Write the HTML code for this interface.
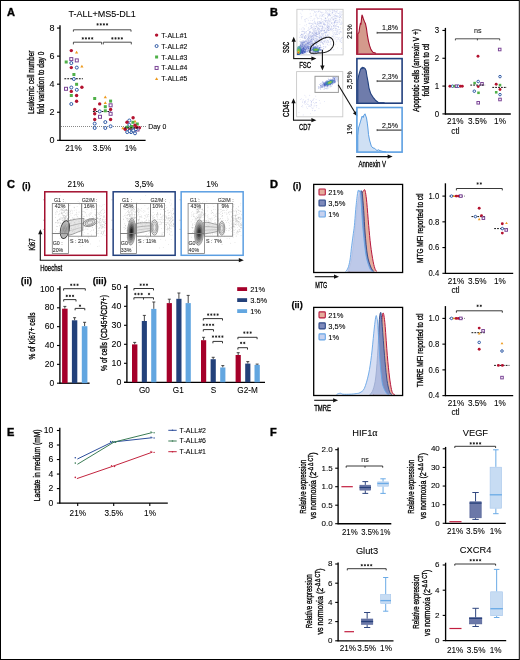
<!DOCTYPE html>
<html><head><meta charset="utf-8"><style>
html,body{margin:0;padding:0;background:#fff;}
svg{display:block;will-change:transform;}
text{font-family:"Liberation Sans", sans-serif;stroke:#000;stroke-width:0.1px;stroke-opacity:0.8;}
.cd{font-weight:normal;stroke-width:0.35px;stroke-opacity:0.9;}
</style></head><body>
<svg width="520" height="660" viewBox="0 0 520 660">
<rect x="0" y="0" width="520" height="660" fill="#fff"/>
<text x="7" y="16" font-size="11" font-weight="bold" fill="#000" style="stroke-width:0.5px">A</text>
<text x="102.1" y="16.6" font-size="9.3" text-anchor="middle" textLength="67.3" lengthAdjust="spacingAndGlyphs" fill="#000" >T-ALL+MS5-DL1</text>
<line x1="60" y1="25.2" x2="60" y2="140.8" stroke="#000" stroke-width="1.35" />
<line x1="59.5" y1="140.3" x2="145.6" y2="140.3" stroke="#000" stroke-width="1.35" />
<line x1="57" y1="140.3" x2="60" y2="140.3" stroke="#000" stroke-width="1.1" />
<text x="54.4" y="142.91" font-size="9" text-anchor="end" fill="#000" >0</text>
<line x1="57" y1="112.24" x2="60" y2="112.24" stroke="#000" stroke-width="1.1" />
<text x="54.4" y="114.85" font-size="9" text-anchor="end" fill="#000" >2</text>
<line x1="57" y1="84.18" x2="60" y2="84.18" stroke="#000" stroke-width="1.1" />
<text x="54.4" y="86.79" font-size="9" text-anchor="end" fill="#000" >4</text>
<line x1="57" y1="56.12" x2="60" y2="56.12" stroke="#000" stroke-width="1.1" />
<text x="54.4" y="58.73" font-size="9" text-anchor="end" fill="#000" >6</text>
<line x1="57" y1="28.06" x2="60" y2="28.06" stroke="#000" stroke-width="1.1" />
<text x="54.4" y="30.67" font-size="9" text-anchor="end" fill="#000" >8</text>
<line x1="61" y1="126.5" x2="146" y2="126.5" stroke="#555" stroke-width="0.7" stroke-dasharray="1 1"/>
<text x="148.3" y="129.2" font-size="7.5" textLength="18" lengthAdjust="spacingAndGlyphs" fill="#000" >Day 0</text>
<text x="73.5" y="150.8" font-size="8.2" text-anchor="middle" fill="#000" >21%</text>
<text x="102" y="150.8" font-size="8.2" text-anchor="middle" fill="#000" >3.5%</text>
<text x="130.7" y="150.8" font-size="8.2" text-anchor="middle" fill="#000" >1%</text>
<text transform="translate(34,82.3) rotate(-90)" x="0" y="0" font-size="9" text-anchor="middle" class="cd" textLength="63.6" lengthAdjust="spacingAndGlyphs" fill="#000">Leukemic cell number</text>
<text transform="translate(43.6,82.9) rotate(-90)" x="0" y="0" font-size="9" text-anchor="middle" class="cd" textLength="62.4" lengthAdjust="spacingAndGlyphs" fill="#000">fold variation to day 0</text>
<path d="M73.4,31.7 V29.8 H131 V31.7" stroke="#222" stroke-width="0.8" fill="none" />
<path d="M73.4,44.4 V42.2 H101.6 V44.4" stroke="#222" stroke-width="0.8" fill="none" />
<path d="M103.3,44.4 V42.2 H131.3 V44.4" stroke="#222" stroke-width="0.8" fill="none" />
<circle cx="97.58" cy="24.4" r="0.8" fill="#222"/>
<path d="M97.58,25.65 L97.58,23.15 M96.49,25.02 L98.66,23.77 M96.49,23.77 L98.66,25.02 " stroke="#222" stroke-width="0.55" fill="none" />
<circle cx="100.73" cy="24.4" r="0.8" fill="#222"/>
<path d="M100.73,25.65 L100.73,23.15 M99.64,25.02 L101.81,23.77 M99.64,23.77 L101.81,25.02 " stroke="#222" stroke-width="0.55" fill="none" />
<circle cx="103.88" cy="24.4" r="0.8" fill="#222"/>
<path d="M103.88,25.65 L103.88,23.15 M102.79,25.02 L104.96,23.77 M102.79,23.77 L104.96,25.02 " stroke="#222" stroke-width="0.55" fill="none" />
<circle cx="107.03" cy="24.4" r="0.8" fill="#222"/>
<path d="M107.03,25.65 L107.03,23.15 M105.94,25.02 L108.11,23.77 M105.94,23.77 L108.11,25.02 " stroke="#222" stroke-width="0.55" fill="none" />
<circle cx="82.78" cy="38.4" r="0.8" fill="#222"/>
<path d="M82.78,39.65 L82.78,37.15 M81.69,39.02 L83.86,37.77 M81.69,37.77 L83.86,39.02 " stroke="#222" stroke-width="0.55" fill="none" />
<circle cx="85.93" cy="38.4" r="0.8" fill="#222"/>
<path d="M85.93,39.65 L85.93,37.15 M84.84,39.02 L87.01,37.77 M84.84,37.77 L87.01,39.02 " stroke="#222" stroke-width="0.55" fill="none" />
<circle cx="89.08" cy="38.4" r="0.8" fill="#222"/>
<path d="M89.08,39.65 L89.08,37.15 M87.99,39.02 L90.16,37.77 M87.99,37.77 L90.16,39.02 " stroke="#222" stroke-width="0.55" fill="none" />
<circle cx="92.23" cy="38.4" r="0.8" fill="#222"/>
<path d="M92.23,39.65 L92.23,37.15 M91.14,39.02 L93.31,37.77 M91.14,37.77 L93.31,39.02 " stroke="#222" stroke-width="0.55" fill="none" />
<circle cx="112.38" cy="38.4" r="0.8" fill="#222"/>
<path d="M112.38,39.65 L112.38,37.15 M111.29,39.02 L113.46,37.77 M111.29,37.77 L113.46,39.02 " stroke="#222" stroke-width="0.55" fill="none" />
<circle cx="115.53" cy="38.4" r="0.8" fill="#222"/>
<path d="M115.53,39.65 L115.53,37.15 M114.44,39.02 L116.61,37.77 M114.44,37.77 L116.61,39.02 " stroke="#222" stroke-width="0.55" fill="none" />
<circle cx="118.67" cy="38.4" r="0.8" fill="#222"/>
<path d="M118.67,39.65 L118.67,37.15 M117.59,39.02 L119.76,37.77 M117.59,37.77 L119.76,39.02 " stroke="#222" stroke-width="0.55" fill="none" />
<circle cx="121.83" cy="38.4" r="0.8" fill="#222"/>
<path d="M121.83,39.65 L121.83,37.15 M120.74,39.02 L122.91,37.77 M120.74,37.77 L122.91,39.02 " stroke="#222" stroke-width="0.55" fill="none" />
<line x1="64.4" y1="78.7" x2="82.9" y2="78.7" stroke="#111" stroke-width="1.1" stroke-dasharray="1.8 1.1"/>
<line x1="92.9" y1="111.5" x2="110.7" y2="111.5" stroke="#111" stroke-width="1.1" stroke-dasharray="1.8 1.1"/>
<circle cx="71.3" cy="50.6" r="1.7" fill="#b3122f"/>
<path d="M76.6,50.83 L78.2,53.61 L75,53.61 Z" fill="#ee9a1c"/>
<rect x="69.8" y="57.6" width="3" height="3" fill="#fff" stroke="#7b4596" stroke-width="1" />
<rect x="75.3" y="58.9" width="3" height="3" fill="#fff" stroke="#7b4596" stroke-width="1" />
<rect x="64.7" y="60.5" width="3" height="3" fill="#4fb048" stroke="none" stroke-width="1" />
<circle cx="71.3" cy="63.1" r="1.5" fill="#fff" stroke="#2f5aa6" stroke-width="1.0"/>
<circle cx="71.3" cy="67.6" r="1.7" fill="#b3122f"/>
<circle cx="76.8" cy="67.6" r="1.5" fill="#fff" stroke="#2f5aa6" stroke-width="1.0"/>
<path d="M81.9,64.83 L83.5,67.61 L80.3,67.61 Z" fill="#ee9a1c"/>
<rect x="72.4" y="73" width="3" height="3" fill="#4fb048" stroke="none" stroke-width="1" />
<circle cx="73.9" cy="79" r="1.5" fill="#fff" stroke="#2f5aa6" stroke-width="1.0"/>
<rect x="75.1" y="82.8" width="3" height="3" fill="#4fb048" stroke="none" stroke-width="1" />
<circle cx="81.9" cy="87.2" r="1.7" fill="#b3122f"/>
<rect x="64.5" y="87.3" width="3" height="3" fill="#fff" stroke="#7b4596" stroke-width="1" />
<circle cx="71.3" cy="87.5" r="1.5" fill="#fff" stroke="#2f5aa6" stroke-width="1.0"/>
<circle cx="76.8" cy="89.8" r="1.5" fill="#fff" stroke="#2f5aa6" stroke-width="1.0"/>
<circle cx="71.3" cy="91.4" r="1.7" fill="#b3122f"/>
<rect x="69.8" y="94" width="3" height="3" fill="#4fb048" stroke="none" stroke-width="1" />
<circle cx="76.6" cy="95.5" r="1.7" fill="#b3122f"/>
<circle cx="76.6" cy="101.3" r="1.7" fill="#b3122f"/>
<circle cx="71.3" cy="104" r="1.5" fill="#fff" stroke="#2f5aa6" stroke-width="1.0"/>
<rect x="93.2" y="97" width="3" height="3" fill="#4fb048" stroke="none" stroke-width="1" />
<path d="M105.3,95.43 L106.9,98.21 L103.7,98.21 Z" fill="#ee9a1c"/>
<path d="M105.3,101.13 L106.9,103.91 L103.7,103.91 Z" fill="#ee9a1c"/>
<rect x="109.1" y="99.6" width="3" height="3" fill="#4fb048" stroke="none" stroke-width="1" />
<circle cx="99.7" cy="103.9" r="1.7" fill="#b3122f"/>
<rect x="109.1" y="103.8" width="3" height="3" fill="#fff" stroke="#7b4596" stroke-width="1" />
<rect x="103.8" y="105.2" width="3" height="3" fill="#4fb048" stroke="none" stroke-width="1" />
<circle cx="94.7" cy="109.4" r="1.7" fill="#b3122f"/>
<circle cx="110.6" cy="109.4" r="1.7" fill="#b3122f"/>
<rect x="103.8" y="109.3" width="3" height="3" fill="#4fb048" stroke="none" stroke-width="1" />
<circle cx="99.7" cy="111.4" r="1.5" fill="#fff" stroke="#2f5aa6" stroke-width="1.0"/>
<circle cx="94.7" cy="113.8" r="1.7" fill="#b3122f"/>
<rect x="109.1" y="112.3" width="3" height="3" fill="#fff" stroke="#7b4596" stroke-width="1" />
<rect x="98.5" y="115.3" width="3" height="3" fill="#fff" stroke="#7b4596" stroke-width="1" />
<circle cx="94.7" cy="119.5" r="1.7" fill="#b3122f"/>
<circle cx="110.6" cy="119.5" r="1.7" fill="#b3122f"/>
<circle cx="105.3" cy="122.1" r="1.5" fill="#fff" stroke="#2f5aa6" stroke-width="1.0"/>
<circle cx="94.7" cy="123.6" r="1.5" fill="#fff" stroke="#2f5aa6" stroke-width="1.0"/>
<circle cx="94.7" cy="128" r="1.5" fill="#fff" stroke="#2f5aa6" stroke-width="1.0"/>
<circle cx="105.3" cy="128" r="1.5" fill="#fff" stroke="#2f5aa6" stroke-width="1.0"/>
<circle cx="110.6" cy="126.3" r="1.5" fill="#fff" stroke="#2f5aa6" stroke-width="1.0"/>
<circle cx="133.1" cy="117.8" r="1.7" fill="#b3122f"/>
<circle cx="129.3" cy="120.5" r="1.5" fill="#fff" stroke="#2f5aa6" stroke-width="1.0"/>
<path d="M135,119.63 L136.6,122.41 L133.4,122.41 Z" fill="#ee9a1c"/>
<circle cx="127" cy="122.3" r="1.7" fill="#b3122f"/>
<rect x="131.4" y="120.8" width="3" height="3" fill="#4fb048" stroke="none" stroke-width="1" />
<rect x="135.8" y="122.5" width="3" height="3" fill="#4fb048" stroke="none" stroke-width="1" />
<circle cx="129.3" cy="124.9" r="1.5" fill="#fff" stroke="#2f5aa6" stroke-width="1.0"/>
<rect x="130" y="125" width="3" height="3" fill="#4fb048" stroke="none" stroke-width="1" />
<circle cx="135" cy="125.2" r="1.7" fill="#b3122f"/>
<path d="M122.9,126.43 L124.5,129.21 L121.3,129.21 Z" fill="#ee9a1c"/>
<rect x="125.7" y="125.7" width="3" height="3" fill="#4fb048" stroke="none" stroke-width="1" />
<circle cx="125.2" cy="129.2" r="1.7" fill="#b3122f"/>
<circle cx="139.4" cy="127.8" r="1.7" fill="#b3122f"/>
<rect x="136" y="128" width="3" height="3" fill="#fff" stroke="#7b4596" stroke-width="1" />
<rect x="129.5" y="127" width="3" height="3" fill="#4fb048" stroke="none" stroke-width="1" />
<circle cx="129.5" cy="129.8" r="1.7" fill="#b3122f"/>
<rect x="132" y="129" width="3" height="3" fill="#fff" stroke="#7b4596" stroke-width="1" />
<circle cx="127.2" cy="132.1" r="1.5" fill="#fff" stroke="#2f5aa6" stroke-width="1.0"/>
<circle cx="131" cy="132.1" r="1.5" fill="#fff" stroke="#2f5aa6" stroke-width="1.0"/>
<circle cx="135" cy="133.3" r="1.5" fill="#fff" stroke="#2f5aa6" stroke-width="1.0"/>
<circle cx="133.3" cy="130.4" r="1.5" fill="#fff" stroke="#2f5aa6" stroke-width="1.0"/>
<circle cx="135.9" cy="129.2" r="1.5" fill="#fff" stroke="#2f5aa6" stroke-width="1.0"/>
<circle cx="136.5" cy="127.3" r="1.7" fill="#b3122f"/>
<circle cx="129.5" cy="131" r="1.5" fill="#fff" stroke="#2f5aa6" stroke-width="1.0"/>
<line x1="124.5" y1="127.8" x2="138.5" y2="127.8" stroke="#111" stroke-width="1.1" stroke-dasharray="1.8 1.1"/>
<circle cx="156.6" cy="35.1" r="1.7" fill="#b3122f"/>
<text x="161.3" y="37.6" font-size="7" textLength="26" lengthAdjust="spacingAndGlyphs" fill="#000" >T-ALL#1</text>
<circle cx="156.6" cy="46.05" r="1.5" fill="#fff" stroke="#2f5aa6" stroke-width="1.0"/>
<text x="161.3" y="48.55" font-size="7" textLength="26" lengthAdjust="spacingAndGlyphs" fill="#000" >T-ALL#2</text>
<rect x="155.1" y="55.5" width="3" height="3" fill="#4fb048" stroke="none" stroke-width="1" />
<text x="161.3" y="59.5" font-size="7" textLength="26" lengthAdjust="spacingAndGlyphs" fill="#000" >T-ALL#3</text>
<rect x="155.1" y="66.45" width="3" height="3" fill="#fff" stroke="#7b4596" stroke-width="1" />
<text x="161.3" y="70.45" font-size="7" textLength="26" lengthAdjust="spacingAndGlyphs" fill="#000" >T-ALL#4</text>
<path d="M156.6,77.23 L158.2,80.01 L155,80.01 Z" fill="#ee9a1c"/>
<text x="161.3" y="81.4" font-size="7" textLength="26" lengthAdjust="spacingAndGlyphs" fill="#000" >T-ALL#5</text>
<text x="270" y="16.2" font-size="11" font-weight="bold" fill="#000" style="stroke-width:0.5px">B</text>
<rect x="296.9" y="9.3" width="46.2" height="45.6" fill="none" stroke="#c9c9c9" stroke-width="0.9" />
<g fill="#6a7ad0" fill-opacity="0.4"><circle cx="300.34" cy="52.69" r="0.4"/><circle cx="321.44" cy="30.04" r="0.4"/><circle cx="306.16" cy="47.38" r="0.4"/><circle cx="334.81" cy="22.04" r="0.4"/><circle cx="321.02" cy="18.33" r="0.4"/><circle cx="339.65" cy="13.81" r="0.4"/><circle cx="325.63" cy="20.71" r="0.4"/><circle cx="298.38" cy="52.25" r="0.4"/><circle cx="331.43" cy="29.37" r="0.4"/><circle cx="312.61" cy="40.52" r="0.4"/><circle cx="306.31" cy="42" r="0.4"/><circle cx="310.19" cy="32.97" r="0.4"/><circle cx="323.83" cy="36.17" r="0.4"/><circle cx="302.44" cy="47.1" r="0.4"/><circle cx="309.65" cy="41.45" r="0.4"/><circle cx="308.98" cy="37.12" r="0.4"/><circle cx="312.01" cy="27.79" r="0.4"/><circle cx="314.46" cy="34.81" r="0.4"/><circle cx="318.35" cy="25.65" r="0.4"/><circle cx="315.3" cy="49.9" r="0.4"/><circle cx="309.51" cy="31.74" r="0.4"/><circle cx="303.64" cy="53.62" r="0.4"/><circle cx="297.5" cy="53.16" r="0.4"/><circle cx="300.22" cy="51.32" r="0.4"/><circle cx="302.77" cy="48.2" r="0.4"/><circle cx="316.23" cy="34.77" r="0.4"/><circle cx="306.14" cy="31.86" r="0.4"/><circle cx="306.87" cy="41.1" r="0.4"/><circle cx="317.11" cy="36.5" r="0.4"/><circle cx="301.83" cy="34.26" r="0.4"/><circle cx="308.92" cy="33.77" r="0.4"/><circle cx="300.49" cy="51.51" r="0.4"/><circle cx="322.06" cy="39.29" r="0.4"/><circle cx="306.08" cy="44.34" r="0.4"/><circle cx="305.02" cy="46.62" r="0.4"/><circle cx="325.96" cy="28.25" r="0.4"/><circle cx="298.2" cy="53.53" r="0.4"/><circle cx="299.02" cy="49.87" r="0.4"/><circle cx="319.06" cy="18.27" r="0.4"/><circle cx="323.19" cy="24.68" r="0.4"/><circle cx="306.21" cy="40.77" r="0.4"/><circle cx="325.74" cy="34.58" r="0.4"/><circle cx="326.37" cy="32.09" r="0.4"/><circle cx="306.42" cy="47.37" r="0.4"/><circle cx="298.78" cy="52.65" r="0.4"/><circle cx="316.49" cy="26.28" r="0.4"/><circle cx="302.81" cy="42.09" r="0.4"/><circle cx="298.41" cy="50.28" r="0.4"/><circle cx="316.65" cy="32.87" r="0.4"/><circle cx="324.23" cy="41.01" r="0.4"/><circle cx="298.46" cy="52.51" r="0.4"/><circle cx="321.37" cy="37.35" r="0.4"/><circle cx="327.9" cy="23.59" r="0.4"/><circle cx="339.51" cy="33.95" r="0.4"/><circle cx="311.49" cy="49.85" r="0.4"/><circle cx="300.53" cy="52.18" r="0.4"/><circle cx="325.96" cy="42.97" r="0.4"/><circle cx="300.69" cy="45.75" r="0.4"/><circle cx="337.07" cy="16.31" r="0.4"/><circle cx="304.7" cy="42.92" r="0.4"/><circle cx="300.13" cy="52.55" r="0.4"/><circle cx="318.61" cy="30.44" r="0.4"/><circle cx="303.36" cy="48.76" r="0.4"/><circle cx="315.53" cy="38.17" r="0.4"/><circle cx="325.22" cy="24.64" r="0.4"/><circle cx="306.98" cy="46.55" r="0.4"/><circle cx="305.16" cy="51.35" r="0.4"/><circle cx="303.67" cy="41.41" r="0.4"/><circle cx="334.04" cy="34.98" r="0.4"/><circle cx="298.71" cy="54.36" r="0.4"/><circle cx="299.13" cy="54.14" r="0.4"/><circle cx="324.14" cy="31.84" r="0.4"/><circle cx="311.84" cy="41.27" r="0.4"/><circle cx="336.75" cy="34.36" r="0.4"/><circle cx="338.14" cy="26.78" r="0.4"/><circle cx="299.18" cy="52.2" r="0.4"/><circle cx="325.36" cy="18.65" r="0.4"/><circle cx="334.02" cy="49.17" r="0.4"/><circle cx="327.29" cy="13.09" r="0.4"/><circle cx="305.04" cy="47.43" r="0.4"/><circle cx="306.84" cy="51.44" r="0.4"/><circle cx="313.58" cy="46.52" r="0.4"/><circle cx="304.39" cy="48.77" r="0.4"/><circle cx="312.51" cy="32.55" r="0.4"/><circle cx="321.93" cy="41.84" r="0.4"/><circle cx="333.18" cy="28.52" r="0.4"/><circle cx="317.97" cy="34.33" r="0.4"/><circle cx="299.83" cy="51.88" r="0.4"/><circle cx="310.55" cy="45.09" r="0.4"/><circle cx="316.22" cy="33.55" r="0.4"/><circle cx="299.04" cy="53.8" r="0.4"/><circle cx="306.51" cy="49.02" r="0.4"/><circle cx="317.44" cy="45.75" r="0.4"/><circle cx="304.83" cy="45.68" r="0.4"/><circle cx="307.66" cy="51.25" r="0.4"/><circle cx="321.89" cy="47.54" r="0.4"/><circle cx="297.74" cy="52.55" r="0.4"/><circle cx="303.59" cy="51.52" r="0.4"/><circle cx="312.9" cy="29.2" r="0.4"/><circle cx="305.71" cy="41.67" r="0.4"/><circle cx="326.16" cy="38.54" r="0.4"/><circle cx="304.86" cy="45.74" r="0.4"/><circle cx="298.81" cy="54.47" r="0.4"/><circle cx="302.48" cy="51.1" r="0.4"/><circle cx="320.58" cy="44.74" r="0.4"/><circle cx="305.83" cy="40.75" r="0.4"/><circle cx="317.51" cy="21.14" r="0.4"/><circle cx="298.72" cy="52.91" r="0.4"/><circle cx="330.11" cy="28.55" r="0.4"/><circle cx="297.78" cy="53.25" r="0.4"/><circle cx="321.96" cy="25.53" r="0.4"/><circle cx="305.28" cy="36.55" r="0.4"/><circle cx="307.28" cy="52.1" r="0.4"/><circle cx="308.18" cy="37.68" r="0.4"/><circle cx="300.01" cy="49.58" r="0.4"/><circle cx="324.55" cy="27.87" r="0.4"/><circle cx="297.59" cy="53.18" r="0.4"/><circle cx="301.33" cy="43.04" r="0.4"/><circle cx="327.71" cy="37.85" r="0.4"/><circle cx="302.58" cy="42.49" r="0.4"/><circle cx="298.97" cy="49.69" r="0.4"/><circle cx="302.65" cy="45.13" r="0.4"/><circle cx="337.21" cy="24.14" r="0.4"/><circle cx="301.39" cy="45.58" r="0.4"/><circle cx="299.06" cy="51.85" r="0.4"/><circle cx="327.96" cy="20.65" r="0.4"/><circle cx="331.1" cy="17.89" r="0.4"/><circle cx="311.18" cy="37.57" r="0.4"/><circle cx="318.55" cy="40.57" r="0.4"/><circle cx="311.78" cy="42.93" r="0.4"/><circle cx="301.23" cy="51.92" r="0.4"/><circle cx="307.06" cy="47.3" r="0.4"/><circle cx="305.2" cy="46.24" r="0.4"/><circle cx="300.86" cy="50.34" r="0.4"/><circle cx="327.81" cy="26.06" r="0.4"/><circle cx="306.25" cy="48.3" r="0.4"/><circle cx="321.62" cy="37.8" r="0.4"/><circle cx="302.77" cy="52.25" r="0.4"/><circle cx="306.28" cy="43.32" r="0.4"/><circle cx="304.84" cy="33.74" r="0.4"/><circle cx="324.37" cy="23.14" r="0.4"/><circle cx="325.38" cy="36.92" r="0.4"/><circle cx="341.83" cy="12.28" r="0.4"/><circle cx="340.1" cy="41.72" r="0.4"/><circle cx="315.34" cy="23.32" r="0.4"/><circle cx="334.87" cy="14.42" r="0.4"/><circle cx="309.35" cy="40.83" r="0.4"/><circle cx="305.44" cy="50.4" r="0.4"/><circle cx="335.78" cy="18.38" r="0.4"/><circle cx="311.05" cy="47.37" r="0.4"/><circle cx="322.07" cy="33.73" r="0.4"/><circle cx="308.58" cy="39.06" r="0.4"/><circle cx="304.97" cy="44.88" r="0.4"/><circle cx="323.27" cy="33.25" r="0.4"/><circle cx="306.32" cy="48.43" r="0.4"/><circle cx="308.59" cy="27.72" r="0.4"/><circle cx="314.16" cy="20.03" r="0.4"/><circle cx="319.49" cy="44.46" r="0.4"/><circle cx="300.21" cy="51.18" r="0.4"/><circle cx="340.06" cy="31.53" r="0.4"/><circle cx="304.55" cy="32.94" r="0.4"/><circle cx="310.67" cy="45.03" r="0.4"/><circle cx="334.69" cy="26.54" r="0.4"/><circle cx="321.91" cy="28.16" r="0.4"/><circle cx="300.95" cy="51.12" r="0.4"/><circle cx="312.74" cy="44.07" r="0.4"/><circle cx="313.59" cy="45.37" r="0.4"/><circle cx="321.74" cy="38.11" r="0.4"/><circle cx="313.02" cy="35.88" r="0.4"/><circle cx="338.66" cy="13.58" r="0.4"/><circle cx="319.61" cy="16.75" r="0.4"/><circle cx="304.8" cy="45.88" r="0.4"/><circle cx="311.92" cy="46.38" r="0.4"/><circle cx="335.23" cy="34.54" r="0.4"/><circle cx="322.57" cy="26.89" r="0.4"/><circle cx="303.95" cy="42.17" r="0.4"/><circle cx="299.81" cy="51.38" r="0.4"/><circle cx="314.97" cy="47.78" r="0.4"/><circle cx="306.34" cy="47.08" r="0.4"/><circle cx="334.7" cy="24.78" r="0.4"/><circle cx="330.42" cy="50.42" r="0.4"/><circle cx="305.74" cy="48.31" r="0.4"/><circle cx="306.23" cy="45.62" r="0.4"/><circle cx="306.57" cy="47.73" r="0.4"/><circle cx="321.56" cy="42.09" r="0.4"/><circle cx="298.87" cy="52.4" r="0.4"/><circle cx="315.42" cy="30.23" r="0.4"/><circle cx="319.14" cy="33.39" r="0.4"/><circle cx="322.6" cy="34.17" r="0.4"/><circle cx="323.27" cy="44.45" r="0.4"/><circle cx="312.78" cy="42.15" r="0.4"/><circle cx="315.03" cy="40.61" r="0.4"/><circle cx="302.7" cy="50.56" r="0.4"/><circle cx="328.88" cy="36.69" r="0.4"/><circle cx="318.63" cy="21.77" r="0.4"/><circle cx="329.79" cy="21.38" r="0.4"/><circle cx="306.26" cy="37.35" r="0.4"/><circle cx="299.49" cy="49.72" r="0.4"/><circle cx="301.69" cy="41.72" r="0.4"/><circle cx="314.73" cy="21.58" r="0.4"/><circle cx="300.74" cy="53.52" r="0.4"/><circle cx="303.46" cy="49.27" r="0.4"/><circle cx="315.43" cy="33.19" r="0.4"/><circle cx="326.81" cy="20.27" r="0.4"/><circle cx="310.4" cy="46.6" r="0.4"/><circle cx="330.74" cy="49.08" r="0.4"/><circle cx="336.7" cy="12.06" r="0.4"/><circle cx="303.82" cy="52.46" r="0.4"/><circle cx="299.31" cy="52.89" r="0.4"/><circle cx="303.59" cy="49.31" r="0.4"/><circle cx="306.71" cy="46.94" r="0.4"/><circle cx="309.92" cy="41.09" r="0.4"/><circle cx="325.14" cy="38.72" r="0.4"/><circle cx="318.96" cy="37.96" r="0.4"/><circle cx="307.98" cy="48.97" r="0.4"/><circle cx="313.7" cy="35" r="0.4"/><circle cx="301.83" cy="43.19" r="0.4"/><circle cx="315.76" cy="36.15" r="0.4"/><circle cx="332.25" cy="31.2" r="0.4"/><circle cx="316.13" cy="15.61" r="0.4"/><circle cx="313.65" cy="44.98" r="0.4"/><circle cx="318.69" cy="23.66" r="0.4"/><circle cx="333.67" cy="25.81" r="0.4"/><circle cx="305.61" cy="46.03" r="0.4"/><circle cx="328.89" cy="10.93" r="0.4"/><circle cx="298.18" cy="54.36" r="0.4"/><circle cx="298.42" cy="53.18" r="0.4"/><circle cx="304.91" cy="44.22" r="0.4"/><circle cx="313.4" cy="45.45" r="0.4"/><circle cx="304.02" cy="41.05" r="0.4"/><circle cx="306.34" cy="45.39" r="0.4"/><circle cx="328.62" cy="23.72" r="0.4"/><circle cx="318.88" cy="34.97" r="0.4"/><circle cx="339.72" cy="21.85" r="0.4"/><circle cx="313.91" cy="28.58" r="0.4"/><circle cx="327.85" cy="28.88" r="0.4"/><circle cx="302.65" cy="44.55" r="0.4"/><circle cx="327.85" cy="16.74" r="0.4"/><circle cx="305.57" cy="50" r="0.4"/><circle cx="309.86" cy="44.41" r="0.4"/><circle cx="313.85" cy="48.65" r="0.4"/><circle cx="311.29" cy="16.23" r="0.4"/><circle cx="310.53" cy="45.75" r="0.4"/><circle cx="305.94" cy="48.18" r="0.4"/><circle cx="309.15" cy="47.53" r="0.4"/><circle cx="325.78" cy="35.61" r="0.4"/><circle cx="325.39" cy="18.6" r="0.4"/><circle cx="329.66" cy="20.53" r="0.4"/><circle cx="325.84" cy="10.97" r="0.4"/><circle cx="326.98" cy="26.89" r="0.4"/><circle cx="303.49" cy="48.09" r="0.4"/><circle cx="324.8" cy="32.72" r="0.4"/><circle cx="326.38" cy="42.42" r="0.4"/><circle cx="307.92" cy="30.45" r="0.4"/><circle cx="339.05" cy="17.76" r="0.4"/><circle cx="329.52" cy="38.77" r="0.4"/><circle cx="310.79" cy="41.28" r="0.4"/><circle cx="299.25" cy="52.18" r="0.4"/><circle cx="299.25" cy="53.51" r="0.4"/><circle cx="298.17" cy="53.16" r="0.4"/><circle cx="329.63" cy="15.74" r="0.4"/><circle cx="302.33" cy="50.11" r="0.4"/><circle cx="302.31" cy="51.02" r="0.4"/><circle cx="317.22" cy="27.41" r="0.4"/><circle cx="300.72" cy="52.43" r="0.4"/><circle cx="322.49" cy="14.65" r="0.4"/><circle cx="303.03" cy="52.76" r="0.4"/><circle cx="305.66" cy="52.86" r="0.4"/><circle cx="326.87" cy="29.06" r="0.4"/><circle cx="319.21" cy="33.88" r="0.4"/><circle cx="307.63" cy="45.75" r="0.4"/><circle cx="317.59" cy="49.74" r="0.4"/><circle cx="300.76" cy="46.4" r="0.4"/><circle cx="299.24" cy="53.53" r="0.4"/><circle cx="335.9" cy="26" r="0.4"/><circle cx="328.15" cy="35.3" r="0.4"/><circle cx="315.95" cy="35.27" r="0.4"/><circle cx="325.47" cy="40.52" r="0.4"/><circle cx="319.76" cy="39.8" r="0.4"/><circle cx="300.72" cy="35.38" r="0.4"/><circle cx="303.27" cy="51.96" r="0.4"/><circle cx="313.74" cy="45.76" r="0.4"/><circle cx="298.11" cy="52.04" r="0.4"/><circle cx="301.17" cy="51.64" r="0.4"/><circle cx="334.46" cy="15.94" r="0.4"/><circle cx="332.65" cy="29.78" r="0.4"/><circle cx="313.09" cy="34.08" r="0.4"/><circle cx="333.92" cy="28.21" r="0.4"/><circle cx="319.65" cy="31.48" r="0.4"/><circle cx="331.66" cy="44.91" r="0.4"/><circle cx="306.23" cy="47.67" r="0.4"/><circle cx="311.16" cy="45.24" r="0.4"/><circle cx="307.96" cy="43.42" r="0.4"/><circle cx="332" cy="22.41" r="0.4"/><circle cx="299.59" cy="52.28" r="0.4"/><circle cx="299.96" cy="53.17" r="0.4"/><circle cx="301.93" cy="33.12" r="0.4"/><circle cx="300.15" cy="52.01" r="0.4"/><circle cx="337.31" cy="34.51" r="0.4"/><circle cx="311.62" cy="36.61" r="0.4"/><circle cx="306.5" cy="52.93" r="0.4"/><circle cx="319.75" cy="21.73" r="0.4"/><circle cx="299.17" cy="54.01" r="0.4"/><circle cx="338.23" cy="13.36" r="0.4"/><circle cx="311.46" cy="41.44" r="0.4"/><circle cx="303.84" cy="48.52" r="0.4"/><circle cx="326.91" cy="20.11" r="0.4"/><circle cx="309.95" cy="22.85" r="0.4"/><circle cx="311.76" cy="35.57" r="0.4"/><circle cx="327.28" cy="10.16" r="0.4"/><circle cx="300.52" cy="52.48" r="0.4"/><circle cx="297.64" cy="53.73" r="0.4"/><circle cx="319.85" cy="33.24" r="0.4"/><circle cx="313.15" cy="44.95" r="0.4"/><circle cx="309.06" cy="42.64" r="0.4"/><circle cx="328.91" cy="45.21" r="0.4"/><circle cx="336.03" cy="11.35" r="0.4"/><circle cx="338.72" cy="39.21" r="0.4"/><circle cx="320.25" cy="37.14" r="0.4"/><circle cx="297.6" cy="51.56" r="0.4"/><circle cx="319.56" cy="23.77" r="0.4"/><circle cx="339.6" cy="29.55" r="0.4"/><circle cx="327.07" cy="35.6" r="0.4"/><circle cx="299.02" cy="53.96" r="0.4"/><circle cx="324.04" cy="30.02" r="0.4"/><circle cx="297.91" cy="52.96" r="0.4"/><circle cx="314.08" cy="36.26" r="0.4"/><circle cx="325.53" cy="35.82" r="0.4"/><circle cx="313.03" cy="10.49" r="0.4"/><circle cx="310.32" cy="35.51" r="0.4"/><circle cx="300.98" cy="53.05" r="0.4"/><circle cx="321.18" cy="16.24" r="0.4"/><circle cx="317.81" cy="34.21" r="0.4"/><circle cx="328.83" cy="42.12" r="0.4"/><circle cx="299.59" cy="52.43" r="0.4"/><circle cx="319.41" cy="33.11" r="0.4"/><circle cx="298.95" cy="52.36" r="0.4"/><circle cx="300.59" cy="50" r="0.4"/><circle cx="311.75" cy="10.4" r="0.4"/><circle cx="339.88" cy="17.45" r="0.4"/><circle cx="309.16" cy="46.19" r="0.4"/><circle cx="318.6" cy="28.03" r="0.4"/><circle cx="305.09" cy="48.15" r="0.4"/><circle cx="316.97" cy="32.54" r="0.4"/><circle cx="299.38" cy="53.51" r="0.4"/><circle cx="305.41" cy="44.99" r="0.4"/><circle cx="328.41" cy="30.41" r="0.4"/><circle cx="307.52" cy="46.32" r="0.4"/><circle cx="309.01" cy="38.84" r="0.4"/><circle cx="337.64" cy="31.26" r="0.4"/><circle cx="328" cy="16.3" r="0.4"/><circle cx="306.19" cy="31.58" r="0.4"/><circle cx="314.29" cy="49.22" r="0.4"/><circle cx="341.3" cy="42.15" r="0.4"/><circle cx="312.51" cy="24.65" r="0.4"/><circle cx="322.32" cy="35.56" r="0.4"/><circle cx="308.58" cy="38.07" r="0.4"/><circle cx="299.27" cy="52.55" r="0.4"/><circle cx="302.01" cy="51.16" r="0.4"/><circle cx="329.22" cy="38.59" r="0.4"/><circle cx="315.85" cy="32.92" r="0.4"/><circle cx="303.38" cy="48.66" r="0.4"/><circle cx="311.08" cy="23.58" r="0.4"/><circle cx="325.69" cy="32.48" r="0.4"/><circle cx="309.14" cy="46.27" r="0.4"/><circle cx="314.6" cy="23.66" r="0.4"/><circle cx="327.78" cy="40.69" r="0.4"/><circle cx="299.65" cy="52.96" r="0.4"/><circle cx="312.15" cy="23.86" r="0.4"/><circle cx="327.17" cy="40.11" r="0.4"/><circle cx="325.02" cy="36.68" r="0.4"/><circle cx="335.03" cy="15.51" r="0.4"/><circle cx="297.66" cy="52.47" r="0.4"/><circle cx="302.8" cy="48.96" r="0.4"/><circle cx="299.76" cy="53.5" r="0.4"/><circle cx="327.87" cy="14.65" r="0.4"/><circle cx="311.55" cy="25.84" r="0.4"/><circle cx="300.47" cy="50.64" r="0.4"/><circle cx="314.05" cy="35.11" r="0.4"/><circle cx="302.19" cy="49.39" r="0.4"/><circle cx="313.88" cy="38.37" r="0.4"/><circle cx="322.1" cy="28.95" r="0.4"/><circle cx="304.66" cy="44.14" r="0.4"/><circle cx="300.31" cy="51.77" r="0.4"/><circle cx="310.24" cy="45.94" r="0.4"/><circle cx="315.28" cy="41.25" r="0.4"/><circle cx="302.08" cy="50.32" r="0.4"/><circle cx="298.99" cy="50.56" r="0.4"/><circle cx="336.14" cy="28.17" r="0.4"/><circle cx="306.39" cy="48.37" r="0.4"/><circle cx="308.63" cy="44.99" r="0.4"/><circle cx="340.25" cy="31.9" r="0.4"/><circle cx="321.15" cy="40.68" r="0.4"/><circle cx="311.01" cy="50.1" r="0.4"/><circle cx="302.97" cy="42.71" r="0.4"/><circle cx="323.23" cy="46.44" r="0.4"/><circle cx="336.41" cy="24.75" r="0.4"/><circle cx="315.46" cy="28.66" r="0.4"/><circle cx="339.93" cy="17.52" r="0.4"/><circle cx="318.61" cy="41.8" r="0.4"/><circle cx="321.08" cy="23.47" r="0.4"/><circle cx="306.06" cy="41.63" r="0.4"/><circle cx="310.35" cy="43.9" r="0.4"/><circle cx="332.34" cy="36.53" r="0.4"/><circle cx="303.47" cy="49.65" r="0.4"/><circle cx="314.97" cy="32.36" r="0.4"/><circle cx="315.64" cy="35.65" r="0.4"/><circle cx="320.66" cy="45.49" r="0.4"/><circle cx="319.08" cy="23.74" r="0.4"/><circle cx="304.17" cy="42.15" r="0.4"/><circle cx="301.37" cy="51.86" r="0.4"/><circle cx="318.37" cy="25.09" r="0.4"/><circle cx="313.93" cy="31.68" r="0.4"/><circle cx="320.8" cy="15.13" r="0.4"/><circle cx="317.69" cy="23.49" r="0.4"/><circle cx="300.8" cy="49.21" r="0.4"/><circle cx="297.65" cy="53.8" r="0.4"/><circle cx="302.31" cy="30.92" r="0.4"/><circle cx="317.69" cy="28.66" r="0.4"/><circle cx="305.76" cy="51.42" r="0.4"/><circle cx="336.07" cy="37.67" r="0.4"/><circle cx="316.7" cy="42.59" r="0.4"/><circle cx="332.24" cy="19.03" r="0.4"/><circle cx="321.68" cy="12.22" r="0.4"/><circle cx="298.44" cy="52.27" r="0.4"/><circle cx="322.28" cy="38.11" r="0.4"/><circle cx="302.95" cy="50.36" r="0.4"/><circle cx="325.55" cy="37.86" r="0.4"/><circle cx="337.09" cy="29.19" r="0.4"/><circle cx="307.93" cy="42.01" r="0.4"/><circle cx="297.51" cy="52.94" r="0.4"/><circle cx="318.38" cy="32.52" r="0.4"/><circle cx="313.46" cy="48.5" r="0.4"/><circle cx="317.16" cy="34.38" r="0.4"/><circle cx="310.92" cy="16.16" r="0.4"/><circle cx="322.73" cy="30.08" r="0.4"/><circle cx="308.53" cy="37.46" r="0.4"/><circle cx="319.09" cy="34.67" r="0.4"/><circle cx="325.68" cy="38.33" r="0.4"/><circle cx="300.74" cy="52.94" r="0.4"/><circle cx="329.75" cy="13.96" r="0.4"/><circle cx="311.58" cy="43.02" r="0.4"/><circle cx="333.67" cy="16.56" r="0.4"/><circle cx="326.83" cy="22.85" r="0.4"/><circle cx="316.65" cy="44.76" r="0.4"/><circle cx="330.39" cy="38.62" r="0.4"/><circle cx="298.69" cy="53.42" r="0.4"/><circle cx="298.93" cy="49.02" r="0.4"/><circle cx="337.24" cy="20.99" r="0.4"/><circle cx="333.28" cy="30.79" r="0.4"/><circle cx="324.39" cy="30.49" r="0.4"/><circle cx="312.11" cy="36.62" r="0.4"/><circle cx="321.92" cy="33.69" r="0.4"/><circle cx="308.98" cy="35.39" r="0.4"/><circle cx="297.97" cy="54" r="0.4"/><circle cx="301.08" cy="51.48" r="0.4"/><circle cx="318.33" cy="46.11" r="0.4"/><circle cx="304.45" cy="48.24" r="0.4"/><circle cx="305.79" cy="50.48" r="0.4"/><circle cx="300.13" cy="52.68" r="0.4"/><circle cx="315.05" cy="28.38" r="0.4"/><circle cx="300.69" cy="48.69" r="0.4"/><circle cx="332.3" cy="16.1" r="0.4"/><circle cx="307.69" cy="41.46" r="0.4"/><circle cx="307.01" cy="42.57" r="0.4"/><circle cx="299.53" cy="37.17" r="0.4"/><circle cx="333.27" cy="19.52" r="0.4"/><circle cx="297.65" cy="54.07" r="0.4"/><circle cx="324.01" cy="41.7" r="0.4"/><circle cx="330.7" cy="15.22" r="0.4"/><circle cx="299.07" cy="54.09" r="0.4"/><circle cx="300.39" cy="53.03" r="0.4"/><circle cx="341.44" cy="48.38" r="0.4"/><circle cx="328.25" cy="19.19" r="0.4"/><circle cx="341.24" cy="38.74" r="0.4"/><circle cx="331.3" cy="23.25" r="0.4"/><circle cx="319.05" cy="26.58" r="0.4"/><circle cx="341.34" cy="15.28" r="0.4"/><circle cx="300.5" cy="51.01" r="0.4"/><circle cx="299.76" cy="54.09" r="0.4"/><circle cx="320.17" cy="42.31" r="0.4"/><circle cx="332.29" cy="24.46" r="0.4"/><circle cx="306.91" cy="43.74" r="0.4"/><circle cx="330.78" cy="30.79" r="0.4"/><circle cx="328.38" cy="41.25" r="0.4"/><circle cx="300.71" cy="35.44" r="0.4"/><circle cx="330.37" cy="41.62" r="0.4"/><circle cx="315.76" cy="43.24" r="0.4"/><circle cx="326.35" cy="36.81" r="0.4"/><circle cx="322.44" cy="15.5" r="0.4"/><circle cx="310.24" cy="31.16" r="0.4"/><circle cx="308.56" cy="42.77" r="0.4"/><circle cx="304.14" cy="48.94" r="0.4"/><circle cx="312.75" cy="38.66" r="0.4"/><circle cx="342.32" cy="37.58" r="0.4"/><circle cx="297.93" cy="52.7" r="0.4"/><circle cx="340.27" cy="16.38" r="0.4"/><circle cx="298.03" cy="52.83" r="0.4"/><circle cx="305.22" cy="47.87" r="0.4"/><circle cx="311.68" cy="43.31" r="0.4"/><circle cx="319.05" cy="41.47" r="0.4"/><circle cx="320.24" cy="37.19" r="0.4"/><circle cx="328.53" cy="20.9" r="0.4"/><circle cx="313.55" cy="33.81" r="0.4"/><circle cx="313.94" cy="34.87" r="0.4"/><circle cx="302.54" cy="49.35" r="0.4"/><circle cx="320.12" cy="23.64" r="0.4"/><circle cx="310.78" cy="46.51" r="0.4"/><circle cx="313.87" cy="45.87" r="0.4"/><circle cx="335.68" cy="25.37" r="0.4"/><circle cx="317.38" cy="22.74" r="0.4"/><circle cx="301.81" cy="51.32" r="0.4"/><circle cx="305.37" cy="38.46" r="0.4"/><circle cx="334.48" cy="10.82" r="0.4"/><circle cx="324.36" cy="40.1" r="0.4"/><circle cx="304.25" cy="46.01" r="0.4"/><circle cx="308.08" cy="47.8" r="0.4"/><circle cx="319.37" cy="33.75" r="0.4"/><circle cx="299.57" cy="41.09" r="0.4"/><circle cx="339.13" cy="22.51" r="0.4"/><circle cx="313.71" cy="45.47" r="0.4"/><circle cx="305.26" cy="52.03" r="0.4"/><circle cx="330.61" cy="48.79" r="0.4"/><circle cx="304.67" cy="45.51" r="0.4"/><circle cx="319.1" cy="31.27" r="0.4"/><circle cx="334" cy="16.58" r="0.4"/><circle cx="336.64" cy="33.94" r="0.4"/><circle cx="321.52" cy="34.27" r="0.4"/><circle cx="335.63" cy="20.6" r="0.4"/><circle cx="341.66" cy="18.11" r="0.4"/><circle cx="315.81" cy="38.78" r="0.4"/><circle cx="309.66" cy="44.31" r="0.4"/><circle cx="322.19" cy="42.84" r="0.4"/><circle cx="320.86" cy="25.81" r="0.4"/><circle cx="306.75" cy="48.32" r="0.4"/><circle cx="309.74" cy="36.66" r="0.4"/><circle cx="300.81" cy="51.04" r="0.4"/><circle cx="308.77" cy="47.81" r="0.4"/><circle cx="302.26" cy="45.38" r="0.4"/><circle cx="310.94" cy="42.26" r="0.4"/><circle cx="323.61" cy="24.35" r="0.4"/><circle cx="301.7" cy="45.71" r="0.4"/><circle cx="338.72" cy="29.96" r="0.4"/><circle cx="299.7" cy="49.35" r="0.4"/><circle cx="340.18" cy="24.08" r="0.4"/><circle cx="329.42" cy="30.49" r="0.4"/><circle cx="337.29" cy="22.68" r="0.4"/><circle cx="312.53" cy="35.73" r="0.4"/><circle cx="304.99" cy="38.79" r="0.4"/><circle cx="306.82" cy="18.3" r="0.4"/><circle cx="305.81" cy="44.21" r="0.4"/><circle cx="297.58" cy="54.09" r="0.4"/><circle cx="308.08" cy="42.87" r="0.4"/><circle cx="310.63" cy="39.36" r="0.4"/><circle cx="314.91" cy="40.97" r="0.4"/><circle cx="319.27" cy="37.1" r="0.4"/><circle cx="310.28" cy="37.45" r="0.4"/><circle cx="315.09" cy="33.8" r="0.4"/><circle cx="323.18" cy="34.07" r="0.4"/><circle cx="300" cy="52.78" r="0.4"/><circle cx="300.53" cy="48.42" r="0.4"/><circle cx="312.01" cy="36.97" r="0.4"/><circle cx="303.85" cy="48.9" r="0.4"/><circle cx="305.43" cy="35.74" r="0.4"/><circle cx="306.12" cy="39.14" r="0.4"/><circle cx="299.96" cy="51.48" r="0.4"/><circle cx="300.45" cy="50.51" r="0.4"/><circle cx="313.3" cy="29.83" r="0.4"/><circle cx="325.29" cy="32.42" r="0.4"/><circle cx="330.26" cy="15.14" r="0.4"/><circle cx="304.09" cy="48.91" r="0.4"/><circle cx="315.32" cy="15.01" r="0.4"/><circle cx="300.15" cy="52.18" r="0.4"/><circle cx="335.94" cy="13.34" r="0.4"/><circle cx="304.31" cy="49.41" r="0.4"/><circle cx="317.75" cy="41.36" r="0.4"/><circle cx="306.74" cy="44.6" r="0.4"/><circle cx="322.17" cy="28.23" r="0.4"/><circle cx="311.59" cy="37.15" r="0.4"/><circle cx="301.51" cy="49.61" r="0.4"/><circle cx="333.27" cy="49.96" r="0.4"/><circle cx="319.2" cy="38.11" r="0.4"/><circle cx="303.83" cy="52.34" r="0.4"/><circle cx="306.09" cy="45.53" r="0.4"/><circle cx="309.57" cy="46.57" r="0.4"/><circle cx="335.39" cy="22.16" r="0.4"/><circle cx="338.34" cy="26.73" r="0.4"/><circle cx="327.58" cy="27.48" r="0.4"/><circle cx="327.44" cy="29.27" r="0.4"/><circle cx="308.52" cy="20.18" r="0.4"/><circle cx="313.62" cy="26.31" r="0.4"/><circle cx="302.01" cy="46.8" r="0.4"/><circle cx="315.28" cy="46.37" r="0.4"/><circle cx="313.69" cy="47.92" r="0.4"/><circle cx="340" cy="12.64" r="0.4"/><circle cx="319.29" cy="32.23" r="0.4"/><circle cx="301.97" cy="49.33" r="0.4"/><circle cx="305.78" cy="46.14" r="0.4"/><circle cx="323.55" cy="23.95" r="0.4"/><circle cx="317.45" cy="39.38" r="0.4"/><circle cx="322.8" cy="27.48" r="0.4"/><circle cx="326.09" cy="36.98" r="0.4"/><circle cx="304.98" cy="42.3" r="0.4"/><circle cx="317.09" cy="45.37" r="0.4"/><circle cx="304.65" cy="37.05" r="0.4"/><circle cx="311.23" cy="38.98" r="0.4"/><circle cx="322.45" cy="42.74" r="0.4"/><circle cx="305" cy="20.54" r="0.4"/><circle cx="300.75" cy="53.72" r="0.4"/><circle cx="328.95" cy="13.86" r="0.4"/><circle cx="302.28" cy="48.53" r="0.4"/><circle cx="303.74" cy="44.99" r="0.4"/><circle cx="308.32" cy="46.55" r="0.4"/><circle cx="298.5" cy="54.4" r="0.4"/><circle cx="335.82" cy="34.81" r="0.4"/><circle cx="317.65" cy="24.44" r="0.4"/><circle cx="313.67" cy="44.04" r="0.4"/><circle cx="320.12" cy="36.47" r="0.4"/><circle cx="298.48" cy="54.34" r="0.4"/><circle cx="329.18" cy="14.62" r="0.4"/><circle cx="297.83" cy="54.08" r="0.4"/><circle cx="327.67" cy="24.78" r="0.4"/><circle cx="316.28" cy="36.86" r="0.4"/><circle cx="307.35" cy="43.65" r="0.4"/><circle cx="309.99" cy="52.7" r="0.4"/><circle cx="307.7" cy="42.44" r="0.4"/><circle cx="301.07" cy="50.25" r="0.4"/><circle cx="324.12" cy="41.3" r="0.4"/><circle cx="327.61" cy="12.91" r="0.4"/><circle cx="297.91" cy="53.71" r="0.4"/><circle cx="309.97" cy="43.1" r="0.4"/><circle cx="302.11" cy="49.67" r="0.4"/><circle cx="328.28" cy="30.49" r="0.4"/><circle cx="333.38" cy="34.23" r="0.4"/><circle cx="304.23" cy="31.59" r="0.4"/><circle cx="300.02" cy="48.22" r="0.4"/><circle cx="303.73" cy="50.78" r="0.4"/><circle cx="316.61" cy="26.13" r="0.4"/><circle cx="315.94" cy="41.59" r="0.4"/><circle cx="298.61" cy="51.88" r="0.4"/><circle cx="329.05" cy="19.88" r="0.4"/><circle cx="318.67" cy="37.09" r="0.4"/><circle cx="314.1" cy="30.46" r="0.4"/><circle cx="327.17" cy="30.29" r="0.4"/><circle cx="306.78" cy="43.16" r="0.4"/><circle cx="316.84" cy="45.46" r="0.4"/><circle cx="307.45" cy="43.07" r="0.4"/><circle cx="320.51" cy="30.06" r="0.4"/><circle cx="300.32" cy="52.62" r="0.4"/><circle cx="307.47" cy="39.42" r="0.4"/><circle cx="300.62" cy="52.26" r="0.4"/><circle cx="328.22" cy="14.23" r="0.4"/><circle cx="310.77" cy="28.78" r="0.4"/><circle cx="338.97" cy="33.15" r="0.4"/><circle cx="314.31" cy="41.72" r="0.4"/><circle cx="323.89" cy="30.87" r="0.4"/><circle cx="305.25" cy="45.07" r="0.4"/><circle cx="326.49" cy="33.03" r="0.4"/><circle cx="320.83" cy="35.06" r="0.4"/><circle cx="300.08" cy="49.39" r="0.4"/><circle cx="319.81" cy="28.86" r="0.4"/><circle cx="304.7" cy="48.36" r="0.4"/><circle cx="317.03" cy="42.8" r="0.4"/><circle cx="301.06" cy="52.43" r="0.4"/><circle cx="317.68" cy="18.58" r="0.4"/><circle cx="322.2" cy="39.38" r="0.4"/><circle cx="325.01" cy="31.1" r="0.4"/><circle cx="301.41" cy="31.59" r="0.4"/><circle cx="308.65" cy="42.71" r="0.4"/><circle cx="308.36" cy="48.64" r="0.4"/><circle cx="310.24" cy="32.55" r="0.4"/><circle cx="310.41" cy="40.54" r="0.4"/><circle cx="302.04" cy="52.62" r="0.4"/><circle cx="302" cy="45.8" r="0.4"/><circle cx="305.82" cy="44.27" r="0.4"/><circle cx="321.34" cy="40.91" r="0.4"/><circle cx="311.13" cy="36.29" r="0.4"/><circle cx="312.07" cy="43.41" r="0.4"/><circle cx="335.29" cy="21.36" r="0.4"/><circle cx="316.43" cy="25.27" r="0.4"/><circle cx="301.97" cy="34.53" r="0.4"/><circle cx="309.52" cy="33.35" r="0.4"/><circle cx="313.59" cy="36.35" r="0.4"/><circle cx="303.28" cy="51.28" r="0.4"/><circle cx="316.79" cy="38.07" r="0.4"/><circle cx="327.35" cy="22.83" r="0.4"/><circle cx="317.05" cy="36.41" r="0.4"/><circle cx="335.86" cy="28.21" r="0.4"/><circle cx="312.09" cy="48.95" r="0.4"/><circle cx="303.45" cy="47.42" r="0.4"/><circle cx="330.64" cy="24.31" r="0.4"/><circle cx="309.01" cy="39.71" r="0.4"/><circle cx="301.06" cy="52.84" r="0.4"/><circle cx="322.26" cy="22.02" r="0.4"/><circle cx="308.7" cy="30.2" r="0.4"/><circle cx="304.21" cy="47.67" r="0.4"/><circle cx="316.16" cy="43.4" r="0.4"/><circle cx="321.87" cy="22.82" r="0.4"/><circle cx="327.61" cy="21.6" r="0.4"/><circle cx="304.56" cy="51.64" r="0.4"/><circle cx="302.12" cy="53.45" r="0.4"/><circle cx="303.22" cy="50.48" r="0.4"/><circle cx="299.14" cy="51.94" r="0.4"/><circle cx="317.32" cy="42.51" r="0.4"/><circle cx="313.55" cy="39.58" r="0.4"/><circle cx="320.57" cy="30.31" r="0.4"/><circle cx="304.36" cy="50.28" r="0.4"/><circle cx="312" cy="47.57" r="0.4"/><circle cx="327.54" cy="32" r="0.4"/><circle cx="320.24" cy="38.73" r="0.4"/><circle cx="335.55" cy="28.43" r="0.4"/><circle cx="337.08" cy="15.6" r="0.4"/><circle cx="313.74" cy="35.7" r="0.4"/><circle cx="302.58" cy="51.31" r="0.4"/><circle cx="326.09" cy="32.31" r="0.4"/><circle cx="316.16" cy="43.87" r="0.4"/><circle cx="316.59" cy="38.9" r="0.4"/><circle cx="324.84" cy="42.33" r="0.4"/><circle cx="335.06" cy="18.4" r="0.4"/><circle cx="330.42" cy="43.72" r="0.4"/><circle cx="316.56" cy="30.74" r="0.4"/><circle cx="331.79" cy="30.22" r="0.4"/><circle cx="316.61" cy="11.69" r="0.4"/><circle cx="334.89" cy="22.58" r="0.4"/><circle cx="304.75" cy="49.67" r="0.4"/><circle cx="305.15" cy="46.12" r="0.4"/><circle cx="301.68" cy="51.84" r="0.4"/><circle cx="304.07" cy="49.98" r="0.4"/><circle cx="299.43" cy="52.42" r="0.4"/><circle cx="339.13" cy="19.86" r="0.4"/><circle cx="310.58" cy="38.81" r="0.4"/><circle cx="304.39" cy="51.94" r="0.4"/><circle cx="298.58" cy="53.93" r="0.4"/><circle cx="316.8" cy="24.21" r="0.4"/><circle cx="315.08" cy="48.9" r="0.4"/><circle cx="328.73" cy="15.44" r="0.4"/><circle cx="320.81" cy="12.28" r="0.4"/><circle cx="327.12" cy="42.24" r="0.4"/><circle cx="313.04" cy="46.93" r="0.4"/><circle cx="320.84" cy="21.73" r="0.4"/><circle cx="298.69" cy="53.24" r="0.4"/><circle cx="316.08" cy="38.93" r="0.4"/><circle cx="320.84" cy="38.96" r="0.4"/><circle cx="327.49" cy="25.7" r="0.4"/><circle cx="322.79" cy="15.77" r="0.4"/><circle cx="323.89" cy="28.84" r="0.4"/><circle cx="339.16" cy="20.03" r="0.4"/><circle cx="301.96" cy="34.77" r="0.4"/><circle cx="324.78" cy="32.59" r="0.4"/><circle cx="320.14" cy="46.9" r="0.4"/><circle cx="298.91" cy="52.77" r="0.4"/><circle cx="304.51" cy="50.89" r="0.4"/><circle cx="312.21" cy="35.4" r="0.4"/><circle cx="310.04" cy="42.15" r="0.4"/><circle cx="309.37" cy="31.18" r="0.4"/><circle cx="304.61" cy="48.69" r="0.4"/><circle cx="301.36" cy="52" r="0.4"/><circle cx="297.86" cy="53.42" r="0.4"/><circle cx="335.61" cy="44.68" r="0.4"/><circle cx="311.47" cy="45.69" r="0.4"/><circle cx="308.89" cy="50.8" r="0.4"/><circle cx="337.5" cy="26.46" r="0.4"/><circle cx="303.38" cy="48.93" r="0.4"/><circle cx="307.12" cy="35.38" r="0.4"/><circle cx="314.23" cy="43.43" r="0.4"/><circle cx="323.48" cy="23.5" r="0.4"/><circle cx="323.8" cy="16.87" r="0.4"/><circle cx="298.97" cy="50.64" r="0.4"/><circle cx="317.98" cy="43.71" r="0.4"/><circle cx="317.12" cy="39.48" r="0.4"/><circle cx="308.2" cy="51.86" r="0.4"/><circle cx="319.87" cy="22.16" r="0.4"/><circle cx="326.57" cy="31.84" r="0.4"/><circle cx="329.02" cy="32.68" r="0.4"/><circle cx="298.44" cy="52.09" r="0.4"/><circle cx="319.96" cy="32.23" r="0.4"/><circle cx="315.37" cy="26.67" r="0.4"/><circle cx="301.55" cy="51.62" r="0.4"/><circle cx="309.66" cy="44.24" r="0.4"/><circle cx="321.44" cy="18.99" r="0.4"/><circle cx="303.38" cy="36.9" r="0.4"/><circle cx="313.9" cy="37.88" r="0.4"/><circle cx="317.52" cy="17.16" r="0.4"/><circle cx="335.75" cy="20.67" r="0.4"/><circle cx="328.03" cy="15.03" r="0.4"/><circle cx="301.08" cy="51.52" r="0.4"/><circle cx="300.7" cy="51.35" r="0.4"/><circle cx="303.72" cy="51.56" r="0.4"/><circle cx="299.93" cy="41.23" r="0.4"/><circle cx="340.06" cy="31.19" r="0.4"/><circle cx="298.94" cy="53.56" r="0.4"/><circle cx="340.2" cy="41.82" r="0.4"/><circle cx="308.03" cy="43.49" r="0.4"/><circle cx="314.02" cy="27.14" r="0.4"/><circle cx="297.98" cy="53.16" r="0.4"/><circle cx="301.1" cy="52.46" r="0.4"/><circle cx="313.97" cy="51.41" r="0.4"/><circle cx="341.45" cy="24.65" r="0.4"/><circle cx="317.98" cy="30.01" r="0.4"/><circle cx="308.84" cy="44.22" r="0.4"/><circle cx="314.9" cy="12.51" r="0.4"/><circle cx="336.62" cy="16.46" r="0.4"/><circle cx="309.48" cy="47.36" r="0.4"/><circle cx="334.78" cy="36.82" r="0.4"/><circle cx="299.43" cy="54.08" r="0.4"/><circle cx="327.11" cy="26.09" r="0.4"/><circle cx="308.96" cy="44.95" r="0.4"/><circle cx="310.91" cy="25.63" r="0.4"/><circle cx="329.66" cy="9.91" r="0.4"/><circle cx="299.65" cy="52.8" r="0.4"/><circle cx="303.65" cy="48.66" r="0.4"/><circle cx="323.85" cy="19.96" r="0.4"/><circle cx="320.72" cy="22.64" r="0.4"/><circle cx="336.87" cy="31.98" r="0.4"/><circle cx="299.94" cy="50.03" r="0.4"/><circle cx="303.23" cy="46.98" r="0.4"/><circle cx="315.47" cy="35.42" r="0.4"/><circle cx="320.43" cy="23.05" r="0.4"/><circle cx="303.49" cy="43.11" r="0.4"/><circle cx="304.4" cy="32.4" r="0.4"/><circle cx="311.94" cy="40.72" r="0.4"/><circle cx="310.27" cy="44.99" r="0.4"/><circle cx="329.31" cy="26.24" r="0.4"/><circle cx="341.28" cy="21.09" r="0.4"/><circle cx="327.47" cy="40.97" r="0.4"/><circle cx="300.09" cy="45.28" r="0.4"/><circle cx="304.66" cy="47.6" r="0.4"/><circle cx="324.63" cy="30.38" r="0.4"/><circle cx="302.86" cy="50.31" r="0.4"/><circle cx="301.82" cy="49.21" r="0.4"/><circle cx="303.58" cy="49.71" r="0.4"/><circle cx="322.11" cy="42.71" r="0.4"/><circle cx="340.24" cy="14.35" r="0.4"/><circle cx="333.76" cy="18.76" r="0.4"/><circle cx="306.22" cy="48.55" r="0.4"/><circle cx="323.34" cy="30.92" r="0.4"/><circle cx="331.12" cy="28.06" r="0.4"/><circle cx="298.44" cy="53.35" r="0.4"/><circle cx="304.81" cy="47.13" r="0.4"/><circle cx="327.33" cy="17.4" r="0.4"/><circle cx="305.68" cy="50.04" r="0.4"/><circle cx="297.83" cy="52.45" r="0.4"/><circle cx="303.56" cy="49.54" r="0.4"/><circle cx="313.52" cy="39.7" r="0.4"/><circle cx="324.43" cy="23.88" r="0.4"/><circle cx="311.06" cy="32.03" r="0.4"/><circle cx="331.78" cy="12.95" r="0.4"/><circle cx="329.15" cy="14.05" r="0.4"/><circle cx="316.72" cy="39.72" r="0.4"/><circle cx="305.73" cy="49.93" r="0.4"/><circle cx="320" cy="25.95" r="0.4"/><circle cx="302.27" cy="41.8" r="0.4"/><circle cx="310.99" cy="46.76" r="0.4"/><circle cx="336.48" cy="20.83" r="0.4"/><circle cx="330.16" cy="44.47" r="0.4"/><circle cx="310.86" cy="47.28" r="0.4"/><circle cx="326.59" cy="31.11" r="0.4"/><circle cx="300.9" cy="52.69" r="0.4"/><circle cx="301.05" cy="50.96" r="0.4"/><circle cx="311.11" cy="42.4" r="0.4"/><circle cx="309.21" cy="49.71" r="0.4"/><circle cx="302.45" cy="48.42" r="0.4"/><circle cx="341.22" cy="38.15" r="0.4"/><circle cx="310.48" cy="49.07" r="0.4"/><circle cx="320" cy="25.91" r="0.4"/><circle cx="308.35" cy="23.15" r="0.4"/><circle cx="319.19" cy="47.54" r="0.4"/><circle cx="302.84" cy="43.98" r="0.4"/><circle cx="319.52" cy="37.61" r="0.4"/><circle cx="333.19" cy="23.72" r="0.4"/><circle cx="337.7" cy="16.92" r="0.4"/><circle cx="304.8" cy="46.73" r="0.4"/><circle cx="332.79" cy="12.24" r="0.4"/><circle cx="309.3" cy="51.44" r="0.4"/><circle cx="310.19" cy="48.77" r="0.4"/><circle cx="298.01" cy="52.26" r="0.4"/><circle cx="304.63" cy="41.22" r="0.4"/><circle cx="319.09" cy="29.46" r="0.4"/><circle cx="319.46" cy="21.32" r="0.4"/><circle cx="326.5" cy="25.99" r="0.4"/><circle cx="315.96" cy="33.12" r="0.4"/><circle cx="300.87" cy="48.43" r="0.4"/><circle cx="309.52" cy="50.34" r="0.4"/><circle cx="317.56" cy="40.17" r="0.4"/><circle cx="331" cy="41.8" r="0.4"/><circle cx="303.21" cy="48.58" r="0.4"/><circle cx="301.9" cy="52.57" r="0.4"/><circle cx="315.49" cy="41.67" r="0.4"/><circle cx="320.15" cy="42.92" r="0.4"/><circle cx="321.18" cy="37.2" r="0.4"/><circle cx="332.5" cy="12.6" r="0.4"/><circle cx="310.68" cy="42.02" r="0.4"/><circle cx="314.26" cy="34.43" r="0.4"/><circle cx="298.64" cy="54.36" r="0.4"/><circle cx="299.15" cy="51.37" r="0.4"/><circle cx="301.95" cy="51.55" r="0.4"/><circle cx="304.86" cy="38.36" r="0.4"/><circle cx="300.23" cy="49.64" r="0.4"/><circle cx="300.16" cy="51.55" r="0.4"/><circle cx="304.04" cy="52.51" r="0.4"/><circle cx="313.73" cy="39.32" r="0.4"/><circle cx="311.42" cy="44.67" r="0.4"/><circle cx="302.81" cy="48.78" r="0.4"/><circle cx="323.74" cy="37.04" r="0.4"/><circle cx="312.2" cy="33.41" r="0.4"/><circle cx="333.07" cy="22.46" r="0.4"/><circle cx="298.45" cy="49.52" r="0.4"/><circle cx="309.65" cy="23.29" r="0.4"/><circle cx="310.88" cy="49.49" r="0.4"/><circle cx="313.4" cy="39.54" r="0.4"/><circle cx="311.15" cy="38.25" r="0.4"/><circle cx="310.22" cy="51.61" r="0.4"/><circle cx="298.07" cy="52.99" r="0.4"/><circle cx="299.17" cy="52.86" r="0.4"/><circle cx="311.11" cy="49.46" r="0.4"/><circle cx="334.7" cy="21.87" r="0.4"/><circle cx="315.86" cy="51.87" r="0.4"/><circle cx="298.93" cy="52.34" r="0.4"/><circle cx="308.41" cy="39.77" r="0.4"/><circle cx="315.85" cy="33.82" r="0.4"/><circle cx="314.45" cy="11.12" r="0.4"/><circle cx="317.82" cy="29.48" r="0.4"/><circle cx="321.13" cy="31.59" r="0.4"/><circle cx="308.38" cy="35.35" r="0.4"/><circle cx="302.64" cy="52.88" r="0.4"/><circle cx="306.1" cy="40.19" r="0.4"/><circle cx="299.25" cy="53.11" r="0.4"/><circle cx="312.1" cy="43.19" r="0.4"/><circle cx="326.08" cy="12.27" r="0.4"/><circle cx="326.02" cy="41.51" r="0.4"/><circle cx="312.57" cy="39.54" r="0.4"/><circle cx="298.99" cy="52.02" r="0.4"/><circle cx="322.2" cy="26.57" r="0.4"/><circle cx="300.73" cy="49.7" r="0.4"/><circle cx="308.49" cy="48.37" r="0.4"/><circle cx="300.13" cy="52.93" r="0.4"/><circle cx="301.64" cy="47.51" r="0.4"/><circle cx="315.58" cy="12" r="0.4"/><circle cx="307.3" cy="46.47" r="0.4"/><circle cx="303.37" cy="35.29" r="0.4"/><circle cx="298.27" cy="54.4" r="0.4"/><circle cx="298.6" cy="52.23" r="0.4"/><circle cx="318.58" cy="31.17" r="0.4"/><circle cx="298" cy="53.51" r="0.4"/><circle cx="324.54" cy="25.39" r="0.4"/><circle cx="306.29" cy="49.21" r="0.4"/><circle cx="309.01" cy="40.56" r="0.4"/><circle cx="301.88" cy="47.57" r="0.4"/><circle cx="330.78" cy="11.53" r="0.4"/><circle cx="297.79" cy="53.8" r="0.4"/><circle cx="308.55" cy="37.25" r="0.4"/><circle cx="338.38" cy="27.26" r="0.4"/><circle cx="310.86" cy="43.47" r="0.4"/><circle cx="313.52" cy="23.97" r="0.4"/><circle cx="334.52" cy="22.22" r="0.4"/><circle cx="328.54" cy="26.3" r="0.4"/><circle cx="304.43" cy="41.97" r="0.4"/><circle cx="309.05" cy="48.3" r="0.4"/><circle cx="337.75" cy="37.19" r="0.4"/><circle cx="304.18" cy="47.3" r="0.4"/><circle cx="340.1" cy="19.15" r="0.4"/><circle cx="317.46" cy="24.81" r="0.4"/><circle cx="305.81" cy="47.47" r="0.4"/><circle cx="313.38" cy="43.72" r="0.4"/><circle cx="303.92" cy="31.57" r="0.4"/><circle cx="311.15" cy="35" r="0.4"/><circle cx="341.02" cy="40.43" r="0.4"/><circle cx="300.36" cy="53.19" r="0.4"/><circle cx="335.66" cy="18.1" r="0.4"/><circle cx="312.83" cy="38.36" r="0.4"/><circle cx="305.5" cy="44.16" r="0.4"/><circle cx="311.66" cy="49.65" r="0.4"/><circle cx="312.81" cy="41.73" r="0.4"/><circle cx="300.81" cy="52.24" r="0.4"/><circle cx="303.96" cy="54.34" r="0.4"/><circle cx="312.29" cy="42.53" r="0.4"/><circle cx="325.88" cy="35.44" r="0.4"/><circle cx="314.2" cy="35.23" r="0.4"/><circle cx="309.05" cy="37.6" r="0.4"/><circle cx="309.9" cy="42.1" r="0.4"/><circle cx="307.39" cy="50.65" r="0.4"/><circle cx="308.69" cy="36.05" r="0.4"/><circle cx="341.42" cy="17.35" r="0.4"/><circle cx="316" cy="44.84" r="0.4"/><circle cx="338.95" cy="16.1" r="0.4"/><circle cx="300.39" cy="51.92" r="0.4"/><circle cx="307.37" cy="46.01" r="0.4"/><circle cx="313.71" cy="48.65" r="0.4"/><circle cx="321.58" cy="38.7" r="0.4"/><circle cx="333.55" cy="25.15" r="0.4"/><circle cx="301.04" cy="43.27" r="0.4"/><circle cx="300.8" cy="44.13" r="0.4"/><circle cx="332.32" cy="13.1" r="0.4"/><circle cx="321.35" cy="30.64" r="0.4"/><circle cx="304.62" cy="38.27" r="0.4"/><circle cx="322.94" cy="12.25" r="0.4"/><circle cx="338" cy="29.2" r="0.4"/><circle cx="327.83" cy="29.84" r="0.4"/><circle cx="316.77" cy="31.46" r="0.4"/><circle cx="320.92" cy="41.56" r="0.4"/><circle cx="300.55" cy="51.51" r="0.4"/><circle cx="333.2" cy="37.77" r="0.4"/><circle cx="308.67" cy="44.07" r="0.4"/><circle cx="299.11" cy="53.31" r="0.4"/><circle cx="332.3" cy="10.45" r="0.4"/><circle cx="304.37" cy="33.56" r="0.4"/><circle cx="334.15" cy="27.6" r="0.4"/><circle cx="306.05" cy="49.62" r="0.4"/><circle cx="329.64" cy="14.67" r="0.4"/><circle cx="325" cy="29.39" r="0.4"/><circle cx="329.31" cy="39.26" r="0.4"/><circle cx="311.61" cy="38.95" r="0.4"/><circle cx="313.52" cy="37.43" r="0.4"/><circle cx="328.38" cy="29.7" r="0.4"/><circle cx="315.34" cy="32.19" r="0.4"/><circle cx="301.33" cy="43.52" r="0.4"/><circle cx="302.53" cy="46.27" r="0.4"/><circle cx="301.95" cy="44.07" r="0.4"/><circle cx="318.19" cy="31.29" r="0.4"/><circle cx="340.71" cy="27.38" r="0.4"/><circle cx="314.08" cy="29.91" r="0.4"/><circle cx="300.04" cy="49.89" r="0.4"/><circle cx="304.42" cy="50.11" r="0.4"/><circle cx="316.63" cy="36.08" r="0.4"/><circle cx="341.96" cy="37.26" r="0.4"/><circle cx="300.56" cy="51.64" r="0.4"/><circle cx="315.4" cy="28.4" r="0.4"/><circle cx="315.61" cy="22.96" r="0.4"/><circle cx="310.66" cy="42.26" r="0.4"/><circle cx="340.83" cy="15.87" r="0.4"/><circle cx="300.47" cy="51.96" r="0.4"/><circle cx="317.43" cy="36.58" r="0.4"/><circle cx="323.42" cy="22.43" r="0.4"/><circle cx="309.09" cy="44.75" r="0.4"/><circle cx="334.69" cy="10.82" r="0.4"/><circle cx="325.7" cy="37.92" r="0.4"/><circle cx="325.05" cy="20.35" r="0.4"/><circle cx="327.91" cy="30.32" r="0.4"/><circle cx="313.77" cy="30.42" r="0.4"/><circle cx="320.41" cy="41.94" r="0.4"/><circle cx="322.45" cy="26.06" r="0.4"/><circle cx="328.68" cy="26.79" r="0.4"/><circle cx="298.71" cy="51.63" r="0.4"/><circle cx="317.74" cy="27.78" r="0.4"/><circle cx="305.92" cy="32.3" r="0.4"/><circle cx="308.01" cy="44.38" r="0.4"/><circle cx="325.97" cy="21.64" r="0.4"/><circle cx="300.25" cy="13.1" r="0.4"/><circle cx="303.64" cy="49.33" r="0.4"/><circle cx="330.6" cy="29.25" r="0.4"/><circle cx="313.95" cy="44.81" r="0.4"/><circle cx="342.44" cy="28.08" r="0.4"/><circle cx="314.57" cy="22.67" r="0.4"/><circle cx="299.15" cy="51.67" r="0.4"/><circle cx="332.11" cy="17.69" r="0.4"/><circle cx="315.04" cy="28.26" r="0.4"/><circle cx="302.07" cy="53.85" r="0.4"/><circle cx="336.23" cy="11.19" r="0.4"/><circle cx="331.79" cy="26.72" r="0.4"/><circle cx="328.61" cy="28.13" r="0.4"/><circle cx="333.03" cy="36.4" r="0.4"/><circle cx="335.03" cy="21.26" r="0.4"/><circle cx="302.17" cy="10.73" r="0.4"/><circle cx="318.64" cy="11.76" r="0.4"/><circle cx="321.16" cy="28.14" r="0.4"/><circle cx="310.24" cy="36.15" r="0.4"/><circle cx="310" cy="44.4" r="0.4"/><circle cx="307.4" cy="42.56" r="0.4"/><circle cx="334.26" cy="32.37" r="0.4"/><circle cx="315.16" cy="23.65" r="0.4"/><circle cx="329.43" cy="24.36" r="0.4"/><circle cx="311.53" cy="25.19" r="0.4"/><circle cx="314.86" cy="18.24" r="0.4"/><circle cx="316.2" cy="43.78" r="0.4"/><circle cx="313.89" cy="42.6" r="0.4"/><circle cx="308.59" cy="34.72" r="0.4"/><circle cx="323.71" cy="37.59" r="0.4"/><circle cx="322.65" cy="26.12" r="0.4"/><circle cx="301.94" cy="47.85" r="0.4"/><circle cx="319.53" cy="28.61" r="0.4"/><circle cx="338.13" cy="38.21" r="0.4"/><circle cx="317.86" cy="37.93" r="0.4"/><circle cx="298.84" cy="54.32" r="0.4"/><circle cx="316.18" cy="13.99" r="0.4"/><circle cx="308.89" cy="47.02" r="0.4"/><circle cx="301.56" cy="18.79" r="0.4"/><circle cx="320.99" cy="18.08" r="0.4"/><circle cx="303.84" cy="46.88" r="0.4"/><circle cx="311.73" cy="33.13" r="0.4"/><circle cx="305.05" cy="21.63" r="0.4"/><circle cx="308.07" cy="47.47" r="0.4"/><circle cx="308.63" cy="41.6" r="0.4"/><circle cx="324.33" cy="30.29" r="0.4"/><circle cx="309.68" cy="48.34" r="0.4"/><circle cx="318.22" cy="49.13" r="0.4"/><circle cx="303.45" cy="45.15" r="0.4"/><circle cx="298.38" cy="53.06" r="0.4"/><circle cx="312.28" cy="41.77" r="0.4"/><circle cx="311.57" cy="41.21" r="0.4"/><circle cx="323.24" cy="27.2" r="0.4"/><circle cx="335.72" cy="26.96" r="0.4"/><circle cx="307.82" cy="45.96" r="0.4"/><circle cx="325.62" cy="21.56" r="0.4"/><circle cx="335.71" cy="16.03" r="0.4"/><circle cx="333.61" cy="10.42" r="0.4"/><circle cx="302.25" cy="51.53" r="0.4"/><circle cx="300.98" cy="46.11" r="0.4"/><circle cx="300.01" cy="49" r="0.4"/><circle cx="308.05" cy="43.07" r="0.4"/><circle cx="307.96" cy="43.88" r="0.4"/><circle cx="304.58" cy="36.42" r="0.4"/><circle cx="306.61" cy="48.22" r="0.4"/><circle cx="298.3" cy="52.54" r="0.4"/><circle cx="306.56" cy="24.29" r="0.4"/><circle cx="332.01" cy="23.44" r="0.4"/><circle cx="330.93" cy="22.8" r="0.4"/><circle cx="299.46" cy="50.91" r="0.4"/><circle cx="318.86" cy="27.37" r="0.4"/><circle cx="304.38" cy="46.48" r="0.4"/><circle cx="301.12" cy="50.7" r="0.4"/><circle cx="326.28" cy="30.69" r="0.4"/><circle cx="319.51" cy="35.8" r="0.4"/><circle cx="325.6" cy="18" r="0.4"/><circle cx="306.86" cy="44.43" r="0.4"/><circle cx="306.8" cy="49.61" r="0.4"/><circle cx="325.89" cy="22.12" r="0.4"/><circle cx="313.36" cy="45.81" r="0.4"/><circle cx="325.01" cy="37.11" r="0.4"/><circle cx="333.39" cy="26.42" r="0.4"/><circle cx="314.43" cy="32.62" r="0.4"/><circle cx="329.19" cy="14.47" r="0.4"/><circle cx="313.94" cy="33.85" r="0.4"/><circle cx="318.32" cy="40.39" r="0.4"/><circle cx="312.62" cy="32.17" r="0.4"/><circle cx="312.4" cy="39.99" r="0.4"/><circle cx="313.54" cy="46.85" r="0.4"/><circle cx="325.8" cy="25.19" r="0.4"/><circle cx="313.99" cy="39.47" r="0.4"/><circle cx="322.96" cy="44.01" r="0.4"/><circle cx="300.14" cy="53.19" r="0.4"/><circle cx="303.4" cy="52.88" r="0.4"/><circle cx="312.44" cy="20.14" r="0.4"/><circle cx="307.5" cy="43.64" r="0.4"/><circle cx="325.54" cy="33.89" r="0.4"/><circle cx="334.08" cy="33.12" r="0.4"/><circle cx="308.99" cy="40.61" r="0.4"/><circle cx="308.32" cy="46.2" r="0.4"/><circle cx="335.95" cy="36.95" r="0.4"/><circle cx="341.82" cy="42.29" r="0.4"/><circle cx="335.56" cy="30.44" r="0.4"/><circle cx="301.27" cy="16.91" r="0.4"/><circle cx="310.52" cy="44.59" r="0.4"/><circle cx="336.66" cy="18.27" r="0.4"/><circle cx="316.07" cy="35.98" r="0.4"/><circle cx="341.49" cy="23.78" r="0.4"/><circle cx="308.84" cy="38.14" r="0.4"/><circle cx="309.35" cy="43.73" r="0.4"/><circle cx="309.43" cy="29.33" r="0.4"/><circle cx="337.45" cy="11.9" r="0.4"/><circle cx="307.94" cy="46.13" r="0.4"/><circle cx="314.09" cy="47.21" r="0.4"/><circle cx="323.45" cy="14.25" r="0.4"/><circle cx="328.4" cy="15.45" r="0.4"/><circle cx="340.64" cy="16.58" r="0.4"/><circle cx="305.4" cy="44.39" r="0.4"/><circle cx="312.36" cy="43.83" r="0.4"/><circle cx="304.55" cy="46.99" r="0.4"/><circle cx="323.27" cy="34.89" r="0.4"/><circle cx="327.51" cy="35.24" r="0.4"/><circle cx="300.22" cy="47.29" r="0.4"/><circle cx="309.68" cy="23.86" r="0.4"/><circle cx="314.9" cy="37.42" r="0.4"/><circle cx="299.07" cy="51.86" r="0.4"/><circle cx="298.4" cy="53.53" r="0.4"/><circle cx="310.88" cy="20.42" r="0.4"/><circle cx="341.05" cy="13.82" r="0.4"/><circle cx="341.2" cy="11.33" r="0.4"/></g>
<g fill="#8a95dc" fill-opacity="0.35"><circle cx="319.41" cy="48.57" r="0.4"/><circle cx="301.51" cy="48.75" r="0.4"/><circle cx="313.87" cy="40.93" r="0.4"/><circle cx="321.07" cy="29.96" r="0.4"/><circle cx="339.1" cy="21.63" r="0.4"/><circle cx="304.9" cy="19.41" r="0.4"/><circle cx="321.05" cy="31.51" r="0.4"/><circle cx="299.11" cy="48.88" r="0.4"/><circle cx="332.21" cy="9.96" r="0.4"/><circle cx="321.47" cy="23.82" r="0.4"/><circle cx="306.46" cy="43.98" r="0.4"/><circle cx="330.74" cy="15.93" r="0.4"/><circle cx="302.56" cy="52.14" r="0.4"/><circle cx="324.67" cy="24.7" r="0.4"/><circle cx="310.65" cy="46.74" r="0.4"/><circle cx="315.49" cy="15.99" r="0.4"/><circle cx="312.85" cy="47.49" r="0.4"/><circle cx="323.29" cy="36.22" r="0.4"/><circle cx="316.79" cy="14.92" r="0.4"/><circle cx="298.93" cy="54.41" r="0.4"/><circle cx="322.84" cy="26.84" r="0.4"/><circle cx="314.46" cy="42.98" r="0.4"/><circle cx="305.54" cy="32.83" r="0.4"/><circle cx="299.28" cy="49.68" r="0.4"/><circle cx="304.81" cy="46.29" r="0.4"/><circle cx="329.24" cy="33.06" r="0.4"/><circle cx="304.47" cy="50.6" r="0.4"/><circle cx="302.59" cy="50.01" r="0.4"/><circle cx="321.54" cy="41.69" r="0.4"/><circle cx="317.93" cy="45.46" r="0.4"/><circle cx="323.45" cy="14.69" r="0.4"/><circle cx="299.08" cy="53.47" r="0.4"/><circle cx="320.79" cy="36.67" r="0.4"/><circle cx="323.31" cy="40.1" r="0.4"/><circle cx="332.9" cy="12.74" r="0.4"/><circle cx="303.03" cy="48.78" r="0.4"/><circle cx="297.75" cy="52.62" r="0.4"/><circle cx="310.33" cy="32.11" r="0.4"/><circle cx="307.83" cy="43.23" r="0.4"/><circle cx="328.9" cy="30.33" r="0.4"/><circle cx="301.89" cy="46.71" r="0.4"/><circle cx="320.39" cy="22.86" r="0.4"/><circle cx="332.05" cy="9.98" r="0.4"/><circle cx="305.37" cy="46.83" r="0.4"/><circle cx="312.13" cy="35.98" r="0.4"/><circle cx="304.46" cy="28.76" r="0.4"/><circle cx="328.98" cy="42.1" r="0.4"/><circle cx="337.67" cy="10.5" r="0.4"/><circle cx="337.36" cy="30.71" r="0.4"/><circle cx="304.32" cy="44.53" r="0.4"/><circle cx="320.68" cy="39.27" r="0.4"/><circle cx="304.24" cy="45.95" r="0.4"/><circle cx="337.59" cy="34.16" r="0.4"/><circle cx="310.01" cy="34.99" r="0.4"/><circle cx="302.23" cy="52" r="0.4"/><circle cx="311.99" cy="38.07" r="0.4"/><circle cx="339.75" cy="15.95" r="0.4"/><circle cx="311.87" cy="23.72" r="0.4"/><circle cx="315.04" cy="31.39" r="0.4"/><circle cx="321.1" cy="14.28" r="0.4"/><circle cx="328.86" cy="28.33" r="0.4"/><circle cx="308.66" cy="40.76" r="0.4"/><circle cx="305.47" cy="43.74" r="0.4"/><circle cx="308.92" cy="39.9" r="0.4"/><circle cx="313.62" cy="31.76" r="0.4"/><circle cx="303.59" cy="42.86" r="0.4"/><circle cx="310.12" cy="26.76" r="0.4"/><circle cx="333.73" cy="25.68" r="0.4"/><circle cx="313.73" cy="22.64" r="0.4"/><circle cx="316.1" cy="33.74" r="0.4"/><circle cx="301.88" cy="29.05" r="0.4"/><circle cx="317.26" cy="48.16" r="0.4"/><circle cx="304.36" cy="51.79" r="0.4"/><circle cx="310.92" cy="49.41" r="0.4"/><circle cx="335.9" cy="15.71" r="0.4"/><circle cx="319.72" cy="38.24" r="0.4"/><circle cx="324.05" cy="28.06" r="0.4"/><circle cx="310.34" cy="43.17" r="0.4"/><circle cx="306" cy="46.38" r="0.4"/><circle cx="308.16" cy="33.37" r="0.4"/><circle cx="315.12" cy="42.6" r="0.4"/><circle cx="325.64" cy="27.87" r="0.4"/><circle cx="303.84" cy="34.15" r="0.4"/><circle cx="308.19" cy="36.13" r="0.4"/><circle cx="309.75" cy="43.32" r="0.4"/><circle cx="324.19" cy="13.46" r="0.4"/><circle cx="327.81" cy="26.09" r="0.4"/><circle cx="299.97" cy="48.97" r="0.4"/><circle cx="322.02" cy="36.14" r="0.4"/><circle cx="301.21" cy="50.76" r="0.4"/><circle cx="312.51" cy="23.18" r="0.4"/><circle cx="303.32" cy="31.81" r="0.4"/><circle cx="328.12" cy="25.36" r="0.4"/><circle cx="311.48" cy="40.98" r="0.4"/><circle cx="332.01" cy="28.92" r="0.4"/><circle cx="315.19" cy="35.28" r="0.4"/><circle cx="333.71" cy="11.42" r="0.4"/><circle cx="311.26" cy="38.83" r="0.4"/><circle cx="300.82" cy="52.58" r="0.4"/><circle cx="306.45" cy="49.94" r="0.4"/><circle cx="310.46" cy="44.05" r="0.4"/><circle cx="320.21" cy="23.96" r="0.4"/><circle cx="340.92" cy="23.43" r="0.4"/><circle cx="300.27" cy="42.02" r="0.4"/><circle cx="329.5" cy="23.39" r="0.4"/><circle cx="339.98" cy="40.41" r="0.4"/><circle cx="322.63" cy="30.41" r="0.4"/><circle cx="323.78" cy="46.96" r="0.4"/><circle cx="303.87" cy="50.73" r="0.4"/><circle cx="315.66" cy="41.08" r="0.4"/><circle cx="316.26" cy="47.53" r="0.4"/><circle cx="329.42" cy="25.13" r="0.4"/><circle cx="305.76" cy="47.64" r="0.4"/><circle cx="305.01" cy="41.04" r="0.4"/><circle cx="324.13" cy="23.94" r="0.4"/><circle cx="304.18" cy="47.81" r="0.4"/><circle cx="304.14" cy="47.04" r="0.4"/><circle cx="307.35" cy="47.64" r="0.4"/><circle cx="304.57" cy="36.04" r="0.4"/><circle cx="301.89" cy="50.27" r="0.4"/><circle cx="300.1" cy="49.43" r="0.4"/><circle cx="309.43" cy="43.94" r="0.4"/><circle cx="330.54" cy="19.38" r="0.4"/><circle cx="335.52" cy="11.4" r="0.4"/><circle cx="314.41" cy="26.91" r="0.4"/><circle cx="308.75" cy="42.86" r="0.4"/><circle cx="315.46" cy="24.16" r="0.4"/><circle cx="307.25" cy="49.4" r="0.4"/><circle cx="342.57" cy="23.58" r="0.4"/><circle cx="319.18" cy="41.09" r="0.4"/><circle cx="315.92" cy="34.76" r="0.4"/><circle cx="299.18" cy="49.22" r="0.4"/><circle cx="330.52" cy="29.52" r="0.4"/><circle cx="325.97" cy="46.99" r="0.4"/><circle cx="302.46" cy="48.02" r="0.4"/><circle cx="325.35" cy="24.27" r="0.4"/><circle cx="299.18" cy="50.51" r="0.4"/><circle cx="314.99" cy="47.94" r="0.4"/><circle cx="300.97" cy="51.01" r="0.4"/><circle cx="298.01" cy="53.16" r="0.4"/><circle cx="300.89" cy="43.42" r="0.4"/><circle cx="300.32" cy="50.81" r="0.4"/><circle cx="316.53" cy="46.12" r="0.4"/><circle cx="303.65" cy="45.04" r="0.4"/><circle cx="330.17" cy="42.14" r="0.4"/><circle cx="306.56" cy="42.03" r="0.4"/><circle cx="301.72" cy="50.85" r="0.4"/><circle cx="341.59" cy="22.23" r="0.4"/><circle cx="311.25" cy="26.26" r="0.4"/><circle cx="315.52" cy="44.74" r="0.4"/><circle cx="321.18" cy="33.86" r="0.4"/><circle cx="316.55" cy="34.69" r="0.4"/><circle cx="336.16" cy="20.34" r="0.4"/><circle cx="340.22" cy="31.99" r="0.4"/><circle cx="301.37" cy="51.49" r="0.4"/><circle cx="310.61" cy="49.47" r="0.4"/><circle cx="310.36" cy="37.07" r="0.4"/><circle cx="308.29" cy="41.45" r="0.4"/><circle cx="334.92" cy="10.82" r="0.4"/><circle cx="311.19" cy="43.24" r="0.4"/><circle cx="322.97" cy="21.4" r="0.4"/><circle cx="313.43" cy="38.16" r="0.4"/><circle cx="299.97" cy="37.24" r="0.4"/><circle cx="298.53" cy="51.82" r="0.4"/><circle cx="306.03" cy="47.69" r="0.4"/><circle cx="309.51" cy="33.77" r="0.4"/><circle cx="300.25" cy="48.17" r="0.4"/><circle cx="299.91" cy="49.45" r="0.4"/><circle cx="298.71" cy="54.41" r="0.4"/><circle cx="307.92" cy="18.96" r="0.4"/><circle cx="298.55" cy="52.95" r="0.4"/><circle cx="309.08" cy="47.42" r="0.4"/><circle cx="331.94" cy="35.14" r="0.4"/><circle cx="339.37" cy="37.36" r="0.4"/><circle cx="339.43" cy="17.91" r="0.4"/><circle cx="297.61" cy="53.52" r="0.4"/><circle cx="302.35" cy="52.38" r="0.4"/><circle cx="319.89" cy="36.09" r="0.4"/><circle cx="310.04" cy="32.59" r="0.4"/><circle cx="310.27" cy="31.53" r="0.4"/><circle cx="302.01" cy="51.21" r="0.4"/><circle cx="311.41" cy="46.75" r="0.4"/><circle cx="318.06" cy="11.45" r="0.4"/><circle cx="318.32" cy="28.37" r="0.4"/><circle cx="310.02" cy="16.97" r="0.4"/><circle cx="308.3" cy="46.27" r="0.4"/><circle cx="337.15" cy="22.61" r="0.4"/><circle cx="306.52" cy="49.09" r="0.4"/><circle cx="327.38" cy="50.46" r="0.4"/><circle cx="320.37" cy="32.31" r="0.4"/><circle cx="333.63" cy="25.67" r="0.4"/><circle cx="309.58" cy="42.98" r="0.4"/><circle cx="314.02" cy="40.59" r="0.4"/><circle cx="302.33" cy="16.68" r="0.4"/><circle cx="332.91" cy="17.71" r="0.4"/><circle cx="314.14" cy="32.9" r="0.4"/><circle cx="331.66" cy="23.48" r="0.4"/><circle cx="333.1" cy="14.85" r="0.4"/><circle cx="320.66" cy="11.75" r="0.4"/><circle cx="301.73" cy="51.93" r="0.4"/><circle cx="313.37" cy="31.93" r="0.4"/><circle cx="322.4" cy="40.14" r="0.4"/><circle cx="337.81" cy="22.54" r="0.4"/><circle cx="299.54" cy="51.43" r="0.4"/><circle cx="307.01" cy="33.91" r="0.4"/><circle cx="311.96" cy="27.91" r="0.4"/><circle cx="321.9" cy="13.67" r="0.4"/><circle cx="334.76" cy="23.5" r="0.4"/><circle cx="309.9" cy="42.35" r="0.4"/><circle cx="340.49" cy="17.22" r="0.4"/><circle cx="338.69" cy="22.93" r="0.4"/><circle cx="330.58" cy="20.57" r="0.4"/><circle cx="311.22" cy="49.6" r="0.4"/><circle cx="335.28" cy="20.02" r="0.4"/><circle cx="297.83" cy="53.87" r="0.4"/><circle cx="328.47" cy="36.31" r="0.4"/><circle cx="298.66" cy="50.99" r="0.4"/><circle cx="323.75" cy="43.95" r="0.4"/><circle cx="325.11" cy="18.77" r="0.4"/><circle cx="328.8" cy="28.78" r="0.4"/><circle cx="333.05" cy="35.89" r="0.4"/><circle cx="329.25" cy="29.95" r="0.4"/><circle cx="308.92" cy="37.56" r="0.4"/><circle cx="302.15" cy="45.94" r="0.4"/><circle cx="339.87" cy="39.82" r="0.4"/><circle cx="330.68" cy="40.08" r="0.4"/><circle cx="309.13" cy="38.78" r="0.4"/><circle cx="334.46" cy="21.76" r="0.4"/><circle cx="324.54" cy="24.77" r="0.4"/><circle cx="336.88" cy="30.19" r="0.4"/><circle cx="318.41" cy="36.35" r="0.4"/><circle cx="325.55" cy="38.42" r="0.4"/><circle cx="308.75" cy="48.61" r="0.4"/><circle cx="300.95" cy="51.78" r="0.4"/><circle cx="305.38" cy="47.58" r="0.4"/><circle cx="311.94" cy="48.82" r="0.4"/><circle cx="319.51" cy="30.39" r="0.4"/><circle cx="302.37" cy="50.49" r="0.4"/><circle cx="309.19" cy="32.05" r="0.4"/><circle cx="315.6" cy="36.31" r="0.4"/><circle cx="314.32" cy="46.9" r="0.4"/><circle cx="335.26" cy="13.74" r="0.4"/><circle cx="299.88" cy="29" r="0.4"/><circle cx="310.91" cy="40.68" r="0.4"/><circle cx="301.72" cy="50.99" r="0.4"/><circle cx="306.15" cy="49.8" r="0.4"/><circle cx="301.76" cy="45.08" r="0.4"/><circle cx="298.01" cy="50.48" r="0.4"/><circle cx="326.3" cy="11.57" r="0.4"/><circle cx="314.69" cy="35.72" r="0.4"/><circle cx="310.22" cy="34.57" r="0.4"/><circle cx="301.12" cy="52.12" r="0.4"/><circle cx="324.55" cy="24.57" r="0.4"/><circle cx="306.35" cy="39.47" r="0.4"/><circle cx="313.1" cy="24.1" r="0.4"/><circle cx="326.94" cy="24.81" r="0.4"/><circle cx="337.5" cy="39.36" r="0.4"/><circle cx="310.92" cy="36.69" r="0.4"/><circle cx="301.06" cy="49.6" r="0.4"/><circle cx="306.97" cy="41.24" r="0.4"/><circle cx="323.7" cy="30.44" r="0.4"/><circle cx="320.28" cy="39.62" r="0.4"/><circle cx="340.72" cy="24.15" r="0.4"/><circle cx="305.44" cy="21.89" r="0.4"/><circle cx="307.02" cy="43.58" r="0.4"/><circle cx="321.64" cy="38.04" r="0.4"/><circle cx="302.01" cy="53.12" r="0.4"/><circle cx="318.1" cy="39.17" r="0.4"/><circle cx="319.37" cy="29.62" r="0.4"/><circle cx="327.46" cy="34.26" r="0.4"/><circle cx="315.94" cy="50.96" r="0.4"/><circle cx="329.55" cy="10.98" r="0.4"/><circle cx="315.21" cy="41.94" r="0.4"/><circle cx="297.54" cy="54.04" r="0.4"/><circle cx="302.56" cy="37.73" r="0.4"/><circle cx="306.68" cy="33.76" r="0.4"/><circle cx="335.42" cy="32.46" r="0.4"/><circle cx="320.45" cy="23.18" r="0.4"/><circle cx="319.56" cy="22.58" r="0.4"/><circle cx="338.32" cy="31.9" r="0.4"/><circle cx="301.87" cy="50.37" r="0.4"/><circle cx="333.22" cy="20.68" r="0.4"/><circle cx="302.99" cy="44.89" r="0.4"/><circle cx="317.34" cy="43.53" r="0.4"/><circle cx="303.93" cy="51.1" r="0.4"/><circle cx="314.04" cy="49.1" r="0.4"/><circle cx="312.62" cy="38.53" r="0.4"/><circle cx="307.08" cy="44.3" r="0.4"/><circle cx="298.97" cy="51.02" r="0.4"/><circle cx="316.71" cy="34.49" r="0.4"/><circle cx="330.28" cy="28.77" r="0.4"/><circle cx="334.84" cy="23.21" r="0.4"/><circle cx="300.21" cy="43.59" r="0.4"/><circle cx="303.51" cy="43.21" r="0.4"/><circle cx="319.97" cy="45.68" r="0.4"/><circle cx="300.17" cy="53.53" r="0.4"/><circle cx="303.19" cy="53.16" r="0.4"/><circle cx="313.86" cy="37.04" r="0.4"/><circle cx="339.22" cy="12.9" r="0.4"/><circle cx="339.41" cy="24.59" r="0.4"/><circle cx="327.9" cy="27.5" r="0.4"/><circle cx="315.33" cy="41.47" r="0.4"/><circle cx="300.49" cy="52.56" r="0.4"/><circle cx="305.06" cy="46.73" r="0.4"/><circle cx="298.81" cy="53.48" r="0.4"/><circle cx="321.37" cy="22.89" r="0.4"/><circle cx="321.25" cy="30.2" r="0.4"/><circle cx="302.98" cy="36.1" r="0.4"/><circle cx="340.56" cy="11.42" r="0.4"/><circle cx="303.86" cy="29.94" r="0.4"/><circle cx="299.77" cy="53.72" r="0.4"/><circle cx="308.74" cy="45.79" r="0.4"/><circle cx="321.96" cy="12.26" r="0.4"/><circle cx="298.15" cy="53.85" r="0.4"/><circle cx="338.71" cy="37.9" r="0.4"/><circle cx="302.97" cy="47.36" r="0.4"/><circle cx="310.35" cy="41.17" r="0.4"/><circle cx="333.95" cy="39.01" r="0.4"/><circle cx="327.86" cy="27.07" r="0.4"/><circle cx="321.26" cy="37.26" r="0.4"/><circle cx="311.91" cy="45.57" r="0.4"/><circle cx="316.95" cy="23.64" r="0.4"/><circle cx="318.63" cy="11.84" r="0.4"/><circle cx="302.87" cy="51.62" r="0.4"/><circle cx="299.29" cy="49.5" r="0.4"/><circle cx="301.57" cy="49.57" r="0.4"/><circle cx="316.98" cy="32.13" r="0.4"/><circle cx="316.7" cy="16.45" r="0.4"/><circle cx="321.89" cy="31.09" r="0.4"/><circle cx="306.31" cy="48.65" r="0.4"/><circle cx="318.95" cy="10.88" r="0.4"/><circle cx="312.93" cy="37.46" r="0.4"/><circle cx="299.66" cy="52.27" r="0.4"/><circle cx="308.99" cy="47.67" r="0.4"/><circle cx="302.04" cy="48.05" r="0.4"/><circle cx="315.25" cy="39.01" r="0.4"/><circle cx="314.9" cy="47.62" r="0.4"/><circle cx="324.32" cy="33.84" r="0.4"/><circle cx="321.19" cy="29.16" r="0.4"/><circle cx="331.06" cy="36.18" r="0.4"/><circle cx="313.37" cy="34.26" r="0.4"/><circle cx="301.97" cy="48.38" r="0.4"/><circle cx="303.63" cy="51.06" r="0.4"/><circle cx="315.19" cy="38.82" r="0.4"/><circle cx="304.05" cy="40.74" r="0.4"/><circle cx="316.44" cy="27.19" r="0.4"/><circle cx="302.17" cy="44.97" r="0.4"/><circle cx="310.32" cy="36.05" r="0.4"/><circle cx="303.71" cy="43.91" r="0.4"/><circle cx="312.35" cy="29.59" r="0.4"/><circle cx="316.94" cy="36.35" r="0.4"/><circle cx="332.84" cy="40.2" r="0.4"/><circle cx="313.78" cy="18.83" r="0.4"/><circle cx="329.49" cy="15.55" r="0.4"/><circle cx="299.87" cy="49.66" r="0.4"/><circle cx="309.47" cy="32.76" r="0.4"/><circle cx="307.12" cy="47.35" r="0.4"/><circle cx="316.73" cy="37.59" r="0.4"/><circle cx="329.35" cy="26.66" r="0.4"/><circle cx="300.44" cy="52.91" r="0.4"/><circle cx="299.86" cy="52" r="0.4"/><circle cx="322.06" cy="36.56" r="0.4"/><circle cx="302.81" cy="27.74" r="0.4"/><circle cx="325.12" cy="44.09" r="0.4"/><circle cx="310.61" cy="46.45" r="0.4"/><circle cx="315.25" cy="41.35" r="0.4"/><circle cx="312.65" cy="36.9" r="0.4"/><circle cx="319.43" cy="35.4" r="0.4"/><circle cx="297.97" cy="53.61" r="0.4"/><circle cx="301.87" cy="51.8" r="0.4"/><circle cx="306.67" cy="36.69" r="0.4"/><circle cx="311.73" cy="44.72" r="0.4"/><circle cx="299.03" cy="51.82" r="0.4"/><circle cx="321.04" cy="15.9" r="0.4"/><circle cx="301.2" cy="49.76" r="0.4"/><circle cx="307.71" cy="36.55" r="0.4"/><circle cx="306.73" cy="41.5" r="0.4"/><circle cx="323.92" cy="21.21" r="0.4"/><circle cx="314.69" cy="31.5" r="0.4"/><circle cx="310.16" cy="41.79" r="0.4"/><circle cx="316.06" cy="30.96" r="0.4"/><circle cx="309.73" cy="34.73" r="0.4"/><circle cx="319.54" cy="39.12" r="0.4"/><circle cx="328.29" cy="26.09" r="0.4"/><circle cx="337.85" cy="32.7" r="0.4"/><circle cx="300.94" cy="51.53" r="0.4"/><circle cx="322.62" cy="30.7" r="0.4"/><circle cx="307.55" cy="44.02" r="0.4"/><circle cx="304.11" cy="44.32" r="0.4"/><circle cx="340.68" cy="20.3" r="0.4"/><circle cx="329.72" cy="27.74" r="0.4"/><circle cx="313.44" cy="37.5" r="0.4"/><circle cx="305.82" cy="41.6" r="0.4"/><circle cx="320.34" cy="31.15" r="0.4"/><circle cx="333.91" cy="26.58" r="0.4"/><circle cx="301.17" cy="50.46" r="0.4"/><circle cx="299.24" cy="52.94" r="0.4"/><circle cx="310.63" cy="40.25" r="0.4"/><circle cx="333.4" cy="28.58" r="0.4"/><circle cx="300.11" cy="50.47" r="0.4"/><circle cx="306.03" cy="37.1" r="0.4"/><circle cx="308.69" cy="34.15" r="0.4"/><circle cx="321.45" cy="30.81" r="0.4"/><circle cx="302.95" cy="44.62" r="0.4"/><circle cx="312.79" cy="35.26" r="0.4"/><circle cx="333.5" cy="30.84" r="0.4"/><circle cx="317.31" cy="38.97" r="0.4"/><circle cx="326.66" cy="37.37" r="0.4"/><circle cx="334.22" cy="19.09" r="0.4"/><circle cx="328.14" cy="18.43" r="0.4"/><circle cx="331.33" cy="27.32" r="0.4"/><circle cx="299.49" cy="51.9" r="0.4"/><circle cx="328.47" cy="26.54" r="0.4"/><circle cx="306.61" cy="42.43" r="0.4"/><circle cx="324.51" cy="14.97" r="0.4"/><circle cx="334.52" cy="22.57" r="0.4"/><circle cx="310.3" cy="46.73" r="0.4"/><circle cx="301.02" cy="52.44" r="0.4"/><circle cx="308.27" cy="28.89" r="0.4"/><circle cx="315.88" cy="29.61" r="0.4"/><circle cx="307.42" cy="45.21" r="0.4"/><circle cx="305.11" cy="45.6" r="0.4"/><circle cx="319.51" cy="37.53" r="0.4"/><circle cx="342.17" cy="14.34" r="0.4"/><circle cx="318.06" cy="30.86" r="0.4"/><circle cx="304.74" cy="42.86" r="0.4"/><circle cx="327.39" cy="27.68" r="0.4"/><circle cx="321.42" cy="19.95" r="0.4"/><circle cx="326.89" cy="20.54" r="0.4"/><circle cx="303.67" cy="51.05" r="0.4"/><circle cx="310.6" cy="47.97" r="0.4"/><circle cx="334.16" cy="18.4" r="0.4"/><circle cx="304.38" cy="45.73" r="0.4"/><circle cx="300.06" cy="53.48" r="0.4"/><circle cx="311.22" cy="41.51" r="0.4"/><circle cx="305.31" cy="50.61" r="0.4"/><circle cx="312.4" cy="20.78" r="0.4"/><circle cx="304.53" cy="48.62" r="0.4"/><circle cx="305.12" cy="19.55" r="0.4"/><circle cx="325.15" cy="19.98" r="0.4"/><circle cx="316.96" cy="29.88" r="0.4"/><circle cx="337.62" cy="47.96" r="0.4"/><circle cx="318.7" cy="23" r="0.4"/><circle cx="301.51" cy="52.08" r="0.4"/><circle cx="333.33" cy="19.62" r="0.4"/><circle cx="300.99" cy="48.55" r="0.4"/><circle cx="315.78" cy="42.23" r="0.4"/><circle cx="307.6" cy="43.53" r="0.4"/><circle cx="315.63" cy="47.89" r="0.4"/><circle cx="303.6" cy="49.87" r="0.4"/><circle cx="314.02" cy="19.73" r="0.4"/><circle cx="303.35" cy="51.06" r="0.4"/><circle cx="302.04" cy="31.45" r="0.4"/><circle cx="306.7" cy="49.15" r="0.4"/><circle cx="330.84" cy="49.66" r="0.4"/><circle cx="305.4" cy="50.24" r="0.4"/><circle cx="337.56" cy="13.18" r="0.4"/><circle cx="304.35" cy="50.32" r="0.4"/><circle cx="321.98" cy="39.53" r="0.4"/><circle cx="325.26" cy="12.22" r="0.4"/><circle cx="315.26" cy="42.58" r="0.4"/><circle cx="321.22" cy="26.67" r="0.4"/><circle cx="325.59" cy="10.65" r="0.4"/><circle cx="315.55" cy="46.84" r="0.4"/><circle cx="303.44" cy="45.99" r="0.4"/><circle cx="314.29" cy="31.83" r="0.4"/><circle cx="331.18" cy="25.9" r="0.4"/><circle cx="301.91" cy="52.86" r="0.4"/><circle cx="303.1" cy="45.1" r="0.4"/><circle cx="312.6" cy="36.15" r="0.4"/><circle cx="300.21" cy="50.94" r="0.4"/><circle cx="300.29" cy="53.95" r="0.4"/><circle cx="334.98" cy="33.69" r="0.4"/><circle cx="298.25" cy="51.12" r="0.4"/><circle cx="297.76" cy="53.76" r="0.4"/><circle cx="312.96" cy="34.78" r="0.4"/><circle cx="297.52" cy="54.13" r="0.4"/><circle cx="332.48" cy="13.08" r="0.4"/><circle cx="310.07" cy="45.36" r="0.4"/><circle cx="307.95" cy="46.05" r="0.4"/><circle cx="300.14" cy="51.62" r="0.4"/><circle cx="311.7" cy="27.66" r="0.4"/><circle cx="297.86" cy="53.57" r="0.4"/><circle cx="337.9" cy="20.15" r="0.4"/><circle cx="306.84" cy="47.41" r="0.4"/><circle cx="307.28" cy="50.01" r="0.4"/><circle cx="341.4" cy="48.76" r="0.4"/><circle cx="298.32" cy="51.32" r="0.4"/><circle cx="335.88" cy="20.28" r="0.4"/><circle cx="335.13" cy="16.38" r="0.4"/><circle cx="329.63" cy="27.29" r="0.4"/><circle cx="321.09" cy="37.58" r="0.4"/><circle cx="301.22" cy="52.6" r="0.4"/><circle cx="331.59" cy="17.62" r="0.4"/><circle cx="314.21" cy="43.46" r="0.4"/><circle cx="335.4" cy="29.24" r="0.4"/><circle cx="328.38" cy="28.06" r="0.4"/><circle cx="336.45" cy="22.18" r="0.4"/><circle cx="314.81" cy="36.22" r="0.4"/><circle cx="301.6" cy="52.6" r="0.4"/><circle cx="342.05" cy="22.14" r="0.4"/><circle cx="334.8" cy="22.58" r="0.4"/><circle cx="302.11" cy="35.64" r="0.4"/><circle cx="311.14" cy="43.15" r="0.4"/><circle cx="342.31" cy="11.15" r="0.4"/><circle cx="321.6" cy="42.65" r="0.4"/><circle cx="324.1" cy="22.62" r="0.4"/><circle cx="316.49" cy="41.1" r="0.4"/><circle cx="325.95" cy="46.14" r="0.4"/><circle cx="319.66" cy="38.22" r="0.4"/><circle cx="316.43" cy="17.53" r="0.4"/><circle cx="316.19" cy="35.4" r="0.4"/><circle cx="322.98" cy="35.05" r="0.4"/><circle cx="328.53" cy="24.99" r="0.4"/><circle cx="336.29" cy="28.65" r="0.4"/><circle cx="304.77" cy="45.01" r="0.4"/><circle cx="311.96" cy="43.68" r="0.4"/><circle cx="321.74" cy="28.83" r="0.4"/><circle cx="306.1" cy="26.02" r="0.4"/><circle cx="311.52" cy="34.7" r="0.4"/><circle cx="326.46" cy="32.55" r="0.4"/><circle cx="321.19" cy="36.34" r="0.4"/><circle cx="328.13" cy="31.01" r="0.4"/><circle cx="301.78" cy="17.02" r="0.4"/><circle cx="312.96" cy="32.78" r="0.4"/><circle cx="300.59" cy="52.26" r="0.4"/><circle cx="309.01" cy="46.33" r="0.4"/><circle cx="307.26" cy="40.8" r="0.4"/><circle cx="299.07" cy="54.42" r="0.4"/><circle cx="308.56" cy="40.52" r="0.4"/><circle cx="302.6" cy="49.45" r="0.4"/><circle cx="309.16" cy="42.19" r="0.4"/><circle cx="316.14" cy="40.67" r="0.4"/><circle cx="334.63" cy="24.01" r="0.4"/><circle cx="325.75" cy="21.13" r="0.4"/><circle cx="308.67" cy="40.95" r="0.4"/><circle cx="309.03" cy="49.65" r="0.4"/><circle cx="297.53" cy="52.22" r="0.4"/><circle cx="339.46" cy="19.65" r="0.4"/><circle cx="322.74" cy="19.34" r="0.4"/><circle cx="303.3" cy="50.4" r="0.4"/><circle cx="301.7" cy="51.56" r="0.4"/><circle cx="299.44" cy="52.41" r="0.4"/><circle cx="315.13" cy="37.88" r="0.4"/><circle cx="301.49" cy="53.97" r="0.4"/><circle cx="320.14" cy="39.71" r="0.4"/><circle cx="314.27" cy="42.41" r="0.4"/><circle cx="325.99" cy="29.21" r="0.4"/><circle cx="306.22" cy="51.24" r="0.4"/><circle cx="324.86" cy="20.14" r="0.4"/><circle cx="310.99" cy="39.93" r="0.4"/><circle cx="310.69" cy="23.3" r="0.4"/><circle cx="303.76" cy="45.35" r="0.4"/><circle cx="322.82" cy="30.1" r="0.4"/><circle cx="303.09" cy="50.31" r="0.4"/><circle cx="306.36" cy="53.46" r="0.4"/><circle cx="327.91" cy="34.55" r="0.4"/><circle cx="322.09" cy="39.45" r="0.4"/><circle cx="336.46" cy="32.67" r="0.4"/><circle cx="339.54" cy="11.13" r="0.4"/><circle cx="334.91" cy="15.66" r="0.4"/><circle cx="336.92" cy="41.78" r="0.4"/><circle cx="298.54" cy="54.04" r="0.4"/><circle cx="327.54" cy="43.91" r="0.4"/><circle cx="306.98" cy="41.34" r="0.4"/><circle cx="302.08" cy="45.92" r="0.4"/><circle cx="328.61" cy="22.15" r="0.4"/><circle cx="310.24" cy="47.34" r="0.4"/><circle cx="299.78" cy="51.89" r="0.4"/><circle cx="308.56" cy="46.64" r="0.4"/><circle cx="325.2" cy="37.1" r="0.4"/><circle cx="335.67" cy="34.12" r="0.4"/><circle cx="322.36" cy="37.37" r="0.4"/><circle cx="298.07" cy="54.4" r="0.4"/><circle cx="326.19" cy="28.85" r="0.4"/><circle cx="335.22" cy="39.02" r="0.4"/><circle cx="330.89" cy="15.86" r="0.4"/><circle cx="336.98" cy="23.72" r="0.4"/><circle cx="325.71" cy="17.35" r="0.4"/><circle cx="321.95" cy="31.93" r="0.4"/><circle cx="322.95" cy="43.36" r="0.4"/><circle cx="306.01" cy="18.41" r="0.4"/><circle cx="320.85" cy="31.87" r="0.4"/><circle cx="303.21" cy="47.73" r="0.4"/><circle cx="329.06" cy="28.13" r="0.4"/><circle cx="317.03" cy="33.93" r="0.4"/><circle cx="298.56" cy="52.57" r="0.4"/><circle cx="325.05" cy="38.61" r="0.4"/><circle cx="304.86" cy="19.36" r="0.4"/><circle cx="305.79" cy="38.65" r="0.4"/><circle cx="322.35" cy="16.39" r="0.4"/><circle cx="303.83" cy="49.73" r="0.4"/><circle cx="340.67" cy="28.93" r="0.4"/><circle cx="302.12" cy="40.51" r="0.4"/><circle cx="301.2" cy="54.28" r="0.4"/><circle cx="326.13" cy="41.14" r="0.4"/><circle cx="336.98" cy="18" r="0.4"/><circle cx="324.06" cy="42.7" r="0.4"/><circle cx="318.12" cy="43.07" r="0.4"/><circle cx="324.06" cy="37.65" r="0.4"/><circle cx="328.7" cy="40.47" r="0.4"/><circle cx="305.46" cy="45.02" r="0.4"/><circle cx="300.31" cy="49.39" r="0.4"/><circle cx="333.04" cy="20.62" r="0.4"/><circle cx="310.15" cy="13.9" r="0.4"/><circle cx="326.81" cy="18.31" r="0.4"/><circle cx="327.53" cy="44.75" r="0.4"/><circle cx="336.17" cy="15.11" r="0.4"/><circle cx="301.4" cy="28.91" r="0.4"/><circle cx="307.41" cy="44.56" r="0.4"/><circle cx="323.96" cy="41.4" r="0.4"/><circle cx="315.51" cy="43.82" r="0.4"/><circle cx="299.3" cy="53.54" r="0.4"/><circle cx="300.69" cy="53.57" r="0.4"/><circle cx="306.23" cy="41.35" r="0.4"/><circle cx="301.24" cy="52.74" r="0.4"/><circle cx="300.15" cy="49.04" r="0.4"/><circle cx="308.4" cy="46.44" r="0.4"/><circle cx="340.15" cy="38.97" r="0.4"/><circle cx="317.29" cy="33.98" r="0.4"/><circle cx="300.5" cy="53.19" r="0.4"/><circle cx="316.69" cy="40.85" r="0.4"/><circle cx="327.83" cy="42.1" r="0.4"/><circle cx="305.3" cy="52.22" r="0.4"/><circle cx="313.94" cy="32.93" r="0.4"/><circle cx="319.67" cy="26.29" r="0.4"/><circle cx="300.26" cy="51.44" r="0.4"/><circle cx="332.13" cy="29.22" r="0.4"/><circle cx="307.04" cy="46.1" r="0.4"/><circle cx="333.06" cy="19.65" r="0.4"/><circle cx="300.11" cy="46.85" r="0.4"/><circle cx="303.28" cy="49.24" r="0.4"/><circle cx="324.19" cy="20.23" r="0.4"/><circle cx="301.48" cy="49.4" r="0.4"/><circle cx="336.93" cy="10.03" r="0.4"/><circle cx="321.94" cy="33.8" r="0.4"/><circle cx="318.91" cy="33.17" r="0.4"/><circle cx="318.53" cy="39.45" r="0.4"/><circle cx="310.9" cy="41.43" r="0.4"/><circle cx="310.09" cy="45.54" r="0.4"/><circle cx="298.68" cy="53.65" r="0.4"/><circle cx="311.13" cy="32.16" r="0.4"/><circle cx="327.28" cy="44.5" r="0.4"/><circle cx="306.12" cy="47.15" r="0.4"/><circle cx="316.5" cy="36.48" r="0.4"/><circle cx="329.58" cy="21.29" r="0.4"/><circle cx="303.32" cy="49.79" r="0.4"/><circle cx="300.15" cy="51.14" r="0.4"/><circle cx="341.69" cy="14.28" r="0.4"/><circle cx="299.4" cy="50.83" r="0.4"/><circle cx="316.07" cy="42.62" r="0.4"/><circle cx="307.21" cy="46.37" r="0.4"/><circle cx="326.42" cy="27.08" r="0.4"/><circle cx="316.69" cy="43.17" r="0.4"/><circle cx="331.77" cy="26.15" r="0.4"/><circle cx="305.27" cy="49.22" r="0.4"/><circle cx="335.01" cy="12.68" r="0.4"/><circle cx="300.86" cy="51.19" r="0.4"/><circle cx="311.09" cy="42.65" r="0.4"/><circle cx="312.02" cy="36.26" r="0.4"/><circle cx="302.02" cy="51.03" r="0.4"/><circle cx="311.15" cy="27.76" r="0.4"/><circle cx="312.07" cy="27.8" r="0.4"/><circle cx="319.82" cy="35.91" r="0.4"/><circle cx="325.12" cy="32.07" r="0.4"/><circle cx="318.34" cy="9.95" r="0.4"/><circle cx="318.78" cy="33.46" r="0.4"/><circle cx="329.6" cy="22.57" r="0.4"/><circle cx="299.83" cy="50.93" r="0.4"/><circle cx="321.54" cy="26.56" r="0.4"/><circle cx="334.64" cy="22.22" r="0.4"/><circle cx="304.87" cy="49.43" r="0.4"/><circle cx="300.21" cy="52.29" r="0.4"/><circle cx="320.18" cy="35.96" r="0.4"/><circle cx="303" cy="53.11" r="0.4"/><circle cx="334.17" cy="25.78" r="0.4"/><circle cx="319.28" cy="29.5" r="0.4"/><circle cx="310.38" cy="44.44" r="0.4"/><circle cx="314.73" cy="40.45" r="0.4"/><circle cx="303.96" cy="48.12" r="0.4"/><circle cx="309.27" cy="43.2" r="0.4"/><circle cx="303.16" cy="34.59" r="0.4"/><circle cx="304.12" cy="49.55" r="0.4"/><circle cx="314.79" cy="11.52" r="0.4"/><circle cx="317.22" cy="12.22" r="0.4"/><circle cx="314.53" cy="41.18" r="0.4"/><circle cx="314.17" cy="39.38" r="0.4"/><circle cx="322.02" cy="37.54" r="0.4"/><circle cx="300.11" cy="50.46" r="0.4"/><circle cx="336.09" cy="39.85" r="0.4"/><circle cx="315.99" cy="46.38" r="0.4"/><circle cx="334.76" cy="30.22" r="0.4"/><circle cx="309.32" cy="32.48" r="0.4"/><circle cx="305.1" cy="45.19" r="0.4"/><circle cx="315.98" cy="45.18" r="0.4"/><circle cx="304.79" cy="25.25" r="0.4"/><circle cx="301.4" cy="50.95" r="0.4"/><circle cx="336.19" cy="41.5" r="0.4"/><circle cx="315.52" cy="31.84" r="0.4"/><circle cx="302.09" cy="34.05" r="0.4"/><circle cx="310.83" cy="28.46" r="0.4"/><circle cx="310.79" cy="37.09" r="0.4"/><circle cx="307.95" cy="47.29" r="0.4"/><circle cx="331.43" cy="20.82" r="0.4"/><circle cx="297.59" cy="52.89" r="0.4"/><circle cx="299.85" cy="52.59" r="0.4"/><circle cx="302.24" cy="51.63" r="0.4"/><circle cx="330.44" cy="21.34" r="0.4"/><circle cx="310.15" cy="13.23" r="0.4"/><circle cx="313.51" cy="15.01" r="0.4"/><circle cx="315.99" cy="26.86" r="0.4"/><circle cx="314.22" cy="32.94" r="0.4"/><circle cx="331.26" cy="18" r="0.4"/><circle cx="300.76" cy="52.82" r="0.4"/><circle cx="305.16" cy="51.55" r="0.4"/><circle cx="341.52" cy="31.99" r="0.4"/><circle cx="327.28" cy="28.98" r="0.4"/><circle cx="328.46" cy="21.04" r="0.4"/><circle cx="314.78" cy="35.62" r="0.4"/><circle cx="331.37" cy="50.46" r="0.4"/><circle cx="299.89" cy="53.12" r="0.4"/><circle cx="308.07" cy="41.64" r="0.4"/><circle cx="309.8" cy="42.66" r="0.4"/><circle cx="330.08" cy="21.08" r="0.4"/><circle cx="330.76" cy="29.24" r="0.4"/><circle cx="302.96" cy="38.14" r="0.4"/><circle cx="322.07" cy="35.4" r="0.4"/><circle cx="316.95" cy="34.45" r="0.4"/><circle cx="309.4" cy="9.94" r="0.4"/><circle cx="322.35" cy="21.59" r="0.4"/><circle cx="337.57" cy="26.33" r="0.4"/><circle cx="299.92" cy="24.7" r="0.4"/><circle cx="314.51" cy="43.53" r="0.4"/><circle cx="313.98" cy="28.5" r="0.4"/><circle cx="318.36" cy="33.94" r="0.4"/><circle cx="306.3" cy="48.95" r="0.4"/><circle cx="331.88" cy="27.2" r="0.4"/><circle cx="334.51" cy="20.11" r="0.4"/><circle cx="336.49" cy="22.31" r="0.4"/><circle cx="328.94" cy="27.19" r="0.4"/><circle cx="318.64" cy="28.64" r="0.4"/><circle cx="302.17" cy="42.05" r="0.4"/><circle cx="298.64" cy="53.19" r="0.4"/><circle cx="309.39" cy="38.51" r="0.4"/><circle cx="338.8" cy="21.04" r="0.4"/><circle cx="324.01" cy="41.29" r="0.4"/><circle cx="329.72" cy="12.9" r="0.4"/><circle cx="311.11" cy="37.17" r="0.4"/><circle cx="327.48" cy="23.03" r="0.4"/><circle cx="317.01" cy="38.15" r="0.4"/><circle cx="300.54" cy="50.8" r="0.4"/><circle cx="321.04" cy="20.38" r="0.4"/><circle cx="305.58" cy="40.39" r="0.4"/><circle cx="300.61" cy="52.26" r="0.4"/><circle cx="314.35" cy="44.83" r="0.4"/><circle cx="300.03" cy="50.49" r="0.4"/><circle cx="305.42" cy="46.52" r="0.4"/><circle cx="323.23" cy="46.56" r="0.4"/><circle cx="299.32" cy="50.71" r="0.4"/><circle cx="300.18" cy="53.49" r="0.4"/><circle cx="298.02" cy="53.84" r="0.4"/><circle cx="317.92" cy="40.57" r="0.4"/><circle cx="324.06" cy="46.48" r="0.4"/><circle cx="318.34" cy="31.89" r="0.4"/><circle cx="340.15" cy="13.24" r="0.4"/><circle cx="319.32" cy="13.96" r="0.4"/><circle cx="298.55" cy="52.59" r="0.4"/><circle cx="303.06" cy="46.45" r="0.4"/><circle cx="320.44" cy="26.45" r="0.4"/><circle cx="311.86" cy="26.82" r="0.4"/><circle cx="309.86" cy="39.46" r="0.4"/><circle cx="313.2" cy="38.32" r="0.4"/><circle cx="331.61" cy="22.42" r="0.4"/><circle cx="298.26" cy="53.83" r="0.4"/><circle cx="300.17" cy="54.39" r="0.4"/><circle cx="314.57" cy="38.49" r="0.4"/><circle cx="307.93" cy="43.03" r="0.4"/><circle cx="318.14" cy="37.29" r="0.4"/><circle cx="332.78" cy="33.65" r="0.4"/><circle cx="319.15" cy="24.94" r="0.4"/><circle cx="317.62" cy="34.6" r="0.4"/><circle cx="310.82" cy="40.09" r="0.4"/><circle cx="315.52" cy="33.48" r="0.4"/><circle cx="310.89" cy="53.86" r="0.4"/><circle cx="318.26" cy="29.17" r="0.4"/><circle cx="301.28" cy="52.96" r="0.4"/><circle cx="301.45" cy="14.11" r="0.4"/><circle cx="336.91" cy="40.17" r="0.4"/><circle cx="302.84" cy="43.32" r="0.4"/><circle cx="314.97" cy="26.06" r="0.4"/><circle cx="310.02" cy="35.59" r="0.4"/><circle cx="308.35" cy="41.87" r="0.4"/><circle cx="299.13" cy="53.05" r="0.4"/><circle cx="301.04" cy="44.35" r="0.4"/><circle cx="331.17" cy="14.43" r="0.4"/><circle cx="339.43" cy="14.81" r="0.4"/><circle cx="315.6" cy="43.21" r="0.4"/><circle cx="319.48" cy="32.56" r="0.4"/><circle cx="308.96" cy="40.98" r="0.4"/><circle cx="304.69" cy="48.55" r="0.4"/><circle cx="321.13" cy="24.3" r="0.4"/><circle cx="325.02" cy="32.04" r="0.4"/><circle cx="299.42" cy="50.29" r="0.4"/><circle cx="297.94" cy="53.79" r="0.4"/><circle cx="305.83" cy="41.5" r="0.4"/><circle cx="336.04" cy="25.84" r="0.4"/><circle cx="336.96" cy="31.53" r="0.4"/><circle cx="307.06" cy="43.74" r="0.4"/><circle cx="319.79" cy="37.41" r="0.4"/><circle cx="330.71" cy="38.99" r="0.4"/><circle cx="301.9" cy="50.82" r="0.4"/><circle cx="299.98" cy="53.71" r="0.4"/><circle cx="308.54" cy="42.26" r="0.4"/><circle cx="297.64" cy="52.15" r="0.4"/><circle cx="299.72" cy="32.18" r="0.4"/><circle cx="302.43" cy="49.8" r="0.4"/><circle cx="301.41" cy="49.71" r="0.4"/><circle cx="340.18" cy="22.31" r="0.4"/><circle cx="324.15" cy="17.06" r="0.4"/><circle cx="318.67" cy="24.07" r="0.4"/><circle cx="310.7" cy="48.77" r="0.4"/><circle cx="325.65" cy="28.51" r="0.4"/><circle cx="305.01" cy="31.73" r="0.4"/><circle cx="336.83" cy="19.59" r="0.4"/><circle cx="327.96" cy="27.51" r="0.4"/><circle cx="300.62" cy="53.48" r="0.4"/><circle cx="300.63" cy="39.51" r="0.4"/><circle cx="300.49" cy="51.54" r="0.4"/><circle cx="311.21" cy="45.91" r="0.4"/><circle cx="311.54" cy="41.45" r="0.4"/><circle cx="299.83" cy="50.96" r="0.4"/><circle cx="330.56" cy="18.83" r="0.4"/><circle cx="301.46" cy="49.17" r="0.4"/><circle cx="310.92" cy="45.65" r="0.4"/><circle cx="335.55" cy="15.55" r="0.4"/><circle cx="321.03" cy="22.15" r="0.4"/><circle cx="297.65" cy="53.5" r="0.4"/><circle cx="305.04" cy="46.83" r="0.4"/><circle cx="330.86" cy="13.43" r="0.4"/><circle cx="303.33" cy="51.53" r="0.4"/><circle cx="318.94" cy="33.18" r="0.4"/><circle cx="326.45" cy="13.28" r="0.4"/><circle cx="298.96" cy="52.7" r="0.4"/><circle cx="300.61" cy="52.94" r="0.4"/><circle cx="307.35" cy="48.05" r="0.4"/><circle cx="301.43" cy="53.05" r="0.4"/><circle cx="304.7" cy="46.9" r="0.4"/><circle cx="329.87" cy="34.05" r="0.4"/><circle cx="306.18" cy="41.38" r="0.4"/><circle cx="299.59" cy="45.29" r="0.4"/><circle cx="298.55" cy="52.23" r="0.4"/><circle cx="308.27" cy="46.32" r="0.4"/><circle cx="300.96" cy="45.93" r="0.4"/><circle cx="334.72" cy="17.32" r="0.4"/><circle cx="325.2" cy="18.57" r="0.4"/><circle cx="308.85" cy="36.48" r="0.4"/><circle cx="333.02" cy="32.63" r="0.4"/><circle cx="316.21" cy="40.8" r="0.4"/><circle cx="317.65" cy="19.02" r="0.4"/><circle cx="303.94" cy="28.88" r="0.4"/><circle cx="306.94" cy="47.58" r="0.4"/><circle cx="336.06" cy="26.55" r="0.4"/><circle cx="301.89" cy="42.9" r="0.4"/><circle cx="299.77" cy="49.72" r="0.4"/><circle cx="333.38" cy="19.58" r="0.4"/><circle cx="316.64" cy="41.74" r="0.4"/><circle cx="298.85" cy="52.98" r="0.4"/><circle cx="336.06" cy="30.26" r="0.4"/><circle cx="327.75" cy="22.26" r="0.4"/><circle cx="310.85" cy="40.81" r="0.4"/><circle cx="338.8" cy="27.13" r="0.4"/><circle cx="328.52" cy="42.52" r="0.4"/><circle cx="312.1" cy="47.12" r="0.4"/><circle cx="338.69" cy="16.84" r="0.4"/><circle cx="309.26" cy="36.83" r="0.4"/><circle cx="339.54" cy="29.3" r="0.4"/><circle cx="304.04" cy="38.68" r="0.4"/><circle cx="320.19" cy="22.81" r="0.4"/><circle cx="320.29" cy="26.32" r="0.4"/><circle cx="301.67" cy="50.6" r="0.4"/><circle cx="301.96" cy="51.5" r="0.4"/><circle cx="330.37" cy="10.81" r="0.4"/><circle cx="315.51" cy="33.42" r="0.4"/><circle cx="304" cy="28.71" r="0.4"/><circle cx="337.42" cy="16.09" r="0.4"/><circle cx="336.4" cy="33.36" r="0.4"/><circle cx="317.22" cy="22.64" r="0.4"/><circle cx="339.37" cy="15.46" r="0.4"/><circle cx="301.56" cy="49.73" r="0.4"/><circle cx="323.85" cy="23.95" r="0.4"/><circle cx="331.93" cy="26.61" r="0.4"/><circle cx="305.13" cy="53.23" r="0.4"/><circle cx="308.84" cy="28.97" r="0.4"/><circle cx="303.53" cy="33.76" r="0.4"/><circle cx="302.38" cy="50.47" r="0.4"/><circle cx="310.03" cy="28.6" r="0.4"/><circle cx="303.39" cy="46.84" r="0.4"/><circle cx="313.04" cy="43.72" r="0.4"/><circle cx="301.53" cy="50.47" r="0.4"/><circle cx="299.32" cy="53.84" r="0.4"/><circle cx="305.29" cy="49.8" r="0.4"/><circle cx="317.44" cy="22.11" r="0.4"/><circle cx="336.27" cy="26.1" r="0.4"/><circle cx="303.14" cy="52.44" r="0.4"/><circle cx="306.92" cy="47.74" r="0.4"/><circle cx="316.47" cy="41.19" r="0.4"/><circle cx="303.39" cy="44.76" r="0.4"/><circle cx="315.76" cy="41.9" r="0.4"/><circle cx="302.58" cy="51.6" r="0.4"/><circle cx="297.46" cy="54.16" r="0.4"/><circle cx="300.82" cy="52.57" r="0.4"/><circle cx="303.69" cy="46.91" r="0.4"/><circle cx="315.26" cy="30.1" r="0.4"/><circle cx="314.7" cy="33.53" r="0.4"/><circle cx="309.7" cy="42.02" r="0.4"/><circle cx="302.33" cy="44.62" r="0.4"/><circle cx="312.72" cy="30.8" r="0.4"/><circle cx="310.96" cy="23.8" r="0.4"/><circle cx="301.5" cy="51.97" r="0.4"/><circle cx="326.76" cy="39.94" r="0.4"/><circle cx="301.31" cy="51.82" r="0.4"/><circle cx="305.87" cy="51.33" r="0.4"/><circle cx="307.58" cy="44.87" r="0.4"/><circle cx="310.35" cy="41.68" r="0.4"/><circle cx="299.35" cy="53.45" r="0.4"/><circle cx="322.44" cy="28.39" r="0.4"/><circle cx="311.73" cy="46.13" r="0.4"/><circle cx="322.77" cy="26.91" r="0.4"/><circle cx="310.73" cy="36.91" r="0.4"/><circle cx="317.26" cy="40.17" r="0.4"/><circle cx="310.36" cy="47.36" r="0.4"/><circle cx="329.41" cy="29.41" r="0.4"/><circle cx="303.32" cy="48.88" r="0.4"/><circle cx="331.13" cy="38.61" r="0.4"/><circle cx="313.07" cy="36.32" r="0.4"/><circle cx="319.55" cy="11.02" r="0.4"/><circle cx="326.44" cy="10.91" r="0.4"/><circle cx="318.8" cy="28.42" r="0.4"/><circle cx="305.86" cy="46.63" r="0.4"/><circle cx="309.88" cy="31.58" r="0.4"/><circle cx="314.39" cy="40.21" r="0.4"/><circle cx="312.35" cy="43.87" r="0.4"/><circle cx="303.59" cy="27.31" r="0.4"/><circle cx="309.54" cy="45.78" r="0.4"/><circle cx="325.22" cy="15.63" r="0.4"/><circle cx="325.01" cy="33.58" r="0.4"/><circle cx="307.36" cy="42.97" r="0.4"/><circle cx="307.38" cy="50.85" r="0.4"/><circle cx="299.78" cy="51.25" r="0.4"/><circle cx="306.19" cy="44.69" r="0.4"/><circle cx="328.34" cy="34.65" r="0.4"/><circle cx="307.03" cy="34.8" r="0.4"/><circle cx="313.17" cy="25.41" r="0.4"/><circle cx="334.97" cy="38.61" r="0.4"/><circle cx="311.86" cy="36.64" r="0.4"/><circle cx="300.82" cy="54.03" r="0.4"/><circle cx="317.21" cy="29.85" r="0.4"/><circle cx="325.76" cy="32.47" r="0.4"/><circle cx="312.57" cy="50.22" r="0.4"/><circle cx="304.74" cy="49.32" r="0.4"/><circle cx="309.05" cy="17.85" r="0.4"/><circle cx="330.53" cy="25.47" r="0.4"/><circle cx="297.82" cy="53.6" r="0.4"/><circle cx="303.54" cy="49.7" r="0.4"/><circle cx="300.01" cy="50.7" r="0.4"/><circle cx="299.25" cy="52.42" r="0.4"/><circle cx="332.41" cy="18.64" r="0.4"/><circle cx="299.16" cy="53.36" r="0.4"/><circle cx="305.86" cy="37.69" r="0.4"/><circle cx="314.83" cy="21.51" r="0.4"/><circle cx="321.79" cy="36.24" r="0.4"/><circle cx="301.4" cy="51.69" r="0.4"/><circle cx="299.88" cy="54.33" r="0.4"/><circle cx="313.87" cy="42.42" r="0.4"/><circle cx="327.74" cy="37.31" r="0.4"/><circle cx="324.33" cy="30.93" r="0.4"/><circle cx="305.27" cy="48.42" r="0.4"/><circle cx="330.66" cy="19.27" r="0.4"/><circle cx="319.25" cy="15.29" r="0.4"/><circle cx="336.38" cy="15.82" r="0.4"/><circle cx="298.07" cy="54.44" r="0.4"/><circle cx="336.77" cy="16.42" r="0.4"/><circle cx="314.46" cy="25.91" r="0.4"/><circle cx="307.64" cy="30.71" r="0.4"/><circle cx="303.85" cy="45.67" r="0.4"/><circle cx="303.89" cy="46.16" r="0.4"/><circle cx="318.11" cy="33.01" r="0.4"/><circle cx="338.06" cy="33.87" r="0.4"/><circle cx="339.42" cy="33.55" r="0.4"/><circle cx="325.3" cy="36.05" r="0.4"/><circle cx="315.85" cy="47.03" r="0.4"/><circle cx="307.04" cy="47.99" r="0.4"/><circle cx="310.95" cy="18.43" r="0.4"/><circle cx="308.48" cy="40.48" r="0.4"/><circle cx="312.81" cy="27.55" r="0.4"/><circle cx="314.16" cy="29.73" r="0.4"/><circle cx="332.25" cy="28.94" r="0.4"/><circle cx="311.93" cy="41.26" r="0.4"/><circle cx="304.7" cy="51.82" r="0.4"/><circle cx="298.51" cy="54.23" r="0.4"/><circle cx="311.78" cy="43.99" r="0.4"/><circle cx="299.51" cy="52.39" r="0.4"/><circle cx="297.87" cy="51.69" r="0.4"/><circle cx="335.1" cy="17.92" r="0.4"/><circle cx="340.17" cy="39.4" r="0.4"/><circle cx="307.77" cy="49.07" r="0.4"/><circle cx="319.19" cy="37.56" r="0.4"/><circle cx="322.25" cy="29.3" r="0.4"/><circle cx="323.51" cy="33.45" r="0.4"/><circle cx="328.6" cy="19.78" r="0.4"/><circle cx="312.85" cy="43.27" r="0.4"/><circle cx="298.18" cy="53.65" r="0.4"/><circle cx="304.88" cy="42.61" r="0.4"/><circle cx="301.39" cy="51.59" r="0.4"/><circle cx="306.17" cy="31.78" r="0.4"/><circle cx="328.78" cy="13.22" r="0.4"/><circle cx="324.12" cy="26.58" r="0.4"/><circle cx="321.06" cy="30.53" r="0.4"/><circle cx="301.03" cy="34.44" r="0.4"/><circle cx="309.43" cy="35.79" r="0.4"/><circle cx="334.77" cy="11.27" r="0.4"/><circle cx="314.41" cy="29.78" r="0.4"/><circle cx="306.36" cy="49.84" r="0.4"/><circle cx="304.04" cy="49.32" r="0.4"/><circle cx="324.73" cy="38.7" r="0.4"/><circle cx="309.88" cy="32.04" r="0.4"/><circle cx="311.29" cy="40.43" r="0.4"/><circle cx="331.56" cy="28.49" r="0.4"/><circle cx="307.24" cy="43.02" r="0.4"/><circle cx="304.31" cy="29.38" r="0.4"/><circle cx="326.03" cy="31.19" r="0.4"/><circle cx="317.25" cy="28.38" r="0.4"/><circle cx="311.95" cy="37.11" r="0.4"/><circle cx="315.62" cy="34.55" r="0.4"/><circle cx="321.97" cy="23.59" r="0.4"/><circle cx="332.92" cy="35.89" r="0.4"/><circle cx="298.84" cy="53.06" r="0.4"/><circle cx="333.64" cy="14.37" r="0.4"/><circle cx="305.53" cy="40.67" r="0.4"/><circle cx="300.6" cy="51.21" r="0.4"/><circle cx="308.87" cy="49" r="0.4"/><circle cx="340.17" cy="16.05" r="0.4"/><circle cx="341.79" cy="31.94" r="0.4"/><circle cx="300.99" cy="49.67" r="0.4"/><circle cx="308.15" cy="39.06" r="0.4"/><circle cx="328.34" cy="28.12" r="0.4"/><circle cx="316.63" cy="49.1" r="0.4"/><circle cx="318.4" cy="18.68" r="0.4"/><circle cx="332.54" cy="11.26" r="0.4"/><circle cx="339.63" cy="32.29" r="0.4"/><circle cx="328.31" cy="30.41" r="0.4"/><circle cx="327.46" cy="24.26" r="0.4"/><circle cx="311.06" cy="40.36" r="0.4"/><circle cx="298.85" cy="51.39" r="0.4"/><circle cx="305.94" cy="51.22" r="0.4"/><circle cx="311.83" cy="28.02" r="0.4"/><circle cx="305.07" cy="50.28" r="0.4"/><circle cx="307.65" cy="42.66" r="0.4"/><circle cx="307.85" cy="34.77" r="0.4"/><circle cx="313.46" cy="40.07" r="0.4"/><circle cx="309.78" cy="42.48" r="0.4"/><circle cx="325.51" cy="13.12" r="0.4"/><circle cx="310.8" cy="26.75" r="0.4"/><circle cx="313" cy="39.94" r="0.4"/><circle cx="308.65" cy="42.1" r="0.4"/><circle cx="301.82" cy="46.06" r="0.4"/><circle cx="303.94" cy="47.62" r="0.4"/><circle cx="306.11" cy="45.04" r="0.4"/><circle cx="308.83" cy="42.62" r="0.4"/><circle cx="308.1" cy="36.53" r="0.4"/><circle cx="327.7" cy="27.28" r="0.4"/><circle cx="302.81" cy="50.93" r="0.4"/><circle cx="305.75" cy="38.31" r="0.4"/><circle cx="303.92" cy="51.86" r="0.4"/><circle cx="317.13" cy="26.63" r="0.4"/><circle cx="329.19" cy="18.3" r="0.4"/><circle cx="307.18" cy="48.54" r="0.4"/><circle cx="306.43" cy="36.81" r="0.4"/><circle cx="303.95" cy="48.86" r="0.4"/><circle cx="298.18" cy="53.6" r="0.4"/><circle cx="315.86" cy="22.04" r="0.4"/><circle cx="321.64" cy="22.69" r="0.4"/><circle cx="333.79" cy="39.29" r="0.4"/><circle cx="336.16" cy="11.98" r="0.4"/><circle cx="334.56" cy="25.55" r="0.4"/><circle cx="310.41" cy="43.45" r="0.4"/><circle cx="313.53" cy="46.45" r="0.4"/><circle cx="299.36" cy="53.89" r="0.4"/><circle cx="299.31" cy="53.93" r="0.4"/><circle cx="301.11" cy="48.48" r="0.4"/><circle cx="299.78" cy="53.9" r="0.4"/><circle cx="301.6" cy="47.93" r="0.4"/><circle cx="298.29" cy="54.07" r="0.4"/><circle cx="320.05" cy="11.03" r="0.4"/><circle cx="313.28" cy="13.38" r="0.4"/><circle cx="319.88" cy="41.93" r="0.4"/></g>
<g fill="#3550b8" fill-opacity="0.45"><circle cx="302.49" cy="43.37" r="0.45"/><circle cx="298.79" cy="49.77" r="0.45"/><circle cx="301.37" cy="49.81" r="0.45"/><circle cx="303.19" cy="50.65" r="0.45"/><circle cx="303.77" cy="48.07" r="0.45"/><circle cx="300.57" cy="51.52" r="0.45"/><circle cx="298.54" cy="53.99" r="0.45"/><circle cx="302.63" cy="49.54" r="0.45"/><circle cx="298.03" cy="51.99" r="0.45"/><circle cx="298.26" cy="53.54" r="0.45"/><circle cx="311.27" cy="39.74" r="0.45"/><circle cx="305.56" cy="49.68" r="0.45"/><circle cx="303.29" cy="51.52" r="0.45"/><circle cx="299.69" cy="52.73" r="0.45"/><circle cx="305" cy="37.05" r="0.45"/><circle cx="300.19" cy="50.98" r="0.45"/><circle cx="302.3" cy="36.09" r="0.45"/><circle cx="297.69" cy="54.25" r="0.45"/><circle cx="301.44" cy="52.46" r="0.45"/><circle cx="298.84" cy="50.54" r="0.45"/><circle cx="299.16" cy="51.48" r="0.45"/><circle cx="304.73" cy="51.94" r="0.45"/><circle cx="300.8" cy="44.34" r="0.45"/><circle cx="299.87" cy="52.1" r="0.45"/><circle cx="302.61" cy="52.33" r="0.45"/><circle cx="298.26" cy="54.04" r="0.45"/><circle cx="311.95" cy="39.34" r="0.45"/><circle cx="310.94" cy="48.88" r="0.45"/><circle cx="298.13" cy="52.01" r="0.45"/><circle cx="315.43" cy="47.3" r="0.45"/><circle cx="298.52" cy="53.15" r="0.45"/><circle cx="315.28" cy="51.1" r="0.45"/><circle cx="320.24" cy="49.96" r="0.45"/><circle cx="302.26" cy="49.49" r="0.45"/><circle cx="302.42" cy="51.35" r="0.45"/><circle cx="299.05" cy="54.11" r="0.45"/><circle cx="312.89" cy="46.91" r="0.45"/><circle cx="297.65" cy="54.37" r="0.45"/><circle cx="301.56" cy="46.33" r="0.45"/><circle cx="297.7" cy="54.34" r="0.45"/><circle cx="297.88" cy="53.98" r="0.45"/><circle cx="298.15" cy="54.28" r="0.45"/><circle cx="301.33" cy="43.92" r="0.45"/><circle cx="302.72" cy="45.04" r="0.45"/><circle cx="323.03" cy="43.27" r="0.45"/><circle cx="298.06" cy="54.03" r="0.45"/><circle cx="316.73" cy="33.82" r="0.45"/><circle cx="303.06" cy="49.77" r="0.45"/><circle cx="297.71" cy="54.27" r="0.45"/><circle cx="298.38" cy="51.14" r="0.45"/><circle cx="304.14" cy="48.18" r="0.45"/><circle cx="299.92" cy="52.32" r="0.45"/><circle cx="303.33" cy="51.13" r="0.45"/><circle cx="299.51" cy="54.03" r="0.45"/><circle cx="302.78" cy="50.32" r="0.45"/><circle cx="308.01" cy="51.79" r="0.45"/><circle cx="298.77" cy="54.19" r="0.45"/><circle cx="308.49" cy="47.19" r="0.45"/><circle cx="303.78" cy="49.34" r="0.45"/><circle cx="298.81" cy="54.16" r="0.45"/><circle cx="298.36" cy="54.18" r="0.45"/><circle cx="302.1" cy="47.95" r="0.45"/><circle cx="298.13" cy="53.65" r="0.45"/><circle cx="299.53" cy="53.37" r="0.45"/><circle cx="305.63" cy="42.83" r="0.45"/><circle cx="301.42" cy="47.58" r="0.45"/><circle cx="308.18" cy="43.11" r="0.45"/><circle cx="308.24" cy="48.59" r="0.45"/><circle cx="301.98" cy="52.41" r="0.45"/><circle cx="307.73" cy="51.83" r="0.45"/><circle cx="317.46" cy="46.83" r="0.45"/><circle cx="300.4" cy="51.71" r="0.45"/><circle cx="304.66" cy="37.57" r="0.45"/><circle cx="298.75" cy="53.78" r="0.45"/><circle cx="299.16" cy="54.04" r="0.45"/><circle cx="299.76" cy="53.5" r="0.45"/><circle cx="298.31" cy="53.98" r="0.45"/><circle cx="301.4" cy="42.87" r="0.45"/><circle cx="299.37" cy="47.33" r="0.45"/><circle cx="298.2" cy="52.61" r="0.45"/><circle cx="297.6" cy="54.4" r="0.45"/><circle cx="303.76" cy="52.59" r="0.45"/><circle cx="299.91" cy="52.57" r="0.45"/><circle cx="309.11" cy="52.16" r="0.45"/><circle cx="303.52" cy="50.25" r="0.45"/><circle cx="299.77" cy="49.31" r="0.45"/><circle cx="304.57" cy="51.43" r="0.45"/><circle cx="303.43" cy="53.07" r="0.45"/><circle cx="298.78" cy="50.67" r="0.45"/><circle cx="305.01" cy="43.29" r="0.45"/><circle cx="301.87" cy="50.79" r="0.45"/><circle cx="303.26" cy="42.08" r="0.45"/><circle cx="299.73" cy="51.55" r="0.45"/><circle cx="300.17" cy="49.85" r="0.45"/><circle cx="299.45" cy="49.33" r="0.45"/><circle cx="299.47" cy="51.29" r="0.45"/><circle cx="316.89" cy="32.5" r="0.45"/><circle cx="306.27" cy="44.04" r="0.45"/><circle cx="299.27" cy="50.72" r="0.45"/><circle cx="312.06" cy="44.71" r="0.45"/><circle cx="301.6" cy="48.79" r="0.45"/><circle cx="308.17" cy="48.67" r="0.45"/><circle cx="300.46" cy="45.96" r="0.45"/><circle cx="299.83" cy="53.51" r="0.45"/><circle cx="313.81" cy="47.26" r="0.45"/><circle cx="309.56" cy="42.32" r="0.45"/><circle cx="298.49" cy="51.16" r="0.45"/><circle cx="300.33" cy="50.15" r="0.45"/><circle cx="307.19" cy="40.26" r="0.45"/><circle cx="299.79" cy="51" r="0.45"/><circle cx="299.1" cy="53.59" r="0.45"/><circle cx="303.18" cy="44.07" r="0.45"/><circle cx="298.66" cy="53.59" r="0.45"/><circle cx="301.83" cy="46.41" r="0.45"/><circle cx="303.26" cy="50.24" r="0.45"/><circle cx="299.55" cy="50.31" r="0.45"/><circle cx="300.15" cy="51.24" r="0.45"/><circle cx="299.03" cy="53.4" r="0.45"/><circle cx="298.09" cy="52.32" r="0.45"/><circle cx="300.5" cy="49.14" r="0.45"/><circle cx="301.5" cy="53.63" r="0.45"/><circle cx="297.78" cy="54.22" r="0.45"/><circle cx="300.3" cy="53.11" r="0.45"/><circle cx="297.84" cy="54.02" r="0.45"/><circle cx="301.03" cy="52.57" r="0.45"/><circle cx="304.73" cy="53.12" r="0.45"/><circle cx="306.14" cy="49.93" r="0.45"/><circle cx="301.45" cy="50.4" r="0.45"/><circle cx="316.14" cy="40.51" r="0.45"/><circle cx="298.64" cy="51.95" r="0.45"/><circle cx="297.91" cy="53.14" r="0.45"/><circle cx="298.69" cy="53.21" r="0.45"/><circle cx="298.34" cy="53.61" r="0.45"/><circle cx="306.36" cy="48.56" r="0.45"/><circle cx="297.77" cy="54.28" r="0.45"/><circle cx="299.66" cy="51.23" r="0.45"/><circle cx="300.73" cy="48.91" r="0.45"/><circle cx="301.34" cy="50.86" r="0.45"/><circle cx="306.32" cy="51.92" r="0.45"/><circle cx="302.52" cy="52.51" r="0.45"/><circle cx="299.11" cy="53.51" r="0.45"/><circle cx="298.47" cy="53.17" r="0.45"/><circle cx="305.88" cy="50.71" r="0.45"/><circle cx="298.44" cy="54.2" r="0.45"/><circle cx="298.19" cy="54.02" r="0.45"/><circle cx="298.4" cy="53.32" r="0.45"/><circle cx="299.19" cy="52.2" r="0.45"/><circle cx="297.73" cy="54.04" r="0.45"/><circle cx="300.88" cy="53.29" r="0.45"/><circle cx="298.5" cy="53.51" r="0.45"/><circle cx="304.9" cy="50.04" r="0.45"/><circle cx="301.86" cy="45.78" r="0.45"/><circle cx="313.49" cy="45.2" r="0.45"/><circle cx="300.68" cy="45.59" r="0.45"/><circle cx="299.43" cy="48.69" r="0.45"/><circle cx="302.62" cy="53.32" r="0.45"/><circle cx="298.24" cy="53.25" r="0.45"/><circle cx="300.24" cy="53.59" r="0.45"/><circle cx="298.43" cy="52.33" r="0.45"/><circle cx="299.97" cy="52.14" r="0.45"/><circle cx="302.43" cy="44.41" r="0.45"/><circle cx="297.92" cy="54.21" r="0.45"/><circle cx="298.16" cy="54" r="0.45"/><circle cx="316.58" cy="44.66" r="0.45"/><circle cx="312.05" cy="49.29" r="0.45"/><circle cx="298.47" cy="53.92" r="0.45"/><circle cx="300.16" cy="53.85" r="0.45"/><circle cx="301.99" cy="52.15" r="0.45"/><circle cx="301.05" cy="50.75" r="0.45"/><circle cx="302.29" cy="53.36" r="0.45"/><circle cx="299.28" cy="49.88" r="0.45"/><circle cx="304.96" cy="52.61" r="0.45"/><circle cx="300.2" cy="45.04" r="0.45"/><circle cx="298.42" cy="52.72" r="0.45"/><circle cx="298.88" cy="48.31" r="0.45"/><circle cx="297.96" cy="54.32" r="0.45"/><circle cx="298.73" cy="53.93" r="0.45"/><circle cx="311.15" cy="50.89" r="0.45"/><circle cx="300.05" cy="50.95" r="0.45"/><circle cx="301.1" cy="41.98" r="0.45"/><circle cx="297.67" cy="54.15" r="0.45"/><circle cx="300.82" cy="52.97" r="0.45"/><circle cx="301.88" cy="51.05" r="0.45"/><circle cx="312.08" cy="48.42" r="0.45"/><circle cx="308.18" cy="49.98" r="0.45"/><circle cx="298.64" cy="50.3" r="0.45"/><circle cx="299.24" cy="51.67" r="0.45"/><circle cx="299.97" cy="53.85" r="0.45"/><circle cx="301.65" cy="48.88" r="0.45"/><circle cx="298.67" cy="54.04" r="0.45"/><circle cx="298.09" cy="53.54" r="0.45"/><circle cx="311.58" cy="39.35" r="0.45"/><circle cx="298.83" cy="53.29" r="0.45"/><circle cx="300.6" cy="49.6" r="0.45"/><circle cx="305.95" cy="51.27" r="0.45"/><circle cx="302.96" cy="51.22" r="0.45"/><circle cx="301.92" cy="34.78" r="0.45"/><circle cx="305.8" cy="35.47" r="0.45"/><circle cx="311.86" cy="46.99" r="0.45"/><circle cx="299.64" cy="50.75" r="0.45"/><circle cx="303.19" cy="52.1" r="0.45"/><circle cx="302.19" cy="42.07" r="0.45"/><circle cx="298.45" cy="53.14" r="0.45"/><circle cx="298.08" cy="53.73" r="0.45"/><circle cx="299.31" cy="51.01" r="0.45"/><circle cx="309.12" cy="48.38" r="0.45"/><circle cx="302.65" cy="51.99" r="0.45"/><circle cx="298.99" cy="50.02" r="0.45"/><circle cx="298.52" cy="52.03" r="0.45"/><circle cx="298.01" cy="54" r="0.45"/><circle cx="304.72" cy="46.67" r="0.45"/><circle cx="300.36" cy="53.06" r="0.45"/><circle cx="310.21" cy="48.3" r="0.45"/><circle cx="305.2" cy="51.29" r="0.45"/><circle cx="305.28" cy="50.96" r="0.45"/><circle cx="304.12" cy="51.67" r="0.45"/><circle cx="312.34" cy="45.23" r="0.45"/><circle cx="298.21" cy="52.4" r="0.45"/><circle cx="307.5" cy="49.67" r="0.45"/><circle cx="299.15" cy="53.42" r="0.45"/><circle cx="299.74" cy="53.84" r="0.45"/><circle cx="297.6" cy="54.4" r="0.45"/><circle cx="299.3" cy="46.25" r="0.45"/><circle cx="298.69" cy="48.74" r="0.45"/><circle cx="298.23" cy="54.05" r="0.45"/><circle cx="305.59" cy="49.33" r="0.45"/><circle cx="302.52" cy="51.85" r="0.45"/><circle cx="300.3" cy="51.2" r="0.45"/><circle cx="301.9" cy="51.8" r="0.45"/><circle cx="302.48" cy="48.18" r="0.45"/><circle cx="304.64" cy="45.95" r="0.45"/><circle cx="298.94" cy="52.7" r="0.45"/><circle cx="300.58" cy="52.56" r="0.45"/><circle cx="301.1" cy="53.34" r="0.45"/><circle cx="298.88" cy="52.44" r="0.45"/><circle cx="298.92" cy="52.53" r="0.45"/><circle cx="300.71" cy="50.72" r="0.45"/><circle cx="298.73" cy="53.59" r="0.45"/><circle cx="302.05" cy="53.02" r="0.45"/><circle cx="299.66" cy="51.12" r="0.45"/><circle cx="303.63" cy="46.73" r="0.45"/><circle cx="298.86" cy="49.16" r="0.45"/><circle cx="298.98" cy="51.51" r="0.45"/><circle cx="315.44" cy="50.62" r="0.45"/><circle cx="298.79" cy="53.84" r="0.45"/><circle cx="301.57" cy="42.84" r="0.45"/><circle cx="303.04" cy="48.63" r="0.45"/><circle cx="299.21" cy="47.57" r="0.45"/><circle cx="299.29" cy="52.76" r="0.45"/><circle cx="303.73" cy="51.06" r="0.45"/><circle cx="298.68" cy="49.96" r="0.45"/><circle cx="297.6" cy="54.4" r="0.45"/><circle cx="302.76" cy="48.42" r="0.45"/><circle cx="298.92" cy="49.38" r="0.45"/><circle cx="301.25" cy="52.56" r="0.45"/><circle cx="310.08" cy="48.7" r="0.45"/><circle cx="302.65" cy="46.49" r="0.45"/><circle cx="304.33" cy="52.74" r="0.45"/><circle cx="300.82" cy="53.66" r="0.45"/><circle cx="305" cy="45.65" r="0.45"/><circle cx="309.38" cy="51.06" r="0.45"/><circle cx="298.36" cy="53.54" r="0.45"/><circle cx="300.66" cy="51.34" r="0.45"/><circle cx="309.38" cy="46.41" r="0.45"/><circle cx="304.41" cy="52.79" r="0.45"/><circle cx="297.61" cy="54.4" r="0.45"/><circle cx="298.94" cy="47.25" r="0.45"/><circle cx="302.16" cy="52.21" r="0.45"/><circle cx="298.87" cy="54.04" r="0.45"/><circle cx="303.47" cy="48.27" r="0.45"/><circle cx="298.24" cy="52.37" r="0.45"/><circle cx="298.49" cy="53.77" r="0.45"/><circle cx="300.74" cy="51.65" r="0.45"/><circle cx="308.25" cy="45.78" r="0.45"/><circle cx="299.35" cy="53.6" r="0.45"/><circle cx="301.49" cy="49.25" r="0.45"/><circle cx="302.53" cy="52.37" r="0.45"/><circle cx="302.17" cy="51.64" r="0.45"/><circle cx="306.86" cy="46.96" r="0.45"/><circle cx="305.46" cy="51.58" r="0.45"/><circle cx="299.03" cy="53.91" r="0.45"/><circle cx="300.37" cy="51.97" r="0.45"/><circle cx="300.71" cy="49.27" r="0.45"/><circle cx="303.7" cy="42.94" r="0.45"/><circle cx="304.92" cy="49.42" r="0.45"/><circle cx="297.75" cy="54.18" r="0.45"/><circle cx="299.17" cy="52.37" r="0.45"/><circle cx="298" cy="54.26" r="0.45"/><circle cx="298.62" cy="52.96" r="0.45"/><circle cx="301.74" cy="50.07" r="0.45"/><circle cx="300.76" cy="42.67" r="0.45"/><circle cx="307.92" cy="42.96" r="0.45"/><circle cx="303.06" cy="51.01" r="0.45"/><circle cx="303.52" cy="45.02" r="0.45"/><circle cx="305.58" cy="52.56" r="0.45"/><circle cx="301.87" cy="36.95" r="0.45"/><circle cx="299.6" cy="53.78" r="0.45"/><circle cx="303.55" cy="47.86" r="0.45"/><circle cx="314.04" cy="47.15" r="0.45"/><circle cx="298.56" cy="50.37" r="0.45"/><circle cx="302.13" cy="53.37" r="0.45"/><circle cx="303.22" cy="53.2" r="0.45"/><circle cx="301.65" cy="44.66" r="0.45"/><circle cx="297.86" cy="53.54" r="0.45"/><circle cx="308.57" cy="48.32" r="0.45"/><circle cx="297.93" cy="53.62" r="0.45"/><circle cx="307.24" cy="51.23" r="0.45"/><circle cx="303.25" cy="48.75" r="0.45"/><circle cx="298.11" cy="53.82" r="0.45"/><circle cx="298.38" cy="53.15" r="0.45"/><circle cx="304.17" cy="42.31" r="0.45"/><circle cx="299.67" cy="53.32" r="0.45"/><circle cx="298.23" cy="51.46" r="0.45"/><circle cx="308.58" cy="49" r="0.45"/><circle cx="297.75" cy="54.19" r="0.45"/><circle cx="299.73" cy="53.01" r="0.45"/><circle cx="307.95" cy="48.5" r="0.45"/><circle cx="305.03" cy="49.15" r="0.45"/><circle cx="297.68" cy="54.35" r="0.45"/><circle cx="302.88" cy="49.92" r="0.45"/><circle cx="303.14" cy="48.11" r="0.45"/><circle cx="298.03" cy="54.05" r="0.45"/><circle cx="302.66" cy="50.88" r="0.45"/><circle cx="305.46" cy="48.87" r="0.45"/><circle cx="302.9" cy="53.45" r="0.45"/><circle cx="303.1" cy="47.65" r="0.45"/><circle cx="302.36" cy="53.5" r="0.45"/><circle cx="308" cy="47.03" r="0.45"/><circle cx="300" cy="51.84" r="0.45"/><circle cx="299.11" cy="53.98" r="0.45"/><circle cx="303.66" cy="48.05" r="0.45"/><circle cx="298.26" cy="53.62" r="0.45"/><circle cx="300.85" cy="41.87" r="0.45"/><circle cx="306.12" cy="46.51" r="0.45"/><circle cx="301.91" cy="51" r="0.45"/><circle cx="299.5" cy="53.45" r="0.45"/><circle cx="307.62" cy="46.93" r="0.45"/><circle cx="298.13" cy="53.95" r="0.45"/><circle cx="298.8" cy="52.76" r="0.45"/><circle cx="299.53" cy="53.3" r="0.45"/><circle cx="298.25" cy="53.27" r="0.45"/><circle cx="301.5" cy="50.67" r="0.45"/><circle cx="297.68" cy="54.32" r="0.45"/><circle cx="299.47" cy="52.89" r="0.45"/><circle cx="304.36" cy="51.92" r="0.45"/><circle cx="298.84" cy="48.58" r="0.45"/><circle cx="304.25" cy="50.96" r="0.45"/><circle cx="300.26" cy="52.25" r="0.45"/><circle cx="301.12" cy="51.5" r="0.45"/><circle cx="304.36" cy="49.43" r="0.45"/><circle cx="299.17" cy="53.01" r="0.45"/><circle cx="297.82" cy="54.35" r="0.45"/><circle cx="303.78" cy="51.02" r="0.45"/><circle cx="302.84" cy="42.1" r="0.45"/><circle cx="299.23" cy="46.11" r="0.45"/><circle cx="308.15" cy="50.37" r="0.45"/><circle cx="303.17" cy="47.12" r="0.45"/><circle cx="304.27" cy="41.64" r="0.45"/><circle cx="299.71" cy="52.92" r="0.45"/><circle cx="309.3" cy="38.37" r="0.45"/><circle cx="304.05" cy="48.76" r="0.45"/><circle cx="298.95" cy="52.47" r="0.45"/><circle cx="300.33" cy="47.05" r="0.45"/><circle cx="308.71" cy="43.55" r="0.45"/><circle cx="303.87" cy="50.45" r="0.45"/><circle cx="299.47" cy="52.82" r="0.45"/><circle cx="299.87" cy="49.75" r="0.45"/><circle cx="302.11" cy="52.41" r="0.45"/><circle cx="308.49" cy="46.87" r="0.45"/><circle cx="307.29" cy="48.07" r="0.45"/><circle cx="304.07" cy="42.24" r="0.45"/><circle cx="299.33" cy="50.86" r="0.45"/><circle cx="311.02" cy="50.1" r="0.45"/><circle cx="302.39" cy="43.14" r="0.45"/><circle cx="305.61" cy="47.04" r="0.45"/><circle cx="298.13" cy="52.86" r="0.45"/><circle cx="303.25" cy="48.56" r="0.45"/><circle cx="305.24" cy="47.51" r="0.45"/><circle cx="303.32" cy="41.98" r="0.45"/><circle cx="300.4" cy="53.69" r="0.45"/><circle cx="298.34" cy="52.04" r="0.45"/><circle cx="299.09" cy="54.02" r="0.45"/><circle cx="298.31" cy="52.76" r="0.45"/><circle cx="298.34" cy="54.22" r="0.45"/><circle cx="298.58" cy="52.84" r="0.45"/><circle cx="310.65" cy="50.74" r="0.45"/><circle cx="303.13" cy="40.63" r="0.45"/><circle cx="308.26" cy="44.86" r="0.45"/><circle cx="300.13" cy="43.93" r="0.45"/><circle cx="298.79" cy="52.88" r="0.45"/><circle cx="300.5" cy="45.1" r="0.45"/><circle cx="302.05" cy="49.94" r="0.45"/><circle cx="300.85" cy="52.45" r="0.45"/><circle cx="305.26" cy="49.04" r="0.45"/><circle cx="298.82" cy="52.19" r="0.45"/><circle cx="297.83" cy="54.3" r="0.45"/><circle cx="299.99" cy="52.47" r="0.45"/><circle cx="301.07" cy="44.97" r="0.45"/><circle cx="301.3" cy="52.59" r="0.45"/><circle cx="297.82" cy="54.26" r="0.45"/><circle cx="299.41" cy="53.64" r="0.45"/><circle cx="302.13" cy="37.27" r="0.45"/><circle cx="299.17" cy="52.99" r="0.45"/><circle cx="299.98" cy="52.97" r="0.45"/><circle cx="304.03" cy="52.22" r="0.45"/><circle cx="302.22" cy="51.74" r="0.45"/><circle cx="307.14" cy="46.28" r="0.45"/><circle cx="298.22" cy="53" r="0.45"/><circle cx="298.23" cy="54.1" r="0.45"/><circle cx="299.83" cy="47.52" r="0.45"/><circle cx="302.33" cy="45.32" r="0.45"/><circle cx="302.79" cy="52.36" r="0.45"/><circle cx="301.42" cy="49.5" r="0.45"/><circle cx="301.3" cy="51.53" r="0.45"/><circle cx="298.13" cy="53.19" r="0.45"/><circle cx="304.34" cy="52.23" r="0.45"/><circle cx="300.11" cy="49.54" r="0.45"/><circle cx="304.99" cy="43.96" r="0.45"/><circle cx="300.69" cy="51.99" r="0.45"/><circle cx="307.36" cy="47.51" r="0.45"/><circle cx="298.35" cy="53.01" r="0.45"/><circle cx="299.03" cy="50.53" r="0.45"/><circle cx="298.9" cy="48.53" r="0.45"/><circle cx="298.82" cy="54.02" r="0.45"/><circle cx="312.75" cy="43.52" r="0.45"/><circle cx="307.58" cy="39.06" r="0.45"/><circle cx="304.53" cy="51.98" r="0.45"/><circle cx="305.3" cy="49.6" r="0.45"/><circle cx="298.11" cy="53.87" r="0.45"/><circle cx="302.69" cy="53.31" r="0.45"/><circle cx="301.32" cy="50.43" r="0.45"/><circle cx="315.18" cy="47.32" r="0.45"/><circle cx="299.56" cy="51.64" r="0.45"/><circle cx="301.28" cy="46.68" r="0.45"/><circle cx="298.42" cy="53.2" r="0.45"/><circle cx="298.55" cy="53.9" r="0.45"/><circle cx="301.91" cy="47.75" r="0.45"/><circle cx="308.17" cy="50.55" r="0.45"/><circle cx="302.54" cy="52.39" r="0.45"/><circle cx="304.48" cy="51.18" r="0.45"/><circle cx="299.09" cy="53.01" r="0.45"/><circle cx="298.31" cy="54.15" r="0.45"/><circle cx="305.34" cy="51.79" r="0.45"/><circle cx="298.09" cy="53.86" r="0.45"/><circle cx="307.39" cy="38.26" r="0.45"/><circle cx="299.06" cy="47.09" r="0.45"/><circle cx="299.54" cy="53.77" r="0.45"/><circle cx="302.39" cy="46.5" r="0.45"/><circle cx="297.75" cy="54.2" r="0.45"/><circle cx="299.75" cy="50.86" r="0.45"/><circle cx="299.98" cy="47.31" r="0.45"/><circle cx="299.36" cy="52.17" r="0.45"/><circle cx="301.04" cy="36.97" r="0.45"/><circle cx="300.53" cy="50.56" r="0.45"/><circle cx="300.04" cy="46.36" r="0.45"/><circle cx="302.55" cy="44.16" r="0.45"/><circle cx="302.93" cy="47.12" r="0.45"/><circle cx="300.77" cy="51.76" r="0.45"/><circle cx="300.16" cy="48.06" r="0.45"/><circle cx="300.5" cy="51.8" r="0.45"/><circle cx="300.85" cy="46.73" r="0.45"/><circle cx="298.33" cy="53.62" r="0.45"/><circle cx="305.1" cy="52.35" r="0.45"/><circle cx="305.24" cy="41.6" r="0.45"/><circle cx="304.3" cy="51.72" r="0.45"/><circle cx="303.1" cy="53.13" r="0.45"/><circle cx="308.97" cy="48.47" r="0.45"/><circle cx="306.8" cy="45.76" r="0.45"/><circle cx="298.73" cy="51.68" r="0.45"/><circle cx="303.94" cy="51.13" r="0.45"/><circle cx="297.67" cy="54.32" r="0.45"/><circle cx="303.49" cy="50.28" r="0.45"/><circle cx="303.83" cy="47.47" r="0.45"/><circle cx="299.95" cy="51.54" r="0.45"/><circle cx="310.22" cy="41.11" r="0.45"/><circle cx="298.05" cy="53.38" r="0.45"/><circle cx="298.2" cy="53.23" r="0.45"/><circle cx="300.25" cy="45.56" r="0.45"/><circle cx="299.83" cy="53.38" r="0.45"/><circle cx="317.8" cy="49.79" r="0.45"/><circle cx="299.41" cy="49.66" r="0.45"/><circle cx="302.92" cy="31.36" r="0.45"/><circle cx="298.41" cy="52.15" r="0.45"/><circle cx="299.42" cy="53.01" r="0.45"/><circle cx="299.69" cy="52.76" r="0.45"/><circle cx="301.21" cy="50.22" r="0.45"/><circle cx="298.88" cy="50.32" r="0.45"/><circle cx="300.9" cy="48.03" r="0.45"/><circle cx="299.68" cy="53.04" r="0.45"/><circle cx="297.79" cy="53.38" r="0.45"/><circle cx="315.8" cy="46.43" r="0.45"/><circle cx="299.49" cy="52.74" r="0.45"/><circle cx="304.17" cy="49.65" r="0.45"/><circle cx="297.7" cy="54.19" r="0.45"/><circle cx="302.55" cy="50.65" r="0.45"/><circle cx="300.69" cy="53.35" r="0.45"/><circle cx="301.41" cy="49.94" r="0.45"/><circle cx="302.43" cy="42.93" r="0.45"/><circle cx="312.43" cy="33.23" r="0.45"/><circle cx="302.32" cy="53.11" r="0.45"/></g>
<g fill="#3f58c0" fill-opacity="0.45"><circle cx="315.16" cy="50.52" r="0.45"/><circle cx="314.79" cy="50.25" r="0.45"/><circle cx="318.75" cy="52.11" r="0.45"/><circle cx="316.79" cy="48.35" r="0.45"/><circle cx="318.48" cy="48.9" r="0.45"/><circle cx="315.01" cy="52.01" r="0.45"/><circle cx="316.9" cy="49.3" r="0.45"/><circle cx="317.18" cy="49.97" r="0.45"/><circle cx="315.44" cy="51.08" r="0.45"/><circle cx="319.42" cy="49.28" r="0.45"/><circle cx="310.85" cy="50.04" r="0.45"/><circle cx="318.28" cy="49.91" r="0.45"/><circle cx="311.21" cy="50.17" r="0.45"/><circle cx="308.29" cy="49.98" r="0.45"/><circle cx="314.75" cy="47.51" r="0.45"/><circle cx="318.35" cy="50.96" r="0.45"/><circle cx="317.19" cy="50.24" r="0.45"/><circle cx="308.97" cy="51.15" r="0.45"/><circle cx="323.51" cy="48.97" r="0.45"/><circle cx="322.43" cy="51.47" r="0.45"/><circle cx="318.43" cy="49.9" r="0.45"/><circle cx="312.69" cy="50.79" r="0.45"/><circle cx="315.97" cy="51.11" r="0.45"/><circle cx="319.08" cy="52.51" r="0.45"/><circle cx="310.26" cy="50.48" r="0.45"/><circle cx="320.3" cy="49.47" r="0.45"/><circle cx="313.25" cy="49.65" r="0.45"/><circle cx="317.16" cy="50.14" r="0.45"/><circle cx="318.42" cy="50" r="0.45"/><circle cx="317.07" cy="50.26" r="0.45"/><circle cx="316.11" cy="47.21" r="0.45"/><circle cx="318.14" cy="48.51" r="0.45"/><circle cx="325.37" cy="47.03" r="0.45"/><circle cx="315.32" cy="49.94" r="0.45"/><circle cx="319.34" cy="49.73" r="0.45"/><circle cx="313.29" cy="49.31" r="0.45"/><circle cx="316.72" cy="47.64" r="0.45"/><circle cx="317.87" cy="50.82" r="0.45"/><circle cx="315.46" cy="48.37" r="0.45"/><circle cx="316.9" cy="49.48" r="0.45"/><circle cx="317.56" cy="49.03" r="0.45"/><circle cx="311.51" cy="50.74" r="0.45"/><circle cx="313.1" cy="53.03" r="0.45"/><circle cx="319.94" cy="47.22" r="0.45"/><circle cx="317.3" cy="51.77" r="0.45"/><circle cx="318.59" cy="50.44" r="0.45"/><circle cx="313.94" cy="47.77" r="0.45"/><circle cx="312.67" cy="49.15" r="0.45"/><circle cx="315.56" cy="49.81" r="0.45"/><circle cx="321.49" cy="50.46" r="0.45"/><circle cx="314.02" cy="50.28" r="0.45"/><circle cx="312.67" cy="51.06" r="0.45"/><circle cx="313.66" cy="47.39" r="0.45"/><circle cx="320.21" cy="50.54" r="0.45"/><circle cx="313.73" cy="50.96" r="0.45"/><circle cx="319.11" cy="48.37" r="0.45"/><circle cx="315.7" cy="48.08" r="0.45"/><circle cx="315.2" cy="48.32" r="0.45"/><circle cx="313.87" cy="49.8" r="0.45"/><circle cx="316.33" cy="50.13" r="0.45"/><circle cx="315.3" cy="51.8" r="0.45"/><circle cx="321.79" cy="51.83" r="0.45"/><circle cx="313.89" cy="49.24" r="0.45"/><circle cx="316.63" cy="48.9" r="0.45"/><circle cx="312.53" cy="47.48" r="0.45"/><circle cx="318.18" cy="47.61" r="0.45"/><circle cx="308.76" cy="47.73" r="0.45"/><circle cx="317.11" cy="50.16" r="0.45"/><circle cx="315.08" cy="51.33" r="0.45"/><circle cx="311.83" cy="48.98" r="0.45"/><circle cx="317.05" cy="49.62" r="0.45"/><circle cx="309.88" cy="50.84" r="0.45"/><circle cx="314.35" cy="50.1" r="0.45"/><circle cx="314.46" cy="50.45" r="0.45"/><circle cx="318.68" cy="50.06" r="0.45"/><circle cx="317.99" cy="51.26" r="0.45"/><circle cx="319.17" cy="48.29" r="0.45"/><circle cx="307.09" cy="45.81" r="0.45"/><circle cx="312.77" cy="49.11" r="0.45"/><circle cx="315.83" cy="48.32" r="0.45"/><circle cx="316.42" cy="52" r="0.45"/><circle cx="313.42" cy="49.73" r="0.45"/><circle cx="317.05" cy="48.47" r="0.45"/><circle cx="315.54" cy="49.41" r="0.45"/><circle cx="313.36" cy="50.48" r="0.45"/><circle cx="316.98" cy="51.48" r="0.45"/><circle cx="313.82" cy="48.78" r="0.45"/><circle cx="320.22" cy="48.99" r="0.45"/><circle cx="316.71" cy="51.15" r="0.45"/><circle cx="316.99" cy="48.81" r="0.45"/><circle cx="318.16" cy="49.23" r="0.45"/><circle cx="319.02" cy="51.17" r="0.45"/><circle cx="312.05" cy="48.23" r="0.45"/><circle cx="318.47" cy="51.72" r="0.45"/><circle cx="315.07" cy="49.06" r="0.45"/><circle cx="313.34" cy="53.11" r="0.45"/><circle cx="317.28" cy="49.91" r="0.45"/><circle cx="317.94" cy="49.22" r="0.45"/><circle cx="311.9" cy="47.97" r="0.45"/><circle cx="315.8" cy="46.81" r="0.45"/><circle cx="314.53" cy="46.85" r="0.45"/><circle cx="314.42" cy="48.46" r="0.45"/><circle cx="319.12" cy="48.21" r="0.45"/><circle cx="315.94" cy="50.2" r="0.45"/><circle cx="320.55" cy="45.88" r="0.45"/><circle cx="316.06" cy="47.2" r="0.45"/><circle cx="321.76" cy="47.14" r="0.45"/><circle cx="310.81" cy="47.45" r="0.45"/><circle cx="312.45" cy="49.66" r="0.45"/><circle cx="319.72" cy="47.54" r="0.45"/><circle cx="318.99" cy="49.64" r="0.45"/><circle cx="318.85" cy="45.81" r="0.45"/><circle cx="316.25" cy="48.92" r="0.45"/><circle cx="316.83" cy="53.07" r="0.45"/><circle cx="314.12" cy="49.86" r="0.45"/><circle cx="317.38" cy="49.46" r="0.45"/><circle cx="319.05" cy="50.34" r="0.45"/><circle cx="313.54" cy="53.38" r="0.45"/><circle cx="313.88" cy="52.05" r="0.45"/><circle cx="316.96" cy="49.72" r="0.45"/><circle cx="318.5" cy="52.38" r="0.45"/><circle cx="318.6" cy="49.15" r="0.45"/><circle cx="320.09" cy="49.04" r="0.45"/><circle cx="314.79" cy="49.3" r="0.45"/><circle cx="316.32" cy="48.18" r="0.45"/><circle cx="317" cy="50.74" r="0.45"/><circle cx="316.47" cy="51.94" r="0.45"/><circle cx="317.63" cy="50.7" r="0.45"/><circle cx="316.94" cy="47.05" r="0.45"/><circle cx="318.11" cy="47.92" r="0.45"/><circle cx="314.53" cy="49.29" r="0.45"/><circle cx="317.45" cy="46.98" r="0.45"/><circle cx="312.67" cy="48.85" r="0.45"/><circle cx="316.84" cy="50.19" r="0.45"/><circle cx="311.7" cy="53.05" r="0.45"/><circle cx="312.14" cy="53.11" r="0.45"/><circle cx="318.34" cy="49.51" r="0.45"/><circle cx="309.92" cy="50.71" r="0.45"/><circle cx="313.42" cy="48.24" r="0.45"/><circle cx="315.94" cy="50.89" r="0.45"/><circle cx="312.36" cy="49.25" r="0.45"/><circle cx="315.55" cy="48.83" r="0.45"/><circle cx="314.04" cy="50.27" r="0.45"/><circle cx="313.94" cy="47.76" r="0.45"/><circle cx="315.58" cy="51" r="0.45"/><circle cx="316.24" cy="50.05" r="0.45"/><circle cx="320.95" cy="49.23" r="0.45"/><circle cx="310.36" cy="51.08" r="0.45"/><circle cx="321.91" cy="53.24" r="0.45"/><circle cx="317.4" cy="52.29" r="0.45"/><circle cx="312.5" cy="49.18" r="0.45"/><circle cx="317.24" cy="52.02" r="0.45"/><circle cx="321.21" cy="49.77" r="0.45"/><circle cx="310.86" cy="47.31" r="0.45"/><circle cx="316.12" cy="50.56" r="0.45"/><circle cx="316.47" cy="51.41" r="0.45"/><circle cx="311.21" cy="47.93" r="0.45"/><circle cx="314.47" cy="47.4" r="0.45"/><circle cx="313.43" cy="48.4" r="0.45"/><circle cx="317.39" cy="52.06" r="0.45"/><circle cx="316.98" cy="50.95" r="0.45"/><circle cx="314.13" cy="49.75" r="0.45"/><circle cx="311.79" cy="50.35" r="0.45"/><circle cx="316.03" cy="53.79" r="0.45"/><circle cx="315.14" cy="50.04" r="0.45"/><circle cx="317.45" cy="50.73" r="0.45"/><circle cx="311.29" cy="48.35" r="0.45"/><circle cx="317.59" cy="51.21" r="0.45"/><circle cx="320.13" cy="47.53" r="0.45"/><circle cx="315.34" cy="47.52" r="0.45"/><circle cx="321.34" cy="49.71" r="0.45"/><circle cx="317.15" cy="51.87" r="0.45"/><circle cx="318.36" cy="49.72" r="0.45"/><circle cx="319.26" cy="47.71" r="0.45"/><circle cx="315.2" cy="49.28" r="0.45"/><circle cx="320.57" cy="50.06" r="0.45"/><circle cx="317.22" cy="48.06" r="0.45"/><circle cx="318.03" cy="53.47" r="0.45"/><circle cx="314.03" cy="49.43" r="0.45"/><circle cx="316.92" cy="47.63" r="0.45"/><circle cx="314.69" cy="48.45" r="0.45"/><circle cx="315.1" cy="51.57" r="0.45"/><circle cx="313.77" cy="47.93" r="0.45"/><circle cx="314.61" cy="50.78" r="0.45"/><circle cx="313.57" cy="51.72" r="0.45"/><circle cx="317.56" cy="50.67" r="0.45"/><circle cx="317.98" cy="48.85" r="0.45"/><circle cx="314.84" cy="50.39" r="0.45"/><circle cx="314.15" cy="49.84" r="0.45"/><circle cx="319.75" cy="50.58" r="0.45"/><circle cx="311.74" cy="50.28" r="0.45"/><circle cx="314.16" cy="50.76" r="0.45"/><circle cx="320.35" cy="47.63" r="0.45"/><circle cx="320.91" cy="52.45" r="0.45"/><circle cx="314.46" cy="46.57" r="0.45"/><circle cx="313.76" cy="49.8" r="0.45"/><circle cx="319.6" cy="48.06" r="0.45"/><circle cx="316.37" cy="51.41" r="0.45"/><circle cx="317.47" cy="51.47" r="0.45"/><circle cx="319.43" cy="49.89" r="0.45"/><circle cx="309.75" cy="49.83" r="0.45"/><circle cx="313.69" cy="50.7" r="0.45"/><circle cx="313.09" cy="50.19" r="0.45"/><circle cx="315.26" cy="52.32" r="0.45"/><circle cx="318.04" cy="50.03" r="0.45"/><circle cx="318.46" cy="50.53" r="0.45"/><circle cx="313.94" cy="50.18" r="0.45"/><circle cx="320.33" cy="50.12" r="0.45"/><circle cx="317.58" cy="49.91" r="0.45"/><circle cx="314.06" cy="50.56" r="0.45"/><circle cx="312.32" cy="49.4" r="0.45"/><circle cx="316.86" cy="49.19" r="0.45"/><circle cx="314.6" cy="50.22" r="0.45"/><circle cx="313.9" cy="49.27" r="0.45"/><circle cx="313.23" cy="48.32" r="0.45"/><circle cx="314.81" cy="54.49" r="0.45"/><circle cx="317.58" cy="46.3" r="0.45"/><circle cx="315.77" cy="48.71" r="0.45"/><circle cx="313.05" cy="51.29" r="0.45"/><circle cx="316.21" cy="47.85" r="0.45"/><circle cx="319.68" cy="49.28" r="0.45"/><circle cx="322.47" cy="50.21" r="0.45"/><circle cx="310.68" cy="46.61" r="0.45"/><circle cx="316.53" cy="48.16" r="0.45"/><circle cx="314.24" cy="50.14" r="0.45"/><circle cx="310.09" cy="50.87" r="0.45"/><circle cx="313.35" cy="50.91" r="0.45"/><circle cx="317.98" cy="49.73" r="0.45"/><circle cx="317.33" cy="50.42" r="0.45"/><circle cx="313.57" cy="47.89" r="0.45"/><circle cx="319.17" cy="48.39" r="0.45"/><circle cx="316.59" cy="49.9" r="0.45"/><circle cx="318.65" cy="52.45" r="0.45"/><circle cx="312.71" cy="52.38" r="0.45"/><circle cx="318.19" cy="50.69" r="0.45"/><circle cx="317.23" cy="51.1" r="0.45"/><circle cx="317.04" cy="51.25" r="0.45"/><circle cx="309.09" cy="47.09" r="0.45"/><circle cx="318.38" cy="46.89" r="0.45"/><circle cx="318.74" cy="50.17" r="0.45"/><circle cx="310.7" cy="49.36" r="0.45"/><circle cx="317.26" cy="49.81" r="0.45"/><circle cx="313.54" cy="48.55" r="0.45"/><circle cx="314.59" cy="48.45" r="0.45"/><circle cx="318.11" cy="50.64" r="0.45"/><circle cx="317.97" cy="49.8" r="0.45"/><circle cx="323.77" cy="48.66" r="0.45"/><circle cx="314.21" cy="50.11" r="0.45"/><circle cx="318.51" cy="49.1" r="0.45"/><circle cx="316.31" cy="50.85" r="0.45"/><circle cx="311.86" cy="52.25" r="0.45"/><circle cx="317.21" cy="49.39" r="0.45"/><circle cx="315.23" cy="48.7" r="0.45"/><circle cx="316.43" cy="48.77" r="0.45"/><circle cx="317.53" cy="49.38" r="0.45"/><circle cx="316.36" cy="50.77" r="0.45"/><circle cx="312.2" cy="53.41" r="0.45"/><circle cx="314.23" cy="47.81" r="0.45"/><circle cx="309.67" cy="52.24" r="0.45"/><circle cx="310.19" cy="51.59" r="0.45"/><circle cx="318.3" cy="51.87" r="0.45"/><circle cx="312.17" cy="51.86" r="0.45"/><circle cx="316.77" cy="50.51" r="0.45"/><circle cx="315.68" cy="49.5" r="0.45"/><circle cx="315.43" cy="52.81" r="0.45"/><circle cx="317.5" cy="47.29" r="0.45"/><circle cx="315.02" cy="52.87" r="0.45"/><circle cx="315.96" cy="49.35" r="0.45"/><circle cx="314.95" cy="52.02" r="0.45"/><circle cx="319.17" cy="49.38" r="0.45"/><circle cx="313.47" cy="54.22" r="0.45"/><circle cx="317.34" cy="49.89" r="0.45"/><circle cx="319.17" cy="47.99" r="0.45"/><circle cx="312.61" cy="49.73" r="0.45"/><circle cx="314.97" cy="51.26" r="0.45"/><circle cx="316.06" cy="50.26" r="0.45"/><circle cx="318.29" cy="50.49" r="0.45"/><circle cx="318.49" cy="51.5" r="0.45"/><circle cx="317.79" cy="51.51" r="0.45"/><circle cx="315.43" cy="50.92" r="0.45"/><circle cx="310.89" cy="50.57" r="0.45"/><circle cx="315.67" cy="51.59" r="0.45"/><circle cx="314.99" cy="51.71" r="0.45"/><circle cx="316.72" cy="51.03" r="0.45"/><circle cx="314.07" cy="51.15" r="0.45"/><circle cx="316.22" cy="48.31" r="0.45"/><circle cx="316.95" cy="48.97" r="0.45"/><circle cx="313.79" cy="48.93" r="0.45"/><circle cx="318.73" cy="51.7" r="0.45"/><circle cx="314.47" cy="51.74" r="0.45"/><circle cx="315.67" cy="48.57" r="0.45"/><circle cx="309.98" cy="47.9" r="0.45"/><circle cx="316.83" cy="49.65" r="0.45"/><circle cx="313.88" cy="47.77" r="0.45"/><circle cx="319.21" cy="47.58" r="0.45"/><circle cx="322.85" cy="51.58" r="0.45"/><circle cx="309.53" cy="49.11" r="0.45"/><circle cx="317.87" cy="49.41" r="0.45"/><circle cx="317.12" cy="50.33" r="0.45"/></g>
<ellipse cx="299" cy="50.3" rx="2.2" ry="4.2" fill="#3a9a9a" opacity="0.75"/>
<ellipse cx="298.7" cy="51.2" rx="1.4" ry="2.8" fill="#7cbf3f"/>
<ellipse cx="298.4" cy="52.2" rx="0.9" ry="1.5" fill="#f0b030"/>
<ellipse cx="298.3" cy="52.8" rx="0.6" ry="0.8" fill="#e04030"/>
<ellipse cx="316" cy="49.8" rx="3.4" ry="1.6" fill="#3aa070" opacity="0.85"/>
<ellipse cx="316" cy="49.8" rx="2" ry="1" fill="#78b83a"/>
<path d="M310.5,53 L309.99,52.43 L309.87,51.61 L310,50.69 L310.22,49.77 L310.4,49 L310.52,48.39 L310.69,47.85 L310.9,47.36 L311.17,46.88 L311.5,46.4 L311.89,45.91 L312.33,45.43 L312.82,44.96 L313.38,44.48 L314,44 L314.7,43.51 L315.49,43.01 L316.33,42.5 L317.18,42 L318,41.5 L318.8,40.98 L319.6,40.45 L320.4,39.93 L321.2,39.44 L322,39 L322.81,38.62 L323.62,38.27 L324.44,37.96 L325.23,37.7 L326,37.5 L326.75,37.35 L327.48,37.24 L328.2,37.2 L328.87,37.21 L329.5,37.3 L330.08,37.46 L330.62,37.7 L331.12,38 L331.58,38.36 L332,38.8 L332.39,39.33 L332.75,39.94 L333.07,40.62 L333.32,41.31 L333.5,42 L333.59,42.69 L333.62,43.4 L333.58,44.12 L333.47,44.83 L333.3,45.5 L333.06,46.14 L332.75,46.76 L332.38,47.36 L331.96,47.94 L331.5,48.5 L331,49.05 L330.46,49.58 L329.87,50.1 L329.22,50.57 L328.5,51 L327.72,51.38 L326.88,51.72 L325.98,52.01 L325.02,52.27 L324,52.5 L322.92,52.69 L321.78,52.84 L320.58,52.95 L319.32,53.04 L318,53.1 L316.48,53.19 L314.75,53.3 L313.04,53.35 L311.55,53.28 Z" stroke="#111" stroke-width="1.05" fill="none" stroke-linejoin="round"/>
<line x1="322.4" y1="49.8" x2="322.4" y2="66.1" stroke="#111" stroke-width="1.1" />
<path d="M322.4,70.6 L320.25,65.6 L324.55,65.6 Z" fill="#111"/>
<line x1="293.7" y1="58.6" x2="293.7" y2="41.3" stroke="#111" stroke-width="1.1" />
<path d="M293.7,36.8 L295.85,41.8 L291.55,41.8 Z" fill="#111"/>
<line x1="293.2" y1="58.6" x2="311.9" y2="58.6" stroke="#111" stroke-width="1.1" />
<path d="M316.4,58.6 L311.4,60.75 L311.4,56.45 Z" fill="#111"/>
<text transform="translate(288.8,47.5) rotate(-90)" x="0" y="0" font-size="9" text-anchor="middle" class="cd" textLength="11.2" lengthAdjust="spacingAndGlyphs" fill="#000">SSC</text>
<text x="305.2" y="68" font-size="9" text-anchor="middle" textLength="12" lengthAdjust="spacingAndGlyphs" fill="#000" class="cd">FSC</text>
<rect x="296.6" y="71.6" width="46.2" height="45.2" fill="none" stroke="#c9c9c9" stroke-width="0.9" />
<rect x="315" y="76.3" width="23.4" height="16.1" fill="none" stroke="#9a9a9a" stroke-width="1" />
<g fill="#3a55c0" fill-opacity="0.45"><circle cx="330.46" cy="80.85" r="0.45"/><circle cx="329.11" cy="83.52" r="0.45"/><circle cx="331.21" cy="83.94" r="0.45"/><circle cx="330.62" cy="84.25" r="0.45"/><circle cx="328.02" cy="82.13" r="0.45"/><circle cx="329.03" cy="84.19" r="0.45"/><circle cx="324.32" cy="85.44" r="0.45"/><circle cx="323.06" cy="84.5" r="0.45"/><circle cx="324.66" cy="84.8" r="0.45"/><circle cx="324.46" cy="84.97" r="0.45"/><circle cx="335.02" cy="81.01" r="0.45"/><circle cx="326.01" cy="87.97" r="0.45"/><circle cx="326.68" cy="83.31" r="0.45"/><circle cx="337.84" cy="78.48" r="0.45"/><circle cx="328.7" cy="82.82" r="0.45"/><circle cx="336.65" cy="79.29" r="0.45"/><circle cx="324.77" cy="85.32" r="0.45"/><circle cx="329.35" cy="82.29" r="0.45"/><circle cx="330.1" cy="82.72" r="0.45"/><circle cx="328.43" cy="81.9" r="0.45"/><circle cx="331.57" cy="81.04" r="0.45"/><circle cx="330.07" cy="86.5" r="0.45"/><circle cx="326.54" cy="84.16" r="0.45"/><circle cx="325.88" cy="82.58" r="0.45"/><circle cx="327.17" cy="82.63" r="0.45"/><circle cx="326.59" cy="83.96" r="0.45"/><circle cx="330.27" cy="83.08" r="0.45"/><circle cx="329.9" cy="81.23" r="0.45"/><circle cx="331.85" cy="82.16" r="0.45"/><circle cx="324.75" cy="86.18" r="0.45"/><circle cx="327.22" cy="81.43" r="0.45"/><circle cx="323.88" cy="84.57" r="0.45"/><circle cx="326.42" cy="84.19" r="0.45"/><circle cx="332.23" cy="81.52" r="0.45"/><circle cx="328.08" cy="82.67" r="0.45"/><circle cx="324.05" cy="89.19" r="0.45"/><circle cx="326.64" cy="84.31" r="0.45"/><circle cx="327.72" cy="83.13" r="0.45"/><circle cx="331.96" cy="83.1" r="0.45"/><circle cx="326.35" cy="82.56" r="0.45"/><circle cx="327.05" cy="84.14" r="0.45"/><circle cx="332.8" cy="81.87" r="0.45"/><circle cx="328.29" cy="81.95" r="0.45"/><circle cx="326.72" cy="80.67" r="0.45"/><circle cx="330.58" cy="81.66" r="0.45"/><circle cx="330.01" cy="82.2" r="0.45"/><circle cx="322.73" cy="84.94" r="0.45"/><circle cx="326.16" cy="84.38" r="0.45"/><circle cx="327.68" cy="82.84" r="0.45"/><circle cx="332.36" cy="83.93" r="0.45"/><circle cx="326.99" cy="85.13" r="0.45"/><circle cx="330.78" cy="80.35" r="0.45"/><circle cx="320.12" cy="87.17" r="0.45"/><circle cx="324.36" cy="84.41" r="0.45"/><circle cx="325.02" cy="85.52" r="0.45"/><circle cx="331.17" cy="82.14" r="0.45"/><circle cx="331.29" cy="79.66" r="0.45"/><circle cx="334.75" cy="80.03" r="0.45"/><circle cx="330.13" cy="80.86" r="0.45"/><circle cx="328.9" cy="80.89" r="0.45"/><circle cx="332.04" cy="81.42" r="0.45"/><circle cx="321.91" cy="87.09" r="0.45"/><circle cx="323.72" cy="85.27" r="0.45"/><circle cx="329.98" cy="81.42" r="0.45"/><circle cx="332.4" cy="81.87" r="0.45"/><circle cx="325.7" cy="83.42" r="0.45"/><circle cx="332.56" cy="82.51" r="0.45"/><circle cx="320.61" cy="85.79" r="0.45"/><circle cx="337.53" cy="77.47" r="0.45"/><circle cx="330.71" cy="82.21" r="0.45"/><circle cx="327.87" cy="83.47" r="0.45"/><circle cx="325.46" cy="84.92" r="0.45"/><circle cx="335.95" cy="77.61" r="0.45"/><circle cx="331.84" cy="80.82" r="0.45"/><circle cx="330.64" cy="83.79" r="0.45"/><circle cx="328.08" cy="82.82" r="0.45"/><circle cx="331.78" cy="81.98" r="0.45"/><circle cx="326.69" cy="84.53" r="0.45"/><circle cx="324.31" cy="82.93" r="0.45"/><circle cx="329.14" cy="83.45" r="0.45"/><circle cx="323.6" cy="84.35" r="0.45"/><circle cx="329.35" cy="81.34" r="0.45"/><circle cx="327.29" cy="85.65" r="0.45"/><circle cx="331.73" cy="82.06" r="0.45"/><circle cx="324.78" cy="83.22" r="0.45"/><circle cx="330.64" cy="80.61" r="0.45"/><circle cx="327.59" cy="83.86" r="0.45"/><circle cx="334.34" cy="78.08" r="0.45"/><circle cx="325.14" cy="83.92" r="0.45"/><circle cx="327.43" cy="84.01" r="0.45"/><circle cx="324.17" cy="84.05" r="0.45"/><circle cx="326.9" cy="82.17" r="0.45"/><circle cx="335.14" cy="81.32" r="0.45"/><circle cx="323.6" cy="85.2" r="0.45"/><circle cx="328.69" cy="81.31" r="0.45"/><circle cx="334.36" cy="79.23" r="0.45"/><circle cx="330.66" cy="80.43" r="0.45"/><circle cx="327.44" cy="84.11" r="0.45"/><circle cx="330.85" cy="78.88" r="0.45"/><circle cx="322.14" cy="84.07" r="0.45"/><circle cx="318.91" cy="87.67" r="0.45"/><circle cx="337.26" cy="80.97" r="0.45"/><circle cx="328.6" cy="82.17" r="0.45"/><circle cx="326.9" cy="81.36" r="0.45"/><circle cx="329.24" cy="81.68" r="0.45"/><circle cx="331.81" cy="82.89" r="0.45"/><circle cx="325.3" cy="83.47" r="0.45"/><circle cx="332.29" cy="80.6" r="0.45"/><circle cx="326.77" cy="84.74" r="0.45"/><circle cx="326.28" cy="86.61" r="0.45"/><circle cx="328.92" cy="82.19" r="0.45"/><circle cx="331.55" cy="82.76" r="0.45"/><circle cx="326.89" cy="84.11" r="0.45"/><circle cx="324.51" cy="84.74" r="0.45"/><circle cx="330.77" cy="80.39" r="0.45"/><circle cx="330.03" cy="82.4" r="0.45"/><circle cx="333.17" cy="77.88" r="0.45"/><circle cx="324.7" cy="82.55" r="0.45"/><circle cx="328.68" cy="85.01" r="0.45"/><circle cx="337.6" cy="79.57" r="0.45"/><circle cx="320.87" cy="83.79" r="0.45"/><circle cx="322.4" cy="81.91" r="0.45"/><circle cx="331.33" cy="80.54" r="0.45"/><circle cx="332.37" cy="83.67" r="0.45"/><circle cx="330.08" cy="82.84" r="0.45"/><circle cx="320.92" cy="85.91" r="0.45"/><circle cx="329.04" cy="79.6" r="0.45"/><circle cx="334.91" cy="78.24" r="0.45"/><circle cx="331.87" cy="82.62" r="0.45"/><circle cx="328.16" cy="85.16" r="0.45"/><circle cx="325.96" cy="84.81" r="0.45"/><circle cx="328.28" cy="82.85" r="0.45"/><circle cx="321.65" cy="85.57" r="0.45"/><circle cx="330.27" cy="82.69" r="0.45"/><circle cx="326.09" cy="81.69" r="0.45"/><circle cx="322.16" cy="87.42" r="0.45"/><circle cx="329.09" cy="81.73" r="0.45"/><circle cx="325.71" cy="82.75" r="0.45"/><circle cx="327.56" cy="82.47" r="0.45"/><circle cx="320.82" cy="83.91" r="0.45"/><circle cx="328.97" cy="81.94" r="0.45"/><circle cx="328.59" cy="83.39" r="0.45"/><circle cx="325.63" cy="81.2" r="0.45"/><circle cx="327.69" cy="83.1" r="0.45"/><circle cx="334.03" cy="82.88" r="0.45"/><circle cx="324.81" cy="83.88" r="0.45"/><circle cx="330.64" cy="83.31" r="0.45"/><circle cx="319.34" cy="84.48" r="0.45"/><circle cx="328.08" cy="83.53" r="0.45"/><circle cx="328.41" cy="82.23" r="0.45"/><circle cx="327.83" cy="87.12" r="0.45"/><circle cx="329.95" cy="81.87" r="0.45"/><circle cx="325.96" cy="82.91" r="0.45"/><circle cx="323.21" cy="86.26" r="0.45"/><circle cx="331.12" cy="83.01" r="0.45"/><circle cx="334.45" cy="81.12" r="0.45"/><circle cx="328.63" cy="83.48" r="0.45"/><circle cx="334.29" cy="80.65" r="0.45"/><circle cx="325.17" cy="85.67" r="0.45"/><circle cx="327.5" cy="83.63" r="0.45"/><circle cx="324.42" cy="84.18" r="0.45"/><circle cx="328.92" cy="84.1" r="0.45"/><circle cx="335.03" cy="81.7" r="0.45"/><circle cx="329.27" cy="80.86" r="0.45"/><circle cx="325.63" cy="84.1" r="0.45"/><circle cx="326.05" cy="86.05" r="0.45"/><circle cx="329.74" cy="81.84" r="0.45"/><circle cx="331.92" cy="81.37" r="0.45"/><circle cx="326.84" cy="81.28" r="0.45"/><circle cx="327.35" cy="86.27" r="0.45"/><circle cx="333.3" cy="79.73" r="0.45"/><circle cx="328.38" cy="79.44" r="0.45"/><circle cx="329.85" cy="81.73" r="0.45"/><circle cx="330.9" cy="82.07" r="0.45"/><circle cx="329.78" cy="82.83" r="0.45"/><circle cx="324.77" cy="84.2" r="0.45"/><circle cx="330.78" cy="82.48" r="0.45"/><circle cx="330.05" cy="86.99" r="0.45"/><circle cx="323.85" cy="83.14" r="0.45"/><circle cx="336.56" cy="76.99" r="0.45"/><circle cx="331.23" cy="85.06" r="0.45"/><circle cx="323.35" cy="83.52" r="0.45"/><circle cx="331.92" cy="83.56" r="0.45"/><circle cx="323.75" cy="83.2" r="0.45"/><circle cx="329.88" cy="82.9" r="0.45"/><circle cx="320.37" cy="87.54" r="0.45"/><circle cx="326.48" cy="88.1" r="0.45"/><circle cx="330.45" cy="84.23" r="0.45"/><circle cx="327.31" cy="82.3" r="0.45"/><circle cx="329.67" cy="83.89" r="0.45"/><circle cx="334.37" cy="79.21" r="0.45"/><circle cx="332.63" cy="84.09" r="0.45"/><circle cx="334.88" cy="81.71" r="0.45"/><circle cx="327.99" cy="82.46" r="0.45"/><circle cx="327.98" cy="88.36" r="0.45"/><circle cx="331.16" cy="81.46" r="0.45"/><circle cx="328.44" cy="81.47" r="0.45"/><circle cx="321.25" cy="86.28" r="0.45"/><circle cx="330.58" cy="83.27" r="0.45"/><circle cx="331.3" cy="81.43" r="0.45"/><circle cx="327.25" cy="86.21" r="0.45"/><circle cx="332.5" cy="79" r="0.45"/><circle cx="330.49" cy="82.17" r="0.45"/><circle cx="330.43" cy="80.42" r="0.45"/><circle cx="324.72" cy="85.1" r="0.45"/><circle cx="331.37" cy="81.12" r="0.45"/><circle cx="320.71" cy="85.46" r="0.45"/><circle cx="322.95" cy="81.4" r="0.45"/><circle cx="330.8" cy="82.74" r="0.45"/><circle cx="331.75" cy="81.49" r="0.45"/><circle cx="325.91" cy="83.54" r="0.45"/><circle cx="333.29" cy="80.39" r="0.45"/><circle cx="332.67" cy="79.31" r="0.45"/><circle cx="330.71" cy="84.1" r="0.45"/><circle cx="335.18" cy="79.51" r="0.45"/><circle cx="325.35" cy="88.36" r="0.45"/><circle cx="334.56" cy="78.9" r="0.45"/><circle cx="325.67" cy="84.68" r="0.45"/><circle cx="330.95" cy="80.32" r="0.45"/><circle cx="328.59" cy="82.93" r="0.45"/><circle cx="330.42" cy="82.79" r="0.45"/><circle cx="327.71" cy="82.04" r="0.45"/><circle cx="328.29" cy="83.43" r="0.45"/><circle cx="321.95" cy="82.89" r="0.45"/><circle cx="333.25" cy="77.7" r="0.45"/><circle cx="329.47" cy="81.63" r="0.45"/><circle cx="328.36" cy="84.03" r="0.45"/><circle cx="331.68" cy="81.49" r="0.45"/><circle cx="324.58" cy="84.04" r="0.45"/><circle cx="330.7" cy="79.85" r="0.45"/><circle cx="332.36" cy="81.03" r="0.45"/><circle cx="323.92" cy="82.13" r="0.45"/><circle cx="334.94" cy="80.21" r="0.45"/><circle cx="325.7" cy="85.25" r="0.45"/><circle cx="327.46" cy="85" r="0.45"/><circle cx="333.87" cy="80.26" r="0.45"/><circle cx="332.18" cy="81.49" r="0.45"/><circle cx="325.95" cy="83.25" r="0.45"/><circle cx="324.58" cy="84.67" r="0.45"/><circle cx="327.2" cy="83.42" r="0.45"/><circle cx="327.6" cy="85.83" r="0.45"/><circle cx="320.92" cy="86.47" r="0.45"/><circle cx="330.28" cy="81.58" r="0.45"/><circle cx="332.46" cy="80.96" r="0.45"/><circle cx="321.4" cy="86.96" r="0.45"/><circle cx="330.05" cy="81.03" r="0.45"/><circle cx="329.58" cy="81.69" r="0.45"/><circle cx="329.79" cy="80.29" r="0.45"/><circle cx="334.45" cy="81.53" r="0.45"/><circle cx="330.97" cy="81.15" r="0.45"/><circle cx="330.11" cy="81.39" r="0.45"/><circle cx="323.1" cy="83.93" r="0.45"/><circle cx="323.31" cy="85.9" r="0.45"/><circle cx="332.32" cy="79.47" r="0.45"/><circle cx="330.79" cy="81.19" r="0.45"/><circle cx="328.4" cy="81.27" r="0.45"/><circle cx="335.61" cy="81.23" r="0.45"/><circle cx="332.33" cy="81.23" r="0.45"/><circle cx="332.58" cy="82.35" r="0.45"/><circle cx="331.48" cy="80.34" r="0.45"/><circle cx="330.11" cy="80.59" r="0.45"/><circle cx="326.83" cy="82.83" r="0.45"/><circle cx="332.62" cy="82.6" r="0.45"/><circle cx="330.76" cy="84.69" r="0.45"/><circle cx="331.27" cy="83" r="0.45"/><circle cx="325.38" cy="83.36" r="0.45"/><circle cx="333.96" cy="81.96" r="0.45"/><circle cx="327.93" cy="87.04" r="0.45"/><circle cx="329.52" cy="81.67" r="0.45"/><circle cx="330.8" cy="82.18" r="0.45"/><circle cx="327.47" cy="85.01" r="0.45"/><circle cx="325.76" cy="82.46" r="0.45"/><circle cx="322.34" cy="86.44" r="0.45"/><circle cx="330.21" cy="81.75" r="0.45"/><circle cx="325.53" cy="84.77" r="0.45"/><circle cx="333.15" cy="77.87" r="0.45"/><circle cx="324.94" cy="84.03" r="0.45"/><circle cx="323.17" cy="84.03" r="0.45"/><circle cx="331.68" cy="80.54" r="0.45"/><circle cx="330.51" cy="85.8" r="0.45"/><circle cx="325.37" cy="82.63" r="0.45"/><circle cx="334.4" cy="80.43" r="0.45"/><circle cx="330.24" cy="82.22" r="0.45"/><circle cx="322.93" cy="87.05" r="0.45"/><circle cx="334.49" cy="78.07" r="0.45"/><circle cx="325.5" cy="82.88" r="0.45"/><circle cx="327.54" cy="84.13" r="0.45"/><circle cx="324.65" cy="84.08" r="0.45"/><circle cx="322.32" cy="87.12" r="0.45"/><circle cx="328.19" cy="78.16" r="0.45"/><circle cx="330.37" cy="80.28" r="0.45"/><circle cx="333.24" cy="77.2" r="0.45"/><circle cx="328.24" cy="83.71" r="0.45"/><circle cx="324.49" cy="86.34" r="0.45"/><circle cx="325.2" cy="81.67" r="0.45"/><circle cx="326.97" cy="83.31" r="0.45"/><circle cx="328.48" cy="84.13" r="0.45"/><circle cx="334.95" cy="82.32" r="0.45"/><circle cx="330.53" cy="84.35" r="0.45"/><circle cx="331.57" cy="81.31" r="0.45"/><circle cx="331.48" cy="79.77" r="0.45"/><circle cx="328.05" cy="84.92" r="0.45"/><circle cx="326.91" cy="84.85" r="0.45"/><circle cx="335.3" cy="80" r="0.45"/><circle cx="332.08" cy="80.36" r="0.45"/><circle cx="334.65" cy="78.82" r="0.45"/><circle cx="328.31" cy="84.11" r="0.45"/><circle cx="329.29" cy="84.5" r="0.45"/><circle cx="327.55" cy="80.99" r="0.45"/><circle cx="333.69" cy="82.53" r="0.45"/><circle cx="330.83" cy="81.61" r="0.45"/><circle cx="332.56" cy="82.44" r="0.45"/><circle cx="330.03" cy="84.46" r="0.45"/><circle cx="333.91" cy="83.56" r="0.45"/><circle cx="329.12" cy="83.09" r="0.45"/><circle cx="332.71" cy="80.68" r="0.45"/><circle cx="323.44" cy="82.9" r="0.45"/><circle cx="336.14" cy="78.61" r="0.45"/><circle cx="324.23" cy="85.99" r="0.45"/><circle cx="333.12" cy="82.06" r="0.45"/><circle cx="327.54" cy="80.76" r="0.45"/><circle cx="333.51" cy="80.98" r="0.45"/><circle cx="322.4" cy="84.77" r="0.45"/><circle cx="327.95" cy="83.33" r="0.45"/><circle cx="320.45" cy="88.2" r="0.45"/><circle cx="326.65" cy="84.29" r="0.45"/><circle cx="322.56" cy="82.21" r="0.45"/><circle cx="331.33" cy="82.72" r="0.45"/><circle cx="327.91" cy="85.98" r="0.45"/><circle cx="330.57" cy="83.44" r="0.45"/><circle cx="326.95" cy="85.25" r="0.45"/><circle cx="328.36" cy="85.8" r="0.45"/><circle cx="334.28" cy="77.28" r="0.45"/><circle cx="325.44" cy="84.6" r="0.45"/><circle cx="325.81" cy="84.55" r="0.45"/><circle cx="330.83" cy="81.93" r="0.45"/><circle cx="326.47" cy="83.98" r="0.45"/><circle cx="331.57" cy="83.59" r="0.45"/><circle cx="318.3" cy="86.51" r="0.45"/><circle cx="326.53" cy="84.76" r="0.45"/><circle cx="327.86" cy="82.76" r="0.45"/><circle cx="326.67" cy="82.77" r="0.45"/><circle cx="324.93" cy="82.33" r="0.45"/><circle cx="324.4" cy="86.84" r="0.45"/><circle cx="335.85" cy="81.01" r="0.45"/><circle cx="327" cy="88.92" r="0.45"/><circle cx="328.74" cy="81.94" r="0.45"/><circle cx="318.44" cy="88" r="0.45"/><circle cx="332.14" cy="81.2" r="0.45"/><circle cx="329.85" cy="82.92" r="0.45"/><circle cx="328.38" cy="84.01" r="0.45"/><circle cx="327.46" cy="82.8" r="0.45"/><circle cx="328.2" cy="81.07" r="0.45"/><circle cx="333.04" cy="79.89" r="0.45"/><circle cx="326.72" cy="84.59" r="0.45"/><circle cx="333.44" cy="78.8" r="0.45"/><circle cx="326.26" cy="83.59" r="0.45"/><circle cx="328.79" cy="82.81" r="0.45"/><circle cx="326.74" cy="81.15" r="0.45"/><circle cx="325.58" cy="86.26" r="0.45"/><circle cx="334.03" cy="80.77" r="0.45"/><circle cx="328.32" cy="82.35" r="0.45"/><circle cx="331.93" cy="80.75" r="0.45"/><circle cx="333.66" cy="78.59" r="0.45"/><circle cx="329.41" cy="81.29" r="0.45"/><circle cx="333.48" cy="81.53" r="0.45"/><circle cx="331.88" cy="81.05" r="0.45"/><circle cx="324.99" cy="84.81" r="0.45"/><circle cx="333.3" cy="83.4" r="0.45"/><circle cx="324.96" cy="83.63" r="0.45"/><circle cx="327.77" cy="82.38" r="0.45"/><circle cx="322.65" cy="85.82" r="0.45"/><circle cx="329.07" cy="84.25" r="0.45"/><circle cx="333.13" cy="80.59" r="0.45"/><circle cx="330.87" cy="79.4" r="0.45"/><circle cx="329.15" cy="81.34" r="0.45"/><circle cx="334.67" cy="82.53" r="0.45"/><circle cx="327.25" cy="85.37" r="0.45"/><circle cx="331.74" cy="86.26" r="0.45"/><circle cx="333.73" cy="80.93" r="0.45"/><circle cx="333.87" cy="80.53" r="0.45"/><circle cx="328.83" cy="85.79" r="0.45"/><circle cx="324.77" cy="85.25" r="0.45"/><circle cx="329.6" cy="81.59" r="0.45"/><circle cx="328.75" cy="83.46" r="0.45"/><circle cx="326.3" cy="83.15" r="0.45"/><circle cx="322.15" cy="86.3" r="0.45"/><circle cx="329.28" cy="82.37" r="0.45"/><circle cx="333.74" cy="79.36" r="0.45"/><circle cx="333.66" cy="82.41" r="0.45"/><circle cx="320.85" cy="85.92" r="0.45"/><circle cx="329.49" cy="85.4" r="0.45"/><circle cx="328.08" cy="82.39" r="0.45"/><circle cx="327.23" cy="83.39" r="0.45"/><circle cx="327.92" cy="83.13" r="0.45"/><circle cx="328.62" cy="83.87" r="0.45"/><circle cx="322.17" cy="85.85" r="0.45"/><circle cx="326.87" cy="83.25" r="0.45"/><circle cx="329.7" cy="82.52" r="0.45"/><circle cx="332.5" cy="79.97" r="0.45"/><circle cx="325.95" cy="83.52" r="0.45"/><circle cx="335.45" cy="77.5" r="0.45"/><circle cx="327.61" cy="84.66" r="0.45"/><circle cx="326.31" cy="83.49" r="0.45"/><circle cx="332.68" cy="82.19" r="0.45"/><circle cx="330.32" cy="82.7" r="0.45"/><circle cx="334.75" cy="78.74" r="0.45"/><circle cx="332.31" cy="83.62" r="0.45"/><circle cx="323.74" cy="82.57" r="0.45"/><circle cx="320.92" cy="85.38" r="0.45"/><circle cx="330.92" cy="82.41" r="0.45"/><circle cx="326.73" cy="83.32" r="0.45"/><circle cx="330.47" cy="84.78" r="0.45"/><circle cx="328.13" cy="81.95" r="0.45"/><circle cx="328.37" cy="82.97" r="0.45"/><circle cx="321.7" cy="87.33" r="0.45"/><circle cx="329.42" cy="82.17" r="0.45"/><circle cx="326.54" cy="83.44" r="0.45"/><circle cx="335.46" cy="82.74" r="0.45"/><circle cx="329.57" cy="82.08" r="0.45"/><circle cx="323.92" cy="83.7" r="0.45"/><circle cx="333.42" cy="80.75" r="0.45"/><circle cx="327.89" cy="83.82" r="0.45"/><circle cx="326.14" cy="84.48" r="0.45"/><circle cx="324.69" cy="83.79" r="0.45"/><circle cx="337.17" cy="80.79" r="0.45"/><circle cx="327.24" cy="82.47" r="0.45"/><circle cx="328.23" cy="83.68" r="0.45"/><circle cx="327.76" cy="81.69" r="0.45"/><circle cx="331.09" cy="80.81" r="0.45"/><circle cx="325.27" cy="84.44" r="0.45"/><circle cx="331.92" cy="82.34" r="0.45"/><circle cx="331.38" cy="81.13" r="0.45"/><circle cx="329.24" cy="81.8" r="0.45"/><circle cx="324.75" cy="85.54" r="0.45"/><circle cx="328.77" cy="82.33" r="0.45"/><circle cx="326.9" cy="84.41" r="0.45"/><circle cx="329.26" cy="79.45" r="0.45"/><circle cx="334.12" cy="82.07" r="0.45"/><circle cx="328.35" cy="83.9" r="0.45"/><circle cx="332.73" cy="82.74" r="0.45"/><circle cx="331.88" cy="81.7" r="0.45"/><circle cx="327.45" cy="85.59" r="0.45"/><circle cx="326.62" cy="85.86" r="0.45"/><circle cx="334.84" cy="82.27" r="0.45"/><circle cx="329.65" cy="83.75" r="0.45"/><circle cx="326.78" cy="81.24" r="0.45"/><circle cx="325.38" cy="82.66" r="0.45"/><circle cx="330.48" cy="83.19" r="0.45"/><circle cx="329.84" cy="83.03" r="0.45"/><circle cx="329.8" cy="83.89" r="0.45"/><circle cx="330.21" cy="80.21" r="0.45"/><circle cx="330.13" cy="83.4" r="0.45"/><circle cx="334.28" cy="82.2" r="0.45"/><circle cx="321.13" cy="84.71" r="0.45"/><circle cx="326.2" cy="82.19" r="0.45"/><circle cx="327.1" cy="84.06" r="0.45"/><circle cx="334.07" cy="80.5" r="0.45"/><circle cx="326.28" cy="85.59" r="0.45"/><circle cx="328.71" cy="83.8" r="0.45"/><circle cx="328.29" cy="83.76" r="0.45"/><circle cx="324.55" cy="83.41" r="0.45"/><circle cx="332.34" cy="80.49" r="0.45"/><circle cx="325.11" cy="85.11" r="0.45"/><circle cx="319.85" cy="86.91" r="0.45"/><circle cx="327.02" cy="82.47" r="0.45"/><circle cx="325.14" cy="85.67" r="0.45"/><circle cx="324.43" cy="87.96" r="0.45"/><circle cx="324.04" cy="87.14" r="0.45"/><circle cx="327.73" cy="82.58" r="0.45"/><circle cx="331.29" cy="83.65" r="0.45"/><circle cx="326.66" cy="82.32" r="0.45"/><circle cx="329.17" cy="84.5" r="0.45"/><circle cx="331.4" cy="82.83" r="0.45"/><circle cx="329.79" cy="82.01" r="0.45"/><circle cx="325.6" cy="85.07" r="0.45"/><circle cx="333.1" cy="81.78" r="0.45"/><circle cx="326.37" cy="81.94" r="0.45"/><circle cx="331.31" cy="81.24" r="0.45"/><circle cx="329.06" cy="81.87" r="0.45"/><circle cx="328.34" cy="82.84" r="0.45"/><circle cx="332.41" cy="77.86" r="0.45"/><circle cx="328.55" cy="83.3" r="0.45"/><circle cx="331.46" cy="83.37" r="0.45"/><circle cx="336.02" cy="78.07" r="0.45"/><circle cx="330.06" cy="81.42" r="0.45"/><circle cx="327.89" cy="81.74" r="0.45"/><circle cx="334.4" cy="81.24" r="0.45"/><circle cx="320.73" cy="89.35" r="0.45"/><circle cx="326.32" cy="84.75" r="0.45"/><circle cx="327.38" cy="83.95" r="0.45"/><circle cx="318.99" cy="88.63" r="0.45"/><circle cx="334.51" cy="78.94" r="0.45"/><circle cx="330.97" cy="83.05" r="0.45"/><circle cx="328.24" cy="83.5" r="0.45"/><circle cx="332.33" cy="84.7" r="0.45"/></g>
<ellipse cx="329.5" cy="82.5" rx="4.2" ry="1.8" fill="#3a9aa0" opacity="0.75" transform="rotate(-24 329.5 82.5)"/>
<ellipse cx="329.8" cy="82.4" rx="2.2" ry="1.1" fill="#8cc63f" transform="rotate(-24 329.8 82.4)"/>
<g fill="#6a78d0" fill-opacity="0.45"><circle cx="302.45" cy="102.72" r="0.4"/><circle cx="313.12" cy="108.01" r="0.4"/><circle cx="311.55" cy="101.68" r="0.4"/><circle cx="301.53" cy="106.64" r="0.4"/><circle cx="308.4" cy="100.92" r="0.4"/><circle cx="305.82" cy="100.35" r="0.4"/><circle cx="316.84" cy="105.37" r="0.4"/><circle cx="308.57" cy="106.08" r="0.4"/><circle cx="311.77" cy="107.09" r="0.4"/><circle cx="310.46" cy="113.84" r="0.4"/><circle cx="312.18" cy="108.66" r="0.4"/><circle cx="314.68" cy="110.75" r="0.4"/><circle cx="301.45" cy="98.8" r="0.4"/><circle cx="315.8" cy="96.1" r="0.4"/><circle cx="311.27" cy="102.33" r="0.4"/><circle cx="311.2" cy="103.01" r="0.4"/><circle cx="309.75" cy="95.26" r="0.4"/><circle cx="311.63" cy="105" r="0.4"/><circle cx="305.94" cy="96.93" r="0.4"/><circle cx="319.27" cy="100.31" r="0.4"/><circle cx="313.55" cy="99.71" r="0.4"/><circle cx="308.12" cy="104.46" r="0.4"/><circle cx="302.68" cy="101.04" r="0.4"/><circle cx="315.22" cy="110.67" r="0.4"/><circle cx="316.67" cy="107.07" r="0.4"/><circle cx="311.01" cy="104.66" r="0.4"/><circle cx="320.16" cy="103.08" r="0.4"/><circle cx="305.18" cy="104.29" r="0.4"/><circle cx="313.68" cy="102.64" r="0.4"/><circle cx="311.3" cy="104.99" r="0.4"/><circle cx="309.94" cy="105.3" r="0.4"/><circle cx="314.12" cy="105.05" r="0.4"/><circle cx="314.04" cy="106.12" r="0.4"/><circle cx="310.29" cy="100.68" r="0.4"/><circle cx="312.2" cy="100.05" r="0.4"/><circle cx="306.58" cy="106.92" r="0.4"/><circle cx="316.08" cy="99.3" r="0.4"/><circle cx="304.97" cy="102.52" r="0.4"/><circle cx="303.16" cy="99.75" r="0.4"/><circle cx="316.06" cy="105.75" r="0.4"/><circle cx="300.29" cy="99.69" r="0.4"/><circle cx="313.97" cy="98.64" r="0.4"/><circle cx="302.87" cy="106.88" r="0.4"/><circle cx="304.95" cy="102.09" r="0.4"/><circle cx="316.61" cy="102.62" r="0.4"/><circle cx="316.27" cy="102.85" r="0.4"/><circle cx="303.17" cy="114.9" r="0.4"/><circle cx="308.4" cy="99.06" r="0.4"/><circle cx="302.39" cy="105.15" r="0.4"/><circle cx="307.14" cy="104.32" r="0.4"/><circle cx="304.19" cy="103.18" r="0.4"/><circle cx="305.29" cy="101.53" r="0.4"/><circle cx="304.89" cy="95.18" r="0.4"/><circle cx="304.48" cy="101.48" r="0.4"/><circle cx="307.26" cy="108.38" r="0.4"/><circle cx="307.96" cy="99.32" r="0.4"/><circle cx="306.84" cy="103.59" r="0.4"/><circle cx="315.41" cy="102.3" r="0.4"/><circle cx="312.58" cy="110.23" r="0.4"/><circle cx="313.01" cy="100.35" r="0.4"/><circle cx="307.74" cy="101.94" r="0.4"/><circle cx="309.22" cy="106.25" r="0.4"/><circle cx="318.96" cy="108.66" r="0.4"/><circle cx="314.92" cy="103.42" r="0.4"/><circle cx="298.99" cy="112.3" r="0.4"/><circle cx="324.45" cy="101.33" r="0.4"/><circle cx="311.33" cy="101.71" r="0.4"/><circle cx="310.67" cy="106.32" r="0.4"/></g>
<line x1="338.2" y1="84.8" x2="354.97" y2="112.45" stroke="#111" stroke-width="1.1" />
<path d="M357.3,116.3 L352.87,113.14 L356.55,110.91 Z" fill="#111"/>
<line x1="293.5" y1="120.2" x2="293.5" y2="102.8" stroke="#111" stroke-width="1.1" />
<path d="M293.5,98.3 L295.65,103.3 L291.35,103.3 Z" fill="#111"/>
<line x1="293" y1="120.2" x2="311.9" y2="120.2" stroke="#111" stroke-width="1.1" />
<path d="M316.4,120.2 L311.4,122.35 L311.4,118.05 Z" fill="#111"/>
<text transform="translate(288.9,109) rotate(-90)" x="0" y="0" font-size="9" text-anchor="middle" class="cd" textLength="16" lengthAdjust="spacingAndGlyphs" fill="#000">CD45</text>
<text x="305" y="129.8" font-size="9" text-anchor="middle" textLength="11.8" lengthAdjust="spacingAndGlyphs" fill="#000" class="cd">CD7</text>
<text transform="translate(352.3,31.6) rotate(-90)" x="0" y="0" font-size="8" text-anchor="middle" textLength="14.8" lengthAdjust="spacingAndGlyphs" fill="#000">21%</text>
<text transform="translate(352.3,80.3) rotate(-90)" x="0" y="0" font-size="8" text-anchor="middle" textLength="17.7" lengthAdjust="spacingAndGlyphs" fill="#000">3,5%</text>
<text transform="translate(352.3,129.4) rotate(-90)" x="0" y="0" font-size="8" text-anchor="middle" textLength="10.5" lengthAdjust="spacingAndGlyphs" fill="#000">1%</text>
<path d="M357.8,53.3 L357.8,34 L358.9,32.5 L359.7,27.2 L360.4,23.4 L361,24.2 L361.6,18.1 L362,15.1 L362.7,16.6 L363.5,19.3 L364.6,21.9 L365.4,23.4 L366.5,28.7 L367.3,34.8 L368.4,40.8 L369.5,45.4 L371,49.6 L372.9,52.2 L376,53.3 Z" fill="#d49a8c" stroke="none"/>
<path d="M357.8,53.3 L357.8,34 L358.9,32.5 L359.7,27.2 L360.4,23.4 L361,24.2 L361.6,18.1 L362,15.1 L362.7,16.6 L363.5,19.3 L364.6,21.9 L365.4,23.4 L366.5,28.7 L367.3,34.8 L368.4,40.8 L369.5,45.4 L371,49.6 L372.9,52.2 L376,53.3" fill="none" stroke="#a3102f" stroke-width="1.1" stroke-linejoin="round"/>
<rect x="356.9" y="9.1" width="45.2" height="45" fill="none" stroke="#a3102f" stroke-width="1.6" />
<path d="M357.8,102.8 L357.8,80.6 L358.7,75.4 L360.4,69.6 L361.5,67.9 L362.2,68.6 L362.7,67.3 L363.4,68.2 L363.8,67.6 L365,68.5 L366.1,70.8 L367,76.5 L367.9,81.1 L369,88.1 L370.8,93.8 L373.1,97.3 L375.4,100.2 L378.3,102.5 L384.6,102.8 Z" fill="#6f7cab" stroke="none"/>
<path d="M357.8,102.8 L357.8,80.6 L358.7,75.4 L360.4,69.6 L361.5,67.9 L362.2,68.6 L362.7,67.3 L363.4,68.2 L363.8,67.6 L365,68.5 L366.1,70.8 L367,76.5 L367.9,81.1 L369,88.1 L370.8,93.8 L373.1,97.3 L375.4,100.2 L378.3,102.5 L384.6,102.8" fill="none" stroke="#22407e" stroke-width="1.1" stroke-linejoin="round"/>
<rect x="356.9" y="58.6" width="45.2" height="44.6" fill="none" stroke="#22407e" stroke-width="1.6" />
<path d="M357.8,151.8 L357.8,135.8 L358.5,128 L360.4,121.9 L362.1,116.1 L363.2,117.5 L364,115 L365,113.8 L365.8,116 L366.5,118 L367.3,123.1 L368,129 L368.5,134.6 L369.5,140 L371.3,146.1 L373,148 L374.5,148.2 L375.4,149.3 L377,150.5 L378.5,149.8 L380,150.7 L383,151.5 L386,151.8 Z" fill="#cfe0f4" stroke="none"/>
<path d="M357.8,151.8 L357.8,135.8 L358.5,128 L360.4,121.9 L362.1,116.1 L363.2,117.5 L364,115 L365,113.8 L365.8,116 L366.5,118 L367.3,123.1 L368,129 L368.5,134.6 L369.5,140 L371.3,146.1 L373,148 L374.5,148.2 L375.4,149.3 L377,150.5 L378.5,149.8 L380,150.7 L383,151.5 L386,151.8" fill="none" stroke="#5b9ee2" stroke-width="1.0" stroke-linejoin="round"/>
<rect x="356.9" y="107.5" width="45.2" height="44.6" fill="none" stroke="#5b9ee2" stroke-width="1.6" />
<line x1="377.1" y1="32.8" x2="401.5" y2="32.8" stroke="#333" stroke-width="1.1" />
<line x1="377.1" y1="31.8" x2="377.1" y2="33.8" stroke="#333" stroke-width="0.8" />
<text x="390" y="30.2" font-size="7.2" text-anchor="middle" textLength="16" lengthAdjust="spacingAndGlyphs" fill="#000" >1,8%</text>
<line x1="377.1" y1="81.1" x2="401.5" y2="81.1" stroke="#333" stroke-width="1.1" />
<line x1="377.1" y1="80.1" x2="377.1" y2="82.1" stroke="#333" stroke-width="0.8" />
<text x="390" y="78.5" font-size="7.2" text-anchor="middle" textLength="16" lengthAdjust="spacingAndGlyphs" fill="#000" >2,3%</text>
<line x1="377.1" y1="130.1" x2="401.5" y2="130.1" stroke="#333" stroke-width="1.1" />
<line x1="377.1" y1="129.1" x2="377.1" y2="131.1" stroke="#333" stroke-width="0.8" />
<text x="390" y="127.5" font-size="7.2" text-anchor="middle" textLength="16" lengthAdjust="spacingAndGlyphs" fill="#000" >2,5%</text>
<line x1="356.2" y1="156.6" x2="388.1" y2="156.6" stroke="#111" stroke-width="1.1" />
<path d="M392.6,156.6 L387.6,158.75 L387.6,154.45 Z" fill="#111"/>
<text x="372.3" y="166.5" font-size="9" text-anchor="middle" textLength="27.7" lengthAdjust="spacingAndGlyphs" fill="#000" class="cd">Annexin V</text>
<line x1="445.4" y1="27.9" x2="445.4" y2="114.5" stroke="#000" stroke-width="1.35" />
<line x1="444.9" y1="114" x2="510.8" y2="114" stroke="#000" stroke-width="1.35" />
<line x1="442.4" y1="113.9" x2="445.4" y2="113.9" stroke="#000" stroke-width="1.1" />
<text x="439.2" y="116.51" font-size="9" text-anchor="end" textLength="4.4" lengthAdjust="spacingAndGlyphs" fill="#000" >0</text>
<line x1="442.4" y1="86.08" x2="445.4" y2="86.08" stroke="#000" stroke-width="1.1" />
<text x="439.2" y="88.69" font-size="9" text-anchor="end" textLength="4.4" lengthAdjust="spacingAndGlyphs" fill="#000" >1</text>
<line x1="442.4" y1="58.26" x2="445.4" y2="58.26" stroke="#000" stroke-width="1.1" />
<text x="439.2" y="60.87" font-size="9" text-anchor="end" textLength="4.4" lengthAdjust="spacingAndGlyphs" fill="#000" >2</text>
<line x1="442.4" y1="30.44" x2="445.4" y2="30.44" stroke="#000" stroke-width="1.1" />
<text x="439.2" y="33.05" font-size="9" text-anchor="end" textLength="4.4" lengthAdjust="spacingAndGlyphs" fill="#000" >3</text>
<text transform="translate(419.3,70.4) rotate(-90)" x="0" y="0" font-size="8.6" text-anchor="middle" class="cd" textLength="82.7" lengthAdjust="spacingAndGlyphs" fill="#000">Apoptotic cells (annexin V +)</text>
<text transform="translate(429.4,70) rotate(-90)" x="0" y="0" font-size="8.6" text-anchor="middle" class="cd" textLength="52.5" lengthAdjust="spacingAndGlyphs" fill="#000">fold variation to ctl</text>
<path d="M455.4,40.4 V38.8 H499.7 V40.4 M477.4,38.8 V40.4" stroke="#222" stroke-width="0.8" fill="none" />
<text x="477.7" y="33.4" font-size="7.2" text-anchor="middle" fill="#222" >ns</text>
<text x="455.3" y="124.4" font-size="8.2" text-anchor="middle" fill="#000" >21%</text>
<text x="455.4" y="133.6" font-size="8.2" text-anchor="middle" fill="#000" >ctl</text>
<text x="477.4" y="124.4" font-size="8.2" text-anchor="middle" fill="#000" >3.5%</text>
<text x="500" y="124.4" font-size="8.2" text-anchor="middle" fill="#000" >1%</text>
<circle cx="449.9" cy="86.2" r="1.44" fill="#b3122f"/>
<circle cx="452.5" cy="86.2" r="1.27" fill="#fff" stroke="#2f5aa6" stroke-width="1.0"/>
<rect x="453.23" y="84.92" width="2.55" height="2.55" fill="#4fb048" stroke="none" stroke-width="1" />
<rect x="455.23" y="84.92" width="2.55" height="2.55" fill="#fff" stroke="#7b4596" stroke-width="1" />
<circle cx="458.5" cy="86.2" r="1.27" fill="#fff" stroke="#2f5aa6" stroke-width="1.0"/>
<circle cx="462.3" cy="86.2" r="1.44" fill="#b3122f"/>
<circle cx="460.5" cy="86.2" r="1.44" fill="#b3122f"/>
<circle cx="478" cy="56.2" r="1.44" fill="#b3122f"/>
<circle cx="478.2" cy="81.5" r="1.27" fill="#fff" stroke="#2f5aa6" stroke-width="1.0"/>
<rect x="473.33" y="81.82" width="2.55" height="2.55" fill="#4fb048" stroke="none" stroke-width="1" />
<rect x="480.73" y="82.52" width="2.55" height="2.55" fill="#fff" stroke="#7b4596" stroke-width="1" />
<circle cx="478.2" cy="86.6" r="1.44" fill="#b3122f"/>
<circle cx="474.3" cy="91.2" r="1.27" fill="#fff" stroke="#2f5aa6" stroke-width="1.0"/>
<rect x="477.23" y="91.52" width="2.55" height="2.55" fill="#4fb048" stroke="none" stroke-width="1" />
<rect x="476.93" y="101.52" width="2.55" height="2.55" fill="#fff" stroke="#7b4596" stroke-width="1" />
<rect x="498.43" y="48.23" width="2.55" height="2.55" fill="#fff" stroke="#7b4596" stroke-width="1" />
<circle cx="500" cy="76.6" r="1.27" fill="#fff" stroke="#2f5aa6" stroke-width="1.0"/>
<circle cx="496.2" cy="84.3" r="1.44" fill="#b3122f"/>
<rect x="498.73" y="83.82" width="2.55" height="2.55" fill="#4fb048" stroke="none" stroke-width="1" />
<circle cx="500" cy="89.5" r="1.44" fill="#b3122f"/>
<rect x="494.93" y="91.02" width="2.55" height="2.55" fill="#4fb048" stroke="none" stroke-width="1" />
<circle cx="500" cy="94.6" r="1.27" fill="#fff" stroke="#2f5aa6" stroke-width="1.0"/>
<rect x="498.73" y="98.22" width="2.55" height="2.55" fill="#fff" stroke="#7b4596" stroke-width="1" />
<line x1="470.3" y1="85.1" x2="485.1" y2="85.1" stroke="#111" stroke-width="1" stroke-dasharray="1.8 1.1"/>
<line x1="492.3" y1="87.4" x2="507" y2="87.4" stroke="#111" stroke-width="1" stroke-dasharray="1.8 1.1"/>
<text x="6.9" y="187.5" font-size="11" font-weight="bold" fill="#000" style="stroke-width:0.5px">C</text>
<text x="21.9" y="189.3" font-size="9.3" font-weight="bold" fill="#000" style="stroke-width:0.25px">(i)</text>
<text x="75.8" y="187.3" font-size="8.2" text-anchor="middle" fill="#000" >21%</text>
<g fill="#777" fill-opacity="0.5"><circle cx="86.57" cy="220.17" r="0.33"/><circle cx="102.61" cy="204.99" r="0.33"/><circle cx="92.44" cy="222.93" r="0.33"/><circle cx="78.67" cy="219.98" r="0.33"/><circle cx="102.66" cy="209.52" r="0.33"/><circle cx="60.98" cy="205.42" r="0.33"/><circle cx="78.85" cy="221.24" r="0.33"/><circle cx="84.11" cy="232.27" r="0.33"/><circle cx="55.96" cy="222.51" r="0.33"/><circle cx="101.3" cy="228.13" r="0.33"/><circle cx="93.74" cy="229.65" r="0.33"/><circle cx="62.27" cy="234.55" r="0.33"/><circle cx="86.3" cy="221.38" r="0.33"/><circle cx="99.04" cy="221.38" r="0.33"/><circle cx="65.81" cy="226.51" r="0.33"/><circle cx="99.09" cy="245.99" r="0.33"/><circle cx="69.82" cy="231.88" r="0.33"/><circle cx="89.33" cy="218.31" r="0.33"/><circle cx="65.58" cy="233.85" r="0.33"/><circle cx="103.82" cy="216" r="0.33"/><circle cx="100.17" cy="218.43" r="0.33"/><circle cx="63.63" cy="229.12" r="0.33"/><circle cx="62.61" cy="227.99" r="0.33"/><circle cx="85.58" cy="224.03" r="0.33"/><circle cx="55.47" cy="217.42" r="0.33"/><circle cx="70.86" cy="213.65" r="0.33"/><circle cx="96.39" cy="213.22" r="0.33"/><circle cx="79.46" cy="221.95" r="0.33"/><circle cx="90.67" cy="243.91" r="0.33"/><circle cx="56.45" cy="229.57" r="0.33"/><circle cx="92.94" cy="221.96" r="0.33"/><circle cx="94.84" cy="219.58" r="0.33"/><circle cx="73.68" cy="219.93" r="0.33"/><circle cx="57.65" cy="220.42" r="0.33"/><circle cx="64.38" cy="226.72" r="0.33"/><circle cx="93.24" cy="219.35" r="0.33"/><circle cx="101.97" cy="228.73" r="0.33"/><circle cx="73.11" cy="218.05" r="0.33"/><circle cx="81.64" cy="221.69" r="0.33"/><circle cx="92.87" cy="216.75" r="0.33"/><circle cx="95.32" cy="222.56" r="0.33"/><circle cx="102.78" cy="219.1" r="0.33"/><circle cx="59.88" cy="214.33" r="0.33"/><circle cx="101.39" cy="231.41" r="0.33"/><circle cx="72.37" cy="231.04" r="0.33"/><circle cx="70.99" cy="215.82" r="0.33"/><circle cx="71.2" cy="222.6" r="0.33"/><circle cx="62.77" cy="224.26" r="0.33"/><circle cx="89.9" cy="226.34" r="0.33"/><circle cx="57.74" cy="220.89" r="0.33"/><circle cx="104.83" cy="212.02" r="0.33"/><circle cx="67.21" cy="219.08" r="0.33"/><circle cx="85.12" cy="225.58" r="0.33"/><circle cx="76.47" cy="212.19" r="0.33"/><circle cx="58.1" cy="223.01" r="0.33"/><circle cx="80.08" cy="219.83" r="0.33"/><circle cx="97.39" cy="230.96" r="0.33"/><circle cx="102.98" cy="231.68" r="0.33"/><circle cx="86.95" cy="222.01" r="0.33"/><circle cx="77.11" cy="216.85" r="0.33"/><circle cx="62.79" cy="225.22" r="0.33"/><circle cx="78.05" cy="214.77" r="0.33"/><circle cx="105.46" cy="235.73" r="0.33"/><circle cx="78.07" cy="201.32" r="0.33"/><circle cx="79.81" cy="219.68" r="0.33"/><circle cx="69.91" cy="210.81" r="0.33"/><circle cx="75.57" cy="226.3" r="0.33"/><circle cx="104.92" cy="227.97" r="0.33"/><circle cx="103.48" cy="213.61" r="0.33"/><circle cx="72.29" cy="213.42" r="0.33"/><circle cx="59.77" cy="218.81" r="0.33"/><circle cx="98.84" cy="236.56" r="0.33"/><circle cx="73.44" cy="224.49" r="0.33"/><circle cx="90.17" cy="205.85" r="0.33"/><circle cx="88.63" cy="221.52" r="0.33"/><circle cx="90.66" cy="212.46" r="0.33"/><circle cx="69.4" cy="205.64" r="0.33"/><circle cx="89.98" cy="222.39" r="0.33"/><circle cx="70.05" cy="233.28" r="0.33"/><circle cx="84.45" cy="216.63" r="0.33"/><circle cx="55.88" cy="214.46" r="0.33"/><circle cx="89.02" cy="219.01" r="0.33"/><circle cx="78.54" cy="226.29" r="0.33"/><circle cx="95.34" cy="209.13" r="0.33"/><circle cx="72.76" cy="211.91" r="0.33"/><circle cx="96.88" cy="209.42" r="0.33"/><circle cx="72.87" cy="231.02" r="0.33"/><circle cx="89.85" cy="205.83" r="0.33"/><circle cx="104.3" cy="231.47" r="0.33"/><circle cx="81.87" cy="218.07" r="0.33"/><circle cx="63.64" cy="231.97" r="0.33"/><circle cx="79.26" cy="202.87" r="0.33"/><circle cx="90.01" cy="218.24" r="0.33"/><circle cx="63.93" cy="206.69" r="0.33"/><circle cx="94.47" cy="209.36" r="0.33"/><circle cx="76.42" cy="214.52" r="0.33"/><circle cx="86.61" cy="222.98" r="0.33"/><circle cx="91.46" cy="208.34" r="0.33"/><circle cx="56.69" cy="226.2" r="0.33"/><circle cx="87.94" cy="229.2" r="0.33"/><circle cx="66.3" cy="216.02" r="0.33"/><circle cx="57.4" cy="209.31" r="0.33"/><circle cx="78.97" cy="221.45" r="0.33"/><circle cx="62" cy="223.97" r="0.33"/><circle cx="71.23" cy="223.46" r="0.33"/><circle cx="57.09" cy="226.36" r="0.33"/><circle cx="78.66" cy="211.96" r="0.33"/><circle cx="84.93" cy="229.46" r="0.33"/><circle cx="67.24" cy="221.27" r="0.33"/><circle cx="75.65" cy="220.81" r="0.33"/><circle cx="69.28" cy="217.24" r="0.33"/><circle cx="97.03" cy="223.38" r="0.33"/><circle cx="74.07" cy="233.09" r="0.33"/><circle cx="60.06" cy="223.79" r="0.33"/><circle cx="82.67" cy="214.68" r="0.33"/><circle cx="103.41" cy="231.05" r="0.33"/><circle cx="96.39" cy="206.6" r="0.33"/><circle cx="87.54" cy="229.02" r="0.33"/><circle cx="73.85" cy="228.6" r="0.33"/><circle cx="83.61" cy="230.44" r="0.33"/><circle cx="103.35" cy="233.08" r="0.33"/><circle cx="72.93" cy="218.54" r="0.33"/><circle cx="100.15" cy="225.3" r="0.33"/><circle cx="83.7" cy="221.03" r="0.33"/><circle cx="86.18" cy="229.04" r="0.33"/><circle cx="100.04" cy="230.81" r="0.33"/><circle cx="74.17" cy="215.14" r="0.33"/><circle cx="69.93" cy="223.68" r="0.33"/><circle cx="104.12" cy="204.3" r="0.33"/><circle cx="101.17" cy="236.72" r="0.33"/><circle cx="85.21" cy="219.44" r="0.33"/><circle cx="80.21" cy="246.29" r="0.33"/><circle cx="76.16" cy="210.08" r="0.33"/><circle cx="79.99" cy="244.53" r="0.33"/><circle cx="69.68" cy="216.46" r="0.33"/><circle cx="86.51" cy="221.66" r="0.33"/><circle cx="77.56" cy="216.8" r="0.33"/><circle cx="96.81" cy="236.13" r="0.33"/><circle cx="55.96" cy="213.95" r="0.33"/><circle cx="102.25" cy="219.54" r="0.33"/><circle cx="94.55" cy="221.19" r="0.33"/><circle cx="63.07" cy="228.1" r="0.33"/><circle cx="104.94" cy="217.7" r="0.33"/><circle cx="79.13" cy="232.87" r="0.33"/><circle cx="87.67" cy="209.2" r="0.33"/><circle cx="61.23" cy="211.99" r="0.33"/><circle cx="93.47" cy="217.52" r="0.33"/><circle cx="72.17" cy="231.56" r="0.33"/><circle cx="70.2" cy="211.12" r="0.33"/><circle cx="73.42" cy="219.12" r="0.33"/><circle cx="92.7" cy="218.94" r="0.33"/><circle cx="67.97" cy="219.68" r="0.33"/><circle cx="78.17" cy="237.3" r="0.33"/><circle cx="82.69" cy="211.58" r="0.33"/><circle cx="56.03" cy="222.69" r="0.33"/><circle cx="84.2" cy="211.64" r="0.33"/><circle cx="90.85" cy="214.04" r="0.33"/><circle cx="101.07" cy="213.38" r="0.33"/><circle cx="74.65" cy="207.32" r="0.33"/><circle cx="65.16" cy="232.05" r="0.33"/><circle cx="70.18" cy="222.6" r="0.33"/><circle cx="97.28" cy="218.08" r="0.33"/><circle cx="90.17" cy="214.26" r="0.33"/><circle cx="94.49" cy="224.03" r="0.33"/><circle cx="101.02" cy="227.41" r="0.33"/><circle cx="82.86" cy="229.02" r="0.33"/><circle cx="80.28" cy="218.48" r="0.33"/><circle cx="84.71" cy="225.54" r="0.33"/><circle cx="96.05" cy="226.92" r="0.33"/><circle cx="96.44" cy="223.71" r="0.33"/><circle cx="95.05" cy="219.94" r="0.33"/><circle cx="91.57" cy="219.25" r="0.33"/><circle cx="104.43" cy="234.99" r="0.33"/><circle cx="57.75" cy="220.85" r="0.33"/><circle cx="97.57" cy="223.49" r="0.33"/><circle cx="103.1" cy="233.72" r="0.33"/><circle cx="91.06" cy="225.96" r="0.33"/><circle cx="101.38" cy="226.6" r="0.33"/><circle cx="62.82" cy="213.85" r="0.33"/><circle cx="63.39" cy="215.04" r="0.33"/><circle cx="86.54" cy="225.15" r="0.33"/><circle cx="74.34" cy="222.16" r="0.33"/><circle cx="58.91" cy="232.02" r="0.33"/><circle cx="92.57" cy="225.17" r="0.33"/><circle cx="99.4" cy="227.36" r="0.33"/><circle cx="71.09" cy="228.15" r="0.33"/><circle cx="85.43" cy="199.79" r="0.33"/><circle cx="74.08" cy="222.39" r="0.33"/><circle cx="58.1" cy="219.33" r="0.33"/><circle cx="86.99" cy="216.13" r="0.33"/><circle cx="80.69" cy="230.68" r="0.33"/><circle cx="86.47" cy="214.89" r="0.33"/><circle cx="68.51" cy="214.47" r="0.33"/><circle cx="92.98" cy="218.8" r="0.33"/><circle cx="81.25" cy="225.39" r="0.33"/><circle cx="73.93" cy="225.9" r="0.33"/><circle cx="92.28" cy="227.11" r="0.33"/><circle cx="88.18" cy="233.85" r="0.33"/><circle cx="59.58" cy="219.06" r="0.33"/><circle cx="61.56" cy="217.58" r="0.33"/><circle cx="85.12" cy="222.32" r="0.33"/><circle cx="79.42" cy="239.38" r="0.33"/><circle cx="71.53" cy="221.63" r="0.33"/><circle cx="91.7" cy="218.89" r="0.33"/><circle cx="57.99" cy="233.95" r="0.33"/><circle cx="89.49" cy="239.01" r="0.33"/><circle cx="66.5" cy="239.01" r="0.33"/><circle cx="88.69" cy="237.09" r="0.33"/><circle cx="96.49" cy="229.05" r="0.33"/><circle cx="73.09" cy="230.7" r="0.33"/><circle cx="67.1" cy="214.8" r="0.33"/><circle cx="72.8" cy="231.75" r="0.33"/><circle cx="74.66" cy="232.11" r="0.33"/><circle cx="87.82" cy="233.83" r="0.33"/><circle cx="95.69" cy="204.94" r="0.33"/><circle cx="81.28" cy="228.14" r="0.33"/><circle cx="85.05" cy="207.76" r="0.33"/><circle cx="75.15" cy="214.44" r="0.33"/><circle cx="60.17" cy="226.92" r="0.33"/><circle cx="57.28" cy="222.25" r="0.33"/><circle cx="99.94" cy="205.9" r="0.33"/><circle cx="55.32" cy="222.81" r="0.33"/><circle cx="78.9" cy="230.63" r="0.33"/><circle cx="76.82" cy="213.01" r="0.33"/><circle cx="78.67" cy="225.23" r="0.33"/><circle cx="63.28" cy="224.06" r="0.33"/><circle cx="74.11" cy="207.04" r="0.33"/><circle cx="62.94" cy="233.21" r="0.33"/><circle cx="68.05" cy="220.08" r="0.33"/><circle cx="69.71" cy="226.26" r="0.33"/><circle cx="67.11" cy="218.72" r="0.33"/><circle cx="101.71" cy="221.26" r="0.33"/><circle cx="73.82" cy="233.7" r="0.33"/><circle cx="89.13" cy="215.78" r="0.33"/><circle cx="78.98" cy="225.25" r="0.33"/><circle cx="88.86" cy="219.48" r="0.33"/><circle cx="69.91" cy="214.35" r="0.33"/><circle cx="63.49" cy="208.06" r="0.33"/><circle cx="65.39" cy="227.43" r="0.33"/><circle cx="59.23" cy="222.02" r="0.33"/><circle cx="75.43" cy="229.45" r="0.33"/><circle cx="70.95" cy="219.59" r="0.33"/><circle cx="78.8" cy="217.98" r="0.33"/><circle cx="91.34" cy="235.3" r="0.33"/><circle cx="63.5" cy="221.8" r="0.33"/><circle cx="102.51" cy="234.42" r="0.33"/><circle cx="87.72" cy="198.79" r="0.33"/><circle cx="55.61" cy="231.34" r="0.33"/><circle cx="58.36" cy="222.69" r="0.33"/><circle cx="57.56" cy="211.91" r="0.33"/><circle cx="82.83" cy="231.86" r="0.33"/><circle cx="72.87" cy="220.29" r="0.33"/><circle cx="60.01" cy="238.37" r="0.33"/><circle cx="79.96" cy="229.34" r="0.33"/><circle cx="102.27" cy="227.34" r="0.33"/><circle cx="57.83" cy="223.23" r="0.33"/><circle cx="75.25" cy="227.42" r="0.33"/><circle cx="75.76" cy="223.55" r="0.33"/><circle cx="70.66" cy="223.36" r="0.33"/><circle cx="104.08" cy="221.79" r="0.33"/><circle cx="64.31" cy="211.88" r="0.33"/><circle cx="81.97" cy="220.51" r="0.33"/><circle cx="59.53" cy="219.32" r="0.33"/><circle cx="82.51" cy="224.96" r="0.33"/><circle cx="101.55" cy="206.53" r="0.33"/><circle cx="66.06" cy="210.73" r="0.33"/><circle cx="56.17" cy="210.93" r="0.33"/><circle cx="83.99" cy="218.44" r="0.33"/><circle cx="74.21" cy="210.77" r="0.33"/><circle cx="101.13" cy="210.76" r="0.33"/><circle cx="70.74" cy="205.01" r="0.33"/><circle cx="66.54" cy="226.3" r="0.33"/><circle cx="61.11" cy="219.54" r="0.33"/><circle cx="94.07" cy="224.57" r="0.33"/><circle cx="96.44" cy="219.17" r="0.33"/><circle cx="59.42" cy="225.38" r="0.33"/><circle cx="67.59" cy="229.22" r="0.33"/><circle cx="84.26" cy="225.81" r="0.33"/><circle cx="67.62" cy="233.95" r="0.33"/><circle cx="57.71" cy="226.26" r="0.33"/><circle cx="65.33" cy="219.05" r="0.33"/><circle cx="60.25" cy="229.49" r="0.33"/><circle cx="76.41" cy="215.12" r="0.33"/><circle cx="83.22" cy="234.84" r="0.33"/><circle cx="100.28" cy="212.39" r="0.33"/><circle cx="84.15" cy="208.48" r="0.33"/><circle cx="77.5" cy="226.35" r="0.33"/><circle cx="103.23" cy="209" r="0.33"/><circle cx="91.85" cy="218.85" r="0.33"/><circle cx="96.07" cy="214.23" r="0.33"/><circle cx="74.5" cy="223.27" r="0.33"/><circle cx="63.8" cy="223.43" r="0.33"/><circle cx="68.48" cy="217.69" r="0.33"/><circle cx="58.49" cy="214.41" r="0.33"/><circle cx="93.64" cy="219.01" r="0.33"/><circle cx="57.84" cy="220.25" r="0.33"/><circle cx="61.83" cy="209.88" r="0.33"/><circle cx="102.95" cy="234.95" r="0.33"/><circle cx="86.02" cy="222.13" r="0.33"/><circle cx="73.49" cy="230.46" r="0.33"/><circle cx="71.88" cy="232.89" r="0.33"/><circle cx="96.81" cy="221.93" r="0.33"/><circle cx="91.79" cy="230.14" r="0.33"/><circle cx="63.89" cy="227.24" r="0.33"/><circle cx="90.91" cy="200.95" r="0.33"/><circle cx="95.2" cy="228.05" r="0.33"/><circle cx="61.23" cy="212.83" r="0.33"/><circle cx="78.44" cy="239.23" r="0.33"/><circle cx="77.09" cy="206.66" r="0.33"/><circle cx="102.3" cy="226.53" r="0.33"/><circle cx="82.04" cy="232.9" r="0.33"/><circle cx="60.5" cy="218.7" r="0.33"/><circle cx="96.18" cy="218.42" r="0.33"/><circle cx="104.4" cy="222.43" r="0.33"/><circle cx="56.95" cy="211.86" r="0.33"/><circle cx="99.57" cy="216.2" r="0.33"/><circle cx="75.01" cy="222.55" r="0.33"/><circle cx="65.4" cy="228.08" r="0.33"/><circle cx="83.53" cy="211.65" r="0.33"/><circle cx="67.43" cy="232.74" r="0.33"/><circle cx="72.96" cy="221.28" r="0.33"/><circle cx="97.48" cy="246.58" r="0.33"/><circle cx="97.96" cy="214.29" r="0.33"/><circle cx="62.48" cy="214.84" r="0.33"/><circle cx="97.05" cy="218.51" r="0.33"/><circle cx="63.81" cy="221.15" r="0.33"/><circle cx="60.26" cy="217.1" r="0.33"/><circle cx="65.31" cy="202.08" r="0.33"/><circle cx="95.31" cy="214.88" r="0.33"/><circle cx="98.63" cy="233.19" r="0.33"/><circle cx="86.58" cy="223.72" r="0.33"/><circle cx="55.81" cy="212.69" r="0.33"/><circle cx="80.99" cy="216.08" r="0.33"/><circle cx="74.83" cy="218.02" r="0.33"/><circle cx="71.23" cy="228.67" r="0.33"/><circle cx="74.52" cy="222.32" r="0.33"/><circle cx="79.2" cy="218.38" r="0.33"/><circle cx="104.62" cy="212.3" r="0.33"/><circle cx="96.24" cy="233.28" r="0.33"/><circle cx="88.94" cy="214.64" r="0.33"/><circle cx="82.24" cy="223.57" r="0.33"/><circle cx="85.1" cy="212.85" r="0.33"/><circle cx="89.41" cy="213.71" r="0.33"/><circle cx="59.2" cy="219.98" r="0.33"/><circle cx="59.68" cy="213.68" r="0.33"/><circle cx="93.43" cy="230.33" r="0.33"/><circle cx="91.17" cy="213.77" r="0.33"/><circle cx="69.08" cy="240.41" r="0.33"/><circle cx="91.25" cy="234.54" r="0.33"/><circle cx="88.93" cy="227.59" r="0.33"/><circle cx="103.34" cy="231.96" r="0.33"/><circle cx="97.38" cy="212.73" r="0.33"/><circle cx="92.38" cy="216.28" r="0.33"/><circle cx="81.24" cy="217.05" r="0.33"/><circle cx="100.29" cy="222.67" r="0.33"/><circle cx="82.61" cy="245.34" r="0.33"/><circle cx="75.05" cy="229.95" r="0.33"/><circle cx="64.24" cy="221.17" r="0.33"/><circle cx="88.09" cy="236.95" r="0.33"/><circle cx="86.1" cy="209.34" r="0.33"/><circle cx="74.71" cy="231.66" r="0.33"/><circle cx="83.08" cy="229.69" r="0.33"/><circle cx="91.21" cy="207.8" r="0.33"/><circle cx="65.98" cy="234.36" r="0.33"/><circle cx="70.64" cy="219.61" r="0.33"/><circle cx="100.34" cy="233.48" r="0.33"/><circle cx="63.7" cy="210.69" r="0.33"/><circle cx="66.58" cy="209.63" r="0.33"/><circle cx="58.45" cy="205.48" r="0.33"/><circle cx="99.4" cy="214.18" r="0.33"/><circle cx="91.85" cy="212.79" r="0.33"/><circle cx="81.84" cy="225.73" r="0.33"/><circle cx="100.72" cy="218.64" r="0.33"/><circle cx="85.69" cy="227.92" r="0.33"/><circle cx="103.82" cy="221.86" r="0.33"/><circle cx="61.1" cy="223.07" r="0.33"/><circle cx="83.54" cy="216.43" r="0.33"/><circle cx="64.85" cy="217.53" r="0.33"/><circle cx="85.14" cy="212.65" r="0.33"/><circle cx="91.89" cy="210.04" r="0.33"/><circle cx="58.38" cy="204" r="0.33"/><circle cx="103.35" cy="222.64" r="0.33"/><circle cx="71.29" cy="228.64" r="0.33"/><circle cx="101.82" cy="210.53" r="0.33"/><circle cx="66.8" cy="215.34" r="0.33"/><circle cx="79.23" cy="204.7" r="0.33"/><circle cx="60.36" cy="222.83" r="0.33"/><circle cx="59.96" cy="225.93" r="0.33"/><circle cx="62.93" cy="217.83" r="0.33"/><circle cx="93.35" cy="218.18" r="0.33"/><circle cx="92.26" cy="227.58" r="0.33"/><circle cx="91.1" cy="206.15" r="0.33"/><circle cx="101.69" cy="233.15" r="0.33"/><circle cx="103.75" cy="217.63" r="0.33"/><circle cx="60.49" cy="223.62" r="0.33"/><circle cx="65.66" cy="222.98" r="0.33"/><circle cx="74.1" cy="207.86" r="0.33"/><circle cx="92.6" cy="224.49" r="0.33"/><circle cx="59.51" cy="211.75" r="0.33"/><circle cx="74.13" cy="227.44" r="0.33"/><circle cx="61.2" cy="213.86" r="0.33"/><circle cx="89.62" cy="216.01" r="0.33"/><circle cx="80.17" cy="242.09" r="0.33"/><circle cx="58.92" cy="215.97" r="0.33"/><circle cx="93.44" cy="219.65" r="0.33"/><circle cx="61.17" cy="213.58" r="0.33"/><circle cx="79.35" cy="212.04" r="0.33"/><circle cx="101.4" cy="232.68" r="0.33"/><circle cx="74.48" cy="218.33" r="0.33"/><circle cx="90.28" cy="231.24" r="0.33"/><circle cx="94.91" cy="214.3" r="0.33"/><circle cx="72.21" cy="217.55" r="0.33"/><circle cx="97.87" cy="218.13" r="0.33"/><circle cx="76.42" cy="220.65" r="0.33"/><circle cx="67.24" cy="219.23" r="0.33"/><circle cx="68.91" cy="217.96" r="0.33"/><circle cx="60.12" cy="195.25" r="0.33"/><circle cx="82.48" cy="224.66" r="0.33"/><circle cx="74.69" cy="224.61" r="0.33"/><circle cx="73.16" cy="219.41" r="0.33"/><circle cx="103.59" cy="232.22" r="0.33"/><circle cx="99.05" cy="222.33" r="0.33"/><circle cx="95.57" cy="221.96" r="0.33"/><circle cx="99.27" cy="228.64" r="0.33"/><circle cx="100.62" cy="225.98" r="0.33"/><circle cx="105.24" cy="223.38" r="0.33"/><circle cx="99.87" cy="219.51" r="0.33"/><circle cx="98.22" cy="222.45" r="0.33"/><circle cx="105.04" cy="219.25" r="0.33"/><circle cx="95.94" cy="215.41" r="0.33"/><circle cx="99.37" cy="223.14" r="0.33"/><circle cx="101.39" cy="215.69" r="0.33"/><circle cx="104.51" cy="216.78" r="0.33"/><circle cx="95.76" cy="215.26" r="0.33"/><circle cx="95.64" cy="222.76" r="0.33"/><circle cx="104.23" cy="215.85" r="0.33"/><circle cx="103.74" cy="227.04" r="0.33"/><circle cx="105.49" cy="219.03" r="0.33"/><circle cx="103.04" cy="224.64" r="0.33"/><circle cx="103.29" cy="219.86" r="0.33"/><circle cx="99.66" cy="240.95" r="0.33"/><circle cx="97.59" cy="218.64" r="0.33"/><circle cx="99.66" cy="221.11" r="0.33"/><circle cx="98.29" cy="228.7" r="0.33"/><circle cx="102.13" cy="224.61" r="0.33"/><circle cx="100.02" cy="224.56" r="0.33"/><circle cx="96.15" cy="212.6" r="0.33"/><circle cx="104.34" cy="230.7" r="0.33"/><circle cx="97.38" cy="233.19" r="0.33"/><circle cx="105.1" cy="223.31" r="0.33"/><circle cx="101.45" cy="224.89" r="0.33"/><circle cx="104.69" cy="225.33" r="0.33"/><circle cx="104.87" cy="225.76" r="0.33"/><circle cx="99.73" cy="222.74" r="0.33"/><circle cx="98.09" cy="222.14" r="0.33"/><circle cx="103.23" cy="216.2" r="0.33"/><circle cx="96.93" cy="205.81" r="0.33"/><circle cx="102.49" cy="220.13" r="0.33"/><circle cx="96.31" cy="228.61" r="0.33"/><circle cx="99.19" cy="227.53" r="0.33"/><circle cx="99.12" cy="214.16" r="0.33"/><circle cx="105.16" cy="223.11" r="0.33"/><circle cx="97.83" cy="217.74" r="0.33"/><circle cx="100.91" cy="220.04" r="0.33"/><circle cx="102.79" cy="226.59" r="0.33"/><circle cx="102.53" cy="227.12" r="0.33"/><circle cx="95.48" cy="222.83" r="0.33"/><circle cx="100.49" cy="215.8" r="0.33"/><circle cx="101.57" cy="222.54" r="0.33"/><circle cx="100.46" cy="220.04" r="0.33"/><circle cx="95.79" cy="217.84" r="0.33"/><circle cx="95.62" cy="225.64" r="0.33"/><circle cx="98.41" cy="213.68" r="0.33"/><circle cx="104.74" cy="224.7" r="0.33"/><circle cx="99.14" cy="212.69" r="0.33"/><circle cx="104.87" cy="220.22" r="0.33"/><circle cx="104.99" cy="227.07" r="0.33"/><circle cx="97.08" cy="221.62" r="0.33"/><circle cx="104.81" cy="227.79" r="0.33"/><circle cx="102.84" cy="225.06" r="0.33"/><circle cx="100.74" cy="211.56" r="0.33"/><circle cx="98.42" cy="230.78" r="0.33"/><circle cx="100.97" cy="223.57" r="0.33"/><circle cx="98.94" cy="219.13" r="0.33"/><circle cx="100.39" cy="218.26" r="0.33"/><circle cx="99.98" cy="220.35" r="0.33"/><circle cx="96" cy="226.67" r="0.33"/><circle cx="96.85" cy="224.88" r="0.33"/><circle cx="105.17" cy="221.6" r="0.33"/><circle cx="103.32" cy="226.8" r="0.33"/><circle cx="102.89" cy="221.14" r="0.33"/><circle cx="101.72" cy="233.25" r="0.33"/><circle cx="99.32" cy="218.89" r="0.33"/><circle cx="98.06" cy="218.74" r="0.33"/><circle cx="104.25" cy="210.14" r="0.33"/><circle cx="97.19" cy="226.81" r="0.33"/><circle cx="96.79" cy="231.32" r="0.33"/><circle cx="101.07" cy="225.16" r="0.33"/><circle cx="95.5" cy="232.77" r="0.33"/><circle cx="100.39" cy="225.01" r="0.33"/><circle cx="65.41" cy="218.02" r="0.33"/><circle cx="64.36" cy="210.48" r="0.33"/><circle cx="64.25" cy="218.39" r="0.33"/><circle cx="61.38" cy="212.14" r="0.33"/><circle cx="66.1" cy="209.62" r="0.33"/><circle cx="64.5" cy="219.54" r="0.33"/><circle cx="65.71" cy="215.96" r="0.33"/><circle cx="65.43" cy="218.98" r="0.33"/><circle cx="68.13" cy="209.71" r="0.33"/><circle cx="62.29" cy="218.89" r="0.33"/><circle cx="65.63" cy="220.67" r="0.33"/><circle cx="63.8" cy="212.74" r="0.33"/><circle cx="64.86" cy="220.73" r="0.33"/><circle cx="65.04" cy="216.85" r="0.33"/><circle cx="67.28" cy="211.09" r="0.33"/><circle cx="63.22" cy="212.06" r="0.33"/><circle cx="64.37" cy="211.88" r="0.33"/><circle cx="71.18" cy="210.01" r="0.33"/><circle cx="64.26" cy="215.4" r="0.33"/><circle cx="65.74" cy="218.55" r="0.33"/><circle cx="63.96" cy="210.82" r="0.33"/><circle cx="63.59" cy="216.46" r="0.33"/><circle cx="63.81" cy="217.77" r="0.33"/><circle cx="62.29" cy="223.19" r="0.33"/><circle cx="66.16" cy="216.5" r="0.33"/><circle cx="66.52" cy="217.18" r="0.33"/><circle cx="67.58" cy="219.2" r="0.33"/><circle cx="62.96" cy="215.31" r="0.33"/><circle cx="65.96" cy="213.3" r="0.33"/><circle cx="60.07" cy="210.33" r="0.33"/><circle cx="64.76" cy="222.83" r="0.33"/><circle cx="67.34" cy="212.83" r="0.33"/><circle cx="62.34" cy="223.9" r="0.33"/><circle cx="62.2" cy="210.46" r="0.33"/><circle cx="65.19" cy="210.25" r="0.33"/><circle cx="62.56" cy="218.71" r="0.33"/><circle cx="66.82" cy="209.4" r="0.33"/><circle cx="62.05" cy="224.15" r="0.33"/><circle cx="62.14" cy="220.18" r="0.33"/><circle cx="67.36" cy="212.77" r="0.33"/><circle cx="62.95" cy="210.13" r="0.33"/><circle cx="66.17" cy="209.63" r="0.33"/><circle cx="64.35" cy="222.51" r="0.33"/><circle cx="62.28" cy="209.6" r="0.33"/><circle cx="64.38" cy="223.69" r="0.33"/><circle cx="66.45" cy="221.25" r="0.33"/><circle cx="67.36" cy="210.27" r="0.33"/><circle cx="63.03" cy="215.26" r="0.33"/><circle cx="64.99" cy="217.64" r="0.33"/><circle cx="65.5" cy="213.24" r="0.33"/><circle cx="67.32" cy="223.53" r="0.33"/><circle cx="66.85" cy="223.74" r="0.33"/><circle cx="63.72" cy="220.9" r="0.33"/><circle cx="65.16" cy="210.44" r="0.33"/><circle cx="63.84" cy="224.4" r="0.33"/><circle cx="64.65" cy="217.28" r="0.33"/><circle cx="62.99" cy="217.41" r="0.33"/><circle cx="65.69" cy="224.17" r="0.33"/><circle cx="63.3" cy="216.83" r="0.33"/><circle cx="65.68" cy="223.29" r="0.33"/><circle cx="62.19" cy="223.3" r="0.33"/><circle cx="67.39" cy="213.81" r="0.33"/><circle cx="66.09" cy="210.83" r="0.33"/><circle cx="61.94" cy="209.46" r="0.33"/><circle cx="67.6" cy="215.69" r="0.33"/><circle cx="63.81" cy="223.28" r="0.33"/><circle cx="62.16" cy="213.15" r="0.33"/><circle cx="63.53" cy="220.51" r="0.33"/><circle cx="64.79" cy="220.74" r="0.33"/><circle cx="67.83" cy="218.28" r="0.33"/><circle cx="66.06" cy="219.72" r="0.33"/><circle cx="66.21" cy="220.26" r="0.33"/><circle cx="72.1" cy="210.73" r="0.33"/><circle cx="70.31" cy="211.28" r="0.33"/><circle cx="67.29" cy="218.51" r="0.33"/><circle cx="66.41" cy="222.32" r="0.33"/><circle cx="66.99" cy="210.28" r="0.33"/><circle cx="68.34" cy="217.89" r="0.33"/><circle cx="64.87" cy="209.44" r="0.33"/><circle cx="67.34" cy="220.13" r="0.33"/><circle cx="68.08" cy="213.98" r="0.33"/><circle cx="67.97" cy="218.07" r="0.33"/><circle cx="62.97" cy="222.58" r="0.33"/><circle cx="62.59" cy="223.31" r="0.33"/><circle cx="64.43" cy="222.63" r="0.33"/><circle cx="67.2" cy="210.73" r="0.33"/><circle cx="62.54" cy="224.22" r="0.33"/><circle cx="66.2" cy="210.65" r="0.33"/><circle cx="62.44" cy="220.25" r="0.33"/><circle cx="61.28" cy="208.62" r="0.33"/><circle cx="67.01" cy="222.25" r="0.33"/><circle cx="64.12" cy="219.18" r="0.33"/><circle cx="60.54" cy="219.41" r="0.33"/><circle cx="67.27" cy="214.04" r="0.33"/><circle cx="64.55" cy="219.98" r="0.33"/><circle cx="61.84" cy="218.43" r="0.33"/><circle cx="65.34" cy="216.51" r="0.33"/><circle cx="63.43" cy="208.62" r="0.33"/><circle cx="66.03" cy="221.99" r="0.33"/><circle cx="60.58" cy="209.29" r="0.33"/><circle cx="62.01" cy="210.51" r="0.33"/><circle cx="64.25" cy="211.84" r="0.33"/><circle cx="69.92" cy="212.41" r="0.33"/><circle cx="64.08" cy="221.87" r="0.33"/><circle cx="63.41" cy="218.92" r="0.33"/><circle cx="62.82" cy="212.26" r="0.33"/><circle cx="64.84" cy="219.11" r="0.33"/><circle cx="65.27" cy="217.9" r="0.33"/><circle cx="64.77" cy="215.56" r="0.33"/><circle cx="61.82" cy="213.5" r="0.33"/><circle cx="64.67" cy="218.15" r="0.33"/><circle cx="62.4" cy="220.72" r="0.33"/><circle cx="61.18" cy="209.58" r="0.33"/><circle cx="66.25" cy="212.77" r="0.33"/><circle cx="65.69" cy="209.51" r="0.33"/><circle cx="63.66" cy="208.83" r="0.33"/><circle cx="65.02" cy="215.93" r="0.33"/><circle cx="63.67" cy="215.61" r="0.33"/><circle cx="65.87" cy="216.95" r="0.33"/><circle cx="62.1" cy="209" r="0.33"/></g>
<path d="M68.6,220.8 C73.6,219.6 79,218.2 84,218.5 L82.5,230.5 C77.5,231.5 73.6,234.7 68.6,235.2 Z" fill="#d6d6d6" fill-opacity="0.6" stroke="#777" stroke-width="0.65"/>
<path d="M68.6,226.27 C73.6,225.47 78.25,223.3 83.25,223.3" fill="none" stroke="#888" stroke-width="0.55"/>
<path d="M68.6,230.88 C73.6,230.08 78.25,227.5 83.25,227.5" fill="none" stroke="#aaa" stroke-width="0.5"/>
<ellipse cx="90" cy="222.6" rx="7" ry="3.6" fill="#e4e4e4" fill-opacity="0.5" stroke="#555" stroke-width="0.6" transform="rotate(-15 90 222.6)"/>
<ellipse cx="90" cy="222.6" rx="5.04" ry="2.59" fill="#e4e4e4" fill-opacity="0.35" stroke="#707070" stroke-width="0.6" transform="rotate(-15 90 222.6)"/>
<ellipse cx="90" cy="222.6" rx="3.15" ry="1.62" fill="#e4e4e4" fill-opacity="0.25" stroke="#8a8a8a" stroke-width="0.6" transform="rotate(-15 90 222.6)"/>
<ellipse cx="64.9" cy="229.6" rx="4.3" ry="9" fill="rgb(218,218,218)" stroke="rgb(60,60,60)" stroke-width="1.0" transform="rotate(12 64.9 229.6)"/>
<ellipse cx="64.9" cy="229.6" rx="3.74" ry="7.83" fill="rgb(210,210,210)" stroke="rgb(145,145,145)" stroke-width="0.45" transform="rotate(12 64.9 229.6)"/>
<ellipse cx="64.9" cy="229.6" rx="3.18" ry="6.66" fill="rgb(202,202,202)" stroke="rgb(140,140,140)" stroke-width="0.45" transform="rotate(12 64.9 229.6)"/>
<ellipse cx="64.9" cy="229.6" rx="2.62" ry="5.49" fill="rgb(194,194,194)" stroke="rgb(136,136,136)" stroke-width="0.45" transform="rotate(12 64.9 229.6)"/>
<ellipse cx="64.9" cy="229.6" rx="2.06" ry="4.32" fill="rgb(186,186,186)" stroke="rgb(131,131,131)" stroke-width="0.45" transform="rotate(12 64.9 229.6)"/>
<ellipse cx="64.9" cy="229.6" rx="1.5" ry="3.15" fill="rgb(178,178,178)" stroke="rgb(127,127,127)" stroke-width="0.45" transform="rotate(12 64.9 229.6)"/>
<ellipse cx="64.9" cy="229.6" rx="0.95" ry="1.98" fill="rgb(171,171,171)" stroke="rgb(122,122,122)" stroke-width="0.45" transform="rotate(12 64.9 229.6)"/>
<rect x="52.3" y="203.5" width="16.2" height="30.1" fill="none" stroke="#7a7a7a" stroke-width="0.8" />
<rect x="52.3" y="233.6" width="16.2" height="19.8" fill="none" stroke="#7a7a7a" stroke-width="0.8" />
<rect x="68.5" y="203.5" width="13.2" height="32.7" fill="none" stroke="#7a7a7a" stroke-width="0.8" />
<rect x="81.7" y="203.5" width="14.7" height="32.7" fill="none" stroke="#7a7a7a" stroke-width="0.8" />
<text x="54" y="202.2" font-size="5.3" fill="#333" style="stroke:#333;stroke-width:0.1px">G1 :</text>
<text x="54.8" y="208.3" font-size="5.3" fill="#333" style="stroke:#333;stroke-width:0.1px">42%</text>
<text x="81.7" y="202.2" font-size="5.3" fill="#333" style="stroke:#333;stroke-width:0.1px">G2/M :</text>
<text x="89.05" y="208.3" font-size="5.3" text-anchor="middle" fill="#333" style="stroke:#333;stroke-width:0.1px">16%</text>
<text x="70.1" y="242.9" font-size="5.3" fill="#333" style="stroke:#333;stroke-width:0.1px">S : 21%</text>
<text x="52.7" y="244.6" font-size="5.3" fill="#333" style="stroke:#333;stroke-width:0.1px">G0 :</text>
<text x="52.7" y="251.5" font-size="5.3" fill="#333" style="stroke:#333;stroke-width:0.1px">20%</text>
<rect x="44.75" y="191.8" width="62" height="63.5" fill="none" stroke="#a3102f" stroke-width="1.5" />
<line x1="43.2" y1="199.8" x2="44" y2="199.8" stroke="#666" stroke-width="0.5" />
<line x1="43.2" y1="220.2" x2="44" y2="220.2" stroke="#666" stroke-width="0.5" />
<line x1="43.2" y1="229.4" x2="44" y2="229.4" stroke="#666" stroke-width="0.5" />
<text x="144.2" y="187.3" font-size="8.2" text-anchor="middle" fill="#000" >3,5%</text>
<g fill="#777" fill-opacity="0.5"><circle cx="163.56" cy="222.37" r="0.33"/><circle cx="165.56" cy="208.5" r="0.33"/><circle cx="154.41" cy="217.28" r="0.33"/><circle cx="154.58" cy="203.84" r="0.33"/><circle cx="124.42" cy="241.33" r="0.33"/><circle cx="133.57" cy="202.97" r="0.33"/><circle cx="126.74" cy="218.79" r="0.33"/><circle cx="142.05" cy="224.49" r="0.33"/><circle cx="127.9" cy="221.14" r="0.33"/><circle cx="145.05" cy="221.72" r="0.33"/><circle cx="138.55" cy="219.81" r="0.33"/><circle cx="131.78" cy="212.15" r="0.33"/><circle cx="171.55" cy="231.84" r="0.33"/><circle cx="134.36" cy="212.53" r="0.33"/><circle cx="143.73" cy="212.21" r="0.33"/><circle cx="124.73" cy="223.8" r="0.33"/><circle cx="146.41" cy="222.53" r="0.33"/><circle cx="166.84" cy="207.25" r="0.33"/><circle cx="157.89" cy="222.46" r="0.33"/><circle cx="169.72" cy="202.85" r="0.33"/><circle cx="163.45" cy="209.58" r="0.33"/><circle cx="156.64" cy="227.65" r="0.33"/><circle cx="167.98" cy="218.79" r="0.33"/><circle cx="133.03" cy="211.51" r="0.33"/><circle cx="139.94" cy="220.97" r="0.33"/><circle cx="162.25" cy="234.62" r="0.33"/><circle cx="133.1" cy="204.14" r="0.33"/><circle cx="141.86" cy="217.4" r="0.33"/><circle cx="128.18" cy="214.27" r="0.33"/><circle cx="130.67" cy="215.74" r="0.33"/><circle cx="137.95" cy="226.11" r="0.33"/><circle cx="144.88" cy="221.22" r="0.33"/><circle cx="128.7" cy="232.36" r="0.33"/><circle cx="171.77" cy="221.43" r="0.33"/><circle cx="165.52" cy="211.58" r="0.33"/><circle cx="127.43" cy="239.16" r="0.33"/><circle cx="131" cy="224.12" r="0.33"/><circle cx="153.79" cy="221.13" r="0.33"/><circle cx="161.63" cy="204.93" r="0.33"/><circle cx="146.19" cy="223.27" r="0.33"/><circle cx="169.8" cy="212.31" r="0.33"/><circle cx="132.02" cy="213.99" r="0.33"/><circle cx="144.94" cy="205.42" r="0.33"/><circle cx="135" cy="227.13" r="0.33"/><circle cx="138.28" cy="222.4" r="0.33"/><circle cx="150.52" cy="217.85" r="0.33"/><circle cx="134.49" cy="214.86" r="0.33"/><circle cx="128.16" cy="210.59" r="0.33"/><circle cx="160.28" cy="214.39" r="0.33"/><circle cx="166.66" cy="225.35" r="0.33"/><circle cx="162.73" cy="216.05" r="0.33"/><circle cx="129.64" cy="233.61" r="0.33"/><circle cx="149.6" cy="232.19" r="0.33"/><circle cx="169.66" cy="227.38" r="0.33"/><circle cx="155.53" cy="231.45" r="0.33"/><circle cx="147.11" cy="223.73" r="0.33"/><circle cx="145.77" cy="225.23" r="0.33"/><circle cx="146.1" cy="226.91" r="0.33"/><circle cx="126.99" cy="217.92" r="0.33"/><circle cx="138.06" cy="215.02" r="0.33"/><circle cx="127.99" cy="214.24" r="0.33"/><circle cx="138.14" cy="240.69" r="0.33"/><circle cx="128.25" cy="208.73" r="0.33"/><circle cx="127.84" cy="238.87" r="0.33"/><circle cx="140.69" cy="224.47" r="0.33"/><circle cx="146.71" cy="234.17" r="0.33"/><circle cx="128.36" cy="226.2" r="0.33"/><circle cx="158.05" cy="214.89" r="0.33"/><circle cx="146.27" cy="223.16" r="0.33"/><circle cx="134.92" cy="218.75" r="0.33"/><circle cx="137.82" cy="219.5" r="0.33"/><circle cx="148.77" cy="237.65" r="0.33"/><circle cx="140.91" cy="203.61" r="0.33"/><circle cx="152.17" cy="220.25" r="0.33"/><circle cx="146.2" cy="214.13" r="0.33"/><circle cx="143.88" cy="210.63" r="0.33"/><circle cx="144.93" cy="227.55" r="0.33"/><circle cx="167.79" cy="228.13" r="0.33"/><circle cx="138.85" cy="212.89" r="0.33"/><circle cx="153.22" cy="230.17" r="0.33"/><circle cx="132.26" cy="207.19" r="0.33"/><circle cx="125.49" cy="225.88" r="0.33"/><circle cx="128.89" cy="221.66" r="0.33"/><circle cx="126.81" cy="201.47" r="0.33"/><circle cx="127.51" cy="215.84" r="0.33"/><circle cx="156.55" cy="215.74" r="0.33"/><circle cx="125.13" cy="215.85" r="0.33"/><circle cx="140.18" cy="222.44" r="0.33"/><circle cx="158.42" cy="203.4" r="0.33"/><circle cx="165.91" cy="219.89" r="0.33"/><circle cx="154.68" cy="224.23" r="0.33"/><circle cx="147.36" cy="216.4" r="0.33"/><circle cx="139.54" cy="217.91" r="0.33"/><circle cx="168.11" cy="217.91" r="0.33"/><circle cx="142.11" cy="225.53" r="0.33"/><circle cx="170.88" cy="199.95" r="0.33"/><circle cx="143.11" cy="240.09" r="0.33"/><circle cx="129.97" cy="196.99" r="0.33"/><circle cx="161.15" cy="219.58" r="0.33"/><circle cx="137.43" cy="211.14" r="0.33"/><circle cx="132.16" cy="203.27" r="0.33"/><circle cx="143.7" cy="231.99" r="0.33"/><circle cx="136.3" cy="213.94" r="0.33"/><circle cx="154.38" cy="214.42" r="0.33"/><circle cx="146.35" cy="220.45" r="0.33"/><circle cx="164.73" cy="223.36" r="0.33"/><circle cx="156.68" cy="221.42" r="0.33"/><circle cx="152.74" cy="231.58" r="0.33"/><circle cx="148.83" cy="233.7" r="0.33"/><circle cx="138.87" cy="211.89" r="0.33"/><circle cx="140.51" cy="216.91" r="0.33"/><circle cx="170.57" cy="217.54" r="0.33"/><circle cx="125.69" cy="213.81" r="0.33"/><circle cx="149.97" cy="221.02" r="0.33"/><circle cx="125.7" cy="225.36" r="0.33"/><circle cx="163.2" cy="247.69" r="0.33"/><circle cx="134.56" cy="218.78" r="0.33"/><circle cx="129.56" cy="221.63" r="0.33"/><circle cx="133.09" cy="228.74" r="0.33"/><circle cx="135.91" cy="220.23" r="0.33"/><circle cx="126.7" cy="243.74" r="0.33"/><circle cx="160.78" cy="239.78" r="0.33"/><circle cx="169.88" cy="229.06" r="0.33"/><circle cx="136.28" cy="207.5" r="0.33"/><circle cx="131.94" cy="220.59" r="0.33"/><circle cx="132.26" cy="224.28" r="0.33"/><circle cx="159.75" cy="219.7" r="0.33"/><circle cx="138.79" cy="221.07" r="0.33"/><circle cx="166.3" cy="229.62" r="0.33"/><circle cx="160.34" cy="209.28" r="0.33"/><circle cx="169.44" cy="212.72" r="0.33"/><circle cx="152.35" cy="217.89" r="0.33"/><circle cx="137.66" cy="227.8" r="0.33"/><circle cx="146.51" cy="222.59" r="0.33"/><circle cx="129.47" cy="226.93" r="0.33"/><circle cx="141.99" cy="224.29" r="0.33"/><circle cx="171.73" cy="203.92" r="0.33"/><circle cx="160.99" cy="222.4" r="0.33"/><circle cx="153.32" cy="217.06" r="0.33"/><circle cx="139.42" cy="229.08" r="0.33"/><circle cx="155.43" cy="230.76" r="0.33"/><circle cx="138.31" cy="208.43" r="0.33"/><circle cx="130.95" cy="232.91" r="0.33"/><circle cx="134.92" cy="221.67" r="0.33"/><circle cx="123.68" cy="218.92" r="0.33"/><circle cx="133.77" cy="227.14" r="0.33"/><circle cx="156.95" cy="214.68" r="0.33"/><circle cx="160.3" cy="217.3" r="0.33"/><circle cx="133.83" cy="224.98" r="0.33"/><circle cx="153.3" cy="218.85" r="0.33"/><circle cx="159" cy="219.85" r="0.33"/><circle cx="167.41" cy="210.66" r="0.33"/><circle cx="155.17" cy="219.67" r="0.33"/><circle cx="132.83" cy="217.6" r="0.33"/><circle cx="146.92" cy="217.14" r="0.33"/><circle cx="160.86" cy="219.87" r="0.33"/><circle cx="140.9" cy="210.2" r="0.33"/><circle cx="165.76" cy="222.7" r="0.33"/><circle cx="138.66" cy="209.58" r="0.33"/><circle cx="156.5" cy="216.5" r="0.33"/><circle cx="139.17" cy="219.15" r="0.33"/><circle cx="153.75" cy="230.98" r="0.33"/><circle cx="155.96" cy="227.53" r="0.33"/><circle cx="151.69" cy="228.29" r="0.33"/><circle cx="133.23" cy="237.58" r="0.33"/><circle cx="124.45" cy="233.39" r="0.33"/><circle cx="148.58" cy="220.37" r="0.33"/><circle cx="137.03" cy="223.17" r="0.33"/><circle cx="131.55" cy="205.01" r="0.33"/><circle cx="127.41" cy="232.59" r="0.33"/><circle cx="141.16" cy="216.73" r="0.33"/><circle cx="124.45" cy="209.14" r="0.33"/><circle cx="134.95" cy="217.29" r="0.33"/><circle cx="145.73" cy="239.74" r="0.33"/><circle cx="136.41" cy="210.71" r="0.33"/><circle cx="130.95" cy="222.29" r="0.33"/><circle cx="157.09" cy="219.14" r="0.33"/><circle cx="150.54" cy="210.92" r="0.33"/><circle cx="162.31" cy="232.93" r="0.33"/><circle cx="125.64" cy="217.64" r="0.33"/><circle cx="148.91" cy="216.77" r="0.33"/><circle cx="157.96" cy="214.13" r="0.33"/><circle cx="141.97" cy="211.76" r="0.33"/><circle cx="157.24" cy="212.7" r="0.33"/><circle cx="170.14" cy="217.29" r="0.33"/><circle cx="158.96" cy="207.35" r="0.33"/><circle cx="135.04" cy="211.56" r="0.33"/><circle cx="126.48" cy="212.77" r="0.33"/><circle cx="161.49" cy="222.52" r="0.33"/><circle cx="149.85" cy="231.37" r="0.33"/><circle cx="159.87" cy="221.97" r="0.33"/><circle cx="170.85" cy="210.93" r="0.33"/><circle cx="145.77" cy="195.58" r="0.33"/><circle cx="139.75" cy="209.72" r="0.33"/><circle cx="159.46" cy="224.64" r="0.33"/><circle cx="162.65" cy="219.98" r="0.33"/><circle cx="156.32" cy="205.6" r="0.33"/><circle cx="166.83" cy="217.08" r="0.33"/><circle cx="130.8" cy="208.6" r="0.33"/><circle cx="158.69" cy="222.05" r="0.33"/><circle cx="171.8" cy="226.52" r="0.33"/><circle cx="126.66" cy="205.03" r="0.33"/><circle cx="144.93" cy="239.61" r="0.33"/><circle cx="161.58" cy="209.74" r="0.33"/><circle cx="140.25" cy="222.38" r="0.33"/><circle cx="157.11" cy="210" r="0.33"/><circle cx="155.59" cy="230.44" r="0.33"/><circle cx="172.41" cy="210.33" r="0.33"/><circle cx="148.32" cy="207.84" r="0.33"/><circle cx="151.77" cy="221.54" r="0.33"/><circle cx="125.88" cy="228.63" r="0.33"/><circle cx="148.63" cy="219" r="0.33"/><circle cx="125.54" cy="228.57" r="0.33"/><circle cx="137.41" cy="240.25" r="0.33"/><circle cx="138.48" cy="223.54" r="0.33"/><circle cx="157.11" cy="214.81" r="0.33"/><circle cx="152.1" cy="229.15" r="0.33"/><circle cx="140" cy="214.79" r="0.33"/><circle cx="136.48" cy="220.91" r="0.33"/><circle cx="129.43" cy="221.1" r="0.33"/><circle cx="130.91" cy="214.92" r="0.33"/><circle cx="170.97" cy="235.14" r="0.33"/><circle cx="141.29" cy="221.01" r="0.33"/><circle cx="155.16" cy="228.5" r="0.33"/><circle cx="147.57" cy="229.11" r="0.33"/><circle cx="136.98" cy="228.38" r="0.33"/><circle cx="130.67" cy="221.93" r="0.33"/><circle cx="145.59" cy="216.86" r="0.33"/><circle cx="162.08" cy="203.35" r="0.33"/><circle cx="139.42" cy="216.13" r="0.33"/><circle cx="171.19" cy="239.4" r="0.33"/><circle cx="144.82" cy="226.17" r="0.33"/><circle cx="123.56" cy="219.4" r="0.33"/><circle cx="159.57" cy="247.93" r="0.33"/><circle cx="160.63" cy="221.38" r="0.33"/><circle cx="138.9" cy="220.06" r="0.33"/><circle cx="146.92" cy="237.55" r="0.33"/><circle cx="130.95" cy="210.39" r="0.33"/><circle cx="173.26" cy="213.77" r="0.33"/><circle cx="127.58" cy="218.43" r="0.33"/><circle cx="144.95" cy="211.19" r="0.33"/><circle cx="139.08" cy="219.72" r="0.33"/><circle cx="171.26" cy="213.37" r="0.33"/><circle cx="162.67" cy="222.19" r="0.33"/><circle cx="135.74" cy="217.27" r="0.33"/><circle cx="135.42" cy="222.97" r="0.33"/><circle cx="173.75" cy="213.07" r="0.33"/><circle cx="157.4" cy="213.43" r="0.33"/><circle cx="157.35" cy="212.47" r="0.33"/><circle cx="130.84" cy="219.85" r="0.33"/><circle cx="124.89" cy="227.65" r="0.33"/><circle cx="123.92" cy="227.32" r="0.33"/><circle cx="157.47" cy="217.58" r="0.33"/><circle cx="139.24" cy="226.6" r="0.33"/><circle cx="148.29" cy="225.42" r="0.33"/><circle cx="147.79" cy="238.04" r="0.33"/><circle cx="126.87" cy="237.27" r="0.33"/><circle cx="152.6" cy="230.65" r="0.33"/><circle cx="138.11" cy="220.36" r="0.33"/><circle cx="168.29" cy="218.31" r="0.33"/><circle cx="170.69" cy="219.52" r="0.33"/><circle cx="144.9" cy="218.51" r="0.33"/><circle cx="165.66" cy="215.87" r="0.33"/><circle cx="135.24" cy="217.59" r="0.33"/><circle cx="126.62" cy="215.36" r="0.33"/><circle cx="145.9" cy="220.22" r="0.33"/><circle cx="168.63" cy="229.51" r="0.33"/><circle cx="162.99" cy="214.89" r="0.33"/><circle cx="130.17" cy="238.07" r="0.33"/><circle cx="147.78" cy="215.19" r="0.33"/><circle cx="168.14" cy="213.61" r="0.33"/><circle cx="139.7" cy="245.14" r="0.33"/><circle cx="170.08" cy="231.94" r="0.33"/><circle cx="160.11" cy="203.06" r="0.33"/><circle cx="127.1" cy="218.57" r="0.33"/><circle cx="169.29" cy="233.92" r="0.33"/><circle cx="157.79" cy="229.07" r="0.33"/><circle cx="140.83" cy="223.02" r="0.33"/><circle cx="132.05" cy="222.7" r="0.33"/><circle cx="142.23" cy="231.71" r="0.33"/><circle cx="136.89" cy="202.42" r="0.33"/><circle cx="153.54" cy="232.46" r="0.33"/><circle cx="161.37" cy="223.06" r="0.33"/><circle cx="167.86" cy="220.07" r="0.33"/><circle cx="128.2" cy="225.89" r="0.33"/><circle cx="161.42" cy="234.93" r="0.33"/><circle cx="154.45" cy="206.76" r="0.33"/><circle cx="145.01" cy="223.16" r="0.33"/><circle cx="133.22" cy="221.84" r="0.33"/><circle cx="125.25" cy="225.32" r="0.33"/><circle cx="171.47" cy="228.93" r="0.33"/><circle cx="144.23" cy="218.43" r="0.33"/><circle cx="137.48" cy="223.05" r="0.33"/><circle cx="132.01" cy="210.72" r="0.33"/><circle cx="168.05" cy="223.5" r="0.33"/><circle cx="146.59" cy="219.8" r="0.33"/><circle cx="134.56" cy="215.56" r="0.33"/><circle cx="138.44" cy="214.49" r="0.33"/><circle cx="138.67" cy="212.69" r="0.33"/><circle cx="148.03" cy="214.35" r="0.33"/><circle cx="157.77" cy="199.5" r="0.33"/><circle cx="145.55" cy="224.65" r="0.33"/><circle cx="163.38" cy="232.37" r="0.33"/><circle cx="153.16" cy="215.69" r="0.33"/><circle cx="163.28" cy="219.6" r="0.33"/><circle cx="144.45" cy="215.27" r="0.33"/><circle cx="131.32" cy="234.6" r="0.33"/><circle cx="140" cy="222.81" r="0.33"/><circle cx="136.27" cy="222.9" r="0.33"/><circle cx="157.32" cy="221.31" r="0.33"/><circle cx="141.47" cy="208.57" r="0.33"/><circle cx="169.23" cy="226.28" r="0.33"/><circle cx="158.8" cy="226.19" r="0.33"/><circle cx="132.68" cy="247.55" r="0.33"/><circle cx="152.73" cy="216.42" r="0.33"/><circle cx="168.29" cy="215.17" r="0.33"/><circle cx="154.2" cy="219.78" r="0.33"/><circle cx="165.43" cy="216.24" r="0.33"/><circle cx="137.91" cy="210.16" r="0.33"/><circle cx="139.67" cy="211.06" r="0.33"/><circle cx="136.79" cy="208.95" r="0.33"/><circle cx="156.61" cy="242.79" r="0.33"/><circle cx="147.2" cy="208.84" r="0.33"/><circle cx="136.64" cy="216.01" r="0.33"/><circle cx="127.23" cy="230.2" r="0.33"/><circle cx="153.64" cy="228.53" r="0.33"/><circle cx="172.79" cy="208.22" r="0.33"/><circle cx="173.24" cy="208.86" r="0.33"/><circle cx="148.47" cy="212.05" r="0.33"/><circle cx="142.17" cy="225.8" r="0.33"/><circle cx="161.79" cy="216.9" r="0.33"/><circle cx="171.65" cy="218.91" r="0.33"/><circle cx="149.98" cy="220.91" r="0.33"/><circle cx="153.12" cy="209.67" r="0.33"/><circle cx="152.49" cy="224.58" r="0.33"/><circle cx="160.31" cy="224.14" r="0.33"/><circle cx="141.05" cy="232.42" r="0.33"/><circle cx="161.17" cy="232.98" r="0.33"/><circle cx="161.97" cy="217.37" r="0.33"/><circle cx="161.76" cy="224.12" r="0.33"/><circle cx="134.29" cy="214.16" r="0.33"/><circle cx="137.2" cy="208.9" r="0.33"/><circle cx="123.51" cy="207.59" r="0.33"/><circle cx="153.11" cy="212.45" r="0.33"/><circle cx="173.11" cy="222.97" r="0.33"/><circle cx="145.38" cy="235.45" r="0.33"/><circle cx="152.7" cy="218.9" r="0.33"/><circle cx="151.09" cy="227.17" r="0.33"/><circle cx="154.08" cy="231.32" r="0.33"/><circle cx="148.63" cy="214.41" r="0.33"/><circle cx="156.27" cy="214.61" r="0.33"/><circle cx="136.86" cy="214.37" r="0.33"/><circle cx="157.86" cy="219.12" r="0.33"/><circle cx="131.99" cy="222.62" r="0.33"/><circle cx="141.53" cy="215.9" r="0.33"/><circle cx="148.16" cy="208.88" r="0.33"/><circle cx="164.63" cy="217.13" r="0.33"/><circle cx="161.33" cy="228.42" r="0.33"/><circle cx="157.7" cy="204.13" r="0.33"/><circle cx="124.73" cy="229.48" r="0.33"/><circle cx="150.49" cy="232.64" r="0.33"/><circle cx="133.15" cy="206.62" r="0.33"/><circle cx="164.17" cy="200.4" r="0.33"/><circle cx="139.98" cy="216.65" r="0.33"/><circle cx="156.95" cy="203.74" r="0.33"/><circle cx="140.53" cy="199.63" r="0.33"/><circle cx="143.08" cy="230.67" r="0.33"/><circle cx="126.95" cy="230.64" r="0.33"/><circle cx="166.29" cy="224.56" r="0.33"/><circle cx="171.37" cy="225.65" r="0.33"/><circle cx="148.57" cy="221.25" r="0.33"/><circle cx="135.65" cy="212.72" r="0.33"/><circle cx="142.01" cy="226.84" r="0.33"/><circle cx="169.1" cy="220.37" r="0.33"/><circle cx="167.98" cy="218.01" r="0.33"/><circle cx="160.29" cy="214.59" r="0.33"/><circle cx="169.1" cy="215.71" r="0.33"/><circle cx="154.2" cy="217.5" r="0.33"/><circle cx="171.7" cy="216.69" r="0.33"/><circle cx="133.62" cy="218.24" r="0.33"/><circle cx="155.23" cy="221.44" r="0.33"/><circle cx="142.29" cy="221.14" r="0.33"/><circle cx="136.4" cy="217.49" r="0.33"/><circle cx="151.66" cy="221.14" r="0.33"/><circle cx="157.52" cy="216.14" r="0.33"/><circle cx="150.02" cy="231.84" r="0.33"/><circle cx="163.25" cy="209.61" r="0.33"/><circle cx="151.87" cy="215.08" r="0.33"/><circle cx="164.96" cy="224.64" r="0.33"/><circle cx="167.12" cy="223.52" r="0.33"/><circle cx="165.52" cy="240.05" r="0.33"/><circle cx="154.15" cy="221.96" r="0.33"/><circle cx="166.63" cy="218.36" r="0.33"/><circle cx="129.15" cy="212.66" r="0.33"/><circle cx="162.02" cy="218.48" r="0.33"/><circle cx="137.08" cy="211.17" r="0.33"/><circle cx="141.79" cy="230.24" r="0.33"/><circle cx="134.01" cy="217.07" r="0.33"/><circle cx="173.21" cy="226.56" r="0.33"/><circle cx="133.34" cy="220.24" r="0.33"/><circle cx="160.25" cy="213.27" r="0.33"/><circle cx="157.94" cy="227.66" r="0.33"/><circle cx="137.2" cy="215.96" r="0.33"/><circle cx="134.58" cy="217.6" r="0.33"/><circle cx="150.95" cy="203.85" r="0.33"/><circle cx="130.63" cy="229.37" r="0.33"/><circle cx="169.67" cy="220.39" r="0.33"/><circle cx="128.77" cy="229.22" r="0.33"/><circle cx="139.36" cy="229.47" r="0.33"/><circle cx="165.61" cy="219.97" r="0.33"/><circle cx="172.71" cy="219.07" r="0.33"/><circle cx="145.19" cy="215.59" r="0.33"/><circle cx="131.84" cy="221.02" r="0.33"/><circle cx="131.78" cy="229.13" r="0.33"/><circle cx="157.73" cy="213.61" r="0.33"/><circle cx="136.26" cy="219.94" r="0.33"/><circle cx="130.58" cy="228.28" r="0.33"/><circle cx="127.18" cy="227.37" r="0.33"/><circle cx="149.79" cy="220.48" r="0.33"/><circle cx="136.88" cy="236.47" r="0.33"/><circle cx="172.42" cy="235.02" r="0.33"/><circle cx="165.94" cy="217.35" r="0.33"/><circle cx="173.17" cy="209.73" r="0.33"/><circle cx="168.38" cy="224.2" r="0.33"/><circle cx="169.17" cy="221.45" r="0.33"/><circle cx="167.39" cy="232.08" r="0.33"/><circle cx="172.7" cy="220.32" r="0.33"/><circle cx="163.92" cy="215.87" r="0.33"/><circle cx="166.37" cy="216.99" r="0.33"/><circle cx="169.6" cy="224.87" r="0.33"/><circle cx="163.65" cy="209.59" r="0.33"/><circle cx="173.42" cy="224.57" r="0.33"/><circle cx="170.69" cy="218.83" r="0.33"/><circle cx="173.89" cy="214.49" r="0.33"/><circle cx="171.74" cy="215.2" r="0.33"/><circle cx="173.28" cy="223.74" r="0.33"/><circle cx="169.28" cy="217.81" r="0.33"/><circle cx="170.44" cy="219.02" r="0.33"/><circle cx="168.63" cy="244.68" r="0.33"/><circle cx="173.86" cy="213.59" r="0.33"/><circle cx="173.39" cy="224.25" r="0.33"/><circle cx="167.09" cy="222.63" r="0.33"/><circle cx="172.12" cy="217.68" r="0.33"/><circle cx="164.64" cy="220.35" r="0.33"/><circle cx="166.18" cy="224.33" r="0.33"/><circle cx="171.27" cy="224.4" r="0.33"/><circle cx="165.59" cy="226.16" r="0.33"/><circle cx="164.94" cy="229.23" r="0.33"/><circle cx="172.18" cy="214.78" r="0.33"/><circle cx="171.08" cy="212.04" r="0.33"/><circle cx="171.13" cy="221.31" r="0.33"/><circle cx="167.51" cy="228.25" r="0.33"/><circle cx="167.64" cy="227.47" r="0.33"/><circle cx="171.83" cy="218.64" r="0.33"/><circle cx="170.1" cy="225.58" r="0.33"/><circle cx="169.55" cy="224.05" r="0.33"/><circle cx="171.73" cy="222.48" r="0.33"/><circle cx="167.48" cy="226.52" r="0.33"/><circle cx="168.33" cy="210.03" r="0.33"/><circle cx="169.86" cy="228.57" r="0.33"/><circle cx="166.47" cy="218.02" r="0.33"/><circle cx="165.25" cy="227.93" r="0.33"/><circle cx="167.64" cy="230.05" r="0.33"/><circle cx="172.53" cy="225.48" r="0.33"/><circle cx="172.86" cy="217.16" r="0.33"/><circle cx="169.37" cy="218.61" r="0.33"/><circle cx="169.32" cy="225.33" r="0.33"/><circle cx="168.72" cy="228.7" r="0.33"/><circle cx="165.63" cy="211.32" r="0.33"/><circle cx="170.21" cy="226.01" r="0.33"/><circle cx="166.99" cy="222.61" r="0.33"/><circle cx="169.29" cy="230.44" r="0.33"/><circle cx="166.67" cy="215.97" r="0.33"/><circle cx="170.06" cy="223.11" r="0.33"/><circle cx="172.65" cy="216.8" r="0.33"/><circle cx="169.39" cy="227.35" r="0.33"/><circle cx="170.47" cy="222.18" r="0.33"/><circle cx="173.1" cy="226.51" r="0.33"/><circle cx="165.1" cy="220.04" r="0.33"/><circle cx="168.66" cy="217.77" r="0.33"/><circle cx="168.25" cy="222.26" r="0.33"/><circle cx="173.46" cy="225.73" r="0.33"/><circle cx="164" cy="228.14" r="0.33"/><circle cx="167.42" cy="229.68" r="0.33"/><circle cx="165.61" cy="224.79" r="0.33"/><circle cx="165.74" cy="205.27" r="0.33"/><circle cx="170.88" cy="205.34" r="0.33"/><circle cx="169.75" cy="234.68" r="0.33"/><circle cx="172.82" cy="220.35" r="0.33"/><circle cx="168.15" cy="219.27" r="0.33"/><circle cx="170.87" cy="223.48" r="0.33"/><circle cx="173.81" cy="224.11" r="0.33"/><circle cx="173.11" cy="220.73" r="0.33"/><circle cx="170.82" cy="220.24" r="0.33"/><circle cx="173.79" cy="223.92" r="0.33"/><circle cx="168.13" cy="212.69" r="0.33"/><circle cx="170.11" cy="228.32" r="0.33"/><circle cx="164.37" cy="218.85" r="0.33"/><circle cx="165.1" cy="231.01" r="0.33"/><circle cx="173.23" cy="219.22" r="0.33"/><circle cx="132.13" cy="217.43" r="0.33"/><circle cx="132.38" cy="213.35" r="0.33"/><circle cx="129.56" cy="218.71" r="0.33"/><circle cx="131.84" cy="219" r="0.33"/><circle cx="130.98" cy="214.35" r="0.33"/><circle cx="128.68" cy="212.83" r="0.33"/><circle cx="129.15" cy="214" r="0.33"/><circle cx="131.9" cy="221.9" r="0.33"/><circle cx="131.85" cy="217.23" r="0.33"/><circle cx="130.07" cy="219.62" r="0.33"/><circle cx="128.34" cy="221.55" r="0.33"/><circle cx="135.91" cy="207.63" r="0.33"/><circle cx="129.6" cy="213.96" r="0.33"/><circle cx="129.6" cy="215.27" r="0.33"/><circle cx="133.73" cy="220.71" r="0.33"/><circle cx="128.57" cy="210.48" r="0.33"/><circle cx="132.15" cy="209.42" r="0.33"/><circle cx="128.92" cy="219.35" r="0.33"/><circle cx="129.76" cy="220.8" r="0.33"/><circle cx="130.53" cy="214.37" r="0.33"/><circle cx="127.92" cy="211.73" r="0.33"/><circle cx="124.69" cy="215.2" r="0.33"/><circle cx="129.36" cy="215.04" r="0.33"/><circle cx="130.79" cy="221.96" r="0.33"/><circle cx="130.74" cy="217.44" r="0.33"/><circle cx="129.47" cy="216.35" r="0.33"/><circle cx="128.77" cy="212.51" r="0.33"/><circle cx="134.25" cy="219" r="0.33"/><circle cx="127.71" cy="211.26" r="0.33"/><circle cx="134.54" cy="209.25" r="0.33"/><circle cx="130.76" cy="220.5" r="0.33"/><circle cx="132.58" cy="222.43" r="0.33"/><circle cx="129.73" cy="220.61" r="0.33"/><circle cx="132.37" cy="220.12" r="0.33"/><circle cx="131.48" cy="214.46" r="0.33"/><circle cx="133.62" cy="208.61" r="0.33"/><circle cx="132.04" cy="208.41" r="0.33"/><circle cx="133.94" cy="208.81" r="0.33"/><circle cx="129.66" cy="221.15" r="0.33"/><circle cx="130.06" cy="221.88" r="0.33"/><circle cx="130.4" cy="218.66" r="0.33"/><circle cx="129.57" cy="211.92" r="0.33"/><circle cx="133.27" cy="217.57" r="0.33"/><circle cx="129.41" cy="218.51" r="0.33"/><circle cx="130.12" cy="211.98" r="0.33"/><circle cx="127.25" cy="208.93" r="0.33"/><circle cx="126.95" cy="207.09" r="0.33"/><circle cx="136.23" cy="211.01" r="0.33"/><circle cx="130.38" cy="220.43" r="0.33"/><circle cx="134.01" cy="209.25" r="0.33"/><circle cx="131.79" cy="211.94" r="0.33"/><circle cx="131.7" cy="218.12" r="0.33"/><circle cx="127.82" cy="214.7" r="0.33"/><circle cx="132.5" cy="212.27" r="0.33"/><circle cx="130.77" cy="221.73" r="0.33"/><circle cx="131.81" cy="218.22" r="0.33"/><circle cx="132.83" cy="219.03" r="0.33"/><circle cx="132.41" cy="214.62" r="0.33"/><circle cx="131.37" cy="208.83" r="0.33"/><circle cx="127.06" cy="219.66" r="0.33"/><circle cx="131.83" cy="218.46" r="0.33"/><circle cx="132.75" cy="219.54" r="0.33"/><circle cx="130.57" cy="218.25" r="0.33"/><circle cx="133.83" cy="211.21" r="0.33"/><circle cx="123.78" cy="208.57" r="0.33"/><circle cx="134.15" cy="221.59" r="0.33"/><circle cx="138.09" cy="210.42" r="0.33"/><circle cx="125.67" cy="209.67" r="0.33"/><circle cx="129.93" cy="221.29" r="0.33"/><circle cx="132.01" cy="215.64" r="0.33"/><circle cx="133.05" cy="214.48" r="0.33"/><circle cx="128.87" cy="221.79" r="0.33"/><circle cx="132.71" cy="220.2" r="0.33"/><circle cx="132.71" cy="215.93" r="0.33"/><circle cx="133.09" cy="218.85" r="0.33"/><circle cx="123.1" cy="216.26" r="0.33"/><circle cx="131.43" cy="210" r="0.33"/><circle cx="128.2" cy="211.7" r="0.33"/><circle cx="134.23" cy="207.01" r="0.33"/><circle cx="129.95" cy="216.76" r="0.33"/><circle cx="135.04" cy="214.37" r="0.33"/><circle cx="131.25" cy="213.8" r="0.33"/><circle cx="128.95" cy="214.31" r="0.33"/><circle cx="128.77" cy="220.96" r="0.33"/><circle cx="134.84" cy="218.11" r="0.33"/><circle cx="128.44" cy="218" r="0.33"/><circle cx="132.38" cy="210.77" r="0.33"/><circle cx="134.26" cy="209.78" r="0.33"/><circle cx="133.19" cy="219.54" r="0.33"/><circle cx="130.82" cy="219.84" r="0.33"/><circle cx="130.92" cy="209.34" r="0.33"/><circle cx="131.73" cy="216.83" r="0.33"/><circle cx="130.78" cy="216.09" r="0.33"/><circle cx="129.04" cy="209.11" r="0.33"/><circle cx="128.92" cy="219.02" r="0.33"/><circle cx="127.6" cy="215.51" r="0.33"/><circle cx="131.25" cy="210.76" r="0.33"/><circle cx="131.33" cy="213" r="0.33"/><circle cx="132.31" cy="221.82" r="0.33"/><circle cx="131.85" cy="217.44" r="0.33"/><circle cx="127.73" cy="220.4" r="0.33"/><circle cx="129.88" cy="216.66" r="0.33"/><circle cx="129.07" cy="222.03" r="0.33"/><circle cx="132.55" cy="221.77" r="0.33"/><circle cx="134.18" cy="216.78" r="0.33"/><circle cx="135.32" cy="212" r="0.33"/><circle cx="130.69" cy="218.43" r="0.33"/><circle cx="129.44" cy="215.44" r="0.33"/><circle cx="130.64" cy="220.95" r="0.33"/><circle cx="130.95" cy="221.8" r="0.33"/><circle cx="131.55" cy="218.06" r="0.33"/><circle cx="129.24" cy="208.36" r="0.33"/><circle cx="129.11" cy="214.04" r="0.33"/><circle cx="130.71" cy="211.13" r="0.33"/><circle cx="133.91" cy="210.3" r="0.33"/><circle cx="132.6" cy="209.3" r="0.33"/><circle cx="130.74" cy="206.85" r="0.33"/><circle cx="132.57" cy="222.08" r="0.33"/><circle cx="136.57" cy="213.22" r="0.33"/><circle cx="133.27" cy="208.43" r="0.33"/></g>
<path d="M135.6,223.7 C140.6,222.5 145.4,222.5 150.4,222.8 L150.4,230.5 C145.4,231.5 140.6,232.9 135.6,233.4 Z" fill="#d6d6d6" fill-opacity="0.6" stroke="#777" stroke-width="0.65"/>
<path d="M135.6,227.39 C140.6,226.59 145.4,225.88 150.4,225.88" fill="none" stroke="#888" stroke-width="0.55"/>
<path d="M135.6,230.49 C140.6,229.69 145.4,228.57 150.4,228.57" fill="none" stroke="#aaa" stroke-width="0.5"/>
<ellipse cx="154.5" cy="227.5" rx="3.4" ry="7.6" fill="#e4e4e4" fill-opacity="0.5" stroke="#555" stroke-width="0.6" transform="rotate(0 154.5 227.5)"/>
<ellipse cx="154.5" cy="227.5" rx="2.45" ry="5.47" fill="#e4e4e4" fill-opacity="0.35" stroke="#707070" stroke-width="0.6" transform="rotate(0 154.5 227.5)"/>
<ellipse cx="154.5" cy="227.5" rx="1.53" ry="3.42" fill="#e4e4e4" fill-opacity="0.25" stroke="#8a8a8a" stroke-width="0.6" transform="rotate(0 154.5 227.5)"/>
<ellipse cx="131.4" cy="231.8" rx="4" ry="13.3" fill="rgb(218,218,218)" stroke="rgb(110,110,110)" stroke-width="0.6" transform="rotate(3 131.4 231.8)"/>
<ellipse cx="131.4" cy="231.8" rx="3.48" ry="11.57" fill="rgb(186,186,186)" stroke="rgb(131,131,131)" stroke-width="0.45" transform="rotate(3 131.4 231.8)"/>
<ellipse cx="131.4" cy="231.8" rx="2.96" ry="9.84" fill="rgb(155,155,155)" stroke="rgb(113,113,113)" stroke-width="0.45" transform="rotate(3 131.4 231.8)"/>
<ellipse cx="131.4" cy="231.8" rx="2.44" ry="8.11" fill="rgb(124,124,124)" stroke="rgb(95,95,95)" stroke-width="0.45" transform="rotate(3 131.4 231.8)"/>
<ellipse cx="131.4" cy="231.8" rx="1.92" ry="6.38" fill="rgb(92,92,92)" stroke="rgb(76,76,76)" stroke-width="0.45" transform="rotate(3 131.4 231.8)"/>
<ellipse cx="131.4" cy="231.8" rx="1.4" ry="4.66" fill="rgb(61,61,61)" stroke="rgb(58,58,58)" stroke-width="0.45" transform="rotate(3 131.4 231.8)"/>
<ellipse cx="131.4" cy="231.8" rx="0.88" ry="2.93" fill="rgb(30,30,30)" stroke="rgb(40,40,40)" stroke-width="0.45" transform="rotate(3 131.4 231.8)"/>
<rect x="120.4" y="203.5" width="16.1" height="30.1" fill="none" stroke="#7a7a7a" stroke-width="0.8" />
<rect x="120.4" y="233.6" width="16.1" height="19.8" fill="none" stroke="#7a7a7a" stroke-width="0.8" />
<rect x="136.5" y="203.5" width="14" height="32.7" fill="none" stroke="#7a7a7a" stroke-width="0.8" />
<rect x="150.5" y="203.5" width="14.1" height="32.7" fill="none" stroke="#7a7a7a" stroke-width="0.8" />
<text x="122.1" y="202.2" font-size="5.3" fill="#333" style="stroke:#333;stroke-width:0.1px">G1 :</text>
<text x="122.9" y="208.3" font-size="5.3" fill="#333" style="stroke:#333;stroke-width:0.1px">45%</text>
<text x="150.5" y="202.2" font-size="5.3" fill="#333" style="stroke:#333;stroke-width:0.1px">G2/M :</text>
<text x="157.55" y="208.3" font-size="5.3" text-anchor="middle" fill="#333" style="stroke:#333;stroke-width:0.1px">10%</text>
<text x="138.1" y="242.9" font-size="5.3" fill="#333" style="stroke:#333;stroke-width:0.1px">S : 11%</text>
<text x="120.8" y="244.6" font-size="5.3" fill="#333" style="stroke:#333;stroke-width:0.1px">G0 :</text>
<text x="120.8" y="251.5" font-size="5.3" fill="#333" style="stroke:#333;stroke-width:0.1px">33%</text>
<rect x="113.15" y="191.8" width="62" height="63.5" fill="none" stroke="#22407e" stroke-width="1.5" />
<line x1="111.6" y1="199.8" x2="112.4" y2="199.8" stroke="#666" stroke-width="0.5" />
<line x1="111.6" y1="220.2" x2="112.4" y2="220.2" stroke="#666" stroke-width="0.5" />
<line x1="111.6" y1="229.4" x2="112.4" y2="229.4" stroke="#666" stroke-width="0.5" />
<text x="212.2" y="187.3" font-size="8.2" text-anchor="middle" fill="#000" >1%</text>
<g fill="#777" fill-opacity="0.5"><circle cx="212.89" cy="217.96" r="0.33"/><circle cx="218.67" cy="220.86" r="0.33"/><circle cx="191.47" cy="216.73" r="0.33"/><circle cx="234" cy="234.52" r="0.33"/><circle cx="200.14" cy="202.8" r="0.33"/><circle cx="207.11" cy="233.08" r="0.33"/><circle cx="197.09" cy="221.36" r="0.33"/><circle cx="208.61" cy="239.03" r="0.33"/><circle cx="224.91" cy="232.6" r="0.33"/><circle cx="201.13" cy="216.22" r="0.33"/><circle cx="215.52" cy="216.3" r="0.33"/><circle cx="222.35" cy="230.15" r="0.33"/><circle cx="240.68" cy="216.97" r="0.33"/><circle cx="232.3" cy="211.06" r="0.33"/><circle cx="216.86" cy="225.68" r="0.33"/><circle cx="204.84" cy="233.56" r="0.33"/><circle cx="201.88" cy="213.06" r="0.33"/><circle cx="192.74" cy="227.67" r="0.33"/><circle cx="209.43" cy="231.43" r="0.33"/><circle cx="209.79" cy="218.39" r="0.33"/><circle cx="214.31" cy="217.61" r="0.33"/><circle cx="211.67" cy="210.92" r="0.33"/><circle cx="220.59" cy="218.83" r="0.33"/><circle cx="212.64" cy="234.46" r="0.33"/><circle cx="226.94" cy="213.58" r="0.33"/><circle cx="201.07" cy="231.47" r="0.33"/><circle cx="215.75" cy="219.43" r="0.33"/><circle cx="197.52" cy="221.08" r="0.33"/><circle cx="214.48" cy="222.57" r="0.33"/><circle cx="233.97" cy="204.63" r="0.33"/><circle cx="232.05" cy="226.81" r="0.33"/><circle cx="198.77" cy="219.77" r="0.33"/><circle cx="198.14" cy="222.54" r="0.33"/><circle cx="207.19" cy="215.37" r="0.33"/><circle cx="198.13" cy="226.18" r="0.33"/><circle cx="203.06" cy="217.66" r="0.33"/><circle cx="221.29" cy="220.27" r="0.33"/><circle cx="220.56" cy="218.59" r="0.33"/><circle cx="218.02" cy="210.79" r="0.33"/><circle cx="231.62" cy="217.38" r="0.33"/><circle cx="232.88" cy="226.18" r="0.33"/><circle cx="193.22" cy="214.81" r="0.33"/><circle cx="215.01" cy="233.63" r="0.33"/><circle cx="215.48" cy="223.13" r="0.33"/><circle cx="229.03" cy="228.3" r="0.33"/><circle cx="226.33" cy="208.34" r="0.33"/><circle cx="208.01" cy="219.08" r="0.33"/><circle cx="202.23" cy="208.29" r="0.33"/><circle cx="235.25" cy="210.09" r="0.33"/><circle cx="201.14" cy="222.89" r="0.33"/><circle cx="233.32" cy="206.38" r="0.33"/><circle cx="233.88" cy="223.43" r="0.33"/><circle cx="217.47" cy="212.36" r="0.33"/><circle cx="203.17" cy="215.88" r="0.33"/><circle cx="231.69" cy="223.1" r="0.33"/><circle cx="192.78" cy="219.86" r="0.33"/><circle cx="214.97" cy="229.48" r="0.33"/><circle cx="208.47" cy="225.65" r="0.33"/><circle cx="203.34" cy="222.9" r="0.33"/><circle cx="237.92" cy="209.27" r="0.33"/><circle cx="200.98" cy="211.89" r="0.33"/><circle cx="230.36" cy="229.51" r="0.33"/><circle cx="212.84" cy="224.48" r="0.33"/><circle cx="219.96" cy="229.17" r="0.33"/><circle cx="240.24" cy="210.89" r="0.33"/><circle cx="233.46" cy="206.89" r="0.33"/><circle cx="212.87" cy="203.97" r="0.33"/><circle cx="227.84" cy="220.36" r="0.33"/><circle cx="211.4" cy="226.48" r="0.33"/><circle cx="205.96" cy="234.53" r="0.33"/><circle cx="204.55" cy="220.92" r="0.33"/><circle cx="223.94" cy="234.71" r="0.33"/><circle cx="238.7" cy="212.25" r="0.33"/><circle cx="236.03" cy="215.48" r="0.33"/><circle cx="198.14" cy="198.45" r="0.33"/><circle cx="208.02" cy="206.88" r="0.33"/><circle cx="198.83" cy="222.6" r="0.33"/><circle cx="228.3" cy="222.39" r="0.33"/><circle cx="212.05" cy="228.33" r="0.33"/><circle cx="192.42" cy="205.56" r="0.33"/><circle cx="206.67" cy="220.39" r="0.33"/><circle cx="192.56" cy="228.02" r="0.33"/><circle cx="204.05" cy="215.72" r="0.33"/><circle cx="218.08" cy="229.35" r="0.33"/><circle cx="241.13" cy="224.76" r="0.33"/><circle cx="236.99" cy="224.04" r="0.33"/><circle cx="205.72" cy="213.55" r="0.33"/><circle cx="236.58" cy="219.15" r="0.33"/><circle cx="238.56" cy="217.38" r="0.33"/><circle cx="209.97" cy="219.29" r="0.33"/><circle cx="226.86" cy="214.32" r="0.33"/><circle cx="211.27" cy="218.06" r="0.33"/><circle cx="194.23" cy="207.2" r="0.33"/><circle cx="210.77" cy="230.56" r="0.33"/><circle cx="214.79" cy="228.02" r="0.33"/><circle cx="212.28" cy="233.36" r="0.33"/><circle cx="210.68" cy="222.1" r="0.33"/><circle cx="195.04" cy="213.53" r="0.33"/><circle cx="223.72" cy="220.78" r="0.33"/><circle cx="208.63" cy="218.04" r="0.33"/><circle cx="236.11" cy="211.81" r="0.33"/><circle cx="197.71" cy="220.48" r="0.33"/><circle cx="205.74" cy="203.93" r="0.33"/><circle cx="224.75" cy="210.61" r="0.33"/><circle cx="240.3" cy="218.16" r="0.33"/><circle cx="208.43" cy="222.87" r="0.33"/><circle cx="209.71" cy="224.47" r="0.33"/><circle cx="237.38" cy="222.3" r="0.33"/><circle cx="236.58" cy="223.5" r="0.33"/><circle cx="240.91" cy="223.76" r="0.33"/><circle cx="199.57" cy="218.95" r="0.33"/><circle cx="201.69" cy="227.1" r="0.33"/><circle cx="192.68" cy="205.88" r="0.33"/><circle cx="194.71" cy="224.69" r="0.33"/><circle cx="216.07" cy="231.68" r="0.33"/><circle cx="237.04" cy="232.7" r="0.33"/><circle cx="235.55" cy="216.14" r="0.33"/><circle cx="227.54" cy="219.96" r="0.33"/><circle cx="194.64" cy="222.2" r="0.33"/><circle cx="236.43" cy="213.5" r="0.33"/><circle cx="205.57" cy="220.35" r="0.33"/><circle cx="203.25" cy="210.49" r="0.33"/><circle cx="216.05" cy="216.25" r="0.33"/><circle cx="218.86" cy="223.21" r="0.33"/><circle cx="218.14" cy="218.46" r="0.33"/><circle cx="222.32" cy="213.2" r="0.33"/><circle cx="201.17" cy="214.4" r="0.33"/><circle cx="231.02" cy="220.08" r="0.33"/><circle cx="200.8" cy="220.13" r="0.33"/><circle cx="206.3" cy="224.31" r="0.33"/><circle cx="218.59" cy="221.62" r="0.33"/><circle cx="236.48" cy="225.53" r="0.33"/><circle cx="206.87" cy="222.93" r="0.33"/><circle cx="233.83" cy="229.88" r="0.33"/><circle cx="229.03" cy="230.25" r="0.33"/><circle cx="208.1" cy="214.51" r="0.33"/><circle cx="216.56" cy="233.72" r="0.33"/><circle cx="233.71" cy="225.89" r="0.33"/><circle cx="237.61" cy="227.29" r="0.33"/><circle cx="231.95" cy="209.63" r="0.33"/><circle cx="205.9" cy="216.03" r="0.33"/><circle cx="238.67" cy="218.96" r="0.33"/><circle cx="217.12" cy="232.57" r="0.33"/><circle cx="222.61" cy="244.19" r="0.33"/><circle cx="201.89" cy="228.14" r="0.33"/><circle cx="222.72" cy="210.59" r="0.33"/><circle cx="235.69" cy="218.08" r="0.33"/><circle cx="220.07" cy="227.65" r="0.33"/><circle cx="201.43" cy="217.76" r="0.33"/><circle cx="201.28" cy="211.28" r="0.33"/><circle cx="197.43" cy="227.18" r="0.33"/><circle cx="237.55" cy="231.04" r="0.33"/><circle cx="231.58" cy="227.75" r="0.33"/><circle cx="231.79" cy="211.51" r="0.33"/><circle cx="207.88" cy="207.86" r="0.33"/><circle cx="204.24" cy="235.36" r="0.33"/><circle cx="222.77" cy="218.32" r="0.33"/><circle cx="219.86" cy="219.79" r="0.33"/><circle cx="231.6" cy="228.18" r="0.33"/><circle cx="236.75" cy="214.98" r="0.33"/><circle cx="193.03" cy="232.33" r="0.33"/><circle cx="232.27" cy="213.48" r="0.33"/><circle cx="213.85" cy="206.66" r="0.33"/><circle cx="202.46" cy="212.22" r="0.33"/><circle cx="200.41" cy="221.37" r="0.33"/><circle cx="202.66" cy="202.61" r="0.33"/><circle cx="218.88" cy="213.24" r="0.33"/><circle cx="233.93" cy="220.63" r="0.33"/><circle cx="205.47" cy="222.71" r="0.33"/><circle cx="198.54" cy="211.88" r="0.33"/><circle cx="239.97" cy="223.5" r="0.33"/><circle cx="192.6" cy="224.33" r="0.33"/><circle cx="208.91" cy="226.15" r="0.33"/><circle cx="238.9" cy="221.87" r="0.33"/><circle cx="204.02" cy="219.65" r="0.33"/><circle cx="191.78" cy="214.91" r="0.33"/><circle cx="191.46" cy="237.06" r="0.33"/><circle cx="214.3" cy="236.46" r="0.33"/><circle cx="203.78" cy="233.33" r="0.33"/><circle cx="207.16" cy="224.75" r="0.33"/><circle cx="200.26" cy="207.91" r="0.33"/><circle cx="208.46" cy="226.46" r="0.33"/><circle cx="219.61" cy="225.35" r="0.33"/><circle cx="193.24" cy="231.67" r="0.33"/><circle cx="237.97" cy="231.61" r="0.33"/><circle cx="215.17" cy="215.87" r="0.33"/><circle cx="211.28" cy="220.92" r="0.33"/><circle cx="227.15" cy="209.17" r="0.33"/><circle cx="213.61" cy="209.33" r="0.33"/><circle cx="200.3" cy="229.48" r="0.33"/><circle cx="208.47" cy="221.37" r="0.33"/><circle cx="234.96" cy="227.1" r="0.33"/><circle cx="206.95" cy="220.76" r="0.33"/><circle cx="238.07" cy="218.17" r="0.33"/><circle cx="214.91" cy="220.84" r="0.33"/><circle cx="221.76" cy="216.74" r="0.33"/><circle cx="232.34" cy="220.03" r="0.33"/><circle cx="210.55" cy="224.86" r="0.33"/><circle cx="230.18" cy="221.25" r="0.33"/><circle cx="207.57" cy="217.73" r="0.33"/><circle cx="237.61" cy="220.08" r="0.33"/><circle cx="235.21" cy="224.71" r="0.33"/><circle cx="232.75" cy="207.9" r="0.33"/><circle cx="229.26" cy="225.66" r="0.33"/><circle cx="233.6" cy="226.43" r="0.33"/><circle cx="238.01" cy="234.52" r="0.33"/><circle cx="231.17" cy="212.08" r="0.33"/><circle cx="240.86" cy="219.76" r="0.33"/><circle cx="241.56" cy="224.6" r="0.33"/><circle cx="236.47" cy="210.93" r="0.33"/><circle cx="235.52" cy="216.21" r="0.33"/><circle cx="222.2" cy="220.87" r="0.33"/><circle cx="197.94" cy="215.07" r="0.33"/><circle cx="216.59" cy="231.05" r="0.33"/><circle cx="223.82" cy="230.39" r="0.33"/><circle cx="206.87" cy="201.2" r="0.33"/><circle cx="239.57" cy="217.33" r="0.33"/><circle cx="229.51" cy="228.48" r="0.33"/><circle cx="240.67" cy="204.97" r="0.33"/><circle cx="233.06" cy="220.29" r="0.33"/><circle cx="207.1" cy="205.27" r="0.33"/><circle cx="192.13" cy="206.72" r="0.33"/><circle cx="197.41" cy="229.09" r="0.33"/><circle cx="212.42" cy="212.65" r="0.33"/><circle cx="231.39" cy="216.38" r="0.33"/><circle cx="208.88" cy="222.7" r="0.33"/><circle cx="229.74" cy="214.38" r="0.33"/><circle cx="191.67" cy="212.82" r="0.33"/><circle cx="241.72" cy="227.39" r="0.33"/><circle cx="231.23" cy="224.46" r="0.33"/><circle cx="238.74" cy="217.65" r="0.33"/><circle cx="229.02" cy="212.83" r="0.33"/><circle cx="225.04" cy="207.08" r="0.33"/><circle cx="219.18" cy="213.54" r="0.33"/><circle cx="218.44" cy="220.18" r="0.33"/><circle cx="196.53" cy="236.58" r="0.33"/><circle cx="195.93" cy="219.1" r="0.33"/><circle cx="235.54" cy="218.99" r="0.33"/><circle cx="200.89" cy="214.17" r="0.33"/><circle cx="215.59" cy="222.43" r="0.33"/><circle cx="222.41" cy="224.7" r="0.33"/><circle cx="240.52" cy="231.65" r="0.33"/><circle cx="198.69" cy="222.17" r="0.33"/><circle cx="196.52" cy="226.82" r="0.33"/><circle cx="191.72" cy="243.35" r="0.33"/><circle cx="193.09" cy="215.07" r="0.33"/><circle cx="233.43" cy="215.6" r="0.33"/><circle cx="235.93" cy="218.08" r="0.33"/><circle cx="197" cy="212.44" r="0.33"/><circle cx="226.6" cy="210.63" r="0.33"/><circle cx="203.13" cy="228.51" r="0.33"/><circle cx="206.02" cy="231.25" r="0.33"/><circle cx="221.86" cy="220.85" r="0.33"/><circle cx="227.96" cy="218.69" r="0.33"/><circle cx="240.83" cy="211.34" r="0.33"/><circle cx="207.84" cy="227.72" r="0.33"/><circle cx="235.81" cy="221.71" r="0.33"/><circle cx="216.64" cy="225.07" r="0.33"/><circle cx="213.67" cy="215.5" r="0.33"/><circle cx="238.27" cy="218.41" r="0.33"/><circle cx="218.25" cy="209.57" r="0.33"/><circle cx="193.05" cy="230.59" r="0.33"/><circle cx="237.89" cy="224.51" r="0.33"/><circle cx="214.13" cy="215.02" r="0.33"/><circle cx="193.08" cy="227.43" r="0.33"/><circle cx="221.39" cy="197.63" r="0.33"/><circle cx="240.8" cy="203.16" r="0.33"/><circle cx="233.96" cy="224.14" r="0.33"/><circle cx="238.13" cy="210.62" r="0.33"/><circle cx="192.87" cy="223.7" r="0.33"/><circle cx="239.42" cy="231.1" r="0.33"/><circle cx="221.72" cy="227.24" r="0.33"/><circle cx="199.95" cy="216.52" r="0.33"/><circle cx="191.56" cy="227.14" r="0.33"/><circle cx="211.42" cy="210.46" r="0.33"/><circle cx="226.64" cy="230.7" r="0.33"/><circle cx="239.26" cy="225.77" r="0.33"/><circle cx="222.14" cy="215.98" r="0.33"/><circle cx="226.29" cy="222.2" r="0.33"/><circle cx="207.99" cy="216.2" r="0.33"/><circle cx="222.3" cy="213.05" r="0.33"/><circle cx="212.15" cy="239.37" r="0.33"/><circle cx="227.05" cy="238.48" r="0.33"/><circle cx="240.51" cy="229.01" r="0.33"/><circle cx="240.12" cy="211.76" r="0.33"/><circle cx="241.04" cy="235.32" r="0.33"/><circle cx="196.54" cy="232.88" r="0.33"/><circle cx="241.31" cy="226.97" r="0.33"/><circle cx="192.66" cy="227.93" r="0.33"/><circle cx="215.23" cy="209.74" r="0.33"/><circle cx="198.35" cy="210.44" r="0.33"/><circle cx="201.33" cy="220.53" r="0.33"/><circle cx="236.83" cy="220.66" r="0.33"/><circle cx="222.67" cy="215.59" r="0.33"/><circle cx="221.48" cy="244.51" r="0.33"/><circle cx="236.3" cy="211.39" r="0.33"/><circle cx="193.87" cy="216.43" r="0.33"/><circle cx="229.25" cy="223.47" r="0.33"/><circle cx="195.29" cy="226.89" r="0.33"/><circle cx="223.72" cy="210.03" r="0.33"/><circle cx="239.1" cy="230.94" r="0.33"/><circle cx="223" cy="210.29" r="0.33"/><circle cx="218.87" cy="218.84" r="0.33"/><circle cx="201.06" cy="220.75" r="0.33"/><circle cx="226.09" cy="212.52" r="0.33"/><circle cx="234.07" cy="226.03" r="0.33"/><circle cx="210.72" cy="218.76" r="0.33"/><circle cx="233.36" cy="204.91" r="0.33"/><circle cx="203.02" cy="213.12" r="0.33"/><circle cx="220.92" cy="214.69" r="0.33"/><circle cx="195.48" cy="223.49" r="0.33"/><circle cx="230.94" cy="227.28" r="0.33"/><circle cx="230.89" cy="211.9" r="0.33"/><circle cx="213.48" cy="229.24" r="0.33"/><circle cx="218.39" cy="220.13" r="0.33"/><circle cx="239.76" cy="229.22" r="0.33"/><circle cx="236.05" cy="224.28" r="0.33"/><circle cx="235.04" cy="224.13" r="0.33"/><circle cx="213.63" cy="213.2" r="0.33"/><circle cx="221.8" cy="211.57" r="0.33"/><circle cx="237.13" cy="231.17" r="0.33"/><circle cx="204.31" cy="235.69" r="0.33"/><circle cx="194.96" cy="217.86" r="0.33"/><circle cx="231.86" cy="231.36" r="0.33"/><circle cx="220.58" cy="226.72" r="0.33"/><circle cx="210.36" cy="219.91" r="0.33"/><circle cx="220.25" cy="209.31" r="0.33"/><circle cx="216.81" cy="213.5" r="0.33"/><circle cx="196.22" cy="224.19" r="0.33"/><circle cx="194.72" cy="205.31" r="0.33"/><circle cx="232.41" cy="234.66" r="0.33"/><circle cx="222.72" cy="221.5" r="0.33"/><circle cx="206.2" cy="226.88" r="0.33"/><circle cx="222.85" cy="224.71" r="0.33"/><circle cx="218.22" cy="223.15" r="0.33"/><circle cx="222.62" cy="215.91" r="0.33"/><circle cx="206.52" cy="226.59" r="0.33"/><circle cx="196.73" cy="222.54" r="0.33"/><circle cx="199.19" cy="244.87" r="0.33"/><circle cx="209.38" cy="226.77" r="0.33"/><circle cx="229.58" cy="211.5" r="0.33"/><circle cx="203.89" cy="226.06" r="0.33"/><circle cx="239.08" cy="226.47" r="0.33"/><circle cx="230.71" cy="243.16" r="0.33"/><circle cx="234.98" cy="242.67" r="0.33"/><circle cx="224.27" cy="236.18" r="0.33"/><circle cx="220.53" cy="212.09" r="0.33"/><circle cx="239.53" cy="216.99" r="0.33"/><circle cx="240.93" cy="225.75" r="0.33"/><circle cx="218.02" cy="219.53" r="0.33"/><circle cx="226.68" cy="228.69" r="0.33"/><circle cx="229.31" cy="238.31" r="0.33"/><circle cx="197.23" cy="217.07" r="0.33"/><circle cx="235.88" cy="234.02" r="0.33"/><circle cx="241.81" cy="218.2" r="0.33"/><circle cx="220.88" cy="237.88" r="0.33"/><circle cx="209.5" cy="221.26" r="0.33"/><circle cx="192.86" cy="225.24" r="0.33"/><circle cx="212.96" cy="225.41" r="0.33"/><circle cx="207.45" cy="225.19" r="0.33"/><circle cx="198" cy="223.07" r="0.33"/><circle cx="240.65" cy="227.61" r="0.33"/><circle cx="212.64" cy="212.69" r="0.33"/><circle cx="239.85" cy="213.45" r="0.33"/><circle cx="233.06" cy="237.32" r="0.33"/><circle cx="228.6" cy="212.87" r="0.33"/><circle cx="235.61" cy="214.92" r="0.33"/><circle cx="207.91" cy="231.71" r="0.33"/><circle cx="238.11" cy="216.93" r="0.33"/><circle cx="208.36" cy="220.45" r="0.33"/><circle cx="202" cy="209.29" r="0.33"/><circle cx="197.56" cy="225.36" r="0.33"/><circle cx="217.01" cy="216.69" r="0.33"/><circle cx="233.64" cy="210.8" r="0.33"/><circle cx="199.43" cy="221.91" r="0.33"/><circle cx="238.65" cy="210.27" r="0.33"/><circle cx="211.09" cy="213.04" r="0.33"/><circle cx="227.25" cy="216.91" r="0.33"/><circle cx="209.19" cy="224.89" r="0.33"/><circle cx="229.8" cy="228.09" r="0.33"/><circle cx="224.61" cy="212.84" r="0.33"/><circle cx="238.57" cy="206.56" r="0.33"/><circle cx="203.94" cy="201.11" r="0.33"/><circle cx="235.42" cy="221.06" r="0.33"/><circle cx="221.2" cy="209.3" r="0.33"/><circle cx="199.63" cy="223.25" r="0.33"/><circle cx="236.36" cy="221.24" r="0.33"/><circle cx="211.33" cy="213.19" r="0.33"/><circle cx="235.74" cy="215.2" r="0.33"/><circle cx="228.54" cy="211.97" r="0.33"/><circle cx="201.99" cy="230.13" r="0.33"/><circle cx="239" cy="231.62" r="0.33"/><circle cx="218.33" cy="237.75" r="0.33"/><circle cx="198.59" cy="226.96" r="0.33"/><circle cx="225.56" cy="220.39" r="0.33"/><circle cx="204.3" cy="231.62" r="0.33"/><circle cx="236.33" cy="232.88" r="0.33"/><circle cx="236.41" cy="215" r="0.33"/><circle cx="199.08" cy="209.57" r="0.33"/><circle cx="241.8" cy="214.98" r="0.33"/><circle cx="192.4" cy="232.34" r="0.33"/><circle cx="207.17" cy="210.91" r="0.33"/><circle cx="212.1" cy="219.54" r="0.33"/><circle cx="210.54" cy="233.88" r="0.33"/><circle cx="209.12" cy="222.55" r="0.33"/><circle cx="196.83" cy="211.93" r="0.33"/><circle cx="228.88" cy="230.86" r="0.33"/><circle cx="212.22" cy="230.41" r="0.33"/><circle cx="221.58" cy="229.41" r="0.33"/><circle cx="215.66" cy="229.44" r="0.33"/><circle cx="217.65" cy="219.38" r="0.33"/><circle cx="192.63" cy="224.97" r="0.33"/><circle cx="200.59" cy="225.39" r="0.33"/><circle cx="199.97" cy="236.7" r="0.33"/><circle cx="220.94" cy="233.71" r="0.33"/><circle cx="215.98" cy="214.2" r="0.33"/><circle cx="235.11" cy="218.22" r="0.33"/><circle cx="228.48" cy="219.3" r="0.33"/><circle cx="191.11" cy="221.84" r="0.33"/><circle cx="232.06" cy="221.77" r="0.33"/><circle cx="236.29" cy="220.51" r="0.33"/><circle cx="236.99" cy="218.53" r="0.33"/><circle cx="241.29" cy="225.66" r="0.33"/><circle cx="241.43" cy="222.23" r="0.33"/><circle cx="241.41" cy="214.56" r="0.33"/><circle cx="238.86" cy="222.39" r="0.33"/><circle cx="233.19" cy="225.27" r="0.33"/><circle cx="232.76" cy="215.68" r="0.33"/><circle cx="233.83" cy="227.24" r="0.33"/><circle cx="232.53" cy="218.55" r="0.33"/><circle cx="240.67" cy="227.67" r="0.33"/><circle cx="240.79" cy="224.03" r="0.33"/><circle cx="240.1" cy="217.81" r="0.33"/><circle cx="234.56" cy="215.62" r="0.33"/><circle cx="234.08" cy="218.21" r="0.33"/><circle cx="237.22" cy="221.11" r="0.33"/><circle cx="234.1" cy="232.67" r="0.33"/><circle cx="239.67" cy="222.3" r="0.33"/><circle cx="236.18" cy="222.73" r="0.33"/><circle cx="240.69" cy="218.98" r="0.33"/><circle cx="236.86" cy="218.57" r="0.33"/><circle cx="235.08" cy="219.41" r="0.33"/><circle cx="233.41" cy="217.78" r="0.33"/><circle cx="241.89" cy="225.15" r="0.33"/><circle cx="234.96" cy="222.78" r="0.33"/><circle cx="235.09" cy="215.39" r="0.33"/><circle cx="233.28" cy="219.67" r="0.33"/><circle cx="240.16" cy="221.04" r="0.33"/><circle cx="233.43" cy="218.31" r="0.33"/><circle cx="232.84" cy="213.49" r="0.33"/><circle cx="239.04" cy="221.39" r="0.33"/><circle cx="234.13" cy="230.58" r="0.33"/><circle cx="236.52" cy="212.33" r="0.33"/><circle cx="232.92" cy="226.41" r="0.33"/><circle cx="232.38" cy="230.49" r="0.33"/><circle cx="238.07" cy="221.75" r="0.33"/><circle cx="233.2" cy="220.81" r="0.33"/><circle cx="234.16" cy="211.17" r="0.33"/><circle cx="239.85" cy="226.43" r="0.33"/><circle cx="235.67" cy="229.46" r="0.33"/><circle cx="233.69" cy="222.56" r="0.33"/><circle cx="234.65" cy="226.5" r="0.33"/><circle cx="235.73" cy="219.95" r="0.33"/><circle cx="238.56" cy="223.94" r="0.33"/><circle cx="237.72" cy="221.12" r="0.33"/><circle cx="238.45" cy="223.95" r="0.33"/><circle cx="235.1" cy="223.98" r="0.33"/><circle cx="235.16" cy="216.98" r="0.33"/><circle cx="238.46" cy="207.04" r="0.33"/><circle cx="236.08" cy="235.99" r="0.33"/><circle cx="236.19" cy="221.73" r="0.33"/><circle cx="236.5" cy="219.19" r="0.33"/><circle cx="238.27" cy="221.69" r="0.33"/><circle cx="238.97" cy="214.14" r="0.33"/><circle cx="240.97" cy="223.21" r="0.33"/><circle cx="238.04" cy="217.35" r="0.33"/><circle cx="239.19" cy="210.47" r="0.33"/><circle cx="236.37" cy="235.98" r="0.33"/><circle cx="232.52" cy="218.12" r="0.33"/><circle cx="241.9" cy="228.17" r="0.33"/><circle cx="238.25" cy="232.69" r="0.33"/><circle cx="239.67" cy="219.2" r="0.33"/><circle cx="233.5" cy="226.05" r="0.33"/><circle cx="232.94" cy="224.76" r="0.33"/><circle cx="240.06" cy="224.4" r="0.33"/><circle cx="237.19" cy="233.09" r="0.33"/><circle cx="236.19" cy="208.34" r="0.33"/><circle cx="233.5" cy="224.34" r="0.33"/><circle cx="236.94" cy="220.22" r="0.33"/><circle cx="240.32" cy="225.36" r="0.33"/><circle cx="238.35" cy="225.35" r="0.33"/><circle cx="232.69" cy="228.6" r="0.33"/><circle cx="237.36" cy="214.55" r="0.33"/><circle cx="239.63" cy="229.44" r="0.33"/><circle cx="237.19" cy="230.94" r="0.33"/><circle cx="235.61" cy="224.6" r="0.33"/><circle cx="232.14" cy="215.9" r="0.33"/><circle cx="238.82" cy="229.52" r="0.33"/><circle cx="233.92" cy="223.75" r="0.33"/><circle cx="196.8" cy="219.08" r="0.33"/><circle cx="200.53" cy="218.1" r="0.33"/><circle cx="197.98" cy="220.35" r="0.33"/><circle cx="200.6" cy="208.94" r="0.33"/><circle cx="195.48" cy="217.96" r="0.33"/><circle cx="197" cy="208.32" r="0.33"/><circle cx="202.34" cy="220.48" r="0.33"/><circle cx="200.95" cy="218.03" r="0.33"/><circle cx="203.12" cy="214.72" r="0.33"/><circle cx="198.72" cy="223.21" r="0.33"/><circle cx="199.2" cy="214.15" r="0.33"/><circle cx="200.36" cy="208.35" r="0.33"/><circle cx="196.17" cy="210.92" r="0.33"/><circle cx="197.77" cy="217.67" r="0.33"/><circle cx="195.14" cy="220.55" r="0.33"/><circle cx="199.87" cy="220.68" r="0.33"/><circle cx="198.62" cy="217.08" r="0.33"/><circle cx="198.01" cy="218.57" r="0.33"/><circle cx="199.94" cy="216.24" r="0.33"/><circle cx="201.46" cy="212.24" r="0.33"/><circle cx="200.95" cy="214.52" r="0.33"/><circle cx="200.16" cy="220.27" r="0.33"/><circle cx="204.11" cy="222.18" r="0.33"/><circle cx="198.65" cy="223.63" r="0.33"/><circle cx="195.5" cy="208.36" r="0.33"/><circle cx="198.83" cy="219.43" r="0.33"/><circle cx="200.33" cy="217.66" r="0.33"/><circle cx="197.05" cy="209.44" r="0.33"/><circle cx="201.64" cy="215.24" r="0.33"/><circle cx="198.05" cy="211.45" r="0.33"/><circle cx="203.52" cy="214.5" r="0.33"/><circle cx="194.42" cy="216.27" r="0.33"/><circle cx="198.17" cy="217.81" r="0.33"/><circle cx="203.04" cy="221.44" r="0.33"/><circle cx="202.16" cy="223.41" r="0.33"/><circle cx="199.44" cy="208.29" r="0.33"/><circle cx="197.32" cy="209.75" r="0.33"/><circle cx="197.31" cy="212.7" r="0.33"/><circle cx="200.86" cy="215.5" r="0.33"/><circle cx="198.68" cy="221.76" r="0.33"/><circle cx="199.53" cy="217.55" r="0.33"/><circle cx="199.45" cy="217.88" r="0.33"/><circle cx="203.92" cy="220.18" r="0.33"/><circle cx="200.26" cy="217.43" r="0.33"/><circle cx="199.36" cy="211.43" r="0.33"/><circle cx="204.99" cy="223.89" r="0.33"/><circle cx="193.7" cy="216.63" r="0.33"/><circle cx="197.3" cy="217.59" r="0.33"/><circle cx="201.7" cy="212.91" r="0.33"/><circle cx="198.1" cy="223.38" r="0.33"/><circle cx="200.46" cy="221.64" r="0.33"/><circle cx="199.05" cy="220.08" r="0.33"/><circle cx="199.57" cy="208.83" r="0.33"/><circle cx="200.94" cy="221.29" r="0.33"/><circle cx="203.42" cy="220.63" r="0.33"/><circle cx="201.51" cy="223.69" r="0.33"/><circle cx="202.71" cy="209.23" r="0.33"/><circle cx="202.18" cy="209.68" r="0.33"/><circle cx="199.91" cy="219.69" r="0.33"/><circle cx="197.92" cy="223.68" r="0.33"/><circle cx="196.39" cy="222.22" r="0.33"/><circle cx="199.4" cy="218.09" r="0.33"/><circle cx="203.07" cy="215.04" r="0.33"/><circle cx="198.71" cy="208.63" r="0.33"/><circle cx="202.5" cy="210.12" r="0.33"/><circle cx="196.38" cy="218.95" r="0.33"/><circle cx="198.75" cy="210.44" r="0.33"/><circle cx="201.88" cy="209.22" r="0.33"/><circle cx="195.07" cy="219.27" r="0.33"/><circle cx="199.93" cy="221.51" r="0.33"/><circle cx="202.77" cy="211.89" r="0.33"/><circle cx="196.85" cy="220.3" r="0.33"/><circle cx="198.97" cy="208.14" r="0.33"/><circle cx="197.82" cy="222.49" r="0.33"/><circle cx="201.57" cy="223.05" r="0.33"/><circle cx="203.74" cy="214.61" r="0.33"/><circle cx="198.1" cy="209.13" r="0.33"/><circle cx="198.92" cy="221.51" r="0.33"/><circle cx="197.66" cy="210.97" r="0.33"/><circle cx="197.69" cy="209.12" r="0.33"/><circle cx="199.3" cy="208.76" r="0.33"/><circle cx="197.04" cy="221.07" r="0.33"/><circle cx="198.48" cy="216.95" r="0.33"/><circle cx="200.56" cy="213.77" r="0.33"/><circle cx="196.26" cy="216.56" r="0.33"/><circle cx="198.64" cy="212.17" r="0.33"/><circle cx="192.6" cy="211.28" r="0.33"/><circle cx="199.04" cy="214.6" r="0.33"/><circle cx="196.33" cy="213.38" r="0.33"/><circle cx="199.77" cy="217.95" r="0.33"/><circle cx="200.45" cy="215.05" r="0.33"/><circle cx="198.5" cy="223.58" r="0.33"/><circle cx="203.1" cy="213.78" r="0.33"/><circle cx="199.12" cy="215.98" r="0.33"/><circle cx="198.81" cy="208.96" r="0.33"/><circle cx="197.12" cy="218.13" r="0.33"/><circle cx="201.96" cy="222.87" r="0.33"/><circle cx="198.87" cy="216.12" r="0.33"/><circle cx="197.45" cy="220.17" r="0.33"/><circle cx="195.64" cy="218.31" r="0.33"/><circle cx="197.49" cy="211.93" r="0.33"/><circle cx="195.33" cy="222.02" r="0.33"/><circle cx="196.73" cy="218" r="0.33"/><circle cx="197.15" cy="213.41" r="0.33"/><circle cx="199.46" cy="211.29" r="0.33"/><circle cx="204.85" cy="213.62" r="0.33"/><circle cx="196.54" cy="209.38" r="0.33"/><circle cx="197.44" cy="212.25" r="0.33"/><circle cx="199.24" cy="215.61" r="0.33"/><circle cx="197.69" cy="209.66" r="0.33"/><circle cx="205.49" cy="214.94" r="0.33"/><circle cx="202.42" cy="215.38" r="0.33"/><circle cx="200.48" cy="216.15" r="0.33"/><circle cx="199.78" cy="222.79" r="0.33"/><circle cx="201.53" cy="216.09" r="0.33"/><circle cx="198.1" cy="211.43" r="0.33"/><circle cx="199.82" cy="212.8" r="0.33"/><circle cx="197.87" cy="210.97" r="0.33"/><circle cx="198.74" cy="214.95" r="0.33"/><circle cx="193.88" cy="213.19" r="0.33"/></g>
<path d="M203.2,222.5 C208.2,221.3 212.8,224.2 217.8,224.5 L217.8,231.5 C212.8,232.5 208.2,233.5 203.2,234 Z" fill="#d6d6d6" fill-opacity="0.6" stroke="#777" stroke-width="0.65"/>
<path d="M203.2,226.87 C208.2,226.07 212.8,227.3 217.8,227.3" fill="none" stroke="#888" stroke-width="0.55"/>
<path d="M203.2,230.55 C208.2,229.75 212.8,229.75 217.8,229.75" fill="none" stroke="#aaa" stroke-width="0.5"/>
<ellipse cx="221.8" cy="228.3" rx="3" ry="6.8" fill="#e4e4e4" fill-opacity="0.5" stroke="#555" stroke-width="0.6" transform="rotate(0 221.8 228.3)"/>
<ellipse cx="221.8" cy="228.3" rx="2.16" ry="4.9" fill="#e4e4e4" fill-opacity="0.35" stroke="#707070" stroke-width="0.6" transform="rotate(0 221.8 228.3)"/>
<ellipse cx="221.8" cy="228.3" rx="1.35" ry="3.06" fill="#e4e4e4" fill-opacity="0.25" stroke="#8a8a8a" stroke-width="0.6" transform="rotate(0 221.8 228.3)"/>
<ellipse cx="199.1" cy="232.6" rx="4.5" ry="12.7" fill="rgb(218,218,218)" stroke="rgb(110,110,110)" stroke-width="0.6" transform="rotate(3 199.1 232.6)"/>
<ellipse cx="199.1" cy="232.6" rx="3.92" ry="11.05" fill="rgb(189,189,189)" stroke="rgb(133,133,133)" stroke-width="0.45" transform="rotate(3 199.1 232.6)"/>
<ellipse cx="199.1" cy="232.6" rx="3.33" ry="9.4" fill="rgb(161,161,161)" stroke="rgb(117,117,117)" stroke-width="0.45" transform="rotate(3 199.1 232.6)"/>
<ellipse cx="199.1" cy="232.6" rx="2.75" ry="7.75" fill="rgb(133,133,133)" stroke="rgb(100,100,100)" stroke-width="0.45" transform="rotate(3 199.1 232.6)"/>
<ellipse cx="199.1" cy="232.6" rx="2.16" ry="6.1" fill="rgb(105,105,105)" stroke="rgb(84,84,84)" stroke-width="0.45" transform="rotate(3 199.1 232.6)"/>
<ellipse cx="199.1" cy="232.6" rx="1.57" ry="4.44" fill="rgb(76,76,76)" stroke="rgb(67,67,67)" stroke-width="0.45" transform="rotate(3 199.1 232.6)"/>
<ellipse cx="199.1" cy="232.6" rx="0.99" ry="2.79" fill="rgb(48,48,48)" stroke="rgb(51,51,51)" stroke-width="0.45" transform="rotate(3 199.1 232.6)"/>
<rect x="188.1" y="203.5" width="16.4" height="30.1" fill="none" stroke="#7a7a7a" stroke-width="0.8" />
<rect x="188.1" y="233.6" width="16.4" height="19.8" fill="none" stroke="#7a7a7a" stroke-width="0.8" />
<rect x="204.5" y="203.5" width="13.3" height="32.7" fill="none" stroke="#7a7a7a" stroke-width="0.8" />
<rect x="217.8" y="203.5" width="14.9" height="32.7" fill="none" stroke="#7a7a7a" stroke-width="0.8" />
<text x="189.8" y="202.2" font-size="5.3" fill="#333" style="stroke:#333;stroke-width:0.1px">G1 :</text>
<text x="190.6" y="208.3" font-size="5.3" fill="#333" style="stroke:#333;stroke-width:0.1px">43%</text>
<text x="217.8" y="202.2" font-size="5.3" fill="#333" style="stroke:#333;stroke-width:0.1px">G2/M :</text>
<text x="225.25" y="208.3" font-size="5.3" text-anchor="middle" fill="#333" style="stroke:#333;stroke-width:0.1px">9%</text>
<text x="206.1" y="242.9" font-size="5.3" fill="#333" style="stroke:#333;stroke-width:0.1px">S : 7%</text>
<text x="188.5" y="244.6" font-size="5.3" fill="#333" style="stroke:#333;stroke-width:0.1px">G0 :</text>
<text x="188.5" y="251.5" font-size="5.3" fill="#333" style="stroke:#333;stroke-width:0.1px">40%</text>
<rect x="181.15" y="191.8" width="62" height="63.5" fill="none" stroke="#5b9ee2" stroke-width="1.5" />
<line x1="179.6" y1="199.8" x2="180.4" y2="199.8" stroke="#666" stroke-width="0.5" />
<line x1="179.6" y1="220.2" x2="180.4" y2="220.2" stroke="#666" stroke-width="0.5" />
<line x1="179.6" y1="229.4" x2="180.4" y2="229.4" stroke="#666" stroke-width="0.5" />
<line x1="40.3" y1="260.2" x2="40.3" y2="233.8" stroke="#111" stroke-width="1.1" />
<path d="M40.3,229.3 L42.45,234.3 L38.15,234.3 Z" fill="#111"/>
<line x1="39.8" y1="260.2" x2="239.3" y2="260.2" stroke="#111" stroke-width="1.1" />
<path d="M243.8,260.2 L238.8,262.35 L238.8,258.05 Z" fill="#111"/>
<text transform="translate(35.1,244.5) rotate(-90)" x="0" y="0" font-size="9" text-anchor="middle" class="cd" textLength="12" lengthAdjust="spacingAndGlyphs" fill="#000">Ki67</text>
<text x="51.2" y="271.3" font-size="9" text-anchor="middle" textLength="22" lengthAdjust="spacingAndGlyphs" fill="#000" class="cd">Hoechst</text>
<text x="20.8" y="283.8" font-size="9.3" font-weight="bold" fill="#000" style="stroke-width:0.25px">(ii)</text>
<line x1="59.9" y1="286.2" x2="59.9" y2="383.7" stroke="#000" stroke-width="1.35" />
<line x1="59.4" y1="383.2" x2="89.6" y2="383.2" stroke="#000" stroke-width="1.35" />
<line x1="57" y1="383.2" x2="59.9" y2="383.2" stroke="#000" stroke-width="1.1" />
<text x="54.2" y="385.87" font-size="9.2" text-anchor="end" textLength="4.76" lengthAdjust="spacingAndGlyphs" fill="#000" >0</text>
<line x1="57" y1="364.35" x2="59.9" y2="364.35" stroke="#000" stroke-width="1.1" />
<text x="54.2" y="367.02" font-size="9.2" text-anchor="end" textLength="9.51" lengthAdjust="spacingAndGlyphs" fill="#000" >20</text>
<line x1="57" y1="345.5" x2="59.9" y2="345.5" stroke="#000" stroke-width="1.1" />
<text x="54.2" y="348.17" font-size="9.2" text-anchor="end" textLength="9.51" lengthAdjust="spacingAndGlyphs" fill="#000" >40</text>
<line x1="57" y1="326.65" x2="59.9" y2="326.65" stroke="#000" stroke-width="1.1" />
<text x="54.2" y="329.32" font-size="9.2" text-anchor="end" textLength="9.51" lengthAdjust="spacingAndGlyphs" fill="#000" >60</text>
<line x1="57" y1="307.8" x2="59.9" y2="307.8" stroke="#000" stroke-width="1.1" />
<text x="54.2" y="310.47" font-size="9.2" text-anchor="end" textLength="9.51" lengthAdjust="spacingAndGlyphs" fill="#000" >80</text>
<line x1="57" y1="288.95" x2="59.9" y2="288.95" stroke="#000" stroke-width="1.1" />
<text x="54.2" y="291.62" font-size="9.2" text-anchor="end" textLength="14.27" lengthAdjust="spacingAndGlyphs" fill="#000" >100</text>
<line x1="64.85" y1="308.7" x2="64.85" y2="306.4" stroke="#333" stroke-width="0.9" />
<line x1="63.35" y1="306.4" x2="66.35" y2="306.4" stroke="#333" stroke-width="0.9" />
<rect x="62.1" y="308.7" width="5.5" height="74.5" fill="#a5002a" stroke="none" stroke-width="1" />
<line x1="74.6" y1="320.3" x2="74.6" y2="317.7" stroke="#333" stroke-width="0.9" />
<line x1="73.1" y1="317.7" x2="76.1" y2="317.7" stroke="#333" stroke-width="0.9" />
<rect x="71.9" y="320.3" width="5.4" height="62.9" fill="#23417a" stroke="none" stroke-width="1" />
<line x1="84.6" y1="326.2" x2="84.6" y2="322.3" stroke="#333" stroke-width="0.9" />
<line x1="83.1" y1="322.3" x2="86.1" y2="322.3" stroke="#333" stroke-width="0.9" />
<rect x="81.8" y="326.2" width="5.6" height="57" fill="#62a6e0" stroke="none" stroke-width="1" />
<path d="M63.6,290.6 V288.7 H85.3 V290.6" stroke="#333" stroke-width="1" fill="none" />
<path d="M63.7,301.5 V299.6 H76 V301.5" stroke="#333" stroke-width="1" fill="none" />
<path d="M75.1,310.3 V308.4 H84.8 V310.3" stroke="#333" stroke-width="1" fill="none" />
<circle cx="71.25" cy="284.8" r="0.8" fill="#222"/>
<path d="M71.25,286.05 L71.25,283.55 M70.17,285.43 L72.33,284.18 M70.17,284.18 L72.33,285.43 " stroke="#222" stroke-width="0.55" fill="none" />
<circle cx="74.4" cy="284.8" r="0.8" fill="#222"/>
<path d="M74.4,286.05 L74.4,283.55 M73.32,285.43 L75.48,284.18 M73.32,284.18 L75.48,285.43 " stroke="#222" stroke-width="0.55" fill="none" />
<circle cx="77.55" cy="284.8" r="0.8" fill="#222"/>
<path d="M77.55,286.05 L77.55,283.55 M76.47,285.43 L78.63,284.18 M76.47,284.18 L78.63,285.43 " stroke="#222" stroke-width="0.55" fill="none" />
<circle cx="66.75" cy="295.9" r="0.8" fill="#222"/>
<path d="M66.75,297.15 L66.75,294.65 M65.67,296.52 L67.83,295.27 M65.67,295.27 L67.83,296.52 " stroke="#222" stroke-width="0.55" fill="none" />
<circle cx="69.9" cy="295.9" r="0.8" fill="#222"/>
<path d="M69.9,297.15 L69.9,294.65 M68.82,296.52 L70.98,295.27 M68.82,295.27 L70.98,296.52 " stroke="#222" stroke-width="0.55" fill="none" />
<circle cx="73.05" cy="295.9" r="0.8" fill="#222"/>
<path d="M73.05,297.15 L73.05,294.65 M71.97,296.52 L74.13,295.27 M71.97,295.27 L74.13,296.52 " stroke="#222" stroke-width="0.55" fill="none" />
<circle cx="80" cy="305.7" r="0.8" fill="#222"/>
<path d="M80,306.95 L80,304.45 M78.92,306.32 L81.08,305.07 M78.92,305.07 L81.08,306.32 " stroke="#222" stroke-width="0.55" fill="none" />
<text transform="translate(34.8,336) rotate(-90)" x="0" y="0" font-size="8.6" text-anchor="middle" class="cd" textLength="47" lengthAdjust="spacingAndGlyphs" fill="#000">% of Ki67+ cells</text>
<text x="92.7" y="283.8" font-size="9.3" font-weight="bold" fill="#000" style="stroke-width:0.25px">(iii)</text>
<line x1="126.9" y1="285" x2="126.9" y2="382.8" stroke="#000" stroke-width="1.35" />
<line x1="124" y1="382.3" x2="265" y2="382.3" stroke="#000" stroke-width="1.35" />
<line x1="124" y1="382.3" x2="126.9" y2="382.3" stroke="#000" stroke-width="1.1" />
<text x="121.3" y="384.85" font-size="8.8" text-anchor="end" fill="#000" >0</text>
<line x1="124" y1="363.3" x2="126.9" y2="363.3" stroke="#000" stroke-width="1.1" />
<text x="121.3" y="365.85" font-size="8.8" text-anchor="end" fill="#000" >10</text>
<line x1="124" y1="344.3" x2="126.9" y2="344.3" stroke="#000" stroke-width="1.1" />
<text x="121.3" y="346.85" font-size="8.8" text-anchor="end" fill="#000" >20</text>
<line x1="124" y1="325.3" x2="126.9" y2="325.3" stroke="#000" stroke-width="1.1" />
<text x="121.3" y="327.85" font-size="8.8" text-anchor="end" fill="#000" >30</text>
<line x1="124" y1="306.3" x2="126.9" y2="306.3" stroke="#000" stroke-width="1.1" />
<text x="121.3" y="308.85" font-size="8.8" text-anchor="end" fill="#000" >40</text>
<line x1="124" y1="287.3" x2="126.9" y2="287.3" stroke="#000" stroke-width="1.1" />
<text x="121.3" y="289.85" font-size="8.8" text-anchor="end" fill="#000" >50</text>
<line x1="134.7" y1="344.4" x2="134.7" y2="342.4" stroke="#333" stroke-width="0.9" />
<line x1="133.2" y1="342.4" x2="136.2" y2="342.4" stroke="#333" stroke-width="0.9" />
<rect x="132" y="344.4" width="5.4" height="37.9" fill="#a5002a" stroke="none" stroke-width="1" />
<line x1="144.35" y1="321" x2="144.35" y2="315.4" stroke="#333" stroke-width="0.9" />
<line x1="142.85" y1="315.4" x2="145.85" y2="315.4" stroke="#333" stroke-width="0.9" />
<rect x="141.8" y="321" width="5.1" height="61.3" fill="#23417a" stroke="none" stroke-width="1" />
<line x1="153.8" y1="308.9" x2="153.8" y2="302" stroke="#333" stroke-width="0.9" />
<line x1="152.3" y1="302" x2="155.3" y2="302" stroke="#333" stroke-width="0.9" />
<rect x="151.2" y="308.9" width="5.2" height="73.4" fill="#62a6e0" stroke="none" stroke-width="1" />
<line x1="169.3" y1="303.1" x2="169.3" y2="299.2" stroke="#333" stroke-width="0.9" />
<line x1="167.8" y1="299.2" x2="170.8" y2="299.2" stroke="#333" stroke-width="0.9" />
<rect x="166.7" y="303.1" width="5.2" height="79.2" fill="#a5002a" stroke="none" stroke-width="1" />
<line x1="178.9" y1="298.8" x2="178.9" y2="293" stroke="#333" stroke-width="0.9" />
<line x1="177.4" y1="293" x2="180.4" y2="293" stroke="#333" stroke-width="0.9" />
<rect x="176.3" y="298.8" width="5.2" height="83.5" fill="#23417a" stroke="none" stroke-width="1" />
<line x1="188.2" y1="303.1" x2="188.2" y2="295.4" stroke="#333" stroke-width="0.9" />
<line x1="186.7" y1="295.4" x2="189.7" y2="295.4" stroke="#333" stroke-width="0.9" />
<rect x="185.6" y="303.1" width="5.2" height="79.2" fill="#62a6e0" stroke="none" stroke-width="1" />
<line x1="203.6" y1="340.2" x2="203.6" y2="337.3" stroke="#333" stroke-width="0.9" />
<line x1="202.1" y1="337.3" x2="205.1" y2="337.3" stroke="#333" stroke-width="0.9" />
<rect x="201" y="340.2" width="5.2" height="42.1" fill="#a5002a" stroke="none" stroke-width="1" />
<line x1="213.2" y1="359.2" x2="213.2" y2="357.3" stroke="#333" stroke-width="0.9" />
<line x1="211.7" y1="357.3" x2="214.7" y2="357.3" stroke="#333" stroke-width="0.9" />
<rect x="210.6" y="359.2" width="5.2" height="23.1" fill="#23417a" stroke="none" stroke-width="1" />
<line x1="222.8" y1="367.5" x2="222.8" y2="365.6" stroke="#333" stroke-width="0.9" />
<line x1="221.3" y1="365.6" x2="224.3" y2="365.6" stroke="#333" stroke-width="0.9" />
<rect x="220.2" y="367.5" width="5.2" height="14.8" fill="#62a6e0" stroke="none" stroke-width="1" />
<line x1="238.2" y1="355" x2="238.2" y2="352.7" stroke="#333" stroke-width="0.9" />
<line x1="236.7" y1="352.7" x2="239.7" y2="352.7" stroke="#333" stroke-width="0.9" />
<rect x="235.6" y="355" width="5.2" height="27.3" fill="#a5002a" stroke="none" stroke-width="1" />
<line x1="247.8" y1="363.6" x2="247.8" y2="361.6" stroke="#333" stroke-width="0.9" />
<line x1="246.3" y1="361.6" x2="249.3" y2="361.6" stroke="#333" stroke-width="0.9" />
<rect x="245.2" y="363.6" width="5.2" height="18.7" fill="#23417a" stroke="none" stroke-width="1" />
<line x1="257.15" y1="364.9" x2="257.15" y2="364.1" stroke="#333" stroke-width="0.9" />
<line x1="255.65" y1="364.1" x2="258.65" y2="364.1" stroke="#333" stroke-width="0.9" />
<rect x="254.5" y="364.9" width="5.3" height="17.4" fill="#62a6e0" stroke="none" stroke-width="1" />
<text x="144.4" y="392.6" font-size="8.2" text-anchor="middle" fill="#000" >G0</text>
<text x="178.3" y="392.6" font-size="8.2" text-anchor="middle" fill="#000" >G1</text>
<text x="213.4" y="392.6" font-size="8.2" text-anchor="middle" fill="#000" >S</text>
<text x="247.6" y="392.6" font-size="8.2" text-anchor="middle" fill="#000" >G2-M</text>
<path d="M133.9,290.4 V288.5 H153.5 V290.4" stroke="#333" stroke-width="1" fill="none" />
<circle cx="140.65" cy="284.7" r="0.8" fill="#222"/>
<path d="M140.65,285.95 L140.65,283.45 M139.57,285.32 L141.73,284.07 M139.57,284.07 L141.73,285.32 " stroke="#222" stroke-width="0.55" fill="none" />
<circle cx="143.8" cy="284.7" r="0.8" fill="#222"/>
<path d="M143.8,285.95 L143.8,283.45 M142.72,285.32 L144.88,284.07 M142.72,284.07 L144.88,285.32 " stroke="#222" stroke-width="0.55" fill="none" />
<circle cx="146.95" cy="284.7" r="0.8" fill="#222"/>
<path d="M146.95,285.95 L146.95,283.45 M145.87,285.32 L148.03,284.07 M145.87,284.07 L148.03,285.32 " stroke="#222" stroke-width="0.55" fill="none" />
<path d="M133.9,299.6 V297.7 H153.5 V299.6 M143.5,297.7 V299.6" stroke="#333" stroke-width="1" fill="none" />
<circle cx="135.35" cy="294" r="0.8" fill="#222"/>
<path d="M135.35,295.25 L135.35,292.75 M134.27,294.62 L136.43,293.38 M134.27,293.38 L136.43,294.62 " stroke="#222" stroke-width="0.55" fill="none" />
<circle cx="138.5" cy="294" r="0.8" fill="#222"/>
<path d="M138.5,295.25 L138.5,292.75 M137.42,294.62 L139.58,293.38 M137.42,293.38 L139.58,294.62 " stroke="#222" stroke-width="0.55" fill="none" />
<circle cx="141.65" cy="294" r="0.8" fill="#222"/>
<path d="M141.65,295.25 L141.65,292.75 M140.57,294.62 L142.73,293.38 M140.57,293.38 L142.73,294.62 " stroke="#222" stroke-width="0.55" fill="none" />
<circle cx="149" cy="294" r="0.8" fill="#222"/>
<path d="M149,295.25 L149,292.75 M147.92,294.62 L150.08,293.38 M147.92,293.38 L150.08,294.62 " stroke="#222" stroke-width="0.55" fill="none" />
<path d="M203.3,320.5 V318.6 H222.5 V320.5" stroke="#333" stroke-width="1" fill="none" />
<circle cx="208.18" cy="314.6" r="0.8" fill="#222"/>
<path d="M208.18,315.85 L208.18,313.35 M207.09,315.23 L209.26,313.98 M207.09,313.98 L209.26,315.23 " stroke="#222" stroke-width="0.55" fill="none" />
<circle cx="211.33" cy="314.6" r="0.8" fill="#222"/>
<path d="M211.33,315.85 L211.33,313.35 M210.24,315.23 L212.41,313.98 M210.24,313.98 L212.41,315.23 " stroke="#222" stroke-width="0.55" fill="none" />
<circle cx="214.48" cy="314.6" r="0.8" fill="#222"/>
<path d="M214.48,315.85 L214.48,313.35 M213.39,315.23 L215.56,313.98 M213.39,313.98 L215.56,315.23 " stroke="#222" stroke-width="0.55" fill="none" />
<circle cx="217.62" cy="314.6" r="0.8" fill="#222"/>
<path d="M217.62,315.85 L217.62,313.35 M216.54,315.23 L218.71,313.98 M216.54,313.98 L218.71,315.23 " stroke="#222" stroke-width="0.55" fill="none" />
<path d="M203.3,331.5 V329.6 H213.5 V331.5" stroke="#333" stroke-width="1" fill="none" />
<circle cx="203.68" cy="324.8" r="0.8" fill="#222"/>
<path d="M203.68,326.05 L203.68,323.55 M202.59,325.43 L204.76,324.18 M202.59,324.18 L204.76,325.43 " stroke="#222" stroke-width="0.55" fill="none" />
<circle cx="206.83" cy="324.8" r="0.8" fill="#222"/>
<path d="M206.83,326.05 L206.83,323.55 M205.74,325.43 L207.91,324.18 M205.74,324.18 L207.91,325.43 " stroke="#222" stroke-width="0.55" fill="none" />
<circle cx="209.98" cy="324.8" r="0.8" fill="#222"/>
<path d="M209.98,326.05 L209.98,323.55 M208.89,325.43 L211.06,324.18 M208.89,324.18 L211.06,325.43 " stroke="#222" stroke-width="0.55" fill="none" />
<circle cx="213.12" cy="324.8" r="0.8" fill="#222"/>
<path d="M213.12,326.05 L213.12,323.55 M212.04,325.43 L214.21,324.18 M212.04,324.18 L214.21,325.43 " stroke="#222" stroke-width="0.55" fill="none" />
<path d="M212.9,343.3 V341.4 H222.5 V343.3" stroke="#333" stroke-width="1" fill="none" />
<circle cx="212.97" cy="336.6" r="0.8" fill="#222"/>
<path d="M212.97,337.85 L212.97,335.35 M211.89,337.23 L214.06,335.98 M211.89,335.98 L214.06,337.23 " stroke="#222" stroke-width="0.55" fill="none" />
<circle cx="216.12" cy="336.6" r="0.8" fill="#222"/>
<path d="M216.12,337.85 L216.12,335.35 M215.04,337.23 L217.21,335.98 M215.04,335.98 L217.21,337.23 " stroke="#222" stroke-width="0.55" fill="none" />
<circle cx="219.28" cy="336.6" r="0.8" fill="#222"/>
<path d="M219.28,337.85 L219.28,335.35 M218.19,337.23 L220.36,335.98 M218.19,335.98 L220.36,337.23 " stroke="#222" stroke-width="0.55" fill="none" />
<circle cx="222.42" cy="336.6" r="0.8" fill="#222"/>
<path d="M222.42,337.85 L222.42,335.35 M221.34,337.23 L223.51,335.98 M221.34,335.98 L223.51,337.23 " stroke="#222" stroke-width="0.55" fill="none" />
<path d="M237.9,339.2 V337.3 H257.1 V339.2" stroke="#333" stroke-width="1" fill="none" />
<circle cx="244.35" cy="332.6" r="0.8" fill="#222"/>
<path d="M244.35,333.85 L244.35,331.35 M243.27,333.23 L245.43,331.98 M243.27,331.98 L245.43,333.23 " stroke="#222" stroke-width="0.55" fill="none" />
<circle cx="247.5" cy="332.6" r="0.8" fill="#222"/>
<path d="M247.5,333.85 L247.5,331.35 M246.42,333.23 L248.58,331.98 M246.42,331.98 L248.58,333.23 " stroke="#222" stroke-width="0.55" fill="none" />
<circle cx="250.65" cy="332.6" r="0.8" fill="#222"/>
<path d="M250.65,333.85 L250.65,331.35 M249.57,333.23 L251.73,331.98 M249.57,331.98 L251.73,333.23 " stroke="#222" stroke-width="0.55" fill="none" />
<path d="M237.9,349.6 V347.7 H247.5 V349.6" stroke="#333" stroke-width="1" fill="none" />
<circle cx="241.12" cy="342.9" r="0.8" fill="#222"/>
<path d="M241.12,344.15 L241.12,341.65 M240.04,343.52 L242.21,342.27 M240.04,342.27 L242.21,343.52 " stroke="#222" stroke-width="0.55" fill="none" />
<circle cx="244.28" cy="342.9" r="0.8" fill="#222"/>
<path d="M244.28,344.15 L244.28,341.65 M243.19,343.52 L245.36,342.27 M243.19,342.27 L245.36,343.52 " stroke="#222" stroke-width="0.55" fill="none" />
<text transform="translate(106.6,333) rotate(-90)" x="0" y="0" font-size="8.6" text-anchor="middle" class="cd" textLength="76" lengthAdjust="spacingAndGlyphs" fill="#000">% of cells (CD45+/CD7+)</text>
<rect x="237.2" y="287.2" width="9.9" height="3.8" fill="#a5002a" stroke="none" stroke-width="1" />
<text x="250.2" y="291.5" font-size="7.5" fill="#000" >21%</text>
<rect x="237.2" y="298.2" width="9.9" height="3.8" fill="#23417a" stroke="none" stroke-width="1" />
<text x="250.2" y="302.5" font-size="7.5" fill="#000" >3.5%</text>
<rect x="237.2" y="309.2" width="9.9" height="3.8" fill="#62a6e0" stroke="none" stroke-width="1" />
<text x="250.2" y="313.5" font-size="7.5" fill="#000" >1%</text>
<text x="270.1" y="187.5" font-size="11" font-weight="bold" fill="#000" style="stroke-width:0.5px">D</text>
<text x="292.7" y="189.3" font-size="9.3" font-weight="bold" fill="#000" style="stroke-width:0.25px">(i)</text>
<text x="291.4" y="307.5" font-size="9.3" font-weight="bold" fill="#000" style="stroke-width:0.25px">(ii)</text>
<path d="M349.5,271.6 L349.95,270.05 L350.59,267.86 L351.32,265.15 L352,262 L352.64,258.34 L353.28,254.15 L353.91,249.63 L354.5,245 L355.04,240.21 L355.53,235.19 L356.01,230.07 L356.5,225 L357,219.74 L357.5,214.31 L358,209.23 L358.5,205 L359.01,201.85 L359.53,199.47 L360.04,197.61 L360.5,196 L360.92,194.68 L361.3,193.75 L361.66,193.07 L362,192.5 L362.32,192.1 L362.61,191.9 L362.9,191.75 L363.2,191.5 L363.52,190.98 L363.86,190.31 L364.19,189.76 L364.5,189.6 L364.76,189.82 L365,190.29 L365.24,191.15 L365.5,192.5 L365.79,194.24 L366.09,196.36 L366.43,199.09 L366.8,202.7 L367.23,207.59 L367.71,213.52 L368.21,219.74 L368.7,225.5 L369.16,230.67 L369.61,235.62 L370.08,240.39 L370.6,245 L371.21,249.6 L371.89,254.14 L372.57,258.3 L373.2,261.8 L373.77,264.5 L374.31,266.57 L374.81,268.18 L375.3,269.5 L375.79,270.47 L376.28,271.03 L376.7,271.35 L377,271.6 Z" fill="#e5ad9d" fill-opacity="1.0" stroke="none"/>
<path d="M349.5,271.6 L349.95,270.05 L350.59,267.86 L351.32,265.15 L352,262 L352.64,258.34 L353.28,254.15 L353.91,249.63 L354.5,245 L355.04,240.21 L355.53,235.19 L356.01,230.07 L356.5,225 L357,219.74 L357.5,214.31 L358,209.23 L358.5,205 L359.01,201.85 L359.53,199.47 L360.04,197.61 L360.5,196 L360.92,194.68 L361.3,193.75 L361.66,193.07 L362,192.5 L362.32,192.1 L362.61,191.9 L362.9,191.75 L363.2,191.5 L363.52,190.98 L363.86,190.31 L364.19,189.76 L364.5,189.6 L364.76,189.82 L365,190.29 L365.24,191.15 L365.5,192.5 L365.79,194.24 L366.09,196.36 L366.43,199.09 L366.8,202.7 L367.23,207.59 L367.71,213.52 L368.21,219.74 L368.7,225.5 L369.16,230.67 L369.61,235.62 L370.08,240.39 L370.6,245 L371.21,249.6 L371.89,254.14 L372.57,258.3 L373.2,261.8 L373.77,264.5 L374.31,266.57 L374.81,268.18 L375.3,269.5 L375.79,270.47 L376.28,271.03 L376.7,271.35 L377,271.6" fill="none" stroke="#b7183f" stroke-width="1.0" stroke-linejoin="round"/>
<path d="M348,271.6 L348.55,270.05 L349.34,267.86 L350.21,265.15 L351,262 L351.67,258.34 L352.31,254.15 L352.92,249.63 L353.5,245 L354.04,240.21 L354.53,235.19 L355.01,230.07 L355.5,225 L356,219.79 L356.5,214.44 L357,209.37 L357.5,205 L358.02,201.41 L358.56,198.39 L359.07,195.92 L359.5,194 L359.83,192.8 L360.08,192.26 L360.29,192.05 L360.5,191.8 L360.69,191.44 L360.85,191.14 L361.01,190.97 L361.2,191 L361.42,190.94 L361.65,190.87 L361.91,191.36 L362.2,193 L362.54,196.12 L362.92,200.36 L363.32,205.24 L363.7,210.3 L364.04,215.61 L364.35,221.36 L364.69,227.25 L365.1,233 L365.59,238.78 L366.13,244.67 L366.73,250.22 L367.4,255 L368.18,258.88 L369.06,262.09 L369.95,264.75 L370.8,267 L371.65,268.78 L372.51,270.05 L373.27,270.95 L373.8,271.6 Z" fill="#7e8abb" fill-opacity="1.0" stroke="none"/>
<path d="M348,271.6 L348.55,270.05 L349.34,267.86 L350.21,265.15 L351,262 L351.67,258.34 L352.31,254.15 L352.92,249.63 L353.5,245 L354.04,240.21 L354.53,235.19 L355.01,230.07 L355.5,225 L356,219.79 L356.5,214.44 L357,209.37 L357.5,205 L358.02,201.41 L358.56,198.39 L359.07,195.92 L359.5,194 L359.83,192.8 L360.08,192.26 L360.29,192.05 L360.5,191.8 L360.69,191.44 L360.85,191.14 L361.01,190.97 L361.2,191 L361.42,190.94 L361.65,190.87 L361.91,191.36 L362.2,193 L362.54,196.12 L362.92,200.36 L363.32,205.24 L363.7,210.3 L364.04,215.61 L364.35,221.36 L364.69,227.25 L365.1,233 L365.59,238.78 L366.13,244.67 L366.73,250.22 L367.4,255 L368.18,258.88 L369.06,262.09 L369.95,264.75 L370.8,267 L371.65,268.78 L372.51,270.05 L373.27,270.95 L373.8,271.6" fill="none" stroke="#2c4787" stroke-width="0.9" stroke-linejoin="round"/>
<path d="M345.6,271.6 L346.04,271.06 L346.68,270.3 L347.37,269.29 L348,268 L348.54,266.4 L349.06,264.51 L349.55,262.37 L350,260 L350.39,257.33 L350.73,254.36 L351.05,251.27 L351.4,248.2 L351.79,245.14 L352.2,242.02 L352.61,238.94 L353,236 L353.37,233.33 L353.73,230.83 L354.08,228.3 L354.4,225.5 L354.7,222.24 L354.98,218.67 L355.25,215.15 L355.5,212 L355.74,209.34 L355.96,206.99 L356.18,204.81 L356.4,202.7 L356.62,200.59 L356.84,198.57 L357.07,196.68 L357.3,195 L357.54,193.45 L357.79,192.02 L358.05,190.88 L358.3,190.2 L358.55,190.21 L358.81,190.75 L359.06,191.42 L359.3,191.8 L359.53,191.48 L359.75,190.77 L359.97,190.38 L360.2,191 L360.43,192.79 L360.66,195.37 L360.91,198.7 L361.2,202.7 L361.52,207.62 L361.87,213.41 L362.26,219.55 L362.7,225.5 L363.23,231.44 L363.82,237.54 L364.43,243.29 L365,248.2 L365.49,251.97 L365.94,254.93 L366.42,257.47 L367,260 L367.75,262.69 L368.61,265.3 L369.49,267.61 L370.3,269.4 L371.08,270.51 L371.86,271.09 L372.53,271.37 L373,271.6 Z" fill="#c6d1ef" fill-opacity="0.88" stroke="none"/>
<path d="M345.6,271.6 L346.04,271.06 L346.68,270.3 L347.37,269.29 L348,268 L348.54,266.4 L349.06,264.51 L349.55,262.37 L350,260 L350.39,257.33 L350.73,254.36 L351.05,251.27 L351.4,248.2 L351.79,245.14 L352.2,242.02 L352.61,238.94 L353,236 L353.37,233.33 L353.73,230.83 L354.08,228.3 L354.4,225.5 L354.7,222.24 L354.98,218.67 L355.25,215.15 L355.5,212 L355.74,209.34 L355.96,206.99 L356.18,204.81 L356.4,202.7 L356.62,200.59 L356.84,198.57 L357.07,196.68 L357.3,195 L357.54,193.45 L357.79,192.02 L358.05,190.88 L358.3,190.2 L358.55,190.21 L358.81,190.75 L359.06,191.42 L359.3,191.8 L359.53,191.48 L359.75,190.77 L359.97,190.38 L360.2,191 L360.43,192.79 L360.66,195.37 L360.91,198.7 L361.2,202.7 L361.52,207.62 L361.87,213.41 L362.26,219.55 L362.7,225.5 L363.23,231.44 L363.82,237.54 L364.43,243.29 L365,248.2 L365.49,251.97 L365.94,254.93 L366.42,257.47 L367,260 L367.75,262.69 L368.61,265.3 L369.49,267.61 L370.3,269.4 L371.08,270.51 L371.86,271.09 L372.53,271.37 L373,271.6" fill="none" stroke="#66a5e6" stroke-width="0.9" stroke-linejoin="round"/>
<rect x="313.7" y="184.4" width="88.9" height="88.1" fill="none" stroke="#000" stroke-width="1.3" />
<path d="M373.5,394.5 L374.05,393.6 L374.84,392.38 L375.71,390.59 L376.5,388 L377.18,384.47 L377.84,380.16 L378.46,375.26 L379,370 L379.46,364.12 L379.84,357.62 L380.18,351.06 L380.5,345 L380.79,339.39 L381.04,334 L381.28,329.11 L381.5,325 L381.71,321.84 L381.91,319.44 L382.1,317.58 L382.3,316 L382.5,314.66 L382.69,313.69 L382.89,313.1 L383.1,312.9 L383.31,313.06 L383.53,313.59 L383.75,314.55 L384,316 L384.26,317.7 L384.52,319.69 L384.83,322.49 L385.2,326.6 L385.66,332.69 L386.19,340.31 L386.75,348.28 L387.3,355.4 L387.85,361.52 L388.41,367.22 L388.96,372.41 L389.5,377 L390.02,380.96 L390.54,384.33 L391.03,387.16 L391.5,389.5 L391.92,391.24 L392.31,392.39 L392.69,393.17 L393.1,393.8 L393.6,394.24 L394.15,394.42 L394.65,394.46 L395,394.5 Z" fill="#e5ad9d" fill-opacity="1.0" stroke="none"/>
<path d="M373.5,394.5 L374.05,393.6 L374.84,392.38 L375.71,390.59 L376.5,388 L377.18,384.47 L377.84,380.16 L378.46,375.26 L379,370 L379.46,364.12 L379.84,357.62 L380.18,351.06 L380.5,345 L380.79,339.39 L381.04,334 L381.28,329.11 L381.5,325 L381.71,321.84 L381.91,319.44 L382.1,317.58 L382.3,316 L382.5,314.66 L382.69,313.69 L382.89,313.1 L383.1,312.9 L383.31,313.06 L383.53,313.59 L383.75,314.55 L384,316 L384.26,317.7 L384.52,319.69 L384.83,322.49 L385.2,326.6 L385.66,332.69 L386.19,340.31 L386.75,348.28 L387.3,355.4 L387.85,361.52 L388.41,367.22 L388.96,372.41 L389.5,377 L390.02,380.96 L390.54,384.33 L391.03,387.16 L391.5,389.5 L391.92,391.24 L392.31,392.39 L392.69,393.17 L393.1,393.8 L393.6,394.24 L394.15,394.42 L394.65,394.46 L395,394.5" fill="none" stroke="#b7183f" stroke-width="1.0" stroke-linejoin="round"/>
<path d="M370,394.5 L370.54,393.87 L371.32,393.01 L372.19,391.74 L373,389.9 L373.73,387.63 L374.45,384.96 L375.15,381.54 L375.8,377 L376.41,370.92 L376.99,363.59 L377.52,355.77 L378,348.2 L378.41,340.49 L378.76,332.43 L379.08,325.06 L379.4,319.4 L379.73,315.9 L380.04,313.96 L380.34,313.02 L380.6,312.5 L380.8,312.36 L380.96,312.87 L381.12,313.95 L381.3,315.5 L381.5,317.29 L381.71,319.44 L381.96,322.39 L382.3,326.6 L382.77,332.72 L383.33,340.34 L383.93,348.29 L384.5,355.4 L385.04,361.55 L385.57,367.31 L386.09,372.51 L386.6,377 L387.09,380.63 L387.58,383.52 L388.04,385.91 L388.5,388 L388.94,389.8 L389.36,391.21 L389.77,392.31 L390.2,393.2 L390.69,393.83 L391.21,394.17 L391.67,394.36 L392,394.5 Z" fill="#7e8abb" fill-opacity="1.0" stroke="none"/>
<path d="M370,394.5 L370.54,393.87 L371.32,393.01 L372.19,391.74 L373,389.9 L373.73,387.63 L374.45,384.96 L375.15,381.54 L375.8,377 L376.41,370.92 L376.99,363.59 L377.52,355.77 L378,348.2 L378.41,340.49 L378.76,332.43 L379.08,325.06 L379.4,319.4 L379.73,315.9 L380.04,313.96 L380.34,313.02 L380.6,312.5 L380.8,312.36 L380.96,312.87 L381.12,313.95 L381.3,315.5 L381.5,317.29 L381.71,319.44 L381.96,322.39 L382.3,326.6 L382.77,332.72 L383.33,340.34 L383.93,348.29 L384.5,355.4 L385.04,361.55 L385.57,367.31 L386.09,372.51 L386.6,377 L387.09,380.63 L387.58,383.52 L388.04,385.91 L388.5,388 L388.94,389.8 L389.36,391.21 L389.77,392.31 L390.2,393.2 L390.69,393.83 L391.21,394.17 L391.67,394.36 L392,394.5" fill="none" stroke="#2c4787" stroke-width="0.9" stroke-linejoin="round"/>
<path d="M336.5,394.5 L336.85,394.32 L337.36,394.07 L337.93,393.8 L338.5,393.6 L339.06,393.45 L339.64,393.34 L340.23,393.28 L340.8,393.3 L341.24,393.46 L341.61,393.73 L342.11,394.01 L343,394.2 L344.43,394.28 L346.25,394.29 L348.19,394.26 L350,394.2 L351.66,394.1 L353.3,393.96 L354.84,393.79 L356.2,393.6 L357.31,393.45 L358.22,393.32 L359.07,393.08 L360,392.6 L361.04,392.04 L362.12,391.39 L363.21,390.33 L364.3,388.5 L365.41,385.7 L366.54,382.16 L367.62,378.16 L368.6,374 L369.44,369.71 L370.18,365.14 L370.86,360.36 L371.5,355.4 L372.12,349.98 L372.7,344.17 L373.23,338.58 L373.7,333.8 L374.09,330.03 L374.42,326.95 L374.71,324.34 L375,322 L375.29,319.8 L375.58,317.88 L375.84,316.42 L376.1,315.6 L376.34,315.63 L376.58,316.37 L376.79,317.44 L377,318.5 L377.18,319.27 L377.35,319.99 L377.52,321.1 L377.7,323 L377.9,325.79 L378.1,329.24 L378.33,333.33 L378.6,338 L378.94,343.71 L379.32,350.34 L379.72,356.94 L380.1,362.6 L380.45,367.04 L380.8,370.78 L381.15,374.02 L381.5,377 L381.82,379.67 L382.11,381.94 L382.47,384 L383,386 L383.78,388.09 L384.74,390.14 L385.74,391.94 L386.6,393.3 L387.34,394.06 L388.03,394.36 L388.6,394.43 L389,394.5 Z" fill="#c6d1ef" fill-opacity="0.72" stroke="none"/>
<path d="M336.5,394.5 L336.85,394.32 L337.36,394.07 L337.93,393.8 L338.5,393.6 L339.06,393.45 L339.64,393.34 L340.23,393.28 L340.8,393.3 L341.24,393.46 L341.61,393.73 L342.11,394.01 L343,394.2 L344.43,394.28 L346.25,394.29 L348.19,394.26 L350,394.2 L351.66,394.1 L353.3,393.96 L354.84,393.79 L356.2,393.6 L357.31,393.45 L358.22,393.32 L359.07,393.08 L360,392.6 L361.04,392.04 L362.12,391.39 L363.21,390.33 L364.3,388.5 L365.41,385.7 L366.54,382.16 L367.62,378.16 L368.6,374 L369.44,369.71 L370.18,365.14 L370.86,360.36 L371.5,355.4 L372.12,349.98 L372.7,344.17 L373.23,338.58 L373.7,333.8 L374.09,330.03 L374.42,326.95 L374.71,324.34 L375,322 L375.29,319.8 L375.58,317.88 L375.84,316.42 L376.1,315.6 L376.34,315.63 L376.58,316.37 L376.79,317.44 L377,318.5 L377.18,319.27 L377.35,319.99 L377.52,321.1 L377.7,323 L377.9,325.79 L378.1,329.24 L378.33,333.33 L378.6,338 L378.94,343.71 L379.32,350.34 L379.72,356.94 L380.1,362.6 L380.45,367.04 L380.8,370.78 L381.15,374.02 L381.5,377 L381.82,379.67 L382.11,381.94 L382.47,384 L383,386 L383.78,388.09 L384.74,390.14 L385.74,391.94 L386.6,393.3 L387.34,394.06 L388.03,394.36 L388.6,394.43 L389,394.5" fill="none" stroke="#66a5e6" stroke-width="0.9" stroke-linejoin="round"/>
<rect x="313.7" y="307.4" width="88.9" height="88.1" fill="none" stroke="#000" stroke-width="1.3" />
<rect x="319" y="189" width="6.3" height="6" fill="#e5ad9d" stroke="#b7183f" stroke-width="1.1" rx="0.8"/>
<text x="328.3" y="194.7" font-size="7.5" fill="#000" >21%</text>
<rect x="319" y="200" width="6.3" height="6" fill="#7e8abb" stroke="#2c4787" stroke-width="1.1" rx="0.8"/>
<text x="328.3" y="205.7" font-size="7.5" fill="#000" >3,5%</text>
<rect x="319" y="211" width="6.3" height="6" fill="#c6d1ef" stroke="#66a5e6" stroke-width="1.1" rx="0.8"/>
<text x="328.3" y="216.7" font-size="7.5" fill="#000" >1%</text>
<rect x="319" y="311.9" width="6.3" height="6" fill="#e5ad9d" stroke="#b7183f" stroke-width="1.1" rx="0.8"/>
<text x="328.3" y="317.6" font-size="7.5" fill="#000" >21%</text>
<rect x="319" y="322.9" width="6.3" height="6" fill="#7e8abb" stroke="#2c4787" stroke-width="1.1" rx="0.8"/>
<text x="328.3" y="328.6" font-size="7.5" fill="#000" >3,5%</text>
<rect x="319" y="333.9" width="6.3" height="6" fill="#c6d1ef" stroke="#66a5e6" stroke-width="1.1" rx="0.8"/>
<text x="328.3" y="339.6" font-size="7.5" fill="#000" >1%</text>
<line x1="314.8" y1="276.7" x2="334.5" y2="276.7" stroke="#111" stroke-width="1.1" />
<path d="M339,276.7 L334,278.85 L334,274.55 Z" fill="#111"/>
<text x="321.2" y="287.6" font-size="9" text-anchor="middle" textLength="12.1" lengthAdjust="spacingAndGlyphs" fill="#000" class="cd">MTG</text>
<line x1="314.2" y1="400.3" x2="333.6" y2="400.3" stroke="#111" stroke-width="1.1" />
<path d="M338.1,400.3 L333.1,402.45 L333.1,398.15 Z" fill="#111"/>
<text x="322.6" y="411.3" font-size="9" text-anchor="middle" textLength="16.8" lengthAdjust="spacingAndGlyphs" fill="#000" class="cd">TMRE</text>
<line x1="445.4" y1="183.3" x2="445.4" y2="273.82" stroke="#000" stroke-width="1.35" />
<line x1="444.9" y1="273.32" x2="513.2" y2="273.32" stroke="#000" stroke-width="1.35" />
<line x1="442.4" y1="273.32" x2="445.4" y2="273.32" stroke="#000" stroke-width="1.1" />
<text x="439.3" y="276.05" font-size="9.4" text-anchor="end" textLength="10.71" lengthAdjust="spacingAndGlyphs" fill="#000" >0.4</text>
<line x1="442.4" y1="247.58" x2="445.4" y2="247.58" stroke="#000" stroke-width="1.1" />
<text x="439.3" y="250.31" font-size="9.4" text-anchor="end" textLength="10.71" lengthAdjust="spacingAndGlyphs" fill="#000" >0.6</text>
<line x1="442.4" y1="221.84" x2="445.4" y2="221.84" stroke="#000" stroke-width="1.1" />
<text x="439.3" y="224.57" font-size="9.4" text-anchor="end" textLength="10.71" lengthAdjust="spacingAndGlyphs" fill="#000" >0.8</text>
<line x1="442.4" y1="196.1" x2="445.4" y2="196.1" stroke="#000" stroke-width="1.1" />
<text x="439.3" y="198.83" font-size="9.4" text-anchor="end" textLength="10.71" lengthAdjust="spacingAndGlyphs" fill="#000" >1.0</text>
<path d="M456.4,190.4 V188.5 H502.3 V190.4" stroke="#222" stroke-width="0.9" fill="none" />
<circle cx="477.62" cy="183.5" r="0.8" fill="#222"/>
<path d="M477.62,184.75 L477.62,182.25 M476.54,184.12 L478.71,182.88 M476.54,182.88 L478.71,184.12 " stroke="#222" stroke-width="0.55" fill="none" />
<circle cx="480.77" cy="183.5" r="0.8" fill="#222"/>
<path d="M480.77,184.75 L480.77,182.25 M479.69,184.12 L481.86,182.88 M479.69,182.88 L481.86,184.12 " stroke="#222" stroke-width="0.55" fill="none" />
<text x="456" y="283.72" font-size="8.2" text-anchor="middle" fill="#000" >21%</text>
<text x="455.5" y="292.82" font-size="8.2" text-anchor="middle" fill="#000" >ctl</text>
<text x="477.3" y="283.72" font-size="8.2" text-anchor="middle" fill="#000" >3.5%</text>
<text x="499.9" y="283.72" font-size="8.2" text-anchor="middle" fill="#000" >1%</text>
<text transform="translate(423.3,228.3) rotate(-90)" x="0" y="0" font-size="8.6" text-anchor="middle" class="cd" textLength="69.4" lengthAdjust="spacingAndGlyphs" fill="#000">MTG MFI reported to ctl</text>
<line x1="449.5" y1="196.1" x2="464.5" y2="196.1" stroke="#111" stroke-width="1" stroke-dasharray="1.8 1.1"/>
<line x1="471.5" y1="216.6" x2="485.4" y2="216.6" stroke="#111" stroke-width="1" stroke-dasharray="1.8 1.1"/>
<line x1="494.2" y1="228.6" x2="508.5" y2="228.6" stroke="#111" stroke-width="1" stroke-dasharray="1.8 1.1"/>
<circle cx="451.5" cy="196.1" r="1.27" fill="#fff" stroke="#2f5aa6" stroke-width="1.0"/>
<path d="M454,194.68 L455.36,197.05 L452.64,197.05 Z" fill="#ee9a1c"/>
<circle cx="456.2" cy="196.1" r="1.44" fill="#b3122f"/>
<circle cx="458.4" cy="196.1" r="1.44" fill="#b3122f"/>
<rect x="459.53" y="194.82" width="2.55" height="2.55" fill="#fff" stroke="#7b4596" stroke-width="1" />
<circle cx="479.2" cy="208.2" r="1.44" fill="#b3122f"/>
<circle cx="475.4" cy="216.6" r="1.27" fill="#fff" stroke="#2f5aa6" stroke-width="1.0"/>
<circle cx="481.5" cy="215.8" r="1.44" fill="#b3122f"/>
<path d="M479.2,217.78 L480.56,220.15 L477.84,220.15 Z" fill="#ee9a1c"/>
<rect x="482.12" y="216.92" width="2.55" height="2.55" fill="#fff" stroke="#7b4596" stroke-width="1" />
<circle cx="502.3" cy="223.8" r="1.44" fill="#b3122f"/>
<path d="M506.5,221.68 L507.86,224.05 L505.14,224.05 Z" fill="#ee9a1c"/>
<circle cx="502.3" cy="228.6" r="1.27" fill="#fff" stroke="#2f5aa6" stroke-width="1.0"/>
<rect x="504.93" y="228.72" width="2.55" height="2.55" fill="#fff" stroke="#7b4596" stroke-width="1" />
<circle cx="502.3" cy="233.1" r="1.44" fill="#b3122f"/>
<line x1="445.4" y1="306.1" x2="445.4" y2="396.12" stroke="#000" stroke-width="1.35" />
<line x1="444.9" y1="395.62" x2="513.2" y2="395.62" stroke="#000" stroke-width="1.35" />
<line x1="442.4" y1="395.62" x2="445.4" y2="395.62" stroke="#000" stroke-width="1.1" />
<text x="439.3" y="398.35" font-size="9.4" text-anchor="end" textLength="10.71" lengthAdjust="spacingAndGlyphs" fill="#000" >0.4</text>
<line x1="442.4" y1="369.88" x2="445.4" y2="369.88" stroke="#000" stroke-width="1.1" />
<text x="439.3" y="372.61" font-size="9.4" text-anchor="end" textLength="10.71" lengthAdjust="spacingAndGlyphs" fill="#000" >0.6</text>
<line x1="442.4" y1="344.14" x2="445.4" y2="344.14" stroke="#000" stroke-width="1.1" />
<text x="439.3" y="346.87" font-size="9.4" text-anchor="end" textLength="10.71" lengthAdjust="spacingAndGlyphs" fill="#000" >0.8</text>
<line x1="442.4" y1="318.4" x2="445.4" y2="318.4" stroke="#000" stroke-width="1.1" />
<text x="439.3" y="321.13" font-size="9.4" text-anchor="end" textLength="10.71" lengthAdjust="spacingAndGlyphs" fill="#000" >1.0</text>
<path d="M456.4,312.7 V310.8 H502.3 V312.7" stroke="#222" stroke-width="0.9" fill="none" />
<circle cx="477.62" cy="305.8" r="0.8" fill="#222"/>
<path d="M477.62,307.05 L477.62,304.55 M476.54,306.42 L478.71,305.17 M476.54,305.17 L478.71,306.42 " stroke="#222" stroke-width="0.55" fill="none" />
<circle cx="480.77" cy="305.8" r="0.8" fill="#222"/>
<path d="M480.77,307.05 L480.77,304.55 M479.69,306.42 L481.86,305.17 M479.69,305.17 L481.86,306.42 " stroke="#222" stroke-width="0.55" fill="none" />
<text x="456" y="406.02" font-size="8.2" text-anchor="middle" fill="#000" >21%</text>
<text x="455.5" y="415.12" font-size="8.2" text-anchor="middle" fill="#000" >ctl</text>
<text x="477.3" y="406.02" font-size="8.2" text-anchor="middle" fill="#000" >3.5%</text>
<text x="499.9" y="406.02" font-size="8.2" text-anchor="middle" fill="#000" >1%</text>
<text transform="translate(423.3,350.4) rotate(-90)" x="0" y="0" font-size="8.6" text-anchor="middle" class="cd" textLength="73.5" lengthAdjust="spacingAndGlyphs" fill="#000">TMRE MFI reported to ctl</text>
<line x1="449.5" y1="318.4" x2="464.5" y2="318.4" stroke="#111" stroke-width="1" stroke-dasharray="1.8 1.1"/>
<line x1="471.5" y1="332.7" x2="485.4" y2="332.7" stroke="#111" stroke-width="1" stroke-dasharray="1.8 1.1"/>
<line x1="494.1" y1="365.4" x2="509.4" y2="365.4" stroke="#111" stroke-width="1" stroke-dasharray="1.8 1.1"/>
<circle cx="451.5" cy="318.4" r="1.27" fill="#fff" stroke="#2f5aa6" stroke-width="1.0"/>
<path d="M454,316.98 L455.36,319.35 L452.64,319.35 Z" fill="#ee9a1c"/>
<circle cx="456.2" cy="318.4" r="1.44" fill="#b3122f"/>
<circle cx="458.4" cy="318.4" r="1.44" fill="#b3122f"/>
<rect x="459.53" y="317.12" width="2.55" height="2.55" fill="#fff" stroke="#7b4596" stroke-width="1" />
<circle cx="479.2" cy="328.1" r="1.44" fill="#b3122f"/>
<rect x="481.83" y="329.53" width="2.55" height="2.55" fill="#fff" stroke="#7b4596" stroke-width="1" />
<path d="M479.2,332.08 L480.56,334.45 L477.84,334.45 Z" fill="#ee9a1c"/>
<circle cx="479.2" cy="342.4" r="1.27" fill="#fff" stroke="#2f5aa6" stroke-width="1.0"/>
<circle cx="479.2" cy="349.2" r="1.44" fill="#b3122f"/>
<path d="M502,341.88 L503.36,344.25 L500.64,344.25 Z" fill="#ee9a1c"/>
<circle cx="502" cy="351" r="1.27" fill="#fff" stroke="#2f5aa6" stroke-width="1.0"/>
<circle cx="498.4" cy="365.4" r="1.44" fill="#b3122f"/>
<circle cx="502.4" cy="365.4" r="1.44" fill="#b3122f"/>
<rect x="500.73" y="376.33" width="2.55" height="2.55" fill="#fff" stroke="#7b4596" stroke-width="1" />
<text x="7" y="435.9" font-size="11" font-weight="bold" fill="#000" style="stroke-width:0.5px">E</text>
<line x1="59.8" y1="427.8" x2="59.8" y2="503.6" stroke="#000" stroke-width="1.35" />
<line x1="59.3" y1="503.1" x2="167.8" y2="503.1" stroke="#000" stroke-width="1.35" />
<line x1="77.7" y1="503.1" x2="77.7" y2="505.9" stroke="#000" stroke-width="1.1" />
<line x1="113.7" y1="503.1" x2="113.7" y2="505.9" stroke="#000" stroke-width="1.1" />
<line x1="149.8" y1="503.1" x2="149.8" y2="505.9" stroke="#000" stroke-width="1.1" />
<line x1="56.9" y1="503.1" x2="59.8" y2="503.1" stroke="#000" stroke-width="1.1" />
<text x="53.4" y="505.59" font-size="8.6" text-anchor="end" fill="#000" >0</text>
<line x1="56.9" y1="488.58" x2="59.8" y2="488.58" stroke="#000" stroke-width="1.1" />
<text x="53.4" y="491.07" font-size="8.6" text-anchor="end" fill="#000" >2</text>
<line x1="56.9" y1="474.06" x2="59.8" y2="474.06" stroke="#000" stroke-width="1.1" />
<text x="53.4" y="476.55" font-size="8.6" text-anchor="end" fill="#000" >4</text>
<line x1="56.9" y1="459.54" x2="59.8" y2="459.54" stroke="#000" stroke-width="1.1" />
<text x="53.4" y="462.03" font-size="8.6" text-anchor="end" fill="#000" >6</text>
<line x1="56.9" y1="445.02" x2="59.8" y2="445.02" stroke="#000" stroke-width="1.1" />
<text x="53.4" y="447.51" font-size="8.6" text-anchor="end" fill="#000" >8</text>
<line x1="56.9" y1="430.5" x2="59.8" y2="430.5" stroke="#000" stroke-width="1.1" />
<text x="53.4" y="432.99" font-size="8.6" text-anchor="end" fill="#000" >10</text>
<text x="77.8" y="516.2" font-size="8.2" text-anchor="middle" fill="#000" >21%</text>
<text x="113.8" y="516.2" font-size="8.2" text-anchor="middle" fill="#000" >3.5%</text>
<text x="150" y="516.2" font-size="8.2" text-anchor="middle" fill="#000" >1%</text>
<text transform="translate(39.6,465.4) rotate(-90)" x="0" y="0" font-size="8.6" text-anchor="middle" class="cd" textLength="71.7" lengthAdjust="spacingAndGlyphs" fill="#000">Lactate in medium (mM)</text>
<path d="M77.4,459 L112.1,442.1 L152.5,437.7" stroke="#2d4e9c" stroke-width="1" fill="none" />
<circle cx="75.3" cy="457.8" r="0.8" fill="#2d4e9c"/>
<circle cx="110.6" cy="441.5" r="0.7" fill="#2d4e9c"/>
<circle cx="113.7" cy="442.4" r="0.7" fill="#2d4e9c"/>
<circle cx="151" cy="437.1" r="0.7" fill="#2d4e9c"/>
<circle cx="154.1" cy="438" r="0.7" fill="#2d4e9c"/>
<path d="M77.4,464.3 L114,442.1 L152.5,432.5" stroke="#3c7d56" stroke-width="1" fill="none" />
<circle cx="75.3" cy="463.1" r="0.8" fill="#3c7d56"/>
<circle cx="112.5" cy="441.5" r="0.7" fill="#3c7d56"/>
<circle cx="115.6" cy="442.4" r="0.7" fill="#3c7d56"/>
<circle cx="151" cy="431.9" r="0.7" fill="#3c7d56"/>
<circle cx="154.1" cy="432.8" r="0.7" fill="#3c7d56"/>
<path d="M76.9,478.6 L113,466.2 L152.5,452.1" stroke="#c3243e" stroke-width="1" fill="none" />
<circle cx="75.3" cy="477.4" r="0.8" fill="#c3243e"/>
<circle cx="111.5" cy="465.6" r="0.7" fill="#c3243e"/>
<circle cx="114.6" cy="466.5" r="0.7" fill="#c3243e"/>
<circle cx="151" cy="451.5" r="0.7" fill="#c3243e"/>
<circle cx="154.1" cy="452.4" r="0.7" fill="#c3243e"/>
<line x1="168.3" y1="430.3" x2="176.7" y2="430.3" stroke="#2d4e9c" stroke-width="1" />
<circle cx="172.5" cy="430.3" r="0.8" fill="#2d4e9c"/>
<text x="179.6" y="432.7" font-size="7" textLength="26.4" lengthAdjust="spacingAndGlyphs" fill="#000" >T-ALL#2</text>
<line x1="168.3" y1="441" x2="176.7" y2="441" stroke="#3c7d56" stroke-width="1" />
<circle cx="172.5" cy="441" r="0.8" fill="#3c7d56"/>
<text x="179.6" y="443.4" font-size="7" textLength="26.4" lengthAdjust="spacingAndGlyphs" fill="#000" >T-ALL#6</text>
<line x1="168.3" y1="451.7" x2="176.7" y2="451.7" stroke="#c3243e" stroke-width="1" />
<circle cx="172.5" cy="451.7" r="0.8" fill="#c3243e"/>
<text x="179.6" y="454.1" font-size="7" textLength="26.4" lengthAdjust="spacingAndGlyphs" fill="#000" >T-ALL#1</text>
<text x="270" y="435.7" font-size="11" font-weight="bold" fill="#000" style="stroke-width:0.5px">F</text>
<line x1="338.1" y1="447.4" x2="338.1" y2="524.2" stroke="#000" stroke-width="1.35" />
<line x1="337.6" y1="523.7" x2="391.3" y2="523.7" stroke="#000" stroke-width="1.35" />
<line x1="335.2" y1="523.7" x2="338.1" y2="523.7" stroke="#000" stroke-width="1.1" />
<text x="332.6" y="526.02" font-size="8" text-anchor="end" fill="#000" >0.0</text>
<line x1="335.2" y1="505.2" x2="338.1" y2="505.2" stroke="#000" stroke-width="1.1" />
<text x="332.6" y="507.52" font-size="8" text-anchor="end" fill="#000" >0.5</text>
<line x1="335.2" y1="486.7" x2="338.1" y2="486.7" stroke="#000" stroke-width="1.1" />
<text x="332.6" y="489.02" font-size="8" text-anchor="end" fill="#000" >1.0</text>
<line x1="335.2" y1="468.2" x2="338.1" y2="468.2" stroke="#000" stroke-width="1.1" />
<text x="332.6" y="470.52" font-size="8" text-anchor="end" fill="#000" >1.5</text>
<line x1="335.2" y1="449.7" x2="338.1" y2="449.7" stroke="#000" stroke-width="1.1" />
<text x="332.6" y="452.02" font-size="8" text-anchor="end" fill="#000" >2.0</text>
<text x="352.2" y="435.8" font-size="9.3">HIF1<tspan font-family="Liberation Serif" font-size="10">α</tspan></text>
<line x1="341.4" y1="486.7" x2="352.8" y2="486.7" stroke="#c21e3f" stroke-width="1.2" />
<line x1="365.3" y1="481.6" x2="365.3" y2="484.9" stroke="#30477f" stroke-width="1" />
<line x1="365.3" y1="490.4" x2="365.3" y2="493.4" stroke="#30477f" stroke-width="1" />
<line x1="362.4" y1="481.6" x2="368.2" y2="481.6" stroke="#30477f" stroke-width="1" />
<line x1="362.4" y1="493.4" x2="368.2" y2="493.4" stroke="#30477f" stroke-width="1" />
<rect x="359.9" y="485.2" width="10.8" height="4.9" fill="#6b78a8" stroke="#4b5b92" stroke-width="0.6" />
<line x1="359.6" y1="487.5" x2="371" y2="487.5" stroke="#27407a" stroke-width="1.3" />
<line x1="383.05" y1="478.8" x2="383.05" y2="481.6" stroke="#6aaae6" stroke-width="1" />
<line x1="383.05" y1="486.5" x2="383.05" y2="493.4" stroke="#6aaae6" stroke-width="1" />
<line x1="380.35" y1="478.8" x2="385.75" y2="478.8" stroke="#6aaae6" stroke-width="1" />
<line x1="380.35" y1="493.4" x2="385.75" y2="493.4" stroke="#6aaae6" stroke-width="1" />
<rect x="377.7" y="481.9" width="10.7" height="4.3" fill="#c7dcf3" stroke="#a6c6ec" stroke-width="0.6" />
<line x1="377.4" y1="483.5" x2="388.7" y2="483.5" stroke="#6aaae6" stroke-width="1.3" />
<path d="M346.2,467.7 V466 H382.7 V467.7 M365,466 V467.7" stroke="#222" stroke-width="0.9" fill="none" />
<text x="365" y="461.6" font-size="7.2" text-anchor="middle" fill="#222" >ns</text>
<text x="349.8" y="534.8" font-size="8.2" text-anchor="middle" textLength="15.8" lengthAdjust="spacingAndGlyphs" fill="#000" >21%</text>
<text x="370" y="534.8" font-size="8.2" text-anchor="middle" textLength="17.4" lengthAdjust="spacingAndGlyphs" fill="#000" >3.5%</text>
<text x="385.1" y="534.8" font-size="8.2" text-anchor="middle" textLength="10.4" lengthAdjust="spacingAndGlyphs" fill="#000" >1%</text>
<text transform="translate(305.7,486.8) rotate(-90)" x="0" y="0" font-size="9" text-anchor="middle" class="cd" textLength="53.9" lengthAdjust="spacingAndGlyphs" fill="#000">Relative expression</text>
<text class="cd" transform="translate(316.2,485.7) rotate(-90)" x="0" y="0" font-size="9" text-anchor="middle" textLength="66.8" lengthAdjust="spacingAndGlyphs" fill="#000">vs normoxia (2<tspan font-size="6.3" dy="-2.9">-Δ Δ CT</tspan><tspan dy="2.9">)</tspan></text>
<line x1="445.6" y1="446.9" x2="445.6" y2="523.8" stroke="#000" stroke-width="1.35" />
<line x1="445.1" y1="523.3" x2="505.8" y2="523.3" stroke="#000" stroke-width="1.35" />
<line x1="442.7" y1="523.3" x2="445.6" y2="523.3" stroke="#000" stroke-width="1.1" />
<text x="439.8" y="525.62" font-size="8" text-anchor="end" fill="#000" >0</text>
<line x1="442.7" y1="504.67" x2="445.6" y2="504.67" stroke="#000" stroke-width="1.1" />
<text x="439.8" y="506.99" font-size="8" text-anchor="end" fill="#000" >10</text>
<line x1="442.7" y1="486.05" x2="445.6" y2="486.05" stroke="#000" stroke-width="1.1" />
<text x="439.8" y="488.37" font-size="8" text-anchor="end" fill="#000" >20</text>
<line x1="442.7" y1="467.42" x2="445.6" y2="467.42" stroke="#000" stroke-width="1.1" />
<text x="439.8" y="469.74" font-size="8" text-anchor="end" fill="#000" >30</text>
<line x1="442.7" y1="448.8" x2="445.6" y2="448.8" stroke="#000" stroke-width="1.1" />
<text x="439.8" y="451.12" font-size="8" text-anchor="end" fill="#000" >40</text>
<text x="475.4" y="436.2" font-size="9.3" text-anchor="middle" fill="#000" >VEGF</text>
<line x1="449.4" y1="521.7" x2="461.5" y2="521.7" stroke="#c21e3f" stroke-width="1.2" />
<line x1="475.55" y1="492.5" x2="475.55" y2="501.5" stroke="#30477f" stroke-width="1" />
<line x1="475.55" y1="518.1" x2="475.55" y2="519.4" stroke="#30477f" stroke-width="1" />
<line x1="472.35" y1="492.5" x2="478.75" y2="492.5" stroke="#30477f" stroke-width="1" />
<line x1="472.35" y1="519.4" x2="478.75" y2="519.4" stroke="#30477f" stroke-width="1" />
<rect x="469.9" y="501.8" width="11.3" height="16" fill="#6b78a8" stroke="#4b5b92" stroke-width="0.6" />
<line x1="469.6" y1="503.1" x2="481.5" y2="503.1" stroke="#27407a" stroke-width="1.3" />
<line x1="495.85" y1="449.8" x2="495.85" y2="466.9" stroke="#6aaae6" stroke-width="1" />
<line x1="495.85" y1="508.5" x2="495.85" y2="513.7" stroke="#6aaae6" stroke-width="1" />
<line x1="493.1" y1="449.8" x2="498.6" y2="449.8" stroke="#6aaae6" stroke-width="1" />
<line x1="493.1" y1="513.7" x2="498.6" y2="513.7" stroke="#6aaae6" stroke-width="1" />
<rect x="490.1" y="467.2" width="11.5" height="41" fill="#c7dcf3" stroke="#a6c6ec" stroke-width="0.6" />
<line x1="489.8" y1="494.8" x2="501.9" y2="494.8" stroke="#6aaae6" stroke-width="1.3" />
<path d="M454.8,448 V446.3 H495.6 V448" stroke="#222" stroke-width="0.9" fill="none" />
<circle cx="470.67" cy="443.4" r="0.8" fill="#222"/>
<path d="M470.67,444.65 L470.67,442.15 M469.59,444.02 L471.76,442.77 M469.59,442.77 L471.76,444.02 " stroke="#222" stroke-width="0.55" fill="none" />
<circle cx="473.82" cy="443.4" r="0.8" fill="#222"/>
<path d="M473.82,444.65 L473.82,442.15 M472.74,444.02 L474.91,442.77 M472.74,442.77 L474.91,444.02 " stroke="#222" stroke-width="0.55" fill="none" />
<circle cx="476.97" cy="443.4" r="0.8" fill="#222"/>
<path d="M476.97,444.65 L476.97,442.15 M475.89,444.02 L478.06,442.77 M475.89,442.77 L478.06,444.02 " stroke="#222" stroke-width="0.55" fill="none" />
<circle cx="480.12" cy="443.4" r="0.8" fill="#222"/>
<path d="M480.12,444.65 L480.12,442.15 M479.04,444.02 L481.21,442.77 M479.04,442.77 L481.21,444.02 " stroke="#222" stroke-width="0.55" fill="none" />
<text x="455.2" y="533.8" font-size="8.2" text-anchor="middle" fill="#000" >21%</text>
<text x="475.4" y="533.8" font-size="8.2" text-anchor="middle" fill="#000" >3.5%</text>
<text x="495.6" y="533.8" font-size="8.2" text-anchor="middle" fill="#000" >1%</text>
<text transform="translate(413.6,486.8) rotate(-90)" x="0" y="0" font-size="9" text-anchor="middle" class="cd" textLength="53.9" lengthAdjust="spacingAndGlyphs" fill="#000">Relative expression</text>
<text class="cd" transform="translate(425.5,486) rotate(-90)" x="0" y="0" font-size="9" text-anchor="middle" textLength="66.1" lengthAdjust="spacingAndGlyphs" fill="#000">vs normoxia (2<tspan font-size="6.3" dy="-2.9">-Δ Δ CT</tspan><tspan dy="2.9">)</tspan></text>
<line x1="338.1" y1="562.5" x2="338.1" y2="641.3" stroke="#000" stroke-width="1.35" />
<line x1="337.6" y1="640.8" x2="393.5" y2="640.8" stroke="#000" stroke-width="1.35" />
<line x1="335.2" y1="640.8" x2="338.1" y2="640.8" stroke="#000" stroke-width="1.1" />
<text x="332.4" y="643.12" font-size="8" text-anchor="end" fill="#000" >0</text>
<line x1="335.2" y1="621.6" x2="338.1" y2="621.6" stroke="#000" stroke-width="1.1" />
<text x="332.4" y="623.92" font-size="8" text-anchor="end" fill="#000" >2</text>
<line x1="335.2" y1="602.4" x2="338.1" y2="602.4" stroke="#000" stroke-width="1.1" />
<text x="332.4" y="604.72" font-size="8" text-anchor="end" fill="#000" >4</text>
<line x1="335.2" y1="583.2" x2="338.1" y2="583.2" stroke="#000" stroke-width="1.1" />
<text x="332.4" y="585.52" font-size="8" text-anchor="end" fill="#000" >6</text>
<line x1="335.2" y1="564" x2="338.1" y2="564" stroke="#000" stroke-width="1.1" />
<text x="332.4" y="566.32" font-size="8" text-anchor="end" fill="#000" >8</text>
<text x="367" y="553.5" font-size="9.3" text-anchor="middle" fill="#000" >Glut3</text>
<line x1="344.4" y1="631.7" x2="354" y2="631.7" stroke="#c21e3f" stroke-width="1.2" />
<line x1="367.15" y1="612.5" x2="367.15" y2="618.7" stroke="#30477f" stroke-width="1" />
<line x1="367.15" y1="624.6" x2="367.15" y2="627.5" stroke="#30477f" stroke-width="1" />
<line x1="364.05" y1="612.5" x2="370.25" y2="612.5" stroke="#30477f" stroke-width="1" />
<line x1="364.05" y1="627.5" x2="370.25" y2="627.5" stroke="#30477f" stroke-width="1" />
<rect x="361.5" y="619" width="11.3" height="5.3" fill="#6b78a8" stroke="#4b5b92" stroke-width="0.6" />
<line x1="361.2" y1="621.5" x2="373.1" y2="621.5" stroke="#27407a" stroke-width="1.3" />
<line x1="385.7" y1="577.5" x2="385.7" y2="594.2" stroke="#6aaae6" stroke-width="1" />
<line x1="385.7" y1="603.8" x2="385.7" y2="611.2" stroke="#6aaae6" stroke-width="1" />
<line x1="383.1" y1="577.5" x2="388.3" y2="577.5" stroke="#6aaae6" stroke-width="1" />
<line x1="383.1" y1="611.2" x2="388.3" y2="611.2" stroke="#6aaae6" stroke-width="1" />
<rect x="380.7" y="594.5" width="10" height="9" fill="#c7dcf3" stroke="#a6c6ec" stroke-width="0.6" />
<line x1="380.4" y1="600.6" x2="391" y2="600.6" stroke="#6aaae6" stroke-width="1.3" />
<path d="M347.3,570.4 V568.7 H386.2 V570.4" stroke="#222" stroke-width="0.9" fill="none" />
<circle cx="361.77" cy="565.2" r="0.8" fill="#222"/>
<path d="M361.77,566.45 L361.77,563.95 M360.69,565.83 L362.86,564.58 M360.69,564.58 L362.86,565.83 " stroke="#222" stroke-width="0.55" fill="none" />
<circle cx="364.92" cy="565.2" r="0.8" fill="#222"/>
<path d="M364.92,566.45 L364.92,563.95 M363.84,565.83 L366.01,564.58 M363.84,564.58 L366.01,565.83 " stroke="#222" stroke-width="0.55" fill="none" />
<circle cx="368.07" cy="565.2" r="0.8" fill="#222"/>
<path d="M368.07,566.45 L368.07,563.95 M366.99,565.83 L369.16,564.58 M366.99,564.58 L369.16,565.83 " stroke="#222" stroke-width="0.55" fill="none" />
<circle cx="371.22" cy="565.2" r="0.8" fill="#222"/>
<path d="M371.22,566.45 L371.22,563.95 M370.14,565.83 L372.31,564.58 M370.14,564.58 L372.31,565.83 " stroke="#222" stroke-width="0.55" fill="none" />
<text x="347.9" y="651.2" font-size="8.2" text-anchor="middle" fill="#000" >21%</text>
<text x="366.7" y="651.2" font-size="8.2" text-anchor="middle" fill="#000" >3.5%</text>
<text x="386" y="651.2" font-size="8.2" text-anchor="middle" fill="#000" >1%</text>
<text transform="translate(311.5,601.2) rotate(-90)" x="0" y="0" font-size="9" text-anchor="middle" class="cd" textLength="54" lengthAdjust="spacingAndGlyphs" fill="#000">Relative expression</text>
<text class="cd" transform="translate(322.9,601.5) rotate(-90)" x="0" y="0" font-size="9" text-anchor="middle" textLength="66.2" lengthAdjust="spacingAndGlyphs" fill="#000">vs normoxia (2<tspan font-size="6.3" dy="-2.9">-Δ Δ CT</tspan><tspan dy="2.9">)</tspan></text>
<line x1="445.6" y1="562.7" x2="445.6" y2="641.1" stroke="#000" stroke-width="1.35" />
<line x1="445.1" y1="640.6" x2="506.2" y2="640.6" stroke="#000" stroke-width="1.35" />
<line x1="442.7" y1="640.6" x2="445.6" y2="640.6" stroke="#000" stroke-width="1.1" />
<text x="439.4" y="642.92" font-size="8" text-anchor="end" fill="#000" >0</text>
<line x1="442.7" y1="615.4" x2="445.6" y2="615.4" stroke="#000" stroke-width="1.1" />
<text x="439.4" y="617.72" font-size="8" text-anchor="end" fill="#000" >2</text>
<line x1="442.7" y1="590.2" x2="445.6" y2="590.2" stroke="#000" stroke-width="1.1" />
<text x="439.4" y="592.52" font-size="8" text-anchor="end" fill="#000" >4</text>
<line x1="442.7" y1="565" x2="445.6" y2="565" stroke="#000" stroke-width="1.1" />
<text x="439.4" y="567.32" font-size="8" text-anchor="end" fill="#000" >6</text>
<text x="475.6" y="553.1" font-size="9.3" text-anchor="middle" fill="#000" >CXCR4</text>
<line x1="449.4" y1="628.5" x2="461.5" y2="628.5" stroke="#c21e3f" stroke-width="1.2" />
<line x1="475.65" y1="608.3" x2="475.65" y2="617.5" stroke="#30477f" stroke-width="1" />
<line x1="475.65" y1="624.2" x2="475.65" y2="626.5" stroke="#30477f" stroke-width="1" />
<line x1="472.45" y1="608.3" x2="478.85" y2="608.3" stroke="#30477f" stroke-width="1" />
<line x1="472.45" y1="626.5" x2="478.85" y2="626.5" stroke="#30477f" stroke-width="1" />
<rect x="469.5" y="617.8" width="12.3" height="6.1" fill="#6b78a8" stroke="#4b5b92" stroke-width="0.6" />
<line x1="469.2" y1="618.3" x2="482.1" y2="618.3" stroke="#27407a" stroke-width="1.3" />
<line x1="496.65" y1="569.4" x2="496.65" y2="591.5" stroke="#6aaae6" stroke-width="1" />
<line x1="496.65" y1="616" x2="496.65" y2="617.5" stroke="#6aaae6" stroke-width="1" />
<line x1="493.9" y1="569.4" x2="499.4" y2="569.4" stroke="#6aaae6" stroke-width="1" />
<line x1="493.9" y1="617.5" x2="499.4" y2="617.5" stroke="#6aaae6" stroke-width="1" />
<rect x="490.7" y="591.8" width="11.9" height="23.9" fill="#c7dcf3" stroke="#a6c6ec" stroke-width="0.6" />
<line x1="490.4" y1="608.7" x2="502.9" y2="608.7" stroke="#6aaae6" stroke-width="1.3" />
<path d="M454.8,565.7 V564 H495.6 V565.7" stroke="#222" stroke-width="0.9" fill="none" />
<circle cx="470.67" cy="560.2" r="0.8" fill="#222"/>
<path d="M470.67,561.45 L470.67,558.95 M469.59,560.83 L471.76,559.58 M469.59,559.58 L471.76,560.83 " stroke="#222" stroke-width="0.55" fill="none" />
<circle cx="473.82" cy="560.2" r="0.8" fill="#222"/>
<path d="M473.82,561.45 L473.82,558.95 M472.74,560.83 L474.91,559.58 M472.74,559.58 L474.91,560.83 " stroke="#222" stroke-width="0.55" fill="none" />
<circle cx="476.97" cy="560.2" r="0.8" fill="#222"/>
<path d="M476.97,561.45 L476.97,558.95 M475.89,560.83 L478.06,559.58 M475.89,559.58 L478.06,560.83 " stroke="#222" stroke-width="0.55" fill="none" />
<circle cx="480.12" cy="560.2" r="0.8" fill="#222"/>
<path d="M480.12,561.45 L480.12,558.95 M479.04,560.83 L481.21,559.58 M479.04,559.58 L481.21,560.83 " stroke="#222" stroke-width="0.55" fill="none" />
<text x="455.2" y="652.5" font-size="8.2" text-anchor="middle" fill="#000" >21%</text>
<text x="476.1" y="652.5" font-size="8.2" text-anchor="middle" fill="#000" >3.5%</text>
<text x="495.6" y="652.5" font-size="8.2" text-anchor="middle" fill="#000" >1%</text>
<text transform="translate(419,601.7) rotate(-90)" x="0" y="0" font-size="9" text-anchor="middle" class="cd" textLength="54" lengthAdjust="spacingAndGlyphs" fill="#000">Relative expression</text>
<text class="cd" transform="translate(429.6,602.8) rotate(-90)" x="0" y="0" font-size="9" text-anchor="middle" textLength="66.2" lengthAdjust="spacingAndGlyphs" fill="#000">vs normoxia (2<tspan font-size="6.3" dy="-2.9">-Δ Δ CT</tspan><tspan dy="2.9">)</tspan></text>
<rect x="0.5" y="0.5" width="518.8" height="659" fill="none" stroke="#000" stroke-width="1"/>
</svg>
</body></html>
